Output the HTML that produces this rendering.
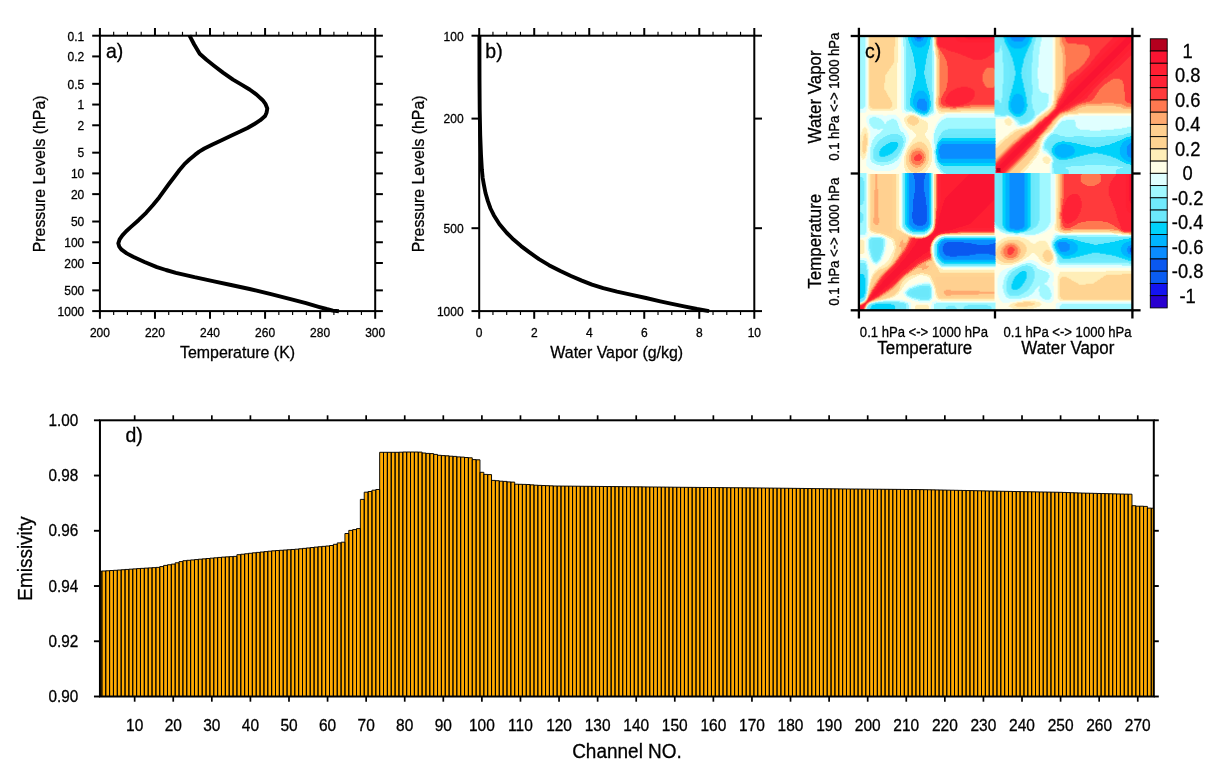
<!DOCTYPE html>
<html lang="en"><head><meta charset="utf-8"><title>Figure</title>
<style>html,body{margin:0;padding:0;background:#fff}svg{display:block}text{fill:#000;stroke:#000;stroke-width:0.28px}</style></head>
<body>
<svg width="1219" height="768" viewBox="0 0 1219 768" style="will-change:transform" font-family="'Liberation Sans', Arial, Helvetica, sans-serif">
<rect width="1219" height="768" fill="#fff"/>
<g id="pa">
<rect x="99.9" y="35.7" width="275.3" height="275.4" fill="none" stroke="#000" stroke-width="2"/>
<line x1="99.9" y1="35.7" x2="99.9" y2="28" stroke="#000" stroke-width="2"/>
<line x1="99.9" y1="311.1" x2="99.9" y2="318.8" stroke="#000" stroke-width="2"/>
<text transform="translate(99.9 337)" font-size="12" text-anchor="middle">200</text>
<line x1="113.67" y1="35.7" x2="113.67" y2="31.8" stroke="#000" stroke-width="1.15"/>
<line x1="113.67" y1="311.1" x2="113.67" y2="315" stroke="#000" stroke-width="1.15"/>
<line x1="127.43" y1="35.7" x2="127.43" y2="31.8" stroke="#000" stroke-width="1.15"/>
<line x1="127.43" y1="311.1" x2="127.43" y2="315" stroke="#000" stroke-width="1.15"/>
<line x1="141.19" y1="35.7" x2="141.19" y2="31.8" stroke="#000" stroke-width="1.15"/>
<line x1="141.19" y1="311.1" x2="141.19" y2="315" stroke="#000" stroke-width="1.15"/>
<line x1="154.96" y1="35.7" x2="154.96" y2="28" stroke="#000" stroke-width="2"/>
<line x1="154.96" y1="311.1" x2="154.96" y2="318.8" stroke="#000" stroke-width="2"/>
<text transform="translate(154.96 337)" font-size="12" text-anchor="middle">220</text>
<line x1="168.72" y1="35.7" x2="168.72" y2="31.8" stroke="#000" stroke-width="1.15"/>
<line x1="168.72" y1="311.1" x2="168.72" y2="315" stroke="#000" stroke-width="1.15"/>
<line x1="182.49" y1="35.7" x2="182.49" y2="31.8" stroke="#000" stroke-width="1.15"/>
<line x1="182.49" y1="311.1" x2="182.49" y2="315" stroke="#000" stroke-width="1.15"/>
<line x1="196.25" y1="35.7" x2="196.25" y2="31.8" stroke="#000" stroke-width="1.15"/>
<line x1="196.25" y1="311.1" x2="196.25" y2="315" stroke="#000" stroke-width="1.15"/>
<line x1="210.02" y1="35.7" x2="210.02" y2="28" stroke="#000" stroke-width="2"/>
<line x1="210.02" y1="311.1" x2="210.02" y2="318.8" stroke="#000" stroke-width="2"/>
<text transform="translate(210.02 337)" font-size="12" text-anchor="middle">240</text>
<line x1="223.78" y1="35.7" x2="223.78" y2="31.8" stroke="#000" stroke-width="1.15"/>
<line x1="223.78" y1="311.1" x2="223.78" y2="315" stroke="#000" stroke-width="1.15"/>
<line x1="237.55" y1="35.7" x2="237.55" y2="31.8" stroke="#000" stroke-width="1.15"/>
<line x1="237.55" y1="311.1" x2="237.55" y2="315" stroke="#000" stroke-width="1.15"/>
<line x1="251.31" y1="35.7" x2="251.31" y2="31.8" stroke="#000" stroke-width="1.15"/>
<line x1="251.31" y1="311.1" x2="251.31" y2="315" stroke="#000" stroke-width="1.15"/>
<line x1="265.08" y1="35.7" x2="265.08" y2="28" stroke="#000" stroke-width="2"/>
<line x1="265.08" y1="311.1" x2="265.08" y2="318.8" stroke="#000" stroke-width="2"/>
<text transform="translate(265.08 337)" font-size="12" text-anchor="middle">260</text>
<line x1="278.84" y1="35.7" x2="278.84" y2="31.8" stroke="#000" stroke-width="1.15"/>
<line x1="278.84" y1="311.1" x2="278.84" y2="315" stroke="#000" stroke-width="1.15"/>
<line x1="292.61" y1="35.7" x2="292.61" y2="31.8" stroke="#000" stroke-width="1.15"/>
<line x1="292.61" y1="311.1" x2="292.61" y2="315" stroke="#000" stroke-width="1.15"/>
<line x1="306.38" y1="35.7" x2="306.38" y2="31.8" stroke="#000" stroke-width="1.15"/>
<line x1="306.38" y1="311.1" x2="306.38" y2="315" stroke="#000" stroke-width="1.15"/>
<line x1="320.14" y1="35.7" x2="320.14" y2="28" stroke="#000" stroke-width="2"/>
<line x1="320.14" y1="311.1" x2="320.14" y2="318.8" stroke="#000" stroke-width="2"/>
<text transform="translate(320.14 337)" font-size="12" text-anchor="middle">280</text>
<line x1="333.9" y1="35.7" x2="333.9" y2="31.8" stroke="#000" stroke-width="1.15"/>
<line x1="333.9" y1="311.1" x2="333.9" y2="315" stroke="#000" stroke-width="1.15"/>
<line x1="347.67" y1="35.7" x2="347.67" y2="31.8" stroke="#000" stroke-width="1.15"/>
<line x1="347.67" y1="311.1" x2="347.67" y2="315" stroke="#000" stroke-width="1.15"/>
<line x1="361.43" y1="35.7" x2="361.43" y2="31.8" stroke="#000" stroke-width="1.15"/>
<line x1="361.43" y1="311.1" x2="361.43" y2="315" stroke="#000" stroke-width="1.15"/>
<line x1="375.2" y1="35.7" x2="375.2" y2="28" stroke="#000" stroke-width="2"/>
<line x1="375.2" y1="311.1" x2="375.2" y2="318.8" stroke="#000" stroke-width="2"/>
<text transform="translate(375.2 337)" font-size="12" text-anchor="middle">300</text>
<line x1="99.9" y1="35.7" x2="92.2" y2="35.7" stroke="#000" stroke-width="2"/>
<line x1="375.2" y1="35.7" x2="382.9" y2="35.7" stroke="#000" stroke-width="2"/>
<text transform="translate(84.3 40.5)" font-size="12" text-anchor="end">0.1</text>
<line x1="99.9" y1="56.43" x2="92.2" y2="56.43" stroke="#000" stroke-width="2"/>
<line x1="375.2" y1="56.43" x2="382.9" y2="56.43" stroke="#000" stroke-width="2"/>
<text transform="translate(84.3 61.23)" font-size="12" text-anchor="end">0.2</text>
<line x1="99.9" y1="83.82" x2="92.2" y2="83.82" stroke="#000" stroke-width="2"/>
<line x1="375.2" y1="83.82" x2="382.9" y2="83.82" stroke="#000" stroke-width="2"/>
<text transform="translate(84.3 88.62)" font-size="12" text-anchor="end">0.5</text>
<line x1="99.9" y1="104.55" x2="92.2" y2="104.55" stroke="#000" stroke-width="2"/>
<line x1="375.2" y1="104.55" x2="382.9" y2="104.55" stroke="#000" stroke-width="2"/>
<text transform="translate(84.3 109.35)" font-size="12" text-anchor="end">1</text>
<line x1="99.9" y1="125.28" x2="92.2" y2="125.28" stroke="#000" stroke-width="2"/>
<line x1="375.2" y1="125.28" x2="382.9" y2="125.28" stroke="#000" stroke-width="2"/>
<text transform="translate(84.3 130.08)" font-size="12" text-anchor="end">2</text>
<line x1="99.9" y1="152.67" x2="92.2" y2="152.67" stroke="#000" stroke-width="2"/>
<line x1="375.2" y1="152.67" x2="382.9" y2="152.67" stroke="#000" stroke-width="2"/>
<text transform="translate(84.3 157.47)" font-size="12" text-anchor="end">5</text>
<line x1="99.9" y1="173.4" x2="92.2" y2="173.4" stroke="#000" stroke-width="2"/>
<line x1="375.2" y1="173.4" x2="382.9" y2="173.4" stroke="#000" stroke-width="2"/>
<text transform="translate(84.3 178.2)" font-size="12" text-anchor="end">10</text>
<line x1="99.9" y1="194.13" x2="92.2" y2="194.13" stroke="#000" stroke-width="2"/>
<line x1="375.2" y1="194.13" x2="382.9" y2="194.13" stroke="#000" stroke-width="2"/>
<text transform="translate(84.3 198.93)" font-size="12" text-anchor="end">20</text>
<line x1="99.9" y1="221.52" x2="92.2" y2="221.52" stroke="#000" stroke-width="2"/>
<line x1="375.2" y1="221.52" x2="382.9" y2="221.52" stroke="#000" stroke-width="2"/>
<text transform="translate(84.3 226.32)" font-size="12" text-anchor="end">50</text>
<line x1="99.9" y1="242.25" x2="92.2" y2="242.25" stroke="#000" stroke-width="2"/>
<line x1="375.2" y1="242.25" x2="382.9" y2="242.25" stroke="#000" stroke-width="2"/>
<text transform="translate(84.3 247.05)" font-size="12" text-anchor="end">100</text>
<line x1="99.9" y1="262.98" x2="92.2" y2="262.98" stroke="#000" stroke-width="2"/>
<line x1="375.2" y1="262.98" x2="382.9" y2="262.98" stroke="#000" stroke-width="2"/>
<text transform="translate(84.3 267.78)" font-size="12" text-anchor="end">200</text>
<line x1="99.9" y1="290.37" x2="92.2" y2="290.37" stroke="#000" stroke-width="2"/>
<line x1="375.2" y1="290.37" x2="382.9" y2="290.37" stroke="#000" stroke-width="2"/>
<text transform="translate(84.3 295.17)" font-size="12" text-anchor="end">500</text>
<line x1="99.9" y1="311.1" x2="92.2" y2="311.1" stroke="#000" stroke-width="2"/>
<line x1="375.2" y1="311.1" x2="382.9" y2="311.1" stroke="#000" stroke-width="2"/>
<text transform="translate(84.3 315.9)" font-size="12" text-anchor="end">1000</text>
<text transform="translate(237.55 358)" font-size="15.95" text-anchor="middle">Temperature (K)</text>
<text transform="translate(44.6 173.9) rotate(-90)" font-size="15.85" text-anchor="middle">Pressure Levels (hPa)</text>
<text transform="translate(106 57.7) scale(1.06 1.14)" font-size="18.4">a)</text>
<polyline fill="none" stroke="#000" stroke-width="3.9" stroke-linejoin="round" points="189.4,35.4 194.2,44.5 199.7,53.8 206.5,59.8 214,65.7 223,72.6 233,79.6 241.5,84.6 249.6,89.5 256.6,94.6 262.7,100.2 265.6,104.2 267.3,108.5 266.6,112.4 265.1,116.1 260.3,120.2 254.4,124 247.5,128 240.1,131.6 230.5,136 221.1,140.4 212.5,144.4 204.4,148.5 199.2,151.6 194.9,154.9 189.4,159.5 184.2,164.4 179.5,170 175,176 168.7,184.3 159.2,197.4 153,205 146.1,212.8 138.5,220.2 130.7,227.1 126.2,231.2 122.4,235.4 119.6,239.4 118.3,243.3 119.2,246.6 121.6,249.7 126.7,253.4 133.1,256.8 144.5,262 156.9,267.1 166,270 175.9,272.8 194.5,277.2 214,281.3 231,285 249.6,289 271,294.2 292.5,299.7 306,303.2 318.6,306.8 326.5,309 332.9,310.6 338.9,311.2"/>
</g>
<g id="pb">
<rect x="479.2" y="35.7" width="275.1" height="275.4" fill="none" stroke="#000" stroke-width="2"/>
<line x1="479.2" y1="35.7" x2="479.2" y2="28" stroke="#000" stroke-width="2"/>
<line x1="479.2" y1="311.1" x2="479.2" y2="318.8" stroke="#000" stroke-width="2"/>
<text transform="translate(479.2 337)" font-size="12" text-anchor="middle">0</text>
<line x1="492.95" y1="35.7" x2="492.95" y2="31.8" stroke="#000" stroke-width="1.15"/>
<line x1="492.95" y1="311.1" x2="492.95" y2="315" stroke="#000" stroke-width="1.15"/>
<line x1="506.71" y1="35.7" x2="506.71" y2="31.8" stroke="#000" stroke-width="1.15"/>
<line x1="506.71" y1="311.1" x2="506.71" y2="315" stroke="#000" stroke-width="1.15"/>
<line x1="520.47" y1="35.7" x2="520.47" y2="31.8" stroke="#000" stroke-width="1.15"/>
<line x1="520.47" y1="311.1" x2="520.47" y2="315" stroke="#000" stroke-width="1.15"/>
<line x1="534.22" y1="35.7" x2="534.22" y2="28" stroke="#000" stroke-width="2"/>
<line x1="534.22" y1="311.1" x2="534.22" y2="318.8" stroke="#000" stroke-width="2"/>
<text transform="translate(534.22 337)" font-size="12" text-anchor="middle">2</text>
<line x1="547.98" y1="35.7" x2="547.98" y2="31.8" stroke="#000" stroke-width="1.15"/>
<line x1="547.98" y1="311.1" x2="547.98" y2="315" stroke="#000" stroke-width="1.15"/>
<line x1="561.73" y1="35.7" x2="561.73" y2="31.8" stroke="#000" stroke-width="1.15"/>
<line x1="561.73" y1="311.1" x2="561.73" y2="315" stroke="#000" stroke-width="1.15"/>
<line x1="575.49" y1="35.7" x2="575.49" y2="31.8" stroke="#000" stroke-width="1.15"/>
<line x1="575.49" y1="311.1" x2="575.49" y2="315" stroke="#000" stroke-width="1.15"/>
<line x1="589.24" y1="35.7" x2="589.24" y2="28" stroke="#000" stroke-width="2"/>
<line x1="589.24" y1="311.1" x2="589.24" y2="318.8" stroke="#000" stroke-width="2"/>
<text transform="translate(589.24 337)" font-size="12" text-anchor="middle">4</text>
<line x1="603" y1="35.7" x2="603" y2="31.8" stroke="#000" stroke-width="1.15"/>
<line x1="603" y1="311.1" x2="603" y2="315" stroke="#000" stroke-width="1.15"/>
<line x1="616.75" y1="35.7" x2="616.75" y2="31.8" stroke="#000" stroke-width="1.15"/>
<line x1="616.75" y1="311.1" x2="616.75" y2="315" stroke="#000" stroke-width="1.15"/>
<line x1="630.5" y1="35.7" x2="630.5" y2="31.8" stroke="#000" stroke-width="1.15"/>
<line x1="630.5" y1="311.1" x2="630.5" y2="315" stroke="#000" stroke-width="1.15"/>
<line x1="644.26" y1="35.7" x2="644.26" y2="28" stroke="#000" stroke-width="2"/>
<line x1="644.26" y1="311.1" x2="644.26" y2="318.8" stroke="#000" stroke-width="2"/>
<text transform="translate(644.26 337)" font-size="12" text-anchor="middle">6</text>
<line x1="658.01" y1="35.7" x2="658.01" y2="31.8" stroke="#000" stroke-width="1.15"/>
<line x1="658.01" y1="311.1" x2="658.01" y2="315" stroke="#000" stroke-width="1.15"/>
<line x1="671.77" y1="35.7" x2="671.77" y2="31.8" stroke="#000" stroke-width="1.15"/>
<line x1="671.77" y1="311.1" x2="671.77" y2="315" stroke="#000" stroke-width="1.15"/>
<line x1="685.52" y1="35.7" x2="685.52" y2="31.8" stroke="#000" stroke-width="1.15"/>
<line x1="685.52" y1="311.1" x2="685.52" y2="315" stroke="#000" stroke-width="1.15"/>
<line x1="699.28" y1="35.7" x2="699.28" y2="28" stroke="#000" stroke-width="2"/>
<line x1="699.28" y1="311.1" x2="699.28" y2="318.8" stroke="#000" stroke-width="2"/>
<text transform="translate(699.28 337)" font-size="12" text-anchor="middle">8</text>
<line x1="713.03" y1="35.7" x2="713.03" y2="31.8" stroke="#000" stroke-width="1.15"/>
<line x1="713.03" y1="311.1" x2="713.03" y2="315" stroke="#000" stroke-width="1.15"/>
<line x1="726.79" y1="35.7" x2="726.79" y2="31.8" stroke="#000" stroke-width="1.15"/>
<line x1="726.79" y1="311.1" x2="726.79" y2="315" stroke="#000" stroke-width="1.15"/>
<line x1="740.54" y1="35.7" x2="740.54" y2="31.8" stroke="#000" stroke-width="1.15"/>
<line x1="740.54" y1="311.1" x2="740.54" y2="315" stroke="#000" stroke-width="1.15"/>
<line x1="754.3" y1="35.7" x2="754.3" y2="28" stroke="#000" stroke-width="2"/>
<line x1="754.3" y1="311.1" x2="754.3" y2="318.8" stroke="#000" stroke-width="2"/>
<text transform="translate(754.3 337)" font-size="12" text-anchor="middle">10</text>
<line x1="479.2" y1="35.7" x2="471.5" y2="35.7" stroke="#000" stroke-width="2"/>
<line x1="754.3" y1="35.7" x2="762" y2="35.7" stroke="#000" stroke-width="2"/>
<text transform="translate(463.6 40.5)" font-size="12" text-anchor="end">100</text>
<line x1="479.2" y1="118.6" x2="471.5" y2="118.6" stroke="#000" stroke-width="2"/>
<line x1="754.3" y1="118.6" x2="762" y2="118.6" stroke="#000" stroke-width="2"/>
<text transform="translate(463.6 123.4)" font-size="12" text-anchor="end">200</text>
<line x1="479.2" y1="228.2" x2="471.5" y2="228.2" stroke="#000" stroke-width="2"/>
<line x1="754.3" y1="228.2" x2="762" y2="228.2" stroke="#000" stroke-width="2"/>
<text transform="translate(463.6 233)" font-size="12" text-anchor="end">500</text>
<line x1="479.2" y1="311.1" x2="471.5" y2="311.1" stroke="#000" stroke-width="2"/>
<line x1="754.3" y1="311.1" x2="762" y2="311.1" stroke="#000" stroke-width="2"/>
<text transform="translate(463.6 315.9)" font-size="12" text-anchor="end">1000</text>
<text transform="translate(616.75 358)" font-size="15.95" text-anchor="middle">Water Vapor (g/kg)</text>
<text transform="translate(424.1 173.9) rotate(-90)" font-size="15.85" text-anchor="middle">Pressure Levels (hPa)</text>
<text transform="translate(485.3 57.7) scale(1.06 1.14)" font-size="18.4">b)</text>
<polyline fill="none" stroke="#000" stroke-width="3.9" stroke-linejoin="round" points="479.4,35.4 479.5,80 479.7,110 480.2,135 481,155 481.9,170 482.7,178 483.8,184.3 485.5,193 487.8,200.9 490.5,208.5 493.8,215.2 499.5,224.2 506.9,233 513.5,239.6 521.1,246.1 529.5,252.4 539,259.2 549,265.2 560.4,271.1 571,276 581.8,280.6 592,284.6 603.2,288.2 617,291.7 631.8,294.9 646,298 660.3,301.3 672,303.8 684.1,306.3 697,309 709.1,311.2"/>
</g>
<g id="pc">
<g fill="none" stroke-width="1.90">
<path stroke="#b4001e" d="M995.5 172.0h6.0M995.5 171.0h6.0M995.5 170.0h6.0M995.5 169.0h6.0M995.5 168.0h6.0"/>
<path stroke="#fa1432" d="M858.4 309.8h4.0M858.4 308.8h5.0M858.4 307.8h5.0M859.4 306.8h5.0M861.4 305.8h4.0M862.4 304.8h3.0M864.4 303.8h2.0M867.3 300.8h2.0M868.3 299.8h3.0M868.3 298.8h4.0M869.3 297.8h5.0M870.3 296.8h5.0M870.3 295.8h7.0M871.3 294.8h7.0M872.3 293.8h7.0M872.3 292.8h8.0M873.3 291.8h8.9M874.3 290.8h8.9M875.3 289.8h8.9M876.3 288.8h8.9M876.3 287.8h9.9M877.3 286.8h10.9M878.3 285.8h10.9M879.3 284.8h10.9M880.3 283.8h10.9M881.2 282.8h10.9M881.2 281.8h11.9M882.2 280.8h11.9M883.2 279.8h11.9M884.2 278.8h11.9M885.2 277.8h11.9M886.2 276.8h11.9M887.2 275.9h11.9M888.2 274.9h11.9M889.2 273.9h11.9M890.2 272.9h11.9M891.2 271.9h11.9M892.2 270.9h11.9M893.2 269.9h11.9M894.2 268.9h12.9M895.2 267.9h12.9M896.2 266.9h12.9M897.1 265.9h12.9M898.1 264.9h12.9M899.1 263.9h12.9M899.1 262.9h14.9M900.1 261.9h14.9M901.1 260.9h14.9M902.1 259.9h14.9M903.1 258.9h15.9M904.1 257.9h15.9M905.1 256.9h16.9M905.1 255.9h17.9M906.1 254.9h17.9M907.1 253.9h18.9M908.1 252.9h19.9M909.1 251.9h19.9M909.1 250.9h21.9M910.1 249.9h20.9M911.1 248.9h19.9M911.1 247.9h19.9M912.0 246.9h18.9M913.0 245.9h17.9M914.0 244.9h17.9M914.0 243.9h17.9M915.0 242.9h16.9M915.0 241.9h17.9M916.0 240.9h16.9M917.0 239.9h16.9M917.0 238.9h16.9M923.0 237.9h11.9M926.0 236.9h8.9M927.9 235.9h8.0M929.9 234.9h7.0M931.9 233.9h7.0M932.9 232.9h8.0M933.9 231.9h10.9M933.9 230.9h15.9M934.9 229.9h18.9M934.9 228.9h21.9M935.9 227.9h23.8M935.9 226.9h27.8M935.9 225.9h30.8M935.9 224.9h33.8M936.9 223.9h34.8M936.9 222.9h35.8M936.9 221.9h36.8M936.9 220.9h37.8M936.9 219.9h38.8M937.9 218.9h38.8M937.9 217.9h39.7M937.9 216.9h40.7M937.9 215.9h41.7M938.9 214.9h41.7M938.9 213.9h42.7M938.9 212.9h43.7M939.9 211.9h43.7M939.9 210.9h44.7M939.9 209.9h45.7M940.9 208.9h45.7M940.9 207.9h46.7M940.9 207.0h47.7M940.9 206.0h48.7M941.8 205.0h48.7M941.8 204.0h49.7M1129.9 204.0h3.0M941.8 203.0h50.7M1128.9 203.0h4.0M942.8 202.0h50.7M1128.9 202.0h4.0M942.8 201.0h51.7M1127.9 201.0h5.0M942.8 200.0h52.7M1127.9 200.0h5.0M943.8 199.0h51.7M1127.9 199.0h5.0M943.8 198.0h51.7M1127.9 198.0h5.0M944.8 197.0h50.7M1127.9 197.0h5.0M945.8 196.0h49.7M1127.9 196.0h5.0M946.8 195.0h48.7M1127.9 195.0h5.0M947.8 194.0h47.7M1127.9 194.0h5.0M948.8 193.0h46.7M1127.9 193.0h5.0M949.8 192.0h45.7M1127.9 192.0h5.0M950.8 191.0h44.7M1127.9 191.0h5.0M951.8 190.0h43.7M1127.9 190.0h5.0M952.8 189.0h42.7M1127.9 189.0h5.0M953.8 188.0h41.7M1127.9 188.0h5.0M954.8 187.0h40.7M1127.9 187.0h5.0M955.8 186.0h39.7M1127.9 186.0h5.0M956.7 185.0h38.8M1127.9 185.0h5.0M957.7 184.0h37.8M1127.9 184.0h5.0M958.7 183.0h36.8M1127.9 183.0h5.0M959.7 182.0h35.8M1127.9 182.0h5.0M960.7 181.0h34.8M1127.9 181.0h5.0M961.7 180.0h33.8M1127.9 180.0h5.0M962.7 179.0h32.8M1127.9 179.0h5.0M963.7 178.0h31.8M1127.9 178.0h5.0M964.7 177.0h30.8M1127.9 177.0h5.0M965.7 176.0h29.8M1127.9 176.0h5.0M966.7 175.0h28.8M1127.9 175.0h5.0M967.7 174.0h27.8M1127.9 174.0h5.0M994.5 173.0h8.0M994.5 172.0h2.0M1000.5 172.0h2.0M994.5 171.0h2.0M1000.5 171.0h2.0M994.5 170.0h2.0M1000.5 170.0h3.0M994.5 169.0h2.0M1000.5 169.0h4.0M994.5 168.0h2.0M1000.5 168.0h5.0M995.5 167.0h11.0M997.5 166.0h10.0M998.5 165.0h10.0M999.5 164.0h10.0M1000.5 163.0h10.0M1001.5 162.0h10.0M1002.5 161.0h10.0M1003.5 160.0h10.0M1004.5 158.9h10.0M1005.5 157.9h10.0M1006.5 156.9h10.0M1007.5 155.9h10.0M1008.5 154.9h10.0M1009.5 153.9h10.0M1010.5 152.9h10.0M1011.5 151.9h10.0M1012.6 150.9h10.0M1013.6 149.9h10.0M1014.6 148.9h10.0M1015.6 147.9h10.0M1016.6 146.9h10.0M1017.6 145.9h10.0M1018.6 144.9h10.0M1019.6 143.9h10.0M1020.6 142.9h10.0M1021.6 141.9h10.0M1022.6 140.9h10.0M1023.6 139.9h9.0M1024.6 138.9h9.0M1025.6 137.9h9.0M1026.6 136.9h9.0M1028.6 135.9h8.0M1029.6 134.9h8.0M1030.6 133.9h8.0M1031.6 132.9h8.0M1032.6 131.8h8.0M1033.6 130.8h8.0M1034.6 129.8h8.0M1035.6 128.8h8.0M1036.6 127.8h8.0M1037.6 126.8h7.0M1038.6 125.8h7.0M1039.6 124.8h7.0M1041.6 123.8h6.0M1042.6 122.8h6.0M1043.6 121.8h6.0M1044.6 120.8h6.0M1045.6 119.8h6.0M1046.7 118.8h6.0M1047.7 117.8h6.0M1048.7 116.8h6.0M1049.7 115.8h5.0M1050.7 114.8h5.0M1052.7 113.8h5.0M1053.7 112.8h5.0M1053.7 111.8h6.0M1054.7 110.8h6.0M1055.7 109.8h6.0M1056.7 108.8h7.0M1057.7 107.8h7.0M1058.7 106.8h7.0M1058.7 105.8h8.0M1059.7 104.8h9.0M1060.7 103.7h9.0M1061.7 102.7h9.0M1062.7 101.7h10.0M1062.7 100.7h11.0M1063.7 99.7h11.0M1064.7 98.7h11.0M1065.7 97.7h11.0M1065.7 96.7h12.0M1066.7 95.7h12.0M1067.7 94.7h12.0M1068.7 93.7h12.0M1069.7 92.7h12.0M1070.7 91.7h12.0M1071.7 90.7h12.0M1072.7 89.7h12.0M1073.7 88.7h12.0M1074.7 87.7h12.0M1075.7 86.7h12.0M1076.7 85.7h12.0M1077.7 84.7h12.0M1078.7 83.7h12.0M1079.7 82.7h12.0M1080.8 81.7h12.0M1081.8 80.7h12.0M1082.8 79.7h12.0M1083.8 78.7h12.0M1084.8 77.7h12.0M1085.8 76.6h12.0M1086.8 75.6h12.0M1087.8 74.6h12.0M1088.8 73.6h12.0M1089.8 72.6h12.0M1090.8 71.6h12.0M1091.8 70.6h12.0M1092.8 69.6h12.0M1093.8 68.6h12.0M1094.8 67.6h12.0M1095.8 66.6h12.0M1096.8 65.6h12.0M1097.8 64.6h12.0M1098.8 63.6h12.0M1099.8 62.6h12.0M1100.8 61.6h12.0M1101.8 60.6h12.0M1102.8 59.6h12.0M1103.8 58.6h12.0M1104.8 57.6h12.0M1105.8 56.6h12.0M1106.8 55.6h12.0M1107.8 54.6h12.0M1108.8 53.6h12.0M1109.8 52.6h12.0M1110.8 51.6h12.0M1111.8 50.6h12.0M1112.8 49.5h12.0M1113.8 48.5h12.0M1114.9 47.5h12.0M1115.9 46.5h12.0M1116.9 45.5h12.0M1117.9 44.5h12.0M1118.9 43.5h12.0M1119.9 42.5h12.0M1120.9 41.5h12.0M1121.9 40.5h11.0M966.7 39.5h28.8M1122.9 39.5h10.0M964.7 38.5h30.8M1123.9 38.5h9.0M963.7 37.5h31.8M1124.9 37.5h8.0M963.7 36.5h31.8M1125.9 36.5h7.0"/>
<path stroke="#ff1e32" d="M861.4 309.8h2.0M862.4 308.8h2.0M862.4 307.8h2.0M858.4 306.8h2.0M863.4 306.8h2.0M859.4 305.8h3.0M864.4 305.8h2.0M861.4 304.8h2.0M864.4 304.8h2.0M862.4 303.8h3.0M865.4 303.8h2.0M864.4 302.8h4.0M865.4 301.8h4.0M866.3 300.8h2.0M868.3 300.8h3.0M867.3 299.8h2.0M870.3 299.8h2.0M867.3 298.8h2.0M871.3 298.8h3.0M868.3 297.8h2.0M873.3 297.8h3.0M869.3 296.8h2.0M874.3 296.8h3.0M869.3 295.8h2.0M876.3 295.8h3.0M870.3 294.8h2.0M877.3 294.8h3.0M870.3 293.8h3.0M878.3 293.8h3.0M871.3 292.8h2.0M879.3 292.8h4.0M872.3 291.8h2.0M881.2 291.8h3.0M872.3 290.8h3.0M882.2 290.8h3.0M873.3 289.8h3.0M883.2 289.8h3.0M874.3 288.8h3.0M884.2 288.8h4.0M875.3 287.8h2.0M885.2 287.8h4.0M875.3 286.8h3.0M887.2 286.8h3.0M876.3 285.8h3.0M888.2 285.8h3.0M877.3 284.8h3.0M889.2 284.8h3.0M878.3 283.8h3.0M890.2 283.8h4.0M879.3 282.8h3.0M891.2 282.8h4.0M879.3 281.8h3.0M892.2 281.8h4.0M880.3 280.8h3.0M893.2 280.8h4.0M881.2 279.8h3.0M894.2 279.8h4.0M882.2 278.8h3.0M895.2 278.8h4.0M883.2 277.8h3.0M896.2 277.8h4.0M884.2 276.8h3.0M897.1 276.8h4.0M884.2 275.9h4.0M898.1 275.9h4.0M885.2 274.9h4.0M899.1 274.9h4.0M886.2 273.9h4.0M900.1 273.9h4.0M887.2 272.9h4.0M901.1 272.9h4.0M888.2 271.9h4.0M902.1 271.9h4.0M889.2 270.9h4.0M903.1 270.9h4.0M890.2 269.9h4.0M904.1 269.9h4.0M891.2 268.9h4.0M906.1 268.9h4.0M892.2 267.9h4.0M907.1 267.9h4.0M893.2 266.9h4.0M908.1 266.9h4.0M894.2 265.9h4.0M909.1 265.9h4.0M895.2 264.9h4.0M910.1 264.9h5.0M896.2 263.9h4.0M911.1 263.9h5.0M897.1 262.9h3.0M913.0 262.9h4.0M898.1 261.9h3.0M914.0 261.9h4.0M899.1 260.9h3.0M915.0 260.9h5.0M899.1 259.9h4.0M916.0 259.9h5.0M900.1 258.9h4.0M918.0 258.9h5.0M901.1 257.9h4.0M919.0 257.9h6.0M902.1 256.9h4.0M921.0 256.9h5.0M903.1 255.9h3.0M922.0 255.9h6.0M903.1 254.9h4.0M923.0 254.9h7.0M904.1 253.9h4.0M925.0 253.9h6.0M905.1 252.9h4.0M926.9 252.9h4.0M906.1 251.9h4.0M927.9 251.9h3.0M907.1 250.9h3.0M907.1 249.9h4.0M908.1 248.9h4.0M909.1 247.9h3.0M909.1 246.9h4.0M910.1 245.9h4.0M929.9 245.9h2.0M910.1 244.9h5.0M911.1 243.9h4.0M912.0 242.9h4.0M912.0 241.9h4.0M913.0 240.9h4.0M913.0 239.9h5.0M914.0 238.9h4.0M932.9 238.9h2.0M922.0 237.9h2.0M933.9 236.9h2.0M934.9 235.9h2.0M928.9 234.9h2.0M935.9 234.9h3.0M930.9 233.9h2.0M937.9 233.9h3.0M931.9 232.9h2.0M939.9 232.9h5.0M932.9 231.9h2.0M943.8 231.9h8.0M932.9 230.9h2.0M948.8 230.9h8.0M933.9 229.9h2.0M952.8 229.9h10.9M933.9 228.9h2.0M955.8 228.9h11.9M934.9 227.9h2.0M958.7 227.9h36.8M934.9 226.9h2.0M962.7 226.9h32.8M934.9 225.9h2.0M965.7 225.9h29.8M934.9 224.9h2.0M968.7 224.9h26.8M935.9 223.9h2.0M970.7 223.9h24.8M935.9 222.9h2.0M971.7 222.9h23.8M935.9 221.9h2.0M972.6 221.9h22.9M935.9 220.9h2.0M973.6 220.9h21.9M935.9 219.9h2.0M974.6 219.9h20.9M935.9 218.9h3.0M975.6 218.9h19.9M935.9 217.9h3.0M976.6 217.9h18.9M936.9 216.9h2.0M977.6 216.9h17.9M936.9 215.9h2.0M978.6 215.9h16.9M936.9 214.9h3.0M979.6 214.9h15.9M936.9 213.9h3.0M980.6 213.9h14.9M1129.9 213.9h3.0M936.9 212.9h3.0M981.6 212.9h13.9M1127.9 212.9h5.0M937.9 211.9h3.0M982.6 211.9h12.9M1126.9 211.9h6.0M937.9 210.9h3.0M983.6 210.9h11.9M1125.9 210.9h7.0M937.9 209.9h3.0M984.6 209.9h10.9M1125.9 209.9h7.0M937.9 208.9h4.0M985.6 208.9h9.9M1125.9 208.9h7.0M937.9 207.9h4.0M986.6 207.9h8.9M1124.9 207.9h8.0M937.9 207.0h4.0M987.5 207.0h8.0M1124.9 207.0h8.0M937.9 206.0h4.0M988.5 206.0h7.0M1124.9 206.0h8.0M938.9 205.0h4.0M989.5 205.0h6.0M1124.9 205.0h8.0M938.9 204.0h4.0M990.5 204.0h5.0M1124.9 204.0h6.0M938.9 203.0h4.0M991.5 203.0h4.0M1124.9 203.0h5.0M938.9 202.0h5.0M992.5 202.0h3.0M1124.9 202.0h5.0M939.9 201.0h4.0M993.5 201.0h2.0M1124.9 201.0h4.0M939.9 200.0h4.0M1124.9 200.0h4.0M939.9 199.0h5.0M1124.9 199.0h4.0M939.9 198.0h5.0M1124.9 198.0h4.0M939.9 197.0h6.0M1124.9 197.0h4.0M939.9 196.0h7.0M1124.9 196.0h4.0M939.9 195.0h8.0M1124.9 195.0h4.0M939.9 194.0h8.9M1124.9 194.0h4.0M939.9 193.0h9.9M1124.9 193.0h4.0M939.9 192.0h10.9M1124.9 192.0h4.0M939.9 191.0h11.9M1124.9 191.0h4.0M939.9 190.0h12.9M1124.9 190.0h4.0M939.9 189.0h13.9M1124.9 189.0h4.0M939.9 188.0h14.9M1124.9 188.0h4.0M939.9 187.0h15.9M1124.9 187.0h4.0M939.9 186.0h16.9M1124.9 186.0h4.0M939.9 185.0h17.9M1124.9 185.0h4.0M939.9 184.0h18.9M1124.9 184.0h4.0M939.9 183.0h19.9M1124.9 183.0h4.0M939.9 182.0h20.9M1124.9 182.0h4.0M939.9 181.0h21.9M1124.9 181.0h4.0M939.9 180.0h22.9M1124.9 180.0h4.0M939.9 179.0h23.8M1124.9 179.0h4.0M939.9 178.0h24.8M1124.9 178.0h4.0M939.9 177.0h25.8M1124.9 177.0h4.0M939.9 176.0h26.8M1124.9 176.0h4.0M939.9 175.0h27.8M1124.9 175.0h4.0M939.9 174.0h28.8M1124.9 174.0h4.0M1001.5 173.0h2.0M1001.5 172.0h2.0M1001.5 171.0h3.0M1002.5 170.0h3.0M1003.5 169.0h3.0M1004.5 168.0h3.0M994.5 167.0h2.0M1005.5 167.0h3.0M994.5 166.0h4.0M1006.5 166.0h3.0M996.5 165.0h3.0M1007.5 165.0h3.0M997.5 164.0h3.0M1008.5 164.0h3.0M998.5 163.0h3.0M1009.5 163.0h3.0M999.5 162.0h3.0M1010.5 162.0h3.0M1000.5 161.0h3.0M1011.5 161.0h3.0M1001.5 160.0h3.0M1012.6 160.0h3.0M1002.5 158.9h3.0M1013.6 158.9h3.0M1003.5 157.9h3.0M1014.6 157.9h3.0M1004.5 156.9h3.0M1015.6 156.9h3.0M1005.5 155.9h3.0M1016.6 155.9h3.0M1006.5 154.9h3.0M1017.6 154.9h3.0M1007.5 153.9h3.0M1018.6 153.9h3.0M1008.5 152.9h3.0M1019.6 152.9h3.0M1009.5 151.9h3.0M1020.6 151.9h3.0M1010.5 150.9h3.0M1021.6 150.9h3.0M1011.5 149.9h3.0M1022.6 149.9h3.0M1012.6 148.9h3.0M1023.6 148.9h3.0M1013.6 147.9h3.0M1024.6 147.9h3.0M1014.6 146.9h3.0M1025.6 146.9h3.0M1015.6 145.9h3.0M1026.6 145.9h3.0M1016.6 144.9h3.0M1027.6 144.9h3.0M1017.6 143.9h3.0M1028.6 143.9h3.0M1018.6 142.9h3.0M1029.6 142.9h3.0M1019.6 141.9h3.0M1030.6 141.9h3.0M1020.6 140.9h3.0M1031.6 140.9h3.0M1021.6 139.9h3.0M1031.6 139.9h3.0M1022.6 138.9h3.0M1032.6 138.9h3.0M1023.6 137.9h3.0M1033.6 137.9h3.0M1024.6 136.9h3.0M1034.6 136.9h3.0M1025.6 135.9h4.0M1035.6 135.9h3.0M1026.6 134.9h4.0M1036.6 134.9h3.0M1028.6 133.9h3.0M1037.6 133.9h3.0M1029.6 132.9h3.0M1038.6 132.9h3.0M1030.6 131.8h3.0M1039.6 131.8h3.0M1031.6 130.8h3.0M1040.6 130.8h2.0M1032.6 129.8h3.0M1041.6 129.8h2.0M1033.6 128.8h3.0M1042.6 128.8h2.0M1034.6 127.8h3.0M1043.6 127.8h2.0M1035.6 126.8h3.0M1043.6 126.8h3.0M1037.6 125.8h2.0M1044.6 125.8h3.0M1038.6 124.8h2.0M1045.6 124.8h3.0M1039.6 123.8h3.0M1046.7 123.8h3.0M1040.6 122.8h3.0M1047.7 122.8h3.0M1041.6 121.8h3.0M1048.7 121.8h3.0M1042.6 120.8h3.0M1049.7 120.8h2.0M1043.6 119.8h3.0M1050.7 119.8h2.0M1044.6 118.8h3.0M1051.7 118.8h2.0M1045.6 117.8h3.0M1052.7 117.8h2.0M1047.7 116.8h2.0M1053.7 116.8h2.0M1048.7 115.8h2.0M1053.7 115.8h3.0M1049.7 114.8h2.0M1054.7 114.8h3.0M1050.7 113.8h3.0M1056.7 113.8h2.0M1051.7 112.8h3.0M1057.7 112.8h2.0M1052.7 111.8h2.0M1058.7 111.8h2.0M1053.7 110.8h2.0M1059.7 110.8h3.0M1054.7 109.8h2.0M1060.7 109.8h4.0M1055.7 108.8h2.0M1062.7 108.8h3.0M1056.7 107.8h2.0M1063.7 107.8h4.0M1056.7 106.8h3.0M1064.7 106.8h4.0M1057.7 105.8h2.0M1065.7 105.8h4.0M1057.7 104.8h3.0M1067.7 104.8h4.0M1058.7 103.7h3.0M1068.7 103.7h5.0M1059.7 102.7h3.0M1069.7 102.7h6.0M1059.7 101.7h4.0M1071.7 101.7h5.0M1060.7 100.7h3.0M1072.7 100.7h6.0M1061.7 99.7h3.0M1073.7 99.7h6.0M1062.7 98.7h3.0M1074.7 98.7h7.0M1062.7 97.7h4.0M1075.7 97.7h7.0M1063.7 96.7h3.0M1076.7 96.7h7.0M1063.7 95.7h4.0M1077.7 95.7h7.0M1064.7 94.7h4.0M1078.7 94.7h7.0M1064.7 93.7h5.0M1079.7 93.7h7.0M1065.7 92.7h5.0M1080.8 92.7h7.0M1066.7 91.7h5.0M1081.8 91.7h7.0M1066.7 90.7h6.0M1082.8 90.7h7.0M1067.7 89.7h6.0M1083.8 89.7h7.0M1068.7 88.7h6.0M1084.8 88.7h6.0M1068.7 87.7h7.0M1085.8 87.7h6.0M1069.7 86.7h7.0M1086.8 86.7h6.0M1070.7 85.7h7.0M1087.8 85.7h6.0M1071.7 84.7h7.0M1088.8 84.7h6.0M1072.7 83.7h7.0M1089.8 83.7h6.0M1073.7 82.7h7.0M1090.8 82.7h6.0M1074.7 81.7h7.0M1091.8 81.7h6.0M1075.7 80.7h7.0M1092.8 80.7h6.0M1076.7 79.7h7.0M1093.8 79.7h6.0M1077.7 78.7h7.0M1094.8 78.7h6.0M1079.7 77.7h6.0M1095.8 77.7h6.0M1080.8 76.6h6.0M1096.8 76.6h6.0M1081.8 75.6h6.0M1097.8 75.6h6.0M1082.8 74.6h6.0M1098.8 74.6h6.0M1083.8 73.6h6.0M1099.8 73.6h7.0M1084.8 72.6h6.0M1100.8 72.6h7.0M1085.8 71.6h6.0M1101.8 71.6h7.0M1086.8 70.6h6.0M1102.8 70.6h7.0M1087.8 69.6h6.0M1103.8 69.6h7.0M1088.8 68.6h6.0M1104.8 68.6h7.0M1089.8 67.6h6.0M1105.8 67.6h7.0M1090.8 66.6h6.0M1106.8 66.6h7.0M1091.8 65.6h6.0M1107.8 65.6h7.0M1092.8 64.6h6.0M1108.8 64.6h7.0M1093.8 63.6h6.0M1109.8 63.6h7.0M1093.8 62.6h7.0M1110.8 62.6h7.0M1094.8 61.6h7.0M1111.8 61.6h7.0M1095.8 60.6h7.0M1112.8 60.6h7.0M1096.8 59.6h7.0M1113.8 59.6h7.0M1097.8 58.6h7.0M1114.9 58.6h7.0M1098.8 57.6h7.0M1115.9 57.6h7.0M1099.8 56.6h7.0M1116.9 56.6h7.0M1100.8 55.6h7.0M1117.9 55.6h7.0M1101.8 54.6h7.0M1118.9 54.6h7.0M1102.8 53.6h7.0M1119.9 53.6h7.0M1103.8 52.6h7.0M1120.9 52.6h7.0M1104.8 51.6h7.0M1121.9 51.6h7.0M1105.8 50.6h7.0M1122.9 50.6h7.0M1106.8 49.5h7.0M1123.9 49.5h7.0M1107.8 48.5h7.0M1124.9 48.5h7.0M1108.8 47.5h7.0M1125.9 47.5h7.0M1109.8 46.5h7.0M1126.9 46.5h6.0M1110.8 45.5h7.0M1127.9 45.5h5.0M1111.8 44.5h7.0M1128.9 44.5h4.0M1112.8 43.5h7.0M1129.9 43.5h3.0M959.7 42.5h35.8M1113.8 42.5h7.0M1130.9 42.5h2.0M956.7 41.5h38.8M1114.9 41.5h7.0M955.8 40.5h39.7M1115.9 40.5h7.0M954.8 39.5h12.9M1116.9 39.5h7.0M954.8 38.5h10.9M1117.9 38.5h7.0M953.8 37.5h10.9M1118.9 37.5h7.0M953.8 36.5h10.9M1119.9 36.5h7.0"/>
<path stroke="#ff2236" d="M862.4 309.8h2.0M863.4 307.8h2.0M858.4 305.8h2.0M860.4 304.8h2.0M865.4 304.8h2.0M863.4 302.8h2.0M867.3 302.8h2.0M868.3 301.8h2.0M865.4 300.8h2.0M870.3 300.8h2.0M866.3 299.8h2.0M871.3 299.8h2.0M873.3 298.8h2.0M867.3 297.8h2.0M875.3 297.8h2.0M868.3 296.8h2.0M876.3 296.8h3.0M878.3 295.8h2.0M869.3 294.8h2.0M879.3 294.8h2.0M880.3 293.8h3.0M870.3 292.8h2.0M882.2 292.8h2.0M871.3 291.8h2.0M883.2 291.8h3.0M871.3 290.8h2.0M884.2 290.8h3.0M872.3 289.8h2.0M885.2 289.8h3.0M873.3 288.8h2.0M887.2 288.8h3.0M874.3 287.8h2.0M888.2 287.8h3.0M874.3 286.8h2.0M889.2 286.8h3.0M875.3 285.8h2.0M890.2 285.8h3.0M876.3 284.8h2.0M891.2 284.8h3.0M876.3 283.8h3.0M893.2 283.8h3.0M877.3 282.8h3.0M894.2 282.8h3.0M878.3 281.8h2.0M895.2 281.8h3.0M879.3 280.8h2.0M896.2 280.8h3.0M879.3 279.8h3.0M897.1 279.8h2.0M880.3 278.8h3.0M898.1 278.8h2.0M881.2 277.8h3.0M899.1 277.8h2.0M882.2 276.8h3.0M900.1 276.8h2.0M883.2 275.9h2.0M901.1 275.9h2.0M884.2 274.9h2.0M902.1 274.9h2.0M884.2 273.9h3.0M903.1 273.9h3.0M885.2 272.9h3.0M904.1 272.9h3.0M886.2 271.9h3.0M905.1 271.9h3.0M887.2 270.9h3.0M906.1 270.9h3.0M889.2 269.9h2.0M907.1 269.9h3.0M890.2 268.9h2.0M909.1 268.9h3.0M891.2 267.9h2.0M910.1 267.9h3.0M892.2 266.9h2.0M911.1 266.9h4.0M893.2 265.9h2.0M912.0 265.9h4.0M894.2 264.9h2.0M914.0 264.9h3.0M894.2 263.9h3.0M915.0 263.9h3.0M895.2 262.9h3.0M916.0 262.9h4.0M896.2 261.9h3.0M917.0 261.9h4.0M897.1 260.9h3.0M919.0 260.9h4.0M898.1 259.9h2.0M920.0 259.9h5.0M899.1 258.9h2.0M922.0 258.9h5.0M899.1 257.9h3.0M924.0 257.9h5.0M900.1 256.9h3.0M925.0 256.9h6.0M901.1 255.9h3.0M926.9 255.9h5.0M901.1 254.9h3.0M928.9 254.9h3.0M902.1 253.9h3.0M929.9 253.9h2.0M903.1 252.9h3.0M904.1 251.9h3.0M905.1 250.9h3.0M905.1 249.9h3.0M906.1 248.9h3.0M907.1 247.9h3.0M907.1 246.9h3.0M908.1 245.9h3.0M908.1 244.9h3.0M909.1 243.9h3.0M909.1 242.9h4.0M930.9 242.9h2.0M910.1 241.9h3.0M910.1 240.9h4.0M931.9 240.9h2.0M911.1 239.9h3.0M911.1 238.9h4.0M912.0 237.9h4.0M933.9 237.9h2.0M925.0 236.9h2.0M934.9 236.9h2.0M926.9 235.9h2.0M935.9 235.9h2.0M937.9 234.9h2.0M929.9 233.9h2.0M939.9 233.9h2.0M930.9 232.9h2.0M943.8 232.9h7.0M931.9 231.9h2.0M950.8 231.9h9.9M955.8 230.9h39.7M1122.9 230.9h10.0M932.9 229.9h2.0M962.7 229.9h32.8M1120.9 229.9h12.0M966.7 228.9h28.8M1119.9 228.9h13.0M933.9 227.9h2.0M1119.9 227.9h13.0M1119.9 226.9h13.0M1118.9 225.9h14.0M1118.9 224.9h14.0M934.9 223.9h2.0M1065.7 223.9h4.0M1118.9 223.9h14.0M934.9 222.9h2.0M1063.7 222.9h9.0M1117.9 222.9h15.0M934.9 221.9h2.0M1063.7 221.9h10.0M1117.9 221.9h15.0M934.9 220.9h2.0M1062.7 220.9h13.0M1116.9 220.9h16.0M934.9 219.9h2.0M1062.7 219.9h14.0M1116.9 219.9h16.0M934.9 218.9h2.0M1061.7 218.9h16.0M1116.9 218.9h16.0M1061.7 217.9h17.0M1115.9 217.9h17.0M935.9 216.9h2.0M1061.7 216.9h17.0M1115.9 216.9h17.0M935.9 215.9h2.0M1061.7 215.9h18.0M1115.9 215.9h17.0M935.9 214.9h2.0M1061.7 214.9h18.0M1115.9 214.9h17.0M935.9 213.9h2.0M1061.7 213.9h19.1M1114.9 213.9h16.0M935.9 212.9h2.0M1061.7 212.9h19.1M1114.9 212.9h14.0M935.9 211.9h3.0M1061.7 211.9h20.1M1114.9 211.9h13.0M935.9 210.9h3.0M1061.7 210.9h20.1M1113.8 210.9h13.0M935.9 209.9h3.0M1061.7 209.9h20.1M1113.8 209.9h13.0M935.9 208.9h3.0M1061.7 208.9h20.1M1113.8 208.9h13.0M936.9 207.9h2.0M1062.7 207.9h20.1M1112.8 207.9h13.0M936.9 207.0h2.0M1062.7 207.0h20.1M1112.8 207.0h13.0M936.9 206.0h2.0M1062.7 206.0h20.1M1111.8 206.0h14.0M936.9 205.0h3.0M1062.7 205.0h20.1M1111.8 205.0h14.0M936.9 204.0h3.0M1063.7 204.0h19.1M1111.8 204.0h14.0M936.9 203.0h3.0M1063.7 203.0h19.1M1110.8 203.0h15.0M936.9 202.0h3.0M1063.7 202.0h19.1M1110.8 202.0h15.0M936.9 201.0h4.0M1064.7 201.0h18.0M1109.8 201.0h16.0M936.9 200.0h4.0M1064.7 200.0h17.0M1109.8 200.0h16.0M936.9 199.0h4.0M1065.7 199.0h16.0M1109.8 199.0h16.0M936.9 198.0h4.0M1065.7 198.0h16.0M1108.8 198.0h17.0M936.9 197.0h4.0M1066.7 197.0h14.0M1108.8 197.0h17.0M936.9 196.0h4.0M1067.7 196.0h13.0M1107.8 196.0h18.0M936.9 195.0h4.0M1068.7 195.0h11.0M1107.8 195.0h18.0M936.9 194.0h4.0M1070.7 194.0h8.0M1107.8 194.0h18.0M936.9 193.0h4.0M1073.7 193.0h2.0M1107.8 193.0h18.0M936.9 192.0h4.0M1107.8 192.0h18.0M936.9 191.0h4.0M1107.8 191.0h18.0M936.9 190.0h4.0M1107.8 190.0h18.0M936.9 189.0h4.0M1107.8 189.0h18.0M936.9 188.0h4.0M1107.8 188.0h18.0M936.9 187.0h4.0M1107.8 187.0h18.0M936.9 186.0h4.0M1107.8 186.0h18.0M936.9 185.0h4.0M1108.8 185.0h17.0M936.9 184.0h4.0M1108.8 184.0h17.0M936.9 183.0h4.0M1108.8 183.0h17.0M936.9 182.0h4.0M1109.8 182.0h16.0M936.9 181.0h4.0M1109.8 181.0h16.0M936.9 180.0h4.0M1110.8 180.0h15.0M936.9 179.0h4.0M1111.8 179.0h14.0M936.9 178.0h4.0M1111.8 178.0h14.0M936.9 177.0h4.0M1112.8 177.0h13.0M936.9 176.0h4.0M1113.8 176.0h12.0M936.9 175.0h4.0M1114.9 175.0h11.0M936.9 174.0h4.0M1114.9 174.0h11.0M1002.5 173.0h2.0M1002.5 172.0h3.0M1003.5 171.0h3.0M1004.5 170.0h3.0M1005.5 169.0h3.0M1006.5 168.0h3.0M1007.5 167.0h3.0M1008.5 166.0h3.0M994.5 165.0h3.0M1009.5 165.0h3.0M995.5 164.0h3.0M1010.5 164.0h3.0M996.5 163.0h3.0M1011.5 163.0h3.0M997.5 162.0h3.0M1012.6 162.0h3.0M998.5 161.0h3.0M1013.6 161.0h3.0M999.5 160.0h3.0M1014.6 160.0h3.0M1000.5 158.9h3.0M1015.6 158.9h3.0M1001.5 157.9h3.0M1016.6 157.9h3.0M1002.5 156.9h3.0M1017.6 156.9h3.0M1003.5 155.9h3.0M1018.6 155.9h3.0M1004.5 154.9h3.0M1019.6 154.9h3.0M1005.5 153.9h3.0M1020.6 153.9h3.0M1006.5 152.9h3.0M1021.6 152.9h3.0M1007.5 151.9h3.0M1022.6 151.9h3.0M1008.5 150.9h3.0M1023.6 150.9h3.0M1009.5 149.9h3.0M1024.6 149.9h3.0M1010.5 148.9h3.0M1025.6 148.9h3.0M1011.5 147.9h3.0M1026.6 147.9h3.0M1012.6 146.9h3.0M1027.6 146.9h3.0M1013.6 145.9h3.0M1028.6 145.9h3.0M1014.6 144.9h3.0M1029.6 144.9h2.0M1015.6 143.9h3.0M1030.6 143.9h2.0M1016.6 142.9h3.0M1031.6 142.9h2.0M1017.6 141.9h3.0M1032.6 141.9h2.0M1018.6 140.9h3.0M1033.6 140.9h2.0M1019.6 139.9h3.0M1033.6 139.9h3.0M1020.6 138.9h3.0M1034.6 138.9h3.0M1021.6 137.9h3.0M1035.6 137.9h3.0M1023.6 136.9h2.0M1036.6 136.9h2.0M1024.6 135.9h2.0M1037.6 135.9h2.0M1025.6 134.9h2.0M1038.6 134.9h2.0M1026.6 133.9h3.0M1039.6 133.9h2.0M1027.6 132.9h3.0M1040.6 132.9h2.0M1028.6 131.8h3.0M1041.6 131.8h2.0M1029.6 130.8h3.0M1041.6 130.8h3.0M1031.6 129.8h2.0M1042.6 129.8h3.0M1032.6 128.8h2.0M1043.6 128.8h2.0M1033.6 127.8h2.0M1044.6 127.8h2.0M1034.6 126.8h2.0M1045.6 126.8h2.0M1035.6 125.8h3.0M1046.7 125.8h2.0M1036.6 124.8h3.0M1047.7 124.8h2.0M1037.6 123.8h3.0M1048.7 123.8h2.0M1039.6 122.8h2.0M1049.7 122.8h2.0M1040.6 121.8h2.0M1050.7 121.8h2.0M1041.6 120.8h2.0M1050.7 120.8h2.0M1042.6 119.8h2.0M1051.7 119.8h2.0M1043.6 118.8h2.0M1052.7 118.8h2.0M1044.6 117.8h2.0M1053.7 117.8h2.0M1045.6 116.8h3.0M1054.7 116.8h2.0M1047.7 115.8h2.0M1055.7 115.8h2.0M1048.7 114.8h2.0M1056.7 114.8h2.0M1049.7 113.8h2.0M1057.7 113.8h2.0M1050.7 112.8h2.0M1058.7 112.8h2.0M1051.7 111.8h2.0M1059.7 111.8h3.0M1052.7 110.8h2.0M1061.7 110.8h3.0M1053.7 109.8h2.0M1063.7 109.8h3.0M1054.7 108.8h2.0M1064.7 108.8h4.0M1055.7 107.8h2.0M1066.7 107.8h4.0M1055.7 106.8h2.0M1067.7 106.8h4.0M948.8 105.8h11.9M1056.7 105.8h2.0M1068.7 105.8h5.0M946.8 104.8h17.9M1056.7 104.8h2.0M1070.7 104.8h5.0M944.8 103.7h22.9M1057.7 103.7h2.0M1072.7 103.7h5.0M944.8 102.7h24.8M1057.7 102.7h3.0M1074.7 102.7h6.0M943.8 101.7h27.8M1058.7 101.7h2.0M1075.7 101.7h7.0M943.8 100.7h28.8M1058.7 100.7h3.0M1077.7 100.7h7.0M943.8 99.7h29.8M1059.7 99.7h3.0M1078.7 99.7h7.0M944.8 98.7h29.8M1059.7 98.7h4.0M1080.8 98.7h7.0M944.8 97.7h29.8M1060.7 97.7h3.0M1081.8 97.7h7.0M944.8 96.7h30.8M1061.7 96.7h3.0M1082.8 96.7h6.0M945.8 95.7h29.8M1061.7 95.7h3.0M1083.8 95.7h6.0M946.8 94.7h28.8M1062.7 94.7h3.0M1084.8 94.7h6.0M946.8 93.7h29.8M1062.7 93.7h3.0M1085.8 93.7h6.0M947.8 92.7h27.8M1063.7 92.7h3.0M1086.8 92.7h6.0M948.8 91.7h26.8M1063.7 91.7h4.0M1087.8 91.7h6.0M949.8 90.7h25.8M1064.7 90.7h3.0M1088.8 90.7h5.0M951.8 89.7h22.9M1064.7 89.7h4.0M1089.8 89.7h5.0M953.8 88.7h19.9M1064.7 88.7h5.0M1089.8 88.7h6.0M955.8 87.7h15.9M1065.7 87.7h4.0M1090.8 87.7h6.0M959.7 86.7h8.9M1065.7 86.7h5.0M1091.8 86.7h6.0M1066.7 85.7h5.0M1092.8 85.7h6.0M1066.7 84.7h6.0M1093.8 84.7h6.0M1067.7 83.7h6.0M1094.8 83.7h6.0M1068.7 82.7h6.0M1095.8 82.7h6.0M1068.7 81.7h7.0M1096.8 81.7h6.0M1069.7 80.7h7.0M1097.8 80.7h6.0M1071.7 79.7h6.0M1098.8 79.7h6.0M1072.7 78.7h6.0M1099.8 78.7h6.0M1073.7 77.7h7.0M1100.8 77.7h7.0M1074.7 76.6h7.0M1101.8 76.6h7.0M1075.7 75.6h7.0M1102.8 75.6h7.0M1077.7 74.6h6.0M1103.8 74.6h7.0M1078.7 73.6h6.0M1105.8 73.6h7.0M1079.7 72.6h6.0M1106.8 72.6h7.0M1080.8 71.6h6.0M1107.8 71.6h7.0M1081.8 70.6h6.0M1108.8 70.6h7.0M1082.8 69.6h6.0M1109.8 69.6h7.0M1083.8 68.6h6.0M1110.8 68.6h8.0M1084.8 67.6h6.0M1111.8 67.6h8.0M1085.8 66.6h6.0M1112.8 66.6h8.0M1086.8 65.6h6.0M1113.8 65.6h8.0M1087.8 64.6h6.0M1114.9 64.6h8.0M1088.8 63.6h6.0M1115.9 63.6h8.0M1089.8 62.6h5.0M1116.9 62.6h8.0M1089.8 61.6h6.0M1117.9 61.6h8.0M1090.8 60.6h6.0M1118.9 60.6h8.0M971.7 59.6h11.9M1091.8 59.6h6.0M1119.9 59.6h8.0M969.7 58.6h16.9M1092.8 58.6h6.0M1120.9 58.6h8.0M966.7 57.6h21.9M1093.8 57.6h6.0M1121.9 57.6h8.0M964.7 56.6h24.8M1093.8 56.6h7.0M1122.9 56.6h8.0M961.7 55.6h29.8M1094.8 55.6h7.0M1123.9 55.6h9.0M959.7 54.6h32.8M1095.8 54.6h7.0M1124.9 54.6h8.0M956.7 53.6h36.8M1096.8 53.6h7.0M1125.9 53.6h7.0M953.8 52.6h41.7M1097.8 52.6h7.0M1126.9 52.6h6.0M949.8 51.6h45.7M1098.8 51.6h7.0M1127.9 51.6h5.0M946.8 50.6h48.7M1098.8 50.6h8.0M1128.9 50.6h4.0M944.8 49.5h50.7M1099.8 49.5h8.0M1129.9 49.5h3.0M941.8 48.5h53.7M1100.8 48.5h8.0M1130.9 48.5h2.0M938.9 47.5h56.6M1101.8 47.5h8.0M937.9 46.5h57.6M1102.8 46.5h8.0M937.9 45.5h57.6M1103.8 45.5h8.0M936.9 44.5h58.6M1104.8 44.5h8.0M936.9 43.5h58.6M1105.8 43.5h8.0M936.9 42.5h23.8M1106.8 42.5h8.0M936.9 41.5h20.9M1107.8 41.5h8.0M936.9 40.5h19.9M1108.8 40.5h8.0M936.9 39.5h18.9M1109.8 39.5h8.0M936.9 38.5h18.9M1110.8 38.5h8.0M936.9 37.5h17.9M1111.8 37.5h8.0M936.9 36.5h17.9M1111.8 36.5h9.0"/>
<path stroke="#ff3a3c" d="M863.4 309.8h2.0M863.4 308.8h2.0M864.4 306.8h2.0M858.4 304.8h3.0M861.4 303.8h2.0M866.3 303.8h2.0M864.4 301.8h2.0M869.3 301.8h2.0M871.3 300.8h2.0M872.3 299.8h3.0M866.3 298.8h2.0M874.3 298.8h2.0M876.3 297.8h2.0M867.3 296.8h2.0M878.3 296.8h2.0M868.3 295.8h2.0M879.3 295.8h2.0M868.3 294.8h2.0M880.3 294.8h3.0M869.3 293.8h2.0M882.2 293.8h2.0M883.2 292.8h3.0M870.3 291.8h2.0M885.2 291.8h2.0M886.2 290.8h3.0M871.3 289.8h2.0M887.2 289.8h3.0M872.3 288.8h2.0M889.2 288.8h2.0M873.3 287.8h2.0M890.2 287.8h3.0M873.3 286.8h2.0M891.2 286.8h3.0M874.3 285.8h2.0M892.2 285.8h3.0M875.3 284.8h2.0M893.2 284.8h3.0M875.3 283.8h2.0M895.2 283.8h2.0M876.3 282.8h2.0M896.2 282.8h2.0M877.3 281.8h2.0M897.1 281.8h2.0M877.3 280.8h3.0M898.1 280.8h2.0M878.3 279.8h2.0M898.1 279.8h3.0M879.3 278.8h2.0M899.1 278.8h3.0M880.3 277.8h2.0M900.1 277.8h3.0M880.3 276.8h3.0M901.1 276.8h3.0M881.2 275.9h3.0M902.1 275.9h3.0M882.2 274.9h3.0M903.1 274.9h3.0M883.2 273.9h2.0M905.1 273.9h2.0M884.2 272.9h2.0M906.1 272.9h3.0M885.2 271.9h2.0M907.1 271.9h3.0M886.2 270.9h2.0M908.1 270.9h3.0M887.2 269.9h3.0M909.1 269.9h4.0M888.2 268.9h3.0M911.1 268.9h3.0M889.2 267.9h3.0M912.0 267.9h3.0M890.2 266.9h3.0M914.0 266.9h3.0M891.2 265.9h3.0M915.0 265.9h3.0M892.2 264.9h3.0M916.0 264.9h3.0M893.2 263.9h2.0M917.0 263.9h4.0M894.2 262.9h2.0M919.0 262.9h4.0M895.2 261.9h2.0M920.0 261.9h5.0M895.2 260.9h3.0M922.0 260.9h5.0M896.2 259.9h3.0M924.0 259.9h5.0M897.1 258.9h3.0M926.0 258.9h5.0M898.1 257.9h2.0M927.9 257.9h4.0M898.1 256.9h3.0M929.9 256.9h2.0M899.1 255.9h3.0M900.1 254.9h2.0M1007.5 254.9h5.0M901.1 253.9h2.0M1006.5 253.9h7.0M901.1 252.9h3.0M1006.5 252.9h8.0M902.1 251.9h3.0M1006.5 251.9h8.0M903.1 250.9h3.0M1006.5 250.9h9.0M904.1 249.9h2.0M1006.5 249.9h9.0M904.1 248.9h3.0M1006.5 248.9h9.0M905.1 247.9h3.0M1007.5 247.9h7.0M905.1 246.9h3.0M929.9 246.9h2.0M1008.5 246.9h5.0M906.1 245.9h3.0M906.1 244.9h3.0M907.1 243.9h3.0M907.1 242.9h3.0M908.1 241.9h3.0M908.1 240.9h3.0M909.1 239.9h3.0M932.9 239.9h2.0M909.1 238.9h3.0M910.1 237.9h3.0M921.0 237.9h2.0M936.9 235.9h2.0M927.9 234.9h2.0M938.9 234.9h2.0M940.9 233.9h5.0M949.8 232.9h8.9M1130.9 232.9h2.0M959.7 231.9h35.8M1121.9 231.9h11.0M931.9 230.9h2.0M1119.9 230.9h4.0M1118.9 229.9h3.0M932.9 228.9h2.0M1116.9 228.9h4.0M1063.7 227.9h8.0M1115.9 227.9h5.0M933.9 226.9h2.0M1062.7 226.9h11.0M1113.8 226.9h7.0M933.9 225.9h2.0M1061.7 225.9h14.0M1112.8 225.9h7.0M933.9 224.9h2.0M1061.7 224.9h16.0M1110.8 224.9h9.0M933.9 223.9h2.0M1061.7 223.9h5.0M1068.7 223.9h10.0M1108.8 223.9h11.0M1060.7 222.9h4.0M1071.7 222.9h10.0M1106.8 222.9h12.0M1060.7 221.9h4.0M1072.7 221.9h14.0M1101.8 221.9h17.0M1060.7 220.9h3.0M1074.7 220.9h43.1M1060.7 219.9h3.0M1075.7 219.9h42.1M1060.7 218.9h2.0M1076.7 218.9h41.1M934.9 217.9h2.0M1060.7 217.9h2.0M1077.7 217.9h39.1M934.9 216.9h2.0M1060.7 216.9h2.0M1077.7 216.9h39.1M934.9 215.9h2.0M1059.7 215.9h3.0M1078.7 215.9h38.1M934.9 214.9h2.0M1059.7 214.9h3.0M1078.7 214.9h38.1M934.9 213.9h2.0M1059.7 213.9h3.0M1079.7 213.9h36.1M934.9 212.9h2.0M1059.7 212.9h3.0M1079.7 212.9h36.1M934.9 211.9h2.0M1060.7 211.9h2.0M1080.8 211.9h35.1M934.9 210.9h2.0M1060.7 210.9h2.0M1080.8 210.9h34.1M1060.7 209.9h2.0M1080.8 209.9h34.1M1060.7 208.9h2.0M1080.8 208.9h34.1M935.9 207.9h2.0M1060.7 207.9h3.0M1081.8 207.9h32.1M935.9 207.0h2.0M1060.7 207.0h3.0M1081.8 207.0h32.1M935.9 206.0h2.0M1060.7 206.0h3.0M1081.8 206.0h31.1M935.9 205.0h2.0M1060.7 205.0h3.0M1081.8 205.0h31.1M935.9 204.0h2.0M1061.7 204.0h3.0M1081.8 204.0h31.1M935.9 203.0h2.0M1061.7 203.0h3.0M1081.8 203.0h30.1M935.9 202.0h2.0M1061.7 202.0h3.0M1081.8 202.0h30.1M935.9 201.0h2.0M1061.7 201.0h4.0M1081.8 201.0h29.1M935.9 200.0h2.0M1061.7 200.0h4.0M1080.8 200.0h30.1M935.9 199.0h2.0M1061.7 199.0h5.0M1080.8 199.0h30.1M935.9 198.0h2.0M1062.7 198.0h4.0M1080.8 198.0h29.1M935.9 197.0h2.0M1062.7 197.0h5.0M1079.7 197.0h30.1M935.9 196.0h2.0M1062.7 196.0h6.0M1079.7 196.0h29.1M935.9 195.0h2.0M1062.7 195.0h7.0M1078.7 195.0h30.1M935.9 194.0h2.0M1062.7 194.0h9.0M1077.7 194.0h31.1M935.9 193.0h2.0M1062.7 193.0h12.0M1074.7 193.0h34.1M935.9 192.0h2.0M1062.7 192.0h46.1M935.9 191.0h2.0M1062.7 191.0h46.1M935.9 190.0h2.0M1062.7 190.0h46.1M935.9 189.0h2.0M1062.7 189.0h46.1M935.9 188.0h2.0M1062.7 188.0h46.1M935.9 187.0h2.0M1062.7 187.0h46.1M935.9 186.0h2.0M1062.7 186.0h46.1M935.9 185.0h2.0M1062.7 185.0h25.1M1093.8 185.0h16.0M935.9 184.0h2.0M1062.7 184.0h23.1M1095.8 184.0h14.0M935.9 183.0h2.0M1062.7 183.0h21.1M1097.8 183.0h12.0M935.9 182.0h2.0M1062.7 182.0h20.1M1098.8 182.0h12.0M935.9 181.0h2.0M1062.7 181.0h19.1M1099.8 181.0h11.0M935.9 180.0h2.0M1062.7 180.0h19.1M1099.8 180.0h12.0M935.9 179.0h2.0M1062.7 179.0h19.1M1099.8 179.0h13.0M935.9 178.0h2.0M1062.7 178.0h19.1M1099.8 178.0h13.0M935.9 177.0h2.0M1062.7 177.0h19.1M1099.8 177.0h14.0M935.9 176.0h2.0M1062.7 176.0h19.1M1099.8 176.0h15.0M935.9 175.0h2.0M1062.7 175.0h20.1M1098.8 175.0h17.0M935.9 174.0h2.0M1062.7 174.0h21.1M1097.8 174.0h18.0M1003.5 173.0h3.0M1004.5 172.0h3.0M1005.5 171.0h3.0M1006.5 170.0h3.0M1007.5 169.0h3.0M1008.5 168.0h3.0M1009.5 167.0h3.0M1010.5 166.0h3.0M1011.5 165.0h3.0M994.5 164.0h2.0M1012.6 164.0h3.0M994.5 163.0h3.0M1013.6 163.0h3.0M995.5 162.0h3.0M1014.6 162.0h3.0M914.0 161.0h7.0M996.5 161.0h3.0M1015.6 161.0h3.0M913.0 160.0h8.9M997.5 160.0h3.0M1016.6 160.0h3.0M913.0 158.9h9.9M998.5 158.9h3.0M1017.6 158.9h3.0M913.0 157.9h9.9M999.5 157.9h3.0M1018.6 157.9h3.0M913.0 156.9h9.9M1000.5 156.9h3.0M1019.6 156.9h3.0M914.0 155.9h8.9M1001.5 155.9h3.0M1020.6 155.9h3.0M915.0 154.9h7.0M1002.5 154.9h3.0M1021.6 154.9h3.0M917.0 153.9h4.0M1003.5 153.9h3.0M1022.6 153.9h3.0M1004.5 152.9h3.0M1023.6 152.9h3.0M1005.5 151.9h3.0M1024.6 151.9h3.0M1006.5 150.9h3.0M1025.6 150.9h2.0M1007.5 149.9h3.0M1026.6 149.9h2.0M1008.5 148.9h3.0M1027.6 148.9h2.0M1009.5 147.9h3.0M1028.6 147.9h2.0M1010.5 146.9h3.0M1029.6 146.9h2.0M1011.5 145.9h3.0M1030.6 145.9h2.0M1012.6 144.9h3.0M1030.6 144.9h3.0M1013.6 143.9h3.0M1031.6 143.9h3.0M1014.6 142.9h3.0M1032.6 142.9h3.0M1015.6 141.9h3.0M1033.6 141.9h3.0M1017.6 140.9h2.0M1034.6 140.9h2.0M1018.6 139.9h2.0M1035.6 139.9h2.0M1019.6 138.9h2.0M1036.6 138.9h2.0M1020.6 137.9h2.0M1037.6 137.9h2.0M1021.6 136.9h3.0M1037.6 136.9h2.0M1022.6 135.9h3.0M1038.6 135.9h2.0M1023.6 134.9h3.0M1039.6 134.9h2.0M1024.6 133.9h3.0M1040.6 133.9h2.0M1025.6 132.9h3.0M1041.6 132.9h2.0M1027.6 131.8h2.0M1042.6 131.8h2.0M1028.6 130.8h2.0M1043.6 130.8h2.0M1029.6 129.8h3.0M1044.6 129.8h2.0M1031.6 128.8h2.0M1044.6 128.8h3.0M1032.6 127.8h2.0M1045.6 127.8h2.0M1033.6 126.8h2.0M1046.7 126.8h2.0M1034.6 125.8h2.0M1047.7 125.8h2.0M1035.6 124.8h2.0M1048.7 124.8h2.0M1036.6 123.8h2.0M1049.7 123.8h2.0M1037.6 122.8h3.0M1050.7 122.8h2.0M1038.6 121.8h3.0M1040.6 120.8h2.0M1051.7 120.8h2.0M1041.6 119.8h2.0M1052.7 119.8h2.0M1042.6 118.8h2.0M1053.7 118.8h2.0M1043.6 117.8h2.0M1054.7 117.8h2.0M1044.6 116.8h2.0M1055.7 116.8h2.0M1046.7 115.8h2.0M1056.7 115.8h2.0M1047.7 114.8h2.0M1057.7 114.8h2.0M1048.7 113.8h2.0M1058.7 113.8h2.0M1049.7 112.8h2.0M1059.7 112.8h3.0M1050.7 111.8h2.0M1061.7 111.8h4.0M1051.7 110.8h2.0M1063.7 110.8h5.0M1052.7 109.8h2.0M1065.7 109.8h5.0M1053.7 108.8h2.0M1067.7 108.8h4.0M951.8 107.8h5.0M1054.7 107.8h2.0M1069.7 107.8h4.0M944.8 106.8h19.9M1054.7 106.8h2.0M1070.7 106.8h5.0M941.8 105.8h8.0M959.7 105.8h10.9M1055.7 105.8h2.0M1072.7 105.8h5.0M940.9 104.8h7.0M963.7 104.8h31.8M1055.7 104.8h2.0M1074.7 104.8h5.0M939.9 103.7h6.0M966.7 103.7h28.8M1055.7 103.7h3.0M1076.7 103.7h6.0M1128.9 103.7h4.0M939.9 102.7h6.0M968.7 102.7h26.8M1056.7 102.7h2.0M1079.7 102.7h7.0M1125.9 102.7h7.0M939.9 101.7h5.0M970.7 101.7h24.8M1056.7 101.7h3.0M1081.8 101.7h9.0M1124.9 101.7h8.0M939.9 100.7h5.0M971.7 100.7h23.8M1056.7 100.7h3.0M1083.8 100.7h9.0M1123.9 100.7h9.0M939.9 99.7h5.0M972.6 99.7h22.9M1057.7 99.7h3.0M1084.8 99.7h9.0M1123.9 99.7h9.0M939.9 98.7h6.0M973.6 98.7h21.9M1057.7 98.7h3.0M1086.8 98.7h8.0M1123.9 98.7h9.0M939.9 97.7h6.0M973.6 97.7h21.9M1058.7 97.7h3.0M1087.8 97.7h8.0M1123.9 97.7h9.0M940.9 96.7h5.0M974.6 96.7h20.9M1059.7 96.7h3.0M1087.8 96.7h8.0M1123.9 96.7h9.0M940.9 95.7h6.0M974.6 95.7h20.9M1059.7 95.7h3.0M1088.8 95.7h8.0M1123.9 95.7h9.0M941.8 94.7h6.0M974.6 94.7h20.9M1060.7 94.7h3.0M1089.8 94.7h8.0M1123.9 94.7h9.0M941.8 93.7h6.0M975.6 93.7h19.9M1060.7 93.7h3.0M1090.8 93.7h7.0M1123.9 93.7h9.0M942.8 92.7h6.0M974.6 92.7h20.9M1061.7 92.7h3.0M1091.8 92.7h7.0M1123.9 92.7h9.0M942.8 91.7h7.0M974.6 91.7h20.9M1061.7 91.7h3.0M1092.8 91.7h7.0M1122.9 91.7h10.0M943.8 90.7h7.0M974.6 90.7h20.9M1062.7 90.7h3.0M1092.8 90.7h7.0M1122.9 90.7h10.0M944.8 89.7h8.0M973.6 89.7h21.9M1062.7 89.7h3.0M1093.8 89.7h7.0M1122.9 89.7h10.0M944.8 88.7h9.9M972.6 88.7h22.9M1063.7 88.7h2.0M1094.8 88.7h7.0M1122.9 88.7h10.0M944.8 87.7h11.9M970.7 87.7h24.8M1063.7 87.7h3.0M1095.8 87.7h7.0M1122.9 87.7h10.0M945.8 86.7h14.9M967.7 86.7h19.9M992.5 86.7h3.0M1063.7 86.7h3.0M1096.8 86.7h7.0M1122.9 86.7h10.0M945.8 85.7h40.7M993.5 85.7h2.0M1064.7 85.7h3.0M1097.8 85.7h7.0M1122.9 85.7h10.0M945.8 84.7h39.7M1064.7 84.7h3.0M1098.8 84.7h7.0M1122.9 84.7h10.0M945.8 83.7h39.7M1064.7 83.7h4.0M1099.8 83.7h8.0M1121.9 83.7h11.0M945.8 82.7h38.8M1064.7 82.7h5.0M1100.8 82.7h8.0M1121.9 82.7h11.0M946.8 81.7h37.8M1065.7 81.7h4.0M1101.8 81.7h9.0M1121.9 81.7h11.0M946.8 80.7h36.8M1065.7 80.7h5.0M1102.8 80.7h9.0M1120.9 80.7h12.0M946.8 79.7h36.8M1065.7 79.7h7.0M1103.8 79.7h10.0M1118.9 79.7h14.0M946.8 78.7h36.8M1065.7 78.7h8.0M1104.8 78.7h28.1M946.8 77.7h36.8M1066.7 77.7h8.0M1106.8 77.7h26.1M946.8 76.6h36.8M1066.7 76.6h9.0M1107.8 76.6h25.1M946.8 75.6h36.8M1067.7 75.6h9.0M1108.8 75.6h24.1M946.8 74.6h36.8M1068.7 74.6h10.0M1109.8 74.6h23.1M946.8 73.6h37.8M1069.7 73.6h10.0M1111.8 73.6h21.1M946.8 72.6h37.8M1071.7 72.6h9.0M1112.8 72.6h20.1M946.8 71.6h38.8M1072.7 71.6h9.0M1113.8 71.6h19.1M946.8 70.6h38.8M1074.7 70.6h8.0M1114.9 70.6h18.0M946.8 69.6h39.7M993.5 69.6h2.0M1075.7 69.6h8.0M1115.9 69.6h17.0M946.8 68.6h40.7M992.5 68.6h3.0M1077.7 68.6h7.0M1117.9 68.6h15.0M946.8 67.6h48.7M1078.7 67.6h7.0M1118.9 67.6h14.0M946.8 66.6h48.7M1079.7 66.6h7.0M1119.9 66.6h13.0M945.8 65.6h49.7M1080.8 65.6h7.0M1120.9 65.6h12.0M945.8 64.6h49.7M1081.8 64.6h7.0M1121.9 64.6h11.0M945.8 63.6h49.7M1082.8 63.6h7.0M1122.9 63.6h10.0M945.8 62.6h49.7M1083.8 62.6h7.0M1123.9 62.6h9.0M945.8 61.6h49.7M1083.8 61.6h7.0M1124.9 61.6h8.0M944.8 60.6h50.7M1084.8 60.6h7.0M1125.9 60.6h7.0M944.8 59.6h27.8M982.6 59.6h12.9M1085.8 59.6h7.0M1126.9 59.6h6.0M943.8 58.6h26.8M985.6 58.6h9.9M1085.8 58.6h8.0M1127.9 58.6h5.0M943.8 57.6h23.8M987.5 57.6h8.0M1086.8 57.6h8.0M1128.9 57.6h4.0M942.8 56.6h22.9M988.5 56.6h7.0M1087.8 56.6h7.0M1129.9 56.6h3.0M942.8 55.6h19.9M990.5 55.6h5.0M1087.8 55.6h8.0M941.8 54.6h18.9M991.5 54.6h4.0M1088.8 54.6h8.0M940.9 53.6h16.9M992.5 53.6h3.0M1088.8 53.6h9.0M940.9 52.6h13.9M1088.8 52.6h10.0M939.9 51.6h10.9M1088.8 51.6h11.0M938.9 50.6h8.9M1088.8 50.6h11.0M938.9 49.5h7.0M1088.8 49.5h12.0M937.9 48.5h5.0M1087.8 48.5h14.0M936.9 47.5h3.0M1087.8 47.5h15.0M936.9 46.5h2.0M1086.8 46.5h17.0M935.9 45.5h3.0M1083.8 45.5h21.1M935.9 44.5h2.0M1075.7 44.5h30.1M935.9 43.5h2.0M1066.7 43.5h40.1M935.9 42.5h2.0M1065.7 42.5h42.1M935.9 41.5h2.0M1064.7 41.5h44.1M935.9 40.5h2.0M1064.7 40.5h45.1M935.9 39.5h2.0M1064.7 39.5h46.1M935.9 38.5h2.0M1063.7 38.5h48.1M935.9 37.5h2.0M1063.7 37.5h49.1M934.9 36.5h3.0M1063.7 36.5h49.1"/>
<path stroke="#ff7850" d="M864.4 307.8h2.0M865.4 305.8h2.0M860.4 303.8h2.0M862.4 302.8h2.0M868.3 302.8h2.0M870.3 301.8h2.0M872.3 300.8h2.0M865.4 299.8h2.0M874.3 299.8h2.0M875.3 298.8h3.0M866.3 297.8h2.0M877.3 297.8h3.0M879.3 296.8h2.0M867.3 295.8h2.0M880.3 295.8h3.0M882.2 294.8h2.0M868.3 293.8h2.0M883.2 293.8h3.0M869.3 292.8h2.0M885.2 292.8h2.0M869.3 291.8h2.0M886.2 291.8h3.0M870.3 290.8h2.0M888.2 290.8h2.0M870.3 289.8h2.0M889.2 289.8h3.0M871.3 288.8h2.0M890.2 288.8h3.0M872.3 287.8h2.0M892.2 287.8h2.0M872.3 286.8h2.0M893.2 286.8h2.0M873.3 285.8h2.0M894.2 285.8h2.0M874.3 284.8h2.0M895.2 284.8h2.0M874.3 283.8h2.0M896.2 283.8h2.0M875.3 282.8h2.0M897.1 282.8h2.0M876.3 281.8h2.0M898.1 281.8h2.0M876.3 280.8h2.0M899.1 280.8h2.0M877.3 279.8h2.0M900.1 279.8h2.0M878.3 278.8h2.0M901.1 278.8h2.0M878.3 277.8h3.0M902.1 277.8h2.0M879.3 276.8h2.0M903.1 276.8h2.0M880.3 275.9h2.0M904.1 275.9h2.0M881.2 274.9h2.0M905.1 274.9h2.0M882.2 273.9h2.0M906.1 273.9h3.0M883.2 272.9h2.0M908.1 272.9h2.0M884.2 271.9h2.0M909.1 271.9h2.0M885.2 270.9h2.0M910.1 270.9h3.0M886.2 269.9h2.0M912.0 269.9h2.0M887.2 268.9h2.0M913.0 268.9h3.0M888.2 267.9h2.0M914.0 267.9h3.0M889.2 266.9h2.0M916.0 266.9h3.0M890.2 265.9h2.0M917.0 265.9h3.0M891.2 264.9h2.0M918.0 264.9h4.0M892.2 263.9h2.0M920.0 263.9h3.0M893.2 262.9h2.0M922.0 262.9h3.0M894.2 261.9h2.0M924.0 261.9h3.0M894.2 260.9h2.0M926.0 260.9h3.0M895.2 259.9h2.0M927.9 259.9h4.0M896.2 258.9h2.0M929.9 258.9h3.0M897.1 257.9h2.0M1006.5 257.9h8.0M897.1 256.9h2.0M1004.5 256.9h12.0M898.1 255.9h2.0M1003.5 255.9h14.0M899.1 254.9h2.0M1003.5 254.9h5.0M1011.5 254.9h6.0M899.1 253.9h3.0M1002.5 253.9h5.0M1012.6 253.9h6.0M900.1 252.9h2.0M929.9 252.9h2.0M1002.5 252.9h5.0M1013.6 252.9h5.0M901.1 251.9h2.0M929.9 251.9h2.0M1002.5 251.9h5.0M1013.6 251.9h5.0M901.1 250.9h3.0M929.9 250.9h2.0M1002.5 250.9h5.0M1014.6 250.9h4.0M902.1 249.9h3.0M929.9 249.9h2.0M1002.5 249.9h5.0M1014.6 249.9h4.0M903.1 248.9h2.0M929.9 248.9h2.0M1002.5 248.9h5.0M1014.6 248.9h4.0M903.1 247.9h3.0M929.9 247.9h2.0M1003.5 247.9h5.0M1013.6 247.9h5.0M904.1 246.9h2.0M1004.5 246.9h5.0M1012.6 246.9h5.0M905.1 245.9h2.0M1004.5 245.9h12.0M905.1 244.9h2.0M1006.5 244.9h9.0M906.1 243.9h2.0M930.9 243.9h2.0M1009.5 243.9h3.0M906.1 242.9h2.0M907.1 241.9h2.0M931.9 241.9h2.0M907.1 240.9h2.0M908.1 239.9h2.0M908.1 238.9h2.0M933.9 238.9h2.0M908.1 237.9h3.0M915.0 237.9h7.0M934.9 237.9h2.0M909.1 236.9h2.0M924.0 236.9h2.0M935.9 236.9h2.0M926.0 235.9h2.0M939.9 234.9h2.0M928.9 233.9h2.0M944.8 233.9h6.0M929.9 232.9h2.0M957.7 232.9h37.8M1122.9 232.9h9.0M930.9 231.9h2.0M1119.9 231.9h3.0M1117.9 230.9h3.0M1062.7 229.9h9.0M1112.8 229.9h7.0M1060.7 228.9h57.2M932.9 227.9h2.0M1060.7 227.9h4.0M1070.7 227.9h46.1M1059.7 226.9h4.0M1072.7 226.9h42.1M1059.7 225.9h3.0M1074.7 225.9h39.1M1059.7 224.9h3.0M1076.7 224.9h35.1M1059.7 223.9h3.0M1077.7 223.9h32.1M933.9 222.9h2.0M1059.7 222.9h2.0M1080.8 222.9h27.1M933.9 221.9h2.0M1059.7 221.9h2.0M1085.8 221.9h17.0M933.9 220.9h2.0M1059.7 220.9h2.0M933.9 219.9h2.0M1059.7 219.9h2.0M933.9 218.9h2.0M1058.7 218.9h3.0M1058.7 217.9h3.0M1058.7 216.9h3.0M1058.7 215.9h2.0M1058.7 214.9h2.0M1058.7 213.9h2.0M1058.7 212.9h2.0M1058.7 211.9h3.0M1059.7 210.9h2.0M934.9 209.9h2.0M1059.7 209.9h2.0M934.9 208.9h2.0M1059.7 208.9h2.0M934.9 207.9h2.0M1059.7 207.9h2.0M934.9 207.0h2.0M1059.7 207.0h2.0M934.9 206.0h2.0M1059.7 206.0h2.0M934.9 205.0h2.0M1059.7 205.0h2.0M934.9 204.0h2.0M1059.7 204.0h3.0M934.9 203.0h2.0M1059.7 203.0h3.0M934.9 202.0h2.0M1059.7 202.0h3.0M934.9 201.0h2.0M1059.7 201.0h3.0M934.9 200.0h2.0M1059.7 200.0h3.0M934.9 199.0h2.0M1059.7 199.0h3.0M934.9 198.0h2.0M1059.7 198.0h4.0M934.9 197.0h2.0M1060.7 197.0h3.0M934.9 196.0h2.0M1060.7 196.0h3.0M934.9 195.0h2.0M1060.7 195.0h3.0M934.9 194.0h2.0M1060.7 194.0h3.0M934.9 193.0h2.0M1060.7 193.0h3.0M934.9 192.0h2.0M1060.7 192.0h3.0M934.9 191.0h2.0M1060.7 191.0h3.0M934.9 190.0h2.0M1060.7 190.0h3.0M934.9 189.0h2.0M1060.7 189.0h3.0M934.9 188.0h2.0M1060.7 188.0h3.0M934.9 187.0h2.0M1060.7 187.0h3.0M934.9 186.0h2.0M1060.7 186.0h3.0M934.9 185.0h2.0M1060.7 185.0h3.0M1086.8 185.0h8.0M934.9 184.0h2.0M1060.7 184.0h3.0M1084.8 184.0h12.0M934.9 183.0h2.0M1060.7 183.0h3.0M1082.8 183.0h16.0M934.9 182.0h2.0M1060.7 182.0h3.0M1081.8 182.0h18.0M934.9 181.0h2.0M1060.7 181.0h3.0M1080.8 181.0h20.1M934.9 180.0h2.0M1060.7 180.0h3.0M1080.8 180.0h20.1M934.9 179.0h2.0M1060.7 179.0h3.0M1080.8 179.0h20.1M934.9 178.0h2.0M1060.7 178.0h3.0M1080.8 178.0h20.1M934.9 177.0h2.0M1060.7 177.0h3.0M1080.8 177.0h20.1M934.9 176.0h2.0M1060.7 176.0h3.0M1080.8 176.0h20.1M934.9 175.0h2.0M1060.7 175.0h3.0M1081.8 175.0h18.0M934.9 174.0h2.0M1060.7 174.0h3.0M1082.8 174.0h16.0M1005.5 173.0h3.0M1006.5 172.0h3.0M1007.5 171.0h3.0M1008.5 170.0h3.0M1009.5 169.0h3.0M1010.5 168.0h3.0M1011.5 167.0h3.0M1012.6 166.0h3.0M914.0 165.0h7.0M1013.6 165.0h3.0M912.0 164.0h9.9M1014.6 164.0h3.0M911.1 163.0h12.9M1015.6 163.0h3.0M911.1 162.0h12.9M994.5 162.0h2.0M1016.6 162.0h3.0M910.1 161.0h5.0M920.0 161.0h5.0M994.5 161.0h3.0M1017.6 161.0h3.0M910.1 160.0h4.0M921.0 160.0h4.0M995.5 160.0h3.0M1018.6 160.0h3.0M910.1 158.9h4.0M922.0 158.9h3.0M996.5 158.9h3.0M1019.6 158.9h3.0M910.1 157.9h4.0M922.0 157.9h4.0M997.5 157.9h3.0M1020.6 157.9h3.0M910.1 156.9h4.0M922.0 156.9h4.0M998.5 156.9h3.0M1021.6 156.9h3.0M910.1 155.9h5.0M922.0 155.9h3.0M999.5 155.9h3.0M1022.6 155.9h3.0M910.1 154.9h6.0M921.0 154.9h4.0M1000.5 154.9h3.0M1023.6 154.9h2.0M911.1 153.9h7.0M920.0 153.9h5.0M1001.5 153.9h3.0M1024.6 153.9h2.0M911.1 152.9h12.9M1002.5 152.9h3.0M1025.6 152.9h2.0M912.0 151.9h10.9M1003.5 151.9h3.0M1026.6 151.9h2.0M914.0 150.9h8.0M1004.5 150.9h3.0M1026.6 150.9h3.0M1005.5 149.9h3.0M1027.6 149.9h3.0M1006.5 148.9h3.0M1028.6 148.9h3.0M1007.5 147.9h3.0M1029.6 147.9h3.0M1008.5 146.9h3.0M1030.6 146.9h3.0M1009.5 145.9h3.0M1031.6 145.9h3.0M1010.5 144.9h3.0M1032.6 144.9h2.0M1011.5 143.9h3.0M1033.6 143.9h2.0M1013.6 142.9h2.0M1034.6 142.9h2.0M1014.6 141.9h2.0M1035.6 141.9h2.0M1015.6 140.9h3.0M1035.6 140.9h2.0M1016.6 139.9h3.0M1036.6 139.9h2.0M1017.6 138.9h3.0M1037.6 138.9h2.0M1018.6 137.9h3.0M1038.6 137.9h2.0M1019.6 136.9h3.0M1038.6 136.9h2.0M1020.6 135.9h3.0M1039.6 135.9h2.0M1021.6 134.9h3.0M1040.6 134.9h2.0M1023.6 133.9h2.0M1041.6 133.9h2.0M1024.6 132.9h2.0M1042.6 132.9h2.0M1025.6 131.8h3.0M1043.6 131.8h2.0M1027.6 130.8h2.0M1044.6 130.8h2.0M1028.6 129.8h2.0M1045.6 129.8h2.0M1029.6 128.8h3.0M1046.7 128.8h2.0M1031.6 127.8h2.0M1046.7 127.8h2.0M1032.6 126.8h2.0M1047.7 126.8h2.0M1033.6 125.8h2.0M1048.7 125.8h2.0M1034.6 124.8h2.0M1049.7 124.8h2.0M1035.6 123.8h2.0M1050.7 123.8h2.0M1036.6 122.8h2.0M1037.6 121.8h2.0M1051.7 121.8h2.0M1038.6 120.8h3.0M1052.7 120.8h2.0M1040.6 119.8h2.0M1053.7 119.8h2.0M1041.6 118.8h2.0M1054.7 118.8h2.0M1042.6 117.8h2.0M1055.7 117.8h2.0M1043.6 116.8h2.0M1056.7 116.8h2.0M1045.6 115.8h2.0M1057.7 115.8h2.0M1046.7 114.8h2.0M1058.7 114.8h2.0M1047.7 113.8h2.0M1059.7 113.8h3.0M1048.7 112.8h2.0M1061.7 112.8h4.0M1049.7 111.8h2.0M1064.7 111.8h5.0M1050.7 110.8h2.0M1067.7 110.8h4.0M1051.7 109.8h2.0M1069.7 109.8h4.0M948.8 108.8h8.9M1052.7 108.8h2.0M1070.7 108.8h5.0M940.9 107.8h11.9M955.8 107.8h15.9M1053.7 107.8h2.0M1072.7 107.8h4.0M938.9 106.8h7.0M963.7 106.8h31.8M1053.7 106.8h2.0M1074.7 106.8h4.0M1124.9 106.8h8.0M938.9 105.8h4.0M969.7 105.8h25.8M1054.7 105.8h2.0M1076.7 105.8h5.0M1122.9 105.8h10.0M937.9 104.8h4.0M1054.7 104.8h2.0M1078.7 104.8h8.0M1120.9 104.8h12.0M937.9 103.7h3.0M1054.7 103.7h2.0M1081.8 103.7h21.1M1112.8 103.7h17.0M937.9 102.7h3.0M1055.7 102.7h2.0M1085.8 102.7h41.1M937.9 101.7h3.0M1055.7 101.7h2.0M1089.8 101.7h36.1M937.9 100.7h3.0M1055.7 100.7h2.0M1091.8 100.7h33.1M937.9 99.7h3.0M1055.7 99.7h3.0M1092.8 99.7h32.1M937.9 98.7h3.0M1056.7 98.7h2.0M1093.8 98.7h31.1M937.9 97.7h3.0M1056.7 97.7h3.0M1094.8 97.7h30.1M938.9 96.7h3.0M1057.7 96.7h3.0M1094.8 96.7h30.1M938.9 95.7h3.0M1057.7 95.7h3.0M1095.8 95.7h29.1M938.9 94.7h4.0M1058.7 94.7h3.0M1096.8 94.7h28.1M938.9 93.7h4.0M1058.7 93.7h3.0M1096.8 93.7h28.1M938.9 92.7h5.0M1059.7 92.7h3.0M1097.8 92.7h27.1M938.9 91.7h5.0M1060.7 91.7h2.0M1098.8 91.7h25.1M938.9 90.7h6.0M1060.7 90.7h3.0M1098.8 90.7h25.1M938.9 89.7h7.0M1061.7 89.7h2.0M1099.8 89.7h24.1M938.9 88.7h7.0M1061.7 88.7h3.0M1100.8 88.7h23.1M938.9 87.7h7.0M1061.7 87.7h3.0M1101.8 87.7h22.1M938.9 86.7h8.0M986.6 86.7h7.0M1062.7 86.7h2.0M1102.8 86.7h21.1M938.9 85.7h8.0M985.6 85.7h8.9M1062.7 85.7h3.0M1103.8 85.7h20.1M938.9 84.7h8.0M984.6 84.7h10.9M1062.7 84.7h3.0M1104.8 84.7h19.1M938.9 83.7h8.0M984.6 83.7h10.9M1062.7 83.7h3.0M1106.8 83.7h16.0M938.9 82.7h8.0M983.6 82.7h11.9M1062.7 82.7h3.0M1107.8 82.7h15.0M938.9 81.7h8.9M983.6 81.7h11.9M1063.7 81.7h3.0M1109.8 81.7h13.0M938.9 80.7h8.9M982.6 80.7h12.9M1063.7 80.7h3.0M1110.8 80.7h11.0M938.9 79.7h8.9M982.6 79.7h12.9M1063.7 79.7h3.0M1112.8 79.7h7.0M938.9 78.7h8.9M982.6 78.7h12.9M1063.7 78.7h3.0M938.9 77.7h8.9M982.6 77.7h12.9M1063.7 77.7h4.0M938.9 76.6h8.9M982.6 76.6h12.9M1063.7 76.6h4.0M938.9 75.6h8.9M982.6 75.6h12.9M1063.7 75.6h5.0M938.9 74.6h8.9M982.6 74.6h12.9M1063.7 74.6h6.0M938.9 73.6h8.9M983.6 73.6h11.9M1063.7 73.6h7.0M938.9 72.6h8.9M983.6 72.6h11.9M1063.7 72.6h9.0M938.9 71.6h8.9M984.6 71.6h10.9M1063.7 71.6h10.0M938.9 70.6h8.9M984.6 70.6h10.9M1063.7 70.6h12.0M938.9 69.6h8.9M985.6 69.6h8.9M1063.7 69.6h13.0M938.9 68.6h8.9M986.6 68.6h7.0M1063.7 68.6h15.0M938.9 67.6h8.9M1063.7 67.6h16.0M938.9 66.6h8.9M1063.7 66.6h17.0M938.9 65.6h8.0M1064.7 65.6h17.0M938.9 64.6h8.0M1064.7 64.6h18.0M938.9 63.6h8.0M1064.7 63.6h19.1M938.9 62.6h8.0M1064.7 62.6h20.1M938.9 61.6h8.0M1064.7 61.6h20.1M938.9 60.6h7.0M1064.7 60.6h21.1M938.9 59.6h7.0M1064.7 59.6h22.1M938.9 58.6h6.0M1064.7 58.6h22.1M938.9 57.6h6.0M1064.7 57.6h23.1M938.9 56.6h5.0M1064.7 56.6h24.1M938.9 55.6h5.0M1064.7 55.6h24.1M937.9 54.6h5.0M1063.7 54.6h26.1M937.9 53.6h4.0M1063.7 53.6h26.1M937.9 52.6h4.0M1063.7 52.6h26.1M937.9 51.6h3.0M1063.7 51.6h26.1M937.9 50.6h2.0M1063.7 50.6h26.1M936.9 49.5h3.0M1063.7 49.5h26.1M936.9 48.5h2.0M1063.7 48.5h25.1M935.9 47.5h2.0M1063.7 47.5h25.1M935.9 46.5h2.0M1062.7 46.5h25.1M1062.7 45.5h22.1M934.9 44.5h2.0M1061.7 44.5h15.0M934.9 43.5h2.0M1061.7 43.5h6.0M934.9 42.5h2.0M1060.7 42.5h6.0M934.9 41.5h2.0M1060.7 41.5h5.0M934.9 40.5h2.0M1060.7 40.5h5.0M934.9 39.5h2.0M1060.7 39.5h5.0M934.9 38.5h2.0M1060.7 38.5h4.0M934.9 37.5h2.0M1060.7 37.5h4.0M1060.7 36.5h4.0"/>
<path stroke="#ffaa70" d="M864.4 308.8h2.0M865.4 306.8h2.0M866.3 304.8h2.0M859.4 303.8h2.0M867.3 303.8h2.0M861.4 302.8h2.0M863.4 301.8h2.0M864.4 300.8h2.0M873.3 300.8h2.0M875.3 299.8h2.0M877.3 298.8h3.0M879.3 297.8h3.0M880.3 296.8h3.0M882.2 295.8h3.0M944.8 295.8h7.0M867.3 294.8h2.0M883.2 294.8h4.0M943.8 294.8h35.8M885.2 293.8h3.0M942.8 293.8h52.7M868.3 292.8h2.0M886.2 292.8h4.0M942.8 292.8h52.7M888.2 291.8h3.0M942.8 291.8h52.7M869.3 290.8h2.0M889.2 290.8h3.0M942.8 290.8h37.8M869.3 289.8h2.0M891.2 289.8h3.0M944.8 289.8h7.0M870.3 288.8h2.0M892.2 288.8h3.0M870.3 287.8h3.0M893.2 287.8h3.0M871.3 286.8h2.0M894.2 286.8h3.0M872.3 285.8h2.0M895.2 285.8h3.0M872.3 284.8h3.0M896.2 284.8h3.0M873.3 283.8h2.0M897.1 283.8h3.0M873.3 282.8h3.0M898.1 282.8h2.0M874.3 281.8h3.0M899.1 281.8h2.0M875.3 280.8h2.0M900.1 280.8h2.0M875.3 279.8h3.0M901.1 279.8h2.0M876.3 278.8h3.0M902.1 278.8h2.0M877.3 277.8h2.0M903.1 277.8h2.0M878.3 276.8h2.0M904.1 276.8h2.0M878.3 275.9h3.0M905.1 275.9h3.0M879.3 274.9h3.0M906.1 274.9h3.0M880.3 273.9h3.0M908.1 273.9h2.0M881.2 272.9h3.0M909.1 272.9h3.0M882.2 271.9h3.0M910.1 271.9h3.0M883.2 270.9h3.0M912.0 270.9h3.0M884.2 269.9h3.0M913.0 269.9h3.0M921.0 269.9h4.0M886.2 268.9h2.0M915.0 268.9h3.0M921.0 268.9h7.0M887.2 267.9h2.0M916.0 267.9h12.9M888.2 266.9h2.0M918.0 266.9h11.9M889.2 265.9h2.0M919.0 265.9h10.9M890.2 264.9h2.0M921.0 264.9h6.0M891.2 263.9h2.0M922.0 263.9h5.0M892.2 262.9h2.0M924.0 262.9h4.0M892.2 261.9h3.0M926.0 261.9h4.0M893.2 260.9h2.0M927.9 260.9h5.0M894.2 259.9h2.0M930.9 259.9h2.0M1005.5 259.9h9.0M895.2 258.9h2.0M1003.5 258.9h13.0M895.2 257.9h3.0M930.9 257.9h2.0M1002.5 257.9h5.0M1013.6 257.9h5.0M896.2 256.9h2.0M930.9 256.9h2.0M1001.5 256.9h4.0M1015.6 256.9h4.0M897.1 255.9h2.0M930.9 255.9h2.0M1000.5 255.9h4.0M1016.6 255.9h3.0M897.1 254.9h3.0M930.9 254.9h2.0M1000.5 254.9h4.0M1016.6 254.9h4.0M898.1 253.9h2.0M930.9 253.9h2.0M999.5 253.9h4.0M1017.6 253.9h3.0M899.1 252.9h2.0M999.5 252.9h4.0M1017.6 252.9h4.0M899.1 251.9h3.0M999.5 251.9h4.0M1017.6 251.9h4.0M900.1 250.9h2.0M999.5 250.9h4.0M1017.6 250.9h4.0M900.1 249.9h3.0M1000.5 249.9h3.0M1017.6 249.9h4.0M900.1 248.9h4.0M1000.5 248.9h3.0M1017.6 248.9h4.0M900.1 247.9h4.0M1000.5 247.9h4.0M1017.6 247.9h3.0M898.1 246.9h7.0M1001.5 246.9h4.0M1016.6 246.9h4.0M898.1 245.9h8.0M930.9 245.9h2.0M1002.5 245.9h3.0M1015.6 245.9h4.0M898.1 244.9h8.0M930.9 244.9h2.0M1003.5 244.9h4.0M1014.6 244.9h4.0M899.1 243.9h8.0M1004.5 243.9h6.0M1011.5 243.9h6.0M899.1 242.9h8.0M1006.5 242.9h9.0M899.1 241.9h5.0M905.1 241.9h3.0M900.1 240.9h4.0M906.1 240.9h2.0M901.1 239.9h3.0M906.1 239.9h3.0M907.1 238.9h2.0M907.1 237.9h2.0M907.1 236.9h3.0M910.1 236.9h6.0M922.0 236.9h3.0M937.9 235.9h2.0M940.9 234.9h3.0M949.8 233.9h11.9M1127.9 233.9h5.0M1120.9 232.9h3.0M1117.9 231.9h3.0M1061.7 230.9h12.0M1108.8 230.9h10.0M931.9 229.9h2.0M1059.7 229.9h4.0M1070.7 229.9h43.1M1059.7 228.9h2.0M1058.7 227.9h3.0M932.9 226.9h2.0M1058.7 226.9h2.0M932.9 225.9h2.0M1058.7 225.9h2.0M874.3 224.9h5.0M1058.7 224.9h2.0M873.3 223.9h6.0M1058.7 223.9h2.0M872.3 222.9h8.0M1058.7 222.9h2.0M872.3 221.9h8.0M1058.7 221.9h2.0M872.3 220.9h8.0M1058.7 220.9h2.0M872.3 219.9h8.0M1058.7 219.9h2.0M872.3 218.9h8.0M1057.7 218.9h2.0M872.3 217.9h8.0M933.9 217.9h2.0M1057.7 217.9h2.0M873.3 216.9h6.0M933.9 216.9h2.0M1057.7 216.9h2.0M873.3 215.9h6.0M933.9 215.9h2.0M1057.7 215.9h2.0M873.3 214.9h6.0M933.9 214.9h2.0M1057.7 214.9h2.0M873.3 213.9h6.0M933.9 213.9h2.0M1057.7 213.9h2.0M873.3 212.9h6.0M933.9 212.9h2.0M1057.7 212.9h2.0M873.3 211.9h6.0M933.9 211.9h2.0M1057.7 211.9h2.0M873.3 210.9h6.0M933.9 210.9h2.0M1058.7 210.9h2.0M873.3 209.9h6.0M933.9 209.9h2.0M1058.7 209.9h2.0M873.3 208.9h6.0M933.9 208.9h2.0M1058.7 208.9h2.0M873.3 207.9h6.0M933.9 207.9h2.0M1058.7 207.9h2.0M873.3 207.0h6.0M1058.7 207.0h2.0M873.3 206.0h6.0M1058.7 206.0h2.0M873.3 205.0h6.0M1058.7 205.0h2.0M873.3 204.0h6.0M1058.7 204.0h2.0M873.3 203.0h6.0M1058.7 203.0h2.0M873.3 202.0h6.0M1058.7 202.0h2.0M873.3 201.0h6.0M1058.7 201.0h2.0M873.3 200.0h6.0M1058.7 200.0h2.0M873.3 199.0h6.0M1058.7 199.0h2.0M873.3 198.0h6.0M1058.7 198.0h2.0M873.3 197.0h6.0M1058.7 197.0h3.0M873.3 196.0h6.0M1058.7 196.0h3.0M873.3 195.0h6.0M1058.7 195.0h3.0M873.3 194.0h6.0M1058.7 194.0h3.0M873.3 193.0h6.0M1058.7 193.0h3.0M873.3 192.0h6.0M1058.7 192.0h3.0M873.3 191.0h6.0M1058.7 191.0h3.0M873.3 190.0h6.0M1058.7 190.0h3.0M874.3 189.0h5.0M1058.7 189.0h3.0M874.3 188.0h4.0M1058.7 188.0h3.0M874.3 187.0h4.0M1058.7 187.0h3.0M874.3 186.0h4.0M1058.7 186.0h3.0M874.3 185.0h4.0M1058.7 185.0h3.0M874.3 184.0h4.0M1058.7 184.0h3.0M874.3 183.0h4.0M1058.7 183.0h3.0M874.3 182.0h4.0M1058.7 182.0h3.0M874.3 181.0h4.0M1058.7 181.0h3.0M874.3 180.0h4.0M1058.7 180.0h3.0M874.3 179.0h4.0M1058.7 179.0h3.0M874.3 178.0h4.0M1058.7 178.0h3.0M874.3 177.0h4.0M1058.7 177.0h3.0M874.3 176.0h4.0M1058.7 176.0h3.0M874.3 175.0h4.0M1058.7 175.0h3.0M874.3 174.0h4.0M1058.7 174.0h3.0M1007.5 173.0h3.0M1008.5 172.0h3.0M1009.5 171.0h3.0M1010.5 170.0h3.0M1011.5 169.0h3.0M914.0 168.0h5.0M1012.6 168.0h3.0M912.0 167.0h9.9M1013.6 167.0h3.0M911.1 166.0h11.9M1014.6 166.0h3.0M910.1 165.0h5.0M920.0 165.0h4.0M1015.6 165.0h3.0M909.1 164.0h4.0M921.0 164.0h4.0M1016.6 164.0h3.0M909.1 163.0h3.0M923.0 163.0h3.0M1017.6 163.0h3.0M908.1 162.0h4.0M923.0 162.0h3.0M1018.6 162.0h3.0M908.1 161.0h3.0M924.0 161.0h3.0M1019.6 161.0h3.0M908.1 160.0h3.0M924.0 160.0h3.0M994.5 160.0h2.0M1020.6 160.0h3.0M908.1 158.9h3.0M924.0 158.9h3.0M994.5 158.9h3.0M1021.6 158.9h3.0M908.1 157.9h3.0M925.0 157.9h2.0M995.5 157.9h3.0M1022.6 157.9h3.0M908.1 156.9h3.0M925.0 156.9h2.0M996.5 156.9h3.0M1023.6 156.9h3.0M908.1 155.9h3.0M924.0 155.9h3.0M997.5 155.9h3.0M1024.6 155.9h3.0M908.1 154.9h3.0M924.0 154.9h3.0M998.5 154.9h3.0M1024.6 154.9h4.0M909.1 153.9h3.0M924.0 153.9h3.0M999.5 153.9h3.0M1025.6 153.9h4.0M909.1 152.9h3.0M923.0 152.9h3.0M1000.5 152.9h3.0M1026.6 152.9h3.0M910.1 151.9h3.0M922.0 151.9h4.0M1001.5 151.9h3.0M1027.6 151.9h3.0M910.1 150.9h5.0M921.0 150.9h4.0M1002.5 150.9h3.0M1028.6 150.9h3.0M911.1 149.9h12.9M1003.5 149.9h3.0M1029.6 149.9h3.0M913.0 148.9h9.9M1004.5 148.9h3.0M1030.6 148.9h3.0M915.0 147.9h6.0M1005.5 147.9h3.0M1031.6 147.9h3.0M1006.5 146.9h3.0M1032.6 146.9h3.0M1007.5 145.9h3.0M1033.6 145.9h2.0M1008.5 144.9h3.0M1033.6 144.9h3.0M1009.5 143.9h3.0M1034.6 143.9h3.0M1010.5 142.9h4.0M1035.6 142.9h2.0M1011.5 141.9h4.0M1036.6 141.9h2.0M1012.6 140.9h4.0M1036.6 140.9h2.0M1013.6 139.9h4.0M1037.6 139.9h2.0M1015.6 138.9h3.0M1038.6 138.9h2.0M1016.6 137.9h3.0M1039.6 137.9h2.0M1017.6 136.9h3.0M1039.6 136.9h2.0M1018.6 135.9h3.0M1040.6 135.9h2.0M1019.6 134.9h3.0M1041.6 134.9h2.0M1020.6 133.9h4.0M1042.6 133.9h2.0M1022.6 132.9h3.0M1043.6 132.9h2.0M1023.6 131.8h3.0M1044.6 131.8h2.0M1025.6 130.8h3.0M1045.6 130.8h2.0M1027.6 129.8h2.0M1046.7 129.8h2.0M1028.6 128.8h2.0M1047.7 128.8h2.0M1029.6 127.8h3.0M1047.7 127.8h3.0M1031.6 126.8h2.0M1048.7 126.8h2.0M1032.6 125.8h2.0M1049.7 125.8h2.0M1033.6 124.8h2.0M1050.7 124.8h2.0M1034.6 123.8h2.0M1051.7 123.8h2.0M1035.6 122.8h2.0M1051.7 122.8h2.0M1036.6 121.8h2.0M1052.7 121.8h2.0M1037.6 120.8h2.0M1053.7 120.8h2.0M1038.6 119.8h3.0M1054.7 119.8h2.0M1039.6 118.8h3.0M1055.7 118.8h2.0M1041.6 117.8h2.0M1056.7 117.8h2.0M1042.6 116.8h2.0M1057.7 116.8h2.0M1043.6 115.8h3.0M1058.7 115.8h2.0M1045.6 114.8h2.0M1059.7 114.8h3.0M1046.7 113.8h2.0M1061.7 113.8h4.0M1047.7 112.8h2.0M1064.7 112.8h5.0M1048.7 111.8h2.0M1068.7 111.8h5.0M1049.7 110.8h2.0M1070.7 110.8h6.0M948.8 109.8h8.9M1050.7 109.8h2.0M1072.7 109.8h6.0M939.9 108.8h9.9M956.7 108.8h38.8M1051.7 108.8h2.0M1074.7 108.8h5.0M1121.9 108.8h11.0M937.9 107.8h4.0M970.7 107.8h24.8M1052.7 107.8h2.0M1075.7 107.8h7.0M1119.9 107.8h13.0M937.9 106.8h2.0M1052.7 106.8h2.0M1077.7 106.8h9.0M1114.9 106.8h11.0M936.9 105.8h3.0M1053.7 105.8h2.0M1080.8 105.8h43.1M936.9 104.8h2.0M1053.7 104.8h2.0M1085.8 104.8h36.1M936.9 103.7h2.0M1053.7 103.7h2.0M1101.8 103.7h12.0M936.9 102.7h2.0M1054.7 102.7h2.0M936.9 101.7h2.0M1054.7 101.7h2.0M936.9 100.7h2.0M1054.7 100.7h2.0M936.9 99.7h2.0M1054.7 99.7h2.0M936.9 98.7h2.0M1055.7 98.7h2.0M936.9 97.7h2.0M1055.7 97.7h2.0M936.9 96.7h3.0M1055.7 96.7h3.0M936.9 95.7h3.0M1055.7 95.7h3.0M937.9 94.7h2.0M1056.7 94.7h3.0M937.9 93.7h2.0M1056.7 93.7h3.0M937.9 92.7h2.0M1056.7 92.7h4.0M937.9 91.7h2.0M1057.7 91.7h4.0M937.9 90.7h2.0M1057.7 90.7h4.0M937.9 89.7h2.0M1058.7 89.7h4.0M937.9 88.7h2.0M1059.7 88.7h3.0M937.9 87.7h2.0M1059.7 87.7h3.0M937.9 86.7h2.0M1059.7 86.7h4.0M937.9 85.7h2.0M1060.7 85.7h3.0M937.9 84.7h2.0M1060.7 84.7h3.0M937.9 83.7h2.0M1060.7 83.7h3.0M937.9 82.7h2.0M1060.7 82.7h3.0M937.9 81.7h2.0M1061.7 81.7h3.0M937.9 80.7h2.0M1061.7 80.7h3.0M937.9 79.7h2.0M1061.7 79.7h3.0M937.9 78.7h2.0M1061.7 78.7h3.0M937.9 77.7h2.0M1061.7 77.7h3.0M937.9 76.6h2.0M1061.7 76.6h3.0M937.9 75.6h2.0M1061.7 75.6h3.0M937.9 74.6h2.0M1061.7 74.6h3.0M937.9 73.6h2.0M1061.7 73.6h3.0M937.9 72.6h2.0M1061.7 72.6h3.0M937.9 71.6h2.0M1061.7 71.6h3.0M937.9 70.6h2.0M1061.7 70.6h3.0M937.9 69.6h2.0M1061.7 69.6h3.0M937.9 68.6h2.0M1061.7 68.6h3.0M937.9 67.6h2.0M1061.7 67.6h3.0M937.9 66.6h2.0M1061.7 66.6h3.0M937.9 65.6h2.0M1061.7 65.6h4.0M937.9 64.6h2.0M1061.7 64.6h4.0M937.9 63.6h2.0M1061.7 63.6h4.0M937.9 62.6h2.0M1061.7 62.6h4.0M937.9 61.6h2.0M1061.7 61.6h4.0M937.9 60.6h2.0M1061.7 60.6h4.0M937.9 59.6h2.0M1061.7 59.6h4.0M936.9 58.6h3.0M1061.7 58.6h4.0M936.9 57.6h3.0M1061.7 57.6h4.0M936.9 56.6h3.0M1061.7 56.6h4.0M936.9 55.6h3.0M1061.7 55.6h4.0M936.9 54.6h2.0M1061.7 54.6h3.0M936.9 53.6h2.0M1061.7 53.6h3.0M936.9 52.6h2.0M1060.7 52.6h4.0M936.9 51.6h2.0M1060.7 51.6h4.0M936.9 50.6h2.0M1060.7 50.6h4.0M935.9 49.5h2.0M1060.7 49.5h4.0M935.9 48.5h2.0M1060.7 48.5h4.0M1059.7 47.5h5.0M934.9 46.5h2.0M1059.7 46.5h4.0M934.9 45.5h2.0M1058.7 45.5h5.0M1058.7 44.5h4.0M1058.7 43.5h4.0M1058.7 42.5h3.0M1058.7 41.5h3.0M1058.7 40.5h3.0M933.9 39.5h2.0M1058.7 39.5h3.0M933.9 38.5h2.0M1058.7 38.5h3.0M933.9 37.5h2.0M1058.7 37.5h3.0M933.9 36.5h2.0M1058.7 36.5h3.0"/>
<path stroke="#ffd090" d="M864.4 309.8h2.0M858.4 303.8h2.0M869.3 302.8h2.0M871.3 301.8h2.0M874.3 300.8h2.0M876.3 299.8h4.0M865.4 298.8h2.0M879.3 298.8h4.0M881.2 297.8h5.0M942.8 297.8h11.9M866.3 296.8h2.0M882.2 296.8h7.0M939.9 296.8h55.6M884.2 295.8h8.0M938.9 295.8h7.0M950.8 295.8h44.7M886.2 294.8h7.0M937.9 294.8h7.0M978.6 294.8h16.9M867.3 293.8h2.0M887.2 293.8h8.0M937.9 293.8h6.0M889.2 292.8h7.0M937.9 292.8h6.0M868.3 291.8h2.0M890.2 291.8h7.0M937.9 291.8h6.0M868.3 290.8h2.0M891.2 290.8h6.0M936.9 290.8h7.0M979.6 290.8h15.9M868.3 289.8h2.0M893.2 289.8h5.0M936.9 289.8h8.9M950.8 289.8h44.7M869.3 288.8h2.0M894.2 288.8h4.0M936.9 288.8h58.6M869.3 287.8h2.0M895.2 287.8h4.0M936.9 287.8h58.6M869.3 286.8h3.0M896.2 286.8h3.0M936.9 286.8h58.6M870.3 285.8h3.0M897.1 285.8h3.0M935.9 285.8h59.6M870.3 284.8h3.0M898.1 284.8h2.0M935.9 284.8h59.6M870.3 283.8h4.0M899.1 283.8h2.0M935.9 283.8h59.6M871.3 282.8h3.0M899.1 282.8h3.0M934.9 282.8h60.6M871.3 281.8h4.0M900.1 281.8h2.0M934.9 281.8h60.6M871.3 280.8h5.0M901.1 280.8h2.0M934.9 280.8h60.6M872.3 279.8h4.0M902.1 279.8h2.0M934.9 279.8h60.6M872.3 278.8h5.0M903.1 278.8h2.0M933.9 278.8h61.6M872.3 277.8h6.0M904.1 277.8h3.0M933.9 277.8h61.6M873.3 276.8h6.0M905.1 276.8h3.0M934.9 276.8h60.6M874.3 275.9h5.0M907.1 275.9h2.0M874.3 274.9h6.0M908.1 274.9h3.0M875.3 273.9h6.0M909.1 273.9h4.0M876.3 272.9h6.0M911.1 272.9h4.0M878.3 271.9h5.0M912.0 271.9h13.9M880.3 270.9h4.0M914.0 270.9h16.9M882.2 269.9h3.0M915.0 269.9h7.0M924.0 269.9h8.9M884.2 268.9h3.0M917.0 268.9h5.0M926.9 268.9h6.0M885.2 267.9h3.0M927.9 267.9h5.0M887.2 266.9h2.0M928.9 266.9h5.0M888.2 265.9h2.0M928.9 265.9h5.0M889.2 264.9h2.0M926.0 264.9h8.9M890.2 263.9h2.0M926.0 263.9h8.9M890.2 262.9h3.0M926.9 262.9h8.0M891.2 261.9h2.0M928.9 261.9h5.0M1005.5 261.9h7.0M892.2 260.9h2.0M931.9 260.9h2.0M1002.5 260.9h14.0M893.2 259.9h2.0M931.9 259.9h2.0M1001.5 259.9h5.0M1013.6 259.9h4.0M893.2 258.9h3.0M931.9 258.9h2.0M1000.5 258.9h4.0M1015.6 258.9h4.0M894.2 257.9h2.0M999.5 257.9h4.0M1017.6 257.9h3.0M894.2 256.9h3.0M998.5 256.9h4.0M1018.6 256.9h3.0M895.2 255.9h3.0M998.5 255.9h3.0M1018.6 255.9h4.0M895.2 254.9h3.0M997.5 254.9h4.0M1019.6 254.9h3.0M896.2 253.9h3.0M997.5 253.9h3.0M1019.6 253.9h4.0M896.2 252.9h4.0M997.5 252.9h3.0M1020.6 252.9h3.0M896.2 251.9h4.0M997.5 251.9h3.0M1020.6 251.9h3.0M896.2 250.9h5.0M997.5 250.9h3.0M1020.6 250.9h4.0M896.2 249.9h5.0M997.5 249.9h4.0M1020.6 249.9h4.0M896.2 248.9h5.0M998.5 248.9h3.0M1020.6 248.9h3.0M896.2 247.9h5.0M998.5 247.9h3.0M1019.6 247.9h4.0M896.2 246.9h3.0M999.5 246.9h3.0M1019.6 246.9h4.0M896.2 245.9h3.0M1000.5 245.9h3.0M1018.6 245.9h4.0M896.2 244.9h3.0M1001.5 244.9h3.0M1017.6 244.9h5.0M896.2 243.9h4.0M1002.5 243.9h3.0M1016.6 243.9h5.0M897.1 242.9h3.0M931.9 242.9h2.0M1003.5 242.9h4.0M1014.6 242.9h5.0M897.1 241.9h3.0M903.1 241.9h3.0M1005.5 241.9h12.0M897.1 240.9h4.0M903.1 240.9h4.0M932.9 240.9h2.0M1009.5 240.9h5.0M897.1 239.9h5.0M903.1 239.9h4.0M933.9 239.9h2.0M897.1 238.9h10.9M934.9 238.9h2.0M898.1 237.9h9.9M935.9 237.9h2.0M898.1 236.9h9.9M936.9 236.9h2.0M901.1 235.9h9.9M925.0 235.9h2.0M938.9 235.9h2.0M903.1 234.9h4.0M926.9 234.9h2.0M942.8 234.9h7.0M889.2 233.9h3.0M927.9 233.9h2.0M960.7 233.9h34.8M1121.9 233.9h7.0M885.2 232.9h8.0M928.9 232.9h2.0M1117.9 232.9h4.0M882.2 231.9h10.9M929.9 231.9h2.0M1060.7 231.9h13.0M1108.8 231.9h10.0M877.3 230.9h15.9M930.9 230.9h2.0M1059.7 230.9h3.0M1072.7 230.9h37.1M873.3 229.9h19.9M1058.7 229.9h2.0M872.3 228.9h20.9M931.9 228.9h2.0M1057.7 228.9h3.0M871.3 227.9h21.9M1057.7 227.9h2.0M871.3 226.9h21.9M1057.7 226.9h2.0M871.3 225.9h21.9M1057.7 225.9h2.0M870.3 224.9h5.0M878.3 224.9h14.9M932.9 224.9h2.0M1057.7 224.9h2.0M870.3 223.9h4.0M878.3 223.9h14.9M932.9 223.9h2.0M1057.7 223.9h2.0M870.3 222.9h3.0M879.3 222.9h13.9M932.9 222.9h2.0M1056.7 222.9h3.0M870.3 221.9h3.0M879.3 221.9h13.9M932.9 221.9h2.0M1056.7 221.9h3.0M870.3 220.9h3.0M879.3 220.9h13.9M932.9 220.9h2.0M1056.7 220.9h3.0M870.3 219.9h3.0M879.3 219.9h13.9M932.9 219.9h2.0M1056.7 219.9h3.0M870.3 218.9h3.0M879.3 218.9h13.9M1056.7 218.9h2.0M870.3 217.9h3.0M879.3 217.9h13.9M1056.7 217.9h2.0M870.3 216.9h4.0M878.3 216.9h14.9M1056.7 216.9h2.0M870.3 215.9h4.0M878.3 215.9h14.9M1056.7 215.9h2.0M870.3 214.9h4.0M878.3 214.9h14.9M1056.7 214.9h2.0M871.3 213.9h3.0M878.3 213.9h14.9M1056.7 213.9h2.0M871.3 212.9h3.0M878.3 212.9h14.9M1056.7 212.9h2.0M871.3 211.9h3.0M878.3 211.9h14.9M1056.7 211.9h2.0M871.3 210.9h3.0M878.3 210.9h14.9M1057.7 210.9h2.0M871.3 209.9h3.0M878.3 209.9h14.9M1057.7 209.9h2.0M871.3 208.9h3.0M878.3 208.9h14.9M1057.7 208.9h2.0M871.3 207.9h3.0M878.3 207.9h14.9M1057.7 207.9h2.0M871.3 207.0h3.0M878.3 207.0h14.9M933.9 207.0h2.0M1057.7 207.0h2.0M871.3 206.0h3.0M878.3 206.0h14.9M933.9 206.0h2.0M1057.7 206.0h2.0M871.3 205.0h3.0M878.3 205.0h14.9M933.9 205.0h2.0M1057.7 205.0h2.0M871.3 204.0h3.0M878.3 204.0h14.9M933.9 204.0h2.0M1057.7 204.0h2.0M871.3 203.0h3.0M878.3 203.0h14.9M933.9 203.0h2.0M1057.7 203.0h2.0M871.3 202.0h3.0M878.3 202.0h14.9M933.9 202.0h2.0M1057.7 202.0h2.0M871.3 201.0h3.0M878.3 201.0h14.9M933.9 201.0h2.0M1057.7 201.0h2.0M871.3 200.0h3.0M878.3 200.0h14.9M933.9 200.0h2.0M1057.7 200.0h2.0M871.3 199.0h3.0M878.3 199.0h14.9M933.9 199.0h2.0M1057.7 199.0h2.0M871.3 198.0h3.0M878.3 198.0h14.9M933.9 198.0h2.0M1057.7 198.0h2.0M871.3 197.0h3.0M878.3 197.0h14.9M933.9 197.0h2.0M1057.7 197.0h2.0M871.3 196.0h3.0M878.3 196.0h14.9M933.9 196.0h2.0M1057.7 196.0h2.0M871.3 195.0h3.0M878.3 195.0h14.9M933.9 195.0h2.0M1057.7 195.0h2.0M871.3 194.0h3.0M878.3 194.0h14.9M933.9 194.0h2.0M1057.7 194.0h2.0M871.3 193.0h3.0M878.3 193.0h14.9M933.9 193.0h2.0M1057.7 193.0h2.0M871.3 192.0h3.0M878.3 192.0h14.9M933.9 192.0h2.0M1057.7 192.0h2.0M871.3 191.0h3.0M878.3 191.0h14.9M933.9 191.0h2.0M1057.7 191.0h2.0M871.3 190.0h3.0M878.3 190.0h14.9M933.9 190.0h2.0M1057.7 190.0h2.0M871.3 189.0h4.0M878.3 189.0h14.9M933.9 189.0h2.0M1057.7 189.0h2.0M871.3 188.0h4.0M877.3 188.0h15.9M933.9 188.0h2.0M1057.7 188.0h2.0M871.3 187.0h4.0M877.3 187.0h15.9M933.9 187.0h2.0M1057.7 187.0h2.0M871.3 186.0h4.0M877.3 186.0h15.9M933.9 186.0h2.0M1057.7 186.0h2.0M871.3 185.0h4.0M877.3 185.0h15.9M933.9 185.0h2.0M1057.7 185.0h2.0M871.3 184.0h4.0M877.3 184.0h15.9M933.9 184.0h2.0M1057.7 184.0h2.0M871.3 183.0h4.0M877.3 183.0h15.9M933.9 183.0h2.0M1057.7 183.0h2.0M871.3 182.0h4.0M877.3 182.0h15.9M933.9 182.0h2.0M1057.7 182.0h2.0M871.3 181.0h4.0M877.3 181.0h15.9M933.9 181.0h2.0M1057.7 181.0h2.0M871.3 180.0h4.0M877.3 180.0h15.9M933.9 180.0h2.0M1057.7 180.0h2.0M871.3 179.0h4.0M877.3 179.0h15.9M933.9 179.0h2.0M1057.7 179.0h2.0M871.3 178.0h4.0M877.3 178.0h15.9M933.9 178.0h2.0M1057.7 178.0h2.0M871.3 177.0h4.0M877.3 177.0h15.9M933.9 177.0h2.0M1057.7 177.0h2.0M871.3 176.0h4.0M877.3 176.0h15.9M933.9 176.0h2.0M1057.7 176.0h2.0M871.3 175.0h4.0M877.3 175.0h15.9M933.9 175.0h2.0M1057.7 175.0h2.0M871.3 174.0h4.0M877.3 174.0h15.9M933.9 174.0h2.0M1057.7 174.0h2.0M1009.5 173.0h7.0M1010.5 172.0h7.0M1011.5 171.0h7.0M913.0 170.0h7.0M1012.6 170.0h7.0M911.1 169.0h10.9M1013.6 169.0h7.0M910.1 168.0h5.0M918.0 168.0h5.0M1014.6 168.0h7.0M909.1 167.0h4.0M921.0 167.0h3.0M1015.6 167.0h7.0M908.1 166.0h4.0M922.0 166.0h3.0M1016.6 166.0h7.0M907.1 165.0h4.0M923.0 165.0h3.0M1017.6 165.0h6.0M907.1 164.0h3.0M924.0 164.0h3.0M1018.6 164.0h6.0M907.1 163.0h3.0M925.0 163.0h2.0M1019.6 163.0h6.0M906.1 162.0h3.0M925.0 162.0h3.0M1020.6 162.0h6.0M906.1 161.0h3.0M926.0 161.0h2.0M1021.6 161.0h6.0M906.1 160.0h3.0M926.0 160.0h2.0M1022.6 160.0h6.0M906.1 158.9h3.0M926.0 158.9h2.0M1023.6 158.9h6.0M906.1 157.9h3.0M926.0 157.9h3.0M994.5 157.9h2.0M1024.6 157.9h6.0M906.1 156.9h3.0M926.0 156.9h3.0M994.5 156.9h3.0M1025.6 156.9h5.0M907.1 155.9h2.0M926.0 155.9h3.0M994.5 155.9h4.0M1026.6 155.9h5.0M907.1 154.9h2.0M926.0 154.9h3.0M994.5 154.9h5.0M1027.6 154.9h5.0M907.1 153.9h3.0M926.0 153.9h2.0M994.5 153.9h6.0M1028.6 153.9h5.0M907.1 152.9h3.0M925.0 152.9h3.0M994.5 152.9h7.0M1028.6 152.9h6.0M908.1 151.9h3.0M925.0 151.9h3.0M995.5 151.9h7.0M1029.6 151.9h6.0M909.1 150.9h2.0M924.0 150.9h3.0M996.5 150.9h7.0M1030.6 150.9h5.0M909.1 149.9h3.0M923.0 149.9h4.0M997.5 149.9h7.0M1031.6 149.9h5.0M910.1 148.9h4.0M922.0 148.9h4.0M998.5 148.9h7.0M1032.6 148.9h4.0M911.1 147.9h5.0M920.0 147.9h6.0M999.5 147.9h7.0M1033.6 147.9h4.0M912.0 146.9h12.9M1000.5 146.9h7.0M1034.6 146.9h3.0M914.0 145.9h8.9M1001.5 145.9h7.0M1034.6 145.9h4.0M917.0 144.9h3.0M1003.5 144.9h6.0M1035.6 144.9h3.0M1004.5 143.9h6.0M1036.6 143.9h2.0M1005.5 142.9h6.0M1036.6 142.9h3.0M1006.5 141.9h6.0M1037.6 141.9h2.0M1007.5 140.9h6.0M1037.6 140.9h3.0M1008.5 139.9h6.0M1038.6 139.9h2.0M1009.5 138.9h7.0M1039.6 138.9h2.0M1011.5 137.9h6.0M1040.6 137.9h2.0M1012.6 136.9h6.0M1040.6 136.9h2.0M1013.6 135.9h6.0M1041.6 135.9h2.0M1014.6 134.9h6.0M1042.6 134.9h2.0M1015.6 133.9h6.0M1043.6 133.9h2.0M1017.6 132.9h6.0M1044.6 132.9h2.0M1019.6 131.8h5.0M1045.6 131.8h2.0M1021.6 130.8h5.0M1046.7 130.8h2.0M1024.6 129.8h4.0M1047.7 129.8h2.0M1026.6 128.8h3.0M1048.7 128.8h2.0M1028.6 127.8h2.0M1049.7 127.8h2.0M1029.6 126.8h3.0M1049.7 126.8h3.0M1031.6 125.8h2.0M1050.7 125.8h3.0M1032.6 124.8h2.0M1051.7 124.8h2.0M1033.6 123.8h2.0M1052.7 123.8h2.0M1034.6 122.8h2.0M1052.7 122.8h3.0M1035.6 121.8h2.0M1053.7 121.8h2.0M1036.6 120.8h2.0M1054.7 120.8h2.0M1037.6 119.8h2.0M1055.7 119.8h2.0M1038.6 118.8h2.0M1056.7 118.8h2.0M1039.6 117.8h3.0M1057.7 117.8h2.0M1040.6 116.8h3.0M1058.7 116.8h3.0M1041.6 115.8h3.0M1059.7 115.8h3.0M1043.6 114.8h3.0M1061.7 114.8h4.0M1044.6 113.8h3.0M1064.7 113.8h4.0M1046.7 112.8h2.0M1068.7 112.8h8.0M1047.7 111.8h2.0M1072.7 111.8h10.0M944.8 110.8h12.9M1048.7 110.8h2.0M1075.7 110.8h57.2M938.9 109.8h10.9M956.7 109.8h38.8M1049.7 109.8h2.0M1077.7 109.8h55.2M937.9 108.8h3.0M1050.7 108.8h2.0M1078.7 108.8h44.1M936.9 107.8h2.0M1050.7 107.8h3.0M1081.8 107.8h39.1M935.9 106.8h3.0M1051.7 106.8h2.0M1085.8 106.8h30.1M935.9 105.8h2.0M1052.7 105.8h2.0M935.9 104.8h2.0M1052.7 104.8h2.0M935.9 103.7h2.0M1052.7 103.7h2.0M935.9 102.7h2.0M1053.7 102.7h2.0M935.9 101.7h2.0M1053.7 101.7h2.0M935.9 100.7h2.0M1053.7 100.7h2.0M935.9 99.7h2.0M935.9 98.7h2.0M1054.7 98.7h2.0M935.9 97.7h2.0M1054.7 97.7h2.0M935.9 96.7h2.0M1054.7 96.7h2.0M935.9 95.7h2.0M1054.7 95.7h2.0M936.9 94.7h2.0M1054.7 94.7h3.0M936.9 93.7h2.0M1054.7 93.7h3.0M936.9 92.7h2.0M1054.7 92.7h3.0M936.9 91.7h2.0M1055.7 91.7h3.0M936.9 90.7h2.0M1055.7 90.7h3.0M936.9 89.7h2.0M1055.7 89.7h4.0M936.9 88.7h2.0M1055.7 88.7h5.0M936.9 87.7h2.0M1055.7 87.7h5.0M936.9 86.7h2.0M1055.7 86.7h5.0M936.9 85.7h2.0M1056.7 85.7h5.0M936.9 84.7h2.0M1056.7 84.7h5.0M936.9 83.7h2.0M1056.7 83.7h5.0M936.9 82.7h2.0M1056.7 82.7h5.0M936.9 81.7h2.0M1056.7 81.7h6.0M936.9 80.7h2.0M1056.7 80.7h6.0M936.9 79.7h2.0M1056.7 79.7h6.0M936.9 78.7h2.0M1056.7 78.7h6.0M936.9 77.7h2.0M1056.7 77.7h6.0M936.9 76.6h2.0M1056.7 76.6h6.0M936.9 75.6h2.0M1056.7 75.6h6.0M936.9 74.6h2.0M1056.7 74.6h6.0M936.9 73.6h2.0M1056.7 73.6h6.0M936.9 72.6h2.0M1056.7 72.6h6.0M936.9 71.6h2.0M1056.7 71.6h6.0M936.9 70.6h2.0M1056.7 70.6h6.0M936.9 69.6h2.0M1056.7 69.6h6.0M936.9 68.6h2.0M1056.7 68.6h6.0M936.9 67.6h2.0M1056.7 67.6h6.0M936.9 66.6h2.0M1056.7 66.6h6.0M936.9 65.6h2.0M1056.7 65.6h6.0M936.9 64.6h2.0M1056.7 64.6h6.0M936.9 63.6h2.0M1056.7 63.6h6.0M936.9 62.6h2.0M1056.7 62.6h6.0M936.9 61.6h2.0M1056.7 61.6h6.0M936.9 60.6h2.0M1056.7 60.6h6.0M936.9 59.6h2.0M1056.7 59.6h6.0M935.9 58.6h2.0M1056.7 58.6h6.0M935.9 57.6h2.0M1056.7 57.6h6.0M935.9 56.6h2.0M1056.7 56.6h6.0M935.9 55.6h2.0M1056.7 55.6h6.0M935.9 54.6h2.0M1056.7 54.6h6.0M935.9 53.6h2.0M1056.7 53.6h6.0M935.9 52.6h2.0M1056.7 52.6h5.0M935.9 51.6h2.0M1056.7 51.6h5.0M935.9 50.6h2.0M1056.7 50.6h5.0M934.9 49.5h2.0M1056.7 49.5h5.0M934.9 48.5h2.0M1056.7 48.5h5.0M934.9 47.5h2.0M1056.7 47.5h4.0M1056.7 46.5h4.0M933.9 45.5h2.0M1056.7 45.5h3.0M933.9 44.5h2.0M1056.7 44.5h3.0M933.9 43.5h2.0M1056.7 43.5h3.0M933.9 42.5h2.0M1056.7 42.5h3.0M933.9 41.5h2.0M1056.7 41.5h3.0M933.9 40.5h2.0M1056.7 40.5h3.0M1056.7 39.5h3.0M1056.7 38.5h3.0M1056.7 37.5h3.0M1056.7 36.5h3.0"/>
<path stroke="#ffd492" d="M865.4 307.8h2.0M1015.6 306.8h13.0M866.3 305.8h2.0M1013.6 305.8h20.1M867.3 304.8h2.0M1012.6 304.8h23.1M868.3 303.8h2.0M1014.6 303.8h21.1M860.4 302.8h2.0M870.3 302.8h2.0M1016.6 302.8h19.1M862.4 301.8h2.0M872.3 301.8h3.0M1022.6 301.8h9.0M863.4 300.8h2.0M875.3 300.8h4.0M864.4 299.8h2.0M879.3 299.8h5.0M1061.7 299.8h71.2M882.2 298.8h6.0M937.9 298.8h57.6M1059.7 298.8h73.2M865.4 297.8h2.0M885.2 297.8h6.0M936.9 297.8h7.0M953.8 297.8h41.7M1059.7 297.8h73.2M888.2 296.8h5.0M936.9 296.8h4.0M1058.7 296.8h74.2M866.3 295.8h2.0M891.2 295.8h4.0M935.9 295.8h4.0M1058.7 295.8h74.2M866.3 294.8h2.0M892.2 294.8h4.0M935.9 294.8h3.0M1058.7 294.8h74.2M894.2 293.8h3.0M935.9 293.8h3.0M1058.7 293.8h74.2M867.3 292.8h2.0M895.2 292.8h3.0M934.9 292.8h4.0M1058.7 292.8h74.2M867.3 291.8h2.0M896.2 291.8h3.0M934.9 291.8h4.0M1058.7 291.8h74.2M867.3 290.8h2.0M896.2 290.8h4.0M934.9 290.8h3.0M1058.7 290.8h74.2M897.1 289.8h3.0M934.9 289.8h3.0M1058.7 289.8h74.2M868.3 288.8h2.0M897.1 288.8h4.0M934.9 288.8h3.0M1058.7 288.8h74.2M868.3 287.8h2.0M898.1 287.8h3.0M933.9 287.8h4.0M1058.7 287.8h74.2M868.3 286.8h2.0M898.1 286.8h3.0M933.9 286.8h4.0M1058.7 286.8h74.2M868.3 285.8h3.0M899.1 285.8h3.0M933.9 285.8h3.0M1058.7 285.8h74.2M869.3 284.8h2.0M899.1 284.8h3.0M932.9 284.8h4.0M1058.7 284.8h74.2M869.3 283.8h2.0M900.1 283.8h3.0M932.9 283.8h4.0M1058.7 283.8h21.1M1084.8 283.8h48.1M869.3 282.8h3.0M901.1 282.8h2.0M932.9 282.8h3.0M1058.7 282.8h20.1M1092.8 282.8h40.1M869.3 281.8h3.0M901.1 281.8h3.0M931.9 281.8h4.0M1058.7 281.8h18.0M1093.8 281.8h39.1M870.3 280.8h2.0M902.1 280.8h3.0M931.9 280.8h4.0M1058.7 280.8h16.0M1095.8 280.8h37.1M870.3 279.8h3.0M903.1 279.8h3.0M930.9 279.8h5.0M1058.7 279.8h14.0M1096.8 279.8h36.1M870.3 278.8h3.0M904.1 278.8h3.0M930.9 278.8h4.0M1058.7 278.8h13.0M1098.8 278.8h34.1M871.3 277.8h2.0M906.1 277.8h3.0M929.9 277.8h5.0M1059.7 277.8h10.0M1099.8 277.8h33.1M871.3 276.8h3.0M907.1 276.8h4.0M929.9 276.8h6.0M1060.7 276.8h7.0M1101.8 276.8h31.1M872.3 275.9h3.0M908.1 275.9h5.0M928.9 275.9h66.6M1102.8 275.9h30.1M872.3 274.9h3.0M910.1 274.9h7.0M926.9 274.9h68.6M1104.8 274.9h28.1M873.3 273.9h3.0M912.0 273.9h8.9M923.0 273.9h72.5M1120.9 273.9h12.0M874.3 272.9h3.0M914.0 272.9h81.5M875.3 271.9h4.0M925.0 271.9h15.9M876.3 270.9h5.0M929.9 270.9h9.9M877.3 269.9h6.0M931.9 269.9h8.0M879.3 268.9h6.0M931.9 268.9h7.0M882.2 267.9h4.0M931.9 267.9h7.0M884.2 266.9h4.0M932.9 266.9h5.0M886.2 265.9h3.0M932.9 265.9h4.0M887.2 264.9h3.0M933.9 264.9h3.0M888.2 263.9h3.0M933.9 263.9h2.0M889.2 262.9h2.0M933.9 262.9h2.0M1002.5 262.9h12.0M890.2 261.9h2.0M932.9 261.9h2.0M1000.5 261.9h6.0M1011.5 261.9h6.0M1045.6 261.9h5.0M890.2 260.9h3.0M932.9 260.9h2.0M998.5 260.9h5.0M1015.6 260.9h4.0M1043.6 260.9h8.0M891.2 259.9h3.0M997.5 259.9h5.0M1016.6 259.9h4.0M1043.6 259.9h9.0M891.2 258.9h3.0M996.5 258.9h5.0M1018.6 258.9h4.0M1042.6 258.9h11.0M892.2 257.9h3.0M931.9 257.9h2.0M995.5 257.9h5.0M1019.6 257.9h4.0M1042.6 257.9h11.0M892.2 256.9h3.0M931.9 256.9h2.0M995.5 256.9h4.0M1020.6 256.9h4.0M1041.6 256.9h12.0M893.2 255.9h3.0M995.5 255.9h4.0M1021.6 255.9h4.0M1041.6 255.9h12.0M893.2 254.9h3.0M994.5 254.9h4.0M1021.6 254.9h4.0M1041.6 254.9h12.0M893.2 253.9h4.0M994.5 253.9h4.0M1022.6 253.9h4.0M1041.6 253.9h11.0M893.2 252.9h4.0M930.9 252.9h2.0M994.5 252.9h4.0M1022.6 252.9h4.0M1042.6 252.9h10.0M894.2 251.9h3.0M930.9 251.9h2.0M994.5 251.9h4.0M1022.6 251.9h5.0M1042.6 251.9h9.0M894.2 250.9h3.0M930.9 250.9h2.0M995.5 250.9h3.0M1023.6 250.9h4.0M1043.6 250.9h8.0M894.2 249.9h3.0M930.9 249.9h2.0M995.5 249.9h3.0M1023.6 249.9h4.0M1044.6 249.9h5.0M894.2 248.9h3.0M930.9 248.9h2.0M995.5 248.9h4.0M1022.6 248.9h5.0M895.2 247.9h2.0M930.9 247.9h2.0M996.5 247.9h3.0M1022.6 247.9h5.0M895.2 246.9h2.0M930.9 246.9h2.0M996.5 246.9h4.0M1022.6 246.9h5.0M895.2 245.9h2.0M997.5 245.9h4.0M1021.6 245.9h5.0M894.2 244.9h3.0M998.5 244.9h4.0M1021.6 244.9h5.0M894.2 243.9h3.0M931.9 243.9h2.0M999.5 243.9h4.0M1020.6 243.9h5.0M894.2 242.9h4.0M1000.5 242.9h4.0M1018.6 242.9h6.0M894.2 241.9h4.0M932.9 241.9h2.0M1002.5 241.9h4.0M1016.6 241.9h7.0M893.2 240.9h5.0M1003.5 240.9h7.0M1013.6 240.9h8.0M893.2 239.9h5.0M1006.5 239.9h13.0M892.2 238.9h6.0M890.2 237.9h8.9M888.2 236.9h10.9M915.0 236.9h8.0M937.9 236.9h2.0M886.2 235.9h15.9M910.1 235.9h3.0M924.0 235.9h2.0M939.9 235.9h3.0M883.2 234.9h20.9M906.1 234.9h3.0M926.0 234.9h2.0M948.8 234.9h46.7M1127.9 234.9h5.0M880.3 233.9h9.9M891.2 233.9h15.9M1119.9 233.9h3.0M875.3 232.9h10.9M892.2 232.9h12.9M1061.7 232.9h10.0M1110.8 232.9h8.0M872.3 231.9h10.9M892.2 231.9h10.9M1058.7 231.9h3.0M1072.7 231.9h37.1M870.3 230.9h8.0M892.2 230.9h9.9M1057.7 230.9h3.0M869.3 229.9h5.0M892.2 229.9h8.0M930.9 229.9h2.0M1056.7 229.9h3.0M869.3 228.9h4.0M892.2 228.9h6.0M1056.7 228.9h2.0M869.3 227.9h3.0M892.2 227.9h5.0M931.9 227.9h2.0M1055.7 227.9h3.0M869.3 226.9h3.0M892.2 226.9h5.0M931.9 226.9h2.0M1055.7 226.9h3.0M869.3 225.9h3.0M892.2 225.9h5.0M1055.7 225.9h3.0M869.3 224.9h2.0M892.2 224.9h5.0M1055.7 224.9h3.0M869.3 223.9h2.0M892.2 223.9h5.0M1055.7 223.9h3.0M869.3 222.9h2.0M892.2 222.9h5.0M1055.7 222.9h2.0M869.3 221.9h2.0M892.2 221.9h5.0M1055.7 221.9h2.0M869.3 220.9h2.0M892.2 220.9h5.0M1055.7 220.9h2.0M869.3 219.9h2.0M892.2 219.9h5.0M1055.7 219.9h2.0M869.3 218.9h2.0M892.2 218.9h5.0M932.9 218.9h2.0M1055.7 218.9h2.0M869.3 217.9h2.0M892.2 217.9h5.0M932.9 217.9h2.0M1055.7 217.9h2.0M869.3 216.9h2.0M892.2 216.9h5.0M932.9 216.9h2.0M1055.7 216.9h2.0M869.3 215.9h2.0M892.2 215.9h5.0M932.9 215.9h2.0M1055.7 215.9h2.0M869.3 214.9h2.0M892.2 214.9h5.0M932.9 214.9h2.0M1055.7 214.9h2.0M869.3 213.9h3.0M892.2 213.9h5.0M932.9 213.9h2.0M1055.7 213.9h2.0M869.3 212.9h3.0M892.2 212.9h5.0M932.9 212.9h2.0M1055.7 212.9h2.0M869.3 211.9h3.0M892.2 211.9h5.0M932.9 211.9h2.0M1055.7 211.9h2.0M869.3 210.9h3.0M892.2 210.9h5.0M932.9 210.9h2.0M1055.7 210.9h3.0M869.3 209.9h3.0M892.2 209.9h5.0M932.9 209.9h2.0M1055.7 209.9h3.0M869.3 208.9h3.0M892.2 208.9h5.0M932.9 208.9h2.0M1055.7 208.9h3.0M869.3 207.9h3.0M892.2 207.9h5.0M932.9 207.9h2.0M1055.7 207.9h3.0M869.3 207.0h3.0M892.2 207.0h5.0M932.9 207.0h2.0M1056.7 207.0h2.0M869.3 206.0h3.0M892.2 206.0h5.0M932.9 206.0h2.0M1056.7 206.0h2.0M869.3 205.0h3.0M892.2 205.0h5.0M932.9 205.0h2.0M1056.7 205.0h2.0M869.3 204.0h3.0M892.2 204.0h5.0M932.9 204.0h2.0M1056.7 204.0h2.0M869.3 203.0h3.0M892.2 203.0h5.0M932.9 203.0h2.0M1056.7 203.0h2.0M869.3 202.0h3.0M892.2 202.0h5.0M932.9 202.0h2.0M1056.7 202.0h2.0M869.3 201.0h3.0M892.2 201.0h5.0M932.9 201.0h2.0M1056.7 201.0h2.0M869.3 200.0h3.0M892.2 200.0h5.0M932.9 200.0h2.0M1056.7 200.0h2.0M869.3 199.0h3.0M892.2 199.0h5.0M932.9 199.0h2.0M1056.7 199.0h2.0M869.3 198.0h3.0M892.2 198.0h5.0M932.9 198.0h2.0M1056.7 198.0h2.0M869.3 197.0h3.0M892.2 197.0h5.0M932.9 197.0h2.0M1056.7 197.0h2.0M869.3 196.0h3.0M892.2 196.0h5.0M932.9 196.0h2.0M1056.7 196.0h2.0M869.3 195.0h3.0M892.2 195.0h5.0M932.9 195.0h2.0M1056.7 195.0h2.0M869.3 194.0h3.0M892.2 194.0h5.0M932.9 194.0h2.0M1056.7 194.0h2.0M869.3 193.0h3.0M892.2 193.0h5.0M932.9 193.0h2.0M1056.7 193.0h2.0M869.3 192.0h3.0M892.2 192.0h5.0M932.9 192.0h2.0M1056.7 192.0h2.0M869.3 191.0h3.0M892.2 191.0h5.0M932.9 191.0h2.0M1056.7 191.0h2.0M869.3 190.0h3.0M892.2 190.0h5.0M932.9 190.0h2.0M1056.7 190.0h2.0M869.3 189.0h3.0M892.2 189.0h5.0M932.9 189.0h2.0M1056.7 189.0h2.0M869.3 188.0h3.0M892.2 188.0h5.0M932.9 188.0h2.0M1056.7 188.0h2.0M869.3 187.0h3.0M892.2 187.0h5.0M932.9 187.0h2.0M1056.7 187.0h2.0M869.3 186.0h3.0M892.2 186.0h5.0M932.9 186.0h2.0M1056.7 186.0h2.0M869.3 185.0h3.0M892.2 185.0h5.0M932.9 185.0h2.0M1056.7 185.0h2.0M869.3 184.0h3.0M892.2 184.0h5.0M932.9 184.0h2.0M1056.7 184.0h2.0M869.3 183.0h3.0M892.2 183.0h5.0M932.9 183.0h2.0M1056.7 183.0h2.0M869.3 182.0h3.0M892.2 182.0h5.0M932.9 182.0h2.0M1056.7 182.0h2.0M869.3 181.0h3.0M892.2 181.0h5.0M932.9 181.0h2.0M1056.7 181.0h2.0M869.3 180.0h3.0M892.2 180.0h5.0M932.9 180.0h2.0M1056.7 180.0h2.0M869.3 179.0h3.0M892.2 179.0h5.0M932.9 179.0h2.0M1056.7 179.0h2.0M869.3 178.0h3.0M892.2 178.0h5.0M932.9 178.0h2.0M1056.7 178.0h2.0M869.3 177.0h3.0M892.2 177.0h5.0M932.9 177.0h2.0M1056.7 177.0h2.0M869.3 176.0h3.0M892.2 176.0h5.0M932.9 176.0h2.0M1056.7 176.0h2.0M869.3 175.0h3.0M892.2 175.0h5.0M932.9 175.0h2.0M1056.7 175.0h2.0M869.3 174.0h3.0M892.2 174.0h5.0M932.9 174.0h2.0M1056.7 174.0h2.0M913.0 173.0h5.0M1015.6 173.0h6.0M910.1 172.0h10.9M1016.6 172.0h5.0M909.1 171.0h13.9M1017.6 171.0h5.0M908.1 170.0h6.0M919.0 170.0h5.0M1018.6 170.0h5.0M907.1 169.0h5.0M921.0 169.0h4.0M1019.6 169.0h5.0M907.1 168.0h4.0M922.0 168.0h4.0M1020.6 168.0h5.0M906.1 167.0h4.0M923.0 167.0h4.0M1021.6 167.0h5.0M906.1 166.0h3.0M924.0 166.0h3.0M1022.6 166.0h5.0M905.1 165.0h3.0M925.0 165.0h3.0M1022.6 165.0h6.0M905.1 164.0h3.0M926.0 164.0h3.0M1023.6 164.0h6.0M905.1 163.0h3.0M926.0 163.0h3.0M1024.6 163.0h6.0M905.1 162.0h2.0M926.9 162.0h2.0M1025.6 162.0h5.0M905.1 161.0h2.0M926.9 161.0h3.0M1026.6 161.0h5.0M905.1 160.0h2.0M926.9 160.0h3.0M1027.6 160.0h5.0M905.1 158.9h2.0M926.9 158.9h3.0M1028.6 158.9h5.0M905.1 157.9h2.0M927.9 157.9h2.0M1029.6 157.9h5.0M905.1 156.9h2.0M927.9 156.9h2.0M1029.6 156.9h5.0M905.1 155.9h3.0M927.9 155.9h2.0M1030.6 155.9h5.0M863.4 154.9h2.0M905.1 154.9h3.0M927.9 154.9h2.0M1031.6 154.9h5.0M862.4 153.9h3.0M906.1 153.9h2.0M926.9 153.9h3.0M1032.6 153.9h5.0M862.4 152.9h4.0M906.1 152.9h2.0M926.9 152.9h3.0M1033.6 152.9h4.0M861.4 151.9h5.0M906.1 151.9h3.0M926.9 151.9h3.0M994.5 151.9h2.0M1034.6 151.9h4.0M861.4 150.9h6.0M907.1 150.9h3.0M926.0 150.9h4.0M994.5 150.9h3.0M1034.6 150.9h4.0M861.4 149.9h6.0M907.1 149.9h3.0M926.0 149.9h4.0M994.5 149.9h4.0M1035.6 149.9h4.0M861.4 148.9h6.0M908.1 148.9h3.0M925.0 148.9h4.0M994.5 148.9h5.0M1035.6 148.9h4.0M861.4 147.9h6.0M909.1 147.9h3.0M925.0 147.9h4.0M994.5 147.9h6.0M1036.6 147.9h3.0M861.4 146.9h6.0M909.1 146.9h4.0M924.0 146.9h4.0M996.5 146.9h5.0M1036.6 146.9h4.0M861.4 145.9h6.0M910.1 145.9h5.0M922.0 145.9h6.0M997.5 145.9h5.0M1037.6 145.9h3.0M861.4 144.9h7.0M911.1 144.9h7.0M919.0 144.9h8.0M998.5 144.9h6.0M1037.6 144.9h3.0M861.4 143.9h7.0M912.0 143.9h13.9M999.5 143.9h6.0M1037.6 143.9h3.0M861.4 142.9h7.0M914.0 142.9h10.9M1000.5 142.9h6.0M1038.6 142.9h2.0M861.4 141.9h7.0M916.0 141.9h7.0M1001.5 141.9h6.0M1038.6 141.9h3.0M861.4 140.9h7.0M1002.5 140.9h6.0M1039.6 140.9h2.0M862.4 139.9h6.0M1003.5 139.9h6.0M1039.6 139.9h3.0M862.4 138.9h6.0M1004.5 138.9h6.0M1040.6 138.9h2.0M862.4 137.9h6.0M1006.5 137.9h6.0M1041.6 137.9h2.0M862.4 136.9h5.0M1007.5 136.9h6.0M1041.6 136.9h3.0M862.4 135.9h5.0M1008.5 135.9h6.0M1042.6 135.9h2.0M863.4 134.9h4.0M1009.5 134.9h6.0M1043.6 134.9h2.0M863.4 133.9h4.0M1011.5 133.9h5.0M1044.6 133.9h2.0M1012.6 132.9h6.0M1045.6 132.9h3.0M1013.6 131.8h7.0M1046.7 131.8h3.0M1015.6 130.8h7.0M1047.7 130.8h3.0M1017.6 129.8h8.0M1048.7 129.8h3.0M1020.6 128.8h7.0M1049.7 128.8h3.0M1025.6 127.8h4.0M1050.7 127.8h3.0M1027.6 126.8h3.0M1051.7 126.8h2.0M911.1 125.8h5.0M1029.6 125.8h3.0M1052.7 125.8h2.0M909.1 124.8h8.9M1030.6 124.8h3.0M1052.7 124.8h3.0M907.1 123.8h11.9M1032.6 123.8h2.0M1053.7 123.8h3.0M907.1 122.8h12.9M1033.6 122.8h2.0M1054.7 122.8h2.0M906.1 121.8h13.9M1034.6 121.8h2.0M1054.7 121.8h3.0M906.1 120.8h13.9M1034.6 120.8h3.0M1055.7 120.8h3.0M906.1 119.8h13.9M1035.6 119.8h3.0M1056.7 119.8h3.0M906.1 118.8h12.9M1036.6 118.8h3.0M1057.7 118.8h3.0M907.1 117.8h11.9M1037.6 117.8h3.0M1058.7 117.8h3.0M908.1 116.8h8.9M1038.6 116.8h3.0M1060.7 116.8h3.0M909.1 115.8h6.0M1039.6 115.8h3.0M1061.7 115.8h3.0M1041.6 114.8h3.0M1064.7 114.8h4.0M1042.6 113.8h3.0M1067.7 113.8h11.0M1043.6 112.8h4.0M1075.7 112.8h57.2M939.9 111.8h21.9M1045.6 111.8h3.0M1081.8 111.8h51.1M937.9 110.8h8.0M956.7 110.8h38.8M1046.7 110.8h3.0M936.9 109.8h3.0M1047.7 109.8h3.0M871.3 108.8h19.9M935.9 108.8h3.0M1048.7 108.8h3.0M869.3 107.8h22.9M935.9 107.8h2.0M1049.7 107.8h2.0M869.3 106.8h23.8M1050.7 106.8h2.0M868.3 105.8h24.8M934.9 105.8h2.0M1050.7 105.8h3.0M868.3 104.8h24.8M934.9 104.8h2.0M1051.7 104.8h2.0M868.3 103.7h24.8M934.9 103.7h2.0M868.3 102.7h24.8M934.9 102.7h2.0M1052.7 102.7h2.0M868.3 101.7h24.8M934.9 101.7h2.0M1052.7 101.7h2.0M868.3 100.7h23.8M934.9 100.7h2.0M1052.7 100.7h2.0M868.3 99.7h23.8M934.9 99.7h2.0M1053.7 99.7h2.0M868.3 98.7h22.9M934.9 98.7h2.0M1053.7 98.7h2.0M868.3 97.7h22.9M934.9 97.7h2.0M1053.7 97.7h2.0M868.3 96.7h21.9M1053.7 96.7h2.0M868.3 95.7h20.9M1053.7 95.7h2.0M868.3 94.7h20.9M935.9 94.7h2.0M1053.7 94.7h2.0M868.3 93.7h19.9M935.9 93.7h2.0M1053.7 93.7h2.0M868.3 92.7h19.9M935.9 92.7h2.0M1053.7 92.7h2.0M868.3 91.7h18.9M935.9 91.7h2.0M1053.7 91.7h3.0M868.3 90.7h18.9M935.9 90.7h2.0M1053.7 90.7h3.0M868.3 89.7h17.9M935.9 89.7h2.0M1054.7 89.7h2.0M868.3 88.7h16.9M935.9 88.7h2.0M1054.7 88.7h2.0M868.3 87.7h16.9M935.9 87.7h2.0M1054.7 87.7h2.0M868.3 86.7h16.9M935.9 86.7h2.0M1054.7 86.7h2.0M868.3 85.7h16.9M935.9 85.7h2.0M1054.7 85.7h3.0M868.3 84.7h16.9M935.9 84.7h2.0M1054.7 84.7h3.0M868.3 83.7h16.9M935.9 83.7h2.0M1054.7 83.7h3.0M868.3 82.7h17.9M935.9 82.7h2.0M1054.7 82.7h3.0M868.3 81.7h17.9M935.9 81.7h2.0M1054.7 81.7h3.0M868.3 80.7h17.9M935.9 80.7h2.0M1054.7 80.7h3.0M868.3 79.7h17.9M935.9 79.7h2.0M1054.7 79.7h3.0M868.3 78.7h17.9M935.9 78.7h2.0M1054.7 78.7h3.0M868.3 77.7h17.9M935.9 77.7h2.0M1054.7 77.7h3.0M868.3 76.6h17.9M935.9 76.6h2.0M1054.7 76.6h3.0M868.3 75.6h17.9M935.9 75.6h2.0M1054.7 75.6h3.0M868.3 74.6h18.9M935.9 74.6h2.0M1054.7 74.6h3.0M868.3 73.6h19.9M935.9 73.6h2.0M1054.7 73.6h3.0M868.3 72.6h19.9M935.9 72.6h2.0M1054.7 72.6h3.0M868.3 71.6h20.9M935.9 71.6h2.0M1054.7 71.6h3.0M868.3 70.6h21.9M935.9 70.6h2.0M1054.7 70.6h3.0M868.3 69.6h21.9M935.9 69.6h2.0M1054.7 69.6h3.0M868.3 68.6h22.9M935.9 68.6h2.0M1054.7 68.6h3.0M868.3 67.6h23.8M935.9 67.6h2.0M1054.7 67.6h3.0M868.3 66.6h23.8M935.9 66.6h2.0M1054.7 66.6h3.0M868.3 65.6h24.8M935.9 65.6h2.0M1054.7 65.6h3.0M868.3 64.6h25.8M935.9 64.6h2.0M1054.7 64.6h3.0M868.3 63.6h25.8M935.9 63.6h2.0M1054.7 63.6h3.0M868.3 62.6h26.8M935.9 62.6h2.0M1054.7 62.6h3.0M868.3 61.6h26.8M935.9 61.6h2.0M1054.7 61.6h3.0M868.3 60.6h26.8M935.9 60.6h2.0M1054.7 60.6h3.0M868.3 59.6h26.8M935.9 59.6h2.0M1054.7 59.6h3.0M868.3 58.6h26.8M1054.7 58.6h3.0M868.3 57.6h26.8M1054.7 57.6h3.0M868.3 56.6h26.8M934.9 56.6h2.0M1054.7 56.6h3.0M868.3 55.6h26.8M934.9 55.6h2.0M1054.7 55.6h3.0M868.3 54.6h26.8M934.9 54.6h2.0M1054.7 54.6h3.0M868.3 53.6h26.8M934.9 53.6h2.0M1054.7 53.6h3.0M868.3 52.6h26.8M934.9 52.6h2.0M1054.7 52.6h3.0M868.3 51.6h26.8M934.9 51.6h2.0M1054.7 51.6h3.0M868.3 50.6h26.8M934.9 50.6h2.0M1054.7 50.6h3.0M868.3 49.5h26.8M1054.7 49.5h3.0M868.3 48.5h26.8M1054.7 48.5h3.0M868.3 47.5h26.8M933.9 47.5h2.0M1054.7 47.5h3.0M868.3 46.5h27.8M933.9 46.5h2.0M1054.7 46.5h3.0M868.3 45.5h27.8M1054.7 45.5h3.0M868.3 44.5h27.8M1054.7 44.5h3.0M868.3 43.5h27.8M1054.7 43.5h3.0M868.3 42.5h27.8M1054.7 42.5h3.0M868.3 41.5h27.8M1054.7 41.5h3.0M868.3 40.5h27.8M1054.7 40.5h3.0M868.3 39.5h27.8M932.9 39.5h2.0M1054.7 39.5h3.0M868.3 38.5h27.8M932.9 38.5h2.0M1054.7 38.5h3.0M868.3 37.5h27.8M932.9 37.5h2.0M1054.7 37.5h3.0M868.3 36.5h27.8M932.9 36.5h2.0M1054.7 36.5h3.0"/>
<path stroke="#ffeeb8" d="M914.0 309.8h15.9M1017.6 309.8h10.0M865.4 308.8h2.0M914.0 308.8h15.9M1011.5 308.8h23.1M914.0 307.8h15.9M1009.5 307.8h28.1M866.3 306.8h2.0M914.0 306.8h15.9M1007.5 306.8h9.0M1027.6 306.8h13.0M914.0 305.8h15.9M1007.5 305.8h7.0M1032.6 305.8h9.0M915.0 304.8h13.9M1008.5 304.8h5.0M1034.6 304.8h8.0M1009.5 303.8h6.0M1034.6 303.8h8.0M859.4 302.8h2.0M871.3 302.8h2.0M1011.5 302.8h6.0M1034.6 302.8h7.0M861.4 301.8h2.0M874.3 301.8h3.0M1015.6 301.8h8.0M1030.6 301.8h10.0M878.3 300.8h4.0M939.9 300.8h55.6M1021.6 300.8h15.0M1058.7 300.8h74.2M883.2 299.8h4.0M936.9 299.8h58.6M1057.7 299.8h5.0M887.2 298.8h4.0M935.9 298.8h3.0M1056.7 298.8h4.0M890.2 297.8h4.0M934.9 297.8h3.0M1056.7 297.8h4.0M865.4 296.8h2.0M892.2 296.8h4.0M934.9 296.8h3.0M1056.7 296.8h3.0M894.2 295.8h3.0M934.9 295.8h2.0M1056.7 295.8h3.0M895.2 294.8h4.0M933.9 294.8h3.0M1056.7 294.8h3.0M866.3 293.8h2.0M896.2 293.8h4.0M933.9 293.8h3.0M1056.7 293.8h3.0M866.3 292.8h2.0M897.1 292.8h3.0M933.9 292.8h2.0M1056.7 292.8h3.0M898.1 291.8h3.0M933.9 291.8h2.0M1056.7 291.8h3.0M899.1 290.8h3.0M933.9 290.8h2.0M1056.7 290.8h3.0M867.3 289.8h2.0M899.1 289.8h4.0M933.9 289.8h2.0M1056.7 289.8h3.0M867.3 288.8h2.0M900.1 288.8h3.0M932.9 288.8h3.0M1056.7 288.8h3.0M867.3 287.8h2.0M900.1 287.8h4.0M932.9 287.8h2.0M1056.7 287.8h3.0M900.1 286.8h5.0M932.9 286.8h2.0M1056.7 286.8h3.0M901.1 285.8h4.0M931.9 285.8h3.0M1056.7 285.8h3.0M868.3 284.8h2.0M901.1 284.8h5.0M931.9 284.8h2.0M1056.7 284.8h3.0M868.3 283.8h2.0M902.1 283.8h5.0M930.9 283.8h3.0M1056.7 283.8h3.0M1078.7 283.8h7.0M868.3 282.8h2.0M902.1 282.8h6.0M930.9 282.8h3.0M1056.7 282.8h3.0M1077.7 282.8h16.0M903.1 281.8h6.0M929.9 281.8h3.0M1056.7 281.8h3.0M1075.7 281.8h19.1M869.3 280.8h2.0M904.1 280.8h6.0M929.9 280.8h3.0M1056.7 280.8h3.0M1073.7 280.8h23.1M869.3 279.8h2.0M905.1 279.8h7.0M928.9 279.8h3.0M1056.7 279.8h3.0M1071.7 279.8h26.1M869.3 278.8h2.0M906.1 278.8h8.0M928.9 278.8h3.0M1056.7 278.8h3.0M1070.7 278.8h29.1M870.3 277.8h2.0M908.1 277.8h8.0M927.9 277.8h3.0M1056.7 277.8h4.0M1068.7 277.8h32.1M870.3 276.8h2.0M910.1 276.8h8.0M926.0 276.8h5.0M1056.7 276.8h5.0M1066.7 276.8h36.1M870.3 275.9h3.0M912.0 275.9h8.0M922.0 275.9h8.0M1056.7 275.9h47.1M871.3 274.9h2.0M916.0 274.9h11.9M1057.7 274.9h48.1M871.3 273.9h3.0M920.0 273.9h4.0M1057.7 273.9h64.2M872.3 272.9h3.0M1058.7 272.9h74.2M873.3 271.9h3.0M939.9 271.9h55.6M1058.7 271.9h74.2M873.3 270.9h4.0M938.9 270.9h56.6M1104.8 270.9h28.1M874.3 269.9h4.0M938.9 269.9h56.6M876.3 268.9h4.0M937.9 268.9h6.0M877.3 267.9h6.0M937.9 267.9h4.0M878.3 266.9h7.0M936.9 266.9h3.0M880.3 265.9h7.0M935.9 265.9h3.0M881.2 264.9h7.0M935.9 264.9h2.0M999.5 264.9h14.0M1045.6 264.9h6.0M883.2 263.9h6.0M934.9 263.9h2.0M996.5 263.9h20.1M1043.6 263.9h9.0M884.2 262.9h6.0M934.9 262.9h2.0M995.5 262.9h8.0M1013.6 262.9h6.0M1041.6 262.9h12.0M885.2 261.9h6.0M933.9 261.9h2.0M994.5 261.9h7.0M1016.6 261.9h5.0M1040.6 261.9h6.0M1049.7 261.9h4.0M886.2 260.9h5.0M933.9 260.9h2.0M994.5 260.9h5.0M1018.6 260.9h5.0M1039.6 260.9h5.0M1050.7 260.9h4.0M887.2 259.9h5.0M932.9 259.9h2.0M994.5 259.9h4.0M1019.6 259.9h5.0M1038.6 259.9h6.0M1051.7 259.9h3.0M888.2 258.9h4.0M932.9 258.9h2.0M994.5 258.9h3.0M1021.6 258.9h5.0M1037.6 258.9h6.0M1052.7 258.9h2.0M888.2 257.9h5.0M932.9 257.9h2.0M994.5 257.9h2.0M1022.6 257.9h5.0M1037.6 257.9h6.0M1052.7 257.9h2.0M889.2 256.9h4.0M994.5 256.9h2.0M1023.6 256.9h6.0M1036.6 256.9h6.0M1052.7 256.9h2.0M889.2 255.9h5.0M931.9 255.9h2.0M994.5 255.9h2.0M1024.6 255.9h6.0M1035.6 255.9h7.0M1052.7 255.9h2.0M890.2 254.9h4.0M931.9 254.9h2.0M1024.6 254.9h7.0M1034.6 254.9h8.0M1052.7 254.9h2.0M858.4 253.9h6.0M890.2 253.9h4.0M931.9 253.9h2.0M1025.6 253.9h7.0M1033.6 253.9h9.0M1051.7 253.9h3.0M858.4 252.9h7.0M891.2 252.9h3.0M931.9 252.9h2.0M1025.6 252.9h18.0M1051.7 252.9h2.0M858.4 251.9h7.0M891.2 251.9h4.0M1026.6 251.9h17.0M1050.7 251.9h3.0M858.4 250.9h7.0M892.2 250.9h3.0M994.5 250.9h2.0M1026.6 250.9h18.0M1050.7 250.9h2.0M858.4 249.9h7.0M892.2 249.9h3.0M994.5 249.9h2.0M1026.6 249.9h19.1M1048.7 249.9h4.0M858.4 248.9h7.0M893.2 248.9h2.0M994.5 248.9h2.0M1026.6 248.9h25.1M858.4 247.9h7.0M893.2 247.9h3.0M994.5 247.9h3.0M1026.6 247.9h24.1M858.4 246.9h7.0M893.2 246.9h3.0M994.5 246.9h3.0M1026.6 246.9h24.1M858.4 245.9h7.0M892.2 245.9h4.0M931.9 245.9h2.0M994.5 245.9h4.0M1025.6 245.9h24.1M858.4 244.9h7.0M892.2 244.9h3.0M931.9 244.9h2.0M994.5 244.9h5.0M1025.6 244.9h24.1M858.4 243.9h7.0M892.2 243.9h3.0M994.5 243.9h6.0M1024.6 243.9h24.1M858.4 242.9h7.0M892.2 242.9h3.0M932.9 242.9h2.0M995.5 242.9h6.0M1023.6 242.9h10.0M1034.6 242.9h14.0M858.4 241.9h7.0M891.2 241.9h4.0M996.5 241.9h7.0M1022.6 241.9h9.0M1035.6 241.9h12.0M858.4 240.9h7.0M891.2 240.9h3.0M933.9 240.9h2.0M997.5 240.9h7.0M1020.6 240.9h10.0M1037.6 240.9h9.0M858.4 239.9h6.0M890.2 239.9h4.0M934.9 239.9h2.0M999.5 239.9h8.0M1018.6 239.9h11.0M888.2 238.9h5.0M935.9 238.9h2.0M1000.5 238.9h27.1M886.2 237.9h5.0M936.9 237.9h2.0M1002.5 237.9h23.1M884.2 236.9h5.0M938.9 236.9h2.0M1005.5 236.9h16.0M882.2 235.9h5.0M912.0 235.9h5.0M922.0 235.9h3.0M941.8 235.9h4.0M879.3 234.9h5.0M908.1 234.9h4.0M925.0 234.9h2.0M1120.9 234.9h8.0M873.3 233.9h8.0M906.1 233.9h3.0M926.9 233.9h2.0M1063.7 233.9h4.0M1112.8 233.9h8.0M870.3 232.9h6.0M904.1 232.9h3.0M927.9 232.9h2.0M1058.7 232.9h4.0M1070.7 232.9h41.1M869.3 231.9h4.0M902.1 231.9h3.0M928.9 231.9h2.0M1056.7 231.9h3.0M868.3 230.9h3.0M901.1 230.9h3.0M929.9 230.9h2.0M1054.7 230.9h4.0M868.3 229.9h2.0M899.1 229.9h4.0M1053.7 229.9h4.0M868.3 228.9h2.0M897.1 228.9h5.0M930.9 228.9h2.0M1053.7 228.9h4.0M867.3 227.9h3.0M896.2 227.9h6.0M1053.7 227.9h3.0M867.3 226.9h3.0M896.2 226.9h5.0M1053.7 226.9h3.0M867.3 225.9h3.0M896.2 225.9h5.0M931.9 225.9h2.0M1053.7 225.9h3.0M867.3 224.9h3.0M896.2 224.9h4.0M931.9 224.9h2.0M1053.7 224.9h3.0M867.3 223.9h3.0M896.2 223.9h4.0M931.9 223.9h2.0M1053.7 223.9h3.0M867.3 222.9h3.0M896.2 222.9h4.0M1054.7 222.9h2.0M867.3 221.9h3.0M896.2 221.9h4.0M1054.7 221.9h2.0M867.3 220.9h3.0M896.2 220.9h4.0M1054.7 220.9h2.0M867.3 219.9h3.0M896.2 219.9h4.0M1054.7 219.9h2.0M867.3 218.9h3.0M896.2 218.9h4.0M1054.7 218.9h2.0M867.3 217.9h3.0M896.2 217.9h4.0M1054.7 217.9h2.0M867.3 216.9h3.0M896.2 216.9h4.0M1054.7 216.9h2.0M867.3 215.9h3.0M896.2 215.9h4.0M1054.7 215.9h2.0M867.3 214.9h3.0M896.2 214.9h4.0M1054.7 214.9h2.0M867.3 213.9h3.0M896.2 213.9h4.0M1054.7 213.9h2.0M867.3 212.9h3.0M896.2 212.9h4.0M1054.7 212.9h2.0M867.3 211.9h3.0M896.2 211.9h4.0M1054.7 211.9h2.0M867.3 210.9h3.0M896.2 210.9h4.0M1054.7 210.9h2.0M867.3 209.9h3.0M896.2 209.9h4.0M1054.7 209.9h2.0M867.3 208.9h3.0M896.2 208.9h4.0M1054.7 208.9h2.0M867.3 207.9h3.0M896.2 207.9h4.0M1054.7 207.9h2.0M867.3 207.0h3.0M896.2 207.0h4.0M1054.7 207.0h3.0M867.3 206.0h3.0M896.2 206.0h4.0M1054.7 206.0h3.0M867.3 205.0h3.0M896.2 205.0h4.0M1054.7 205.0h3.0M867.3 204.0h3.0M896.2 204.0h4.0M1054.7 204.0h3.0M867.3 203.0h3.0M896.2 203.0h4.0M1054.7 203.0h3.0M867.3 202.0h3.0M896.2 202.0h4.0M1054.7 202.0h3.0M867.3 201.0h3.0M896.2 201.0h4.0M1054.7 201.0h3.0M867.3 200.0h3.0M896.2 200.0h4.0M1054.7 200.0h3.0M867.3 199.0h3.0M896.2 199.0h4.0M1054.7 199.0h3.0M867.3 198.0h3.0M896.2 198.0h4.0M1054.7 198.0h3.0M867.3 197.0h3.0M896.2 197.0h4.0M1054.7 197.0h3.0M867.3 196.0h3.0M896.2 196.0h4.0M1054.7 196.0h3.0M867.3 195.0h3.0M896.2 195.0h4.0M1054.7 195.0h3.0M867.3 194.0h3.0M896.2 194.0h4.0M1054.7 194.0h3.0M867.3 193.0h3.0M896.2 193.0h4.0M1054.7 193.0h3.0M867.3 192.0h3.0M896.2 192.0h4.0M1054.7 192.0h3.0M867.3 191.0h3.0M896.2 191.0h4.0M1054.7 191.0h3.0M867.3 190.0h3.0M896.2 190.0h4.0M1054.7 190.0h3.0M867.3 189.0h3.0M896.2 189.0h4.0M1054.7 189.0h3.0M867.3 188.0h3.0M896.2 188.0h4.0M1054.7 188.0h3.0M867.3 187.0h3.0M896.2 187.0h4.0M1054.7 187.0h3.0M867.3 186.0h3.0M896.2 186.0h4.0M1054.7 186.0h3.0M867.3 185.0h3.0M896.2 185.0h4.0M1054.7 185.0h3.0M867.3 184.0h3.0M896.2 184.0h4.0M1054.7 184.0h3.0M867.3 183.0h3.0M896.2 183.0h4.0M1054.7 183.0h3.0M867.3 182.0h3.0M896.2 182.0h4.0M1054.7 182.0h3.0M867.3 181.0h3.0M896.2 181.0h4.0M1054.7 181.0h3.0M867.3 180.0h3.0M896.2 180.0h4.0M1054.7 180.0h3.0M867.3 179.0h3.0M896.2 179.0h4.0M1054.7 179.0h3.0M867.3 178.0h3.0M896.2 178.0h4.0M1054.7 178.0h3.0M867.3 177.0h3.0M896.2 177.0h4.0M1054.7 177.0h3.0M867.3 176.0h3.0M896.2 176.0h4.0M1054.7 176.0h3.0M867.3 175.0h3.0M896.2 175.0h4.0M1054.7 175.0h3.0M867.3 174.0h3.0M896.2 174.0h4.0M1054.7 174.0h3.0M906.1 173.0h8.0M917.0 173.0h8.9M1020.6 173.0h4.0M905.1 172.0h6.0M920.0 172.0h7.0M1020.6 172.0h5.0M904.1 171.0h6.0M922.0 171.0h6.0M1021.6 171.0h5.0M904.1 170.0h5.0M923.0 170.0h6.0M1022.6 170.0h5.0M904.1 169.0h4.0M924.0 169.0h5.0M1023.6 169.0h5.0M903.1 168.0h5.0M925.0 168.0h5.0M1024.6 168.0h5.0M903.1 167.0h4.0M926.0 167.0h5.0M1025.6 167.0h4.0M903.1 166.0h4.0M926.0 166.0h5.0M1026.6 166.0h4.0M903.1 165.0h3.0M926.9 165.0h5.0M1027.6 165.0h4.0M903.1 164.0h3.0M927.9 164.0h4.0M1028.6 164.0h4.0M1044.6 164.0h5.0M903.1 163.0h3.0M927.9 163.0h4.0M1029.6 163.0h4.0M1042.6 163.0h8.0M903.1 162.0h3.0M927.9 162.0h5.0M1029.6 162.0h4.0M1042.6 162.0h8.0M903.1 161.0h3.0M928.9 161.0h4.0M1030.6 161.0h4.0M1041.6 161.0h10.0M861.4 160.0h3.0M903.1 160.0h3.0M928.9 160.0h4.0M1031.6 160.0h4.0M1041.6 160.0h10.0M861.4 158.9h4.0M903.1 158.9h3.0M928.9 158.9h4.0M1032.6 158.9h4.0M1041.6 158.9h10.0M860.4 157.9h6.0M903.1 157.9h3.0M928.9 157.9h4.0M1033.6 157.9h4.0M1041.6 157.9h9.0M860.4 156.9h6.0M903.1 156.9h3.0M928.9 156.9h4.0M1033.6 156.9h4.0M1042.6 156.9h7.0M859.4 155.9h8.0M903.1 155.9h3.0M928.9 155.9h4.0M1034.6 155.9h4.0M1044.6 155.9h3.0M859.4 154.9h5.0M864.4 154.9h3.0M904.1 154.9h2.0M928.9 154.9h4.0M1035.6 154.9h4.0M859.4 153.9h4.0M864.4 153.9h3.0M904.1 153.9h3.0M928.9 153.9h4.0M1036.6 153.9h3.0M859.4 152.9h4.0M865.4 152.9h2.0M904.1 152.9h3.0M928.9 152.9h4.0M1036.6 152.9h4.0M859.4 151.9h3.0M865.4 151.9h3.0M905.1 151.9h2.0M928.9 151.9h4.0M1037.6 151.9h3.0M859.4 150.9h3.0M866.3 150.9h2.0M905.1 150.9h3.0M928.9 150.9h4.0M1037.6 150.9h3.0M858.4 149.9h4.0M866.3 149.9h2.0M905.1 149.9h3.0M928.9 149.9h4.0M1038.6 149.9h2.0M858.4 148.9h4.0M866.3 148.9h2.0M906.1 148.9h3.0M927.9 148.9h5.0M1038.6 148.9h3.0M858.4 147.9h4.0M866.3 147.9h2.0M906.1 147.9h4.0M927.9 147.9h5.0M1038.6 147.9h3.0M858.4 146.9h4.0M866.3 146.9h2.0M907.1 146.9h3.0M926.9 146.9h5.0M994.5 146.9h3.0M1039.6 146.9h2.0M858.4 145.9h4.0M866.3 145.9h3.0M907.1 145.9h4.0M926.9 145.9h5.0M994.5 145.9h4.0M1039.6 145.9h2.0M858.4 144.9h4.0M867.3 144.9h2.0M908.1 144.9h4.0M926.0 144.9h6.0M994.5 144.9h5.0M1039.6 144.9h2.0M858.4 143.9h4.0M867.3 143.9h2.0M909.1 143.9h4.0M925.0 143.9h7.0M995.5 143.9h5.0M1039.6 143.9h3.0M858.4 142.9h4.0M867.3 142.9h2.0M909.1 142.9h6.0M924.0 142.9h7.0M996.5 142.9h5.0M1039.6 142.9h3.0M858.4 141.9h4.0M867.3 141.9h2.0M910.1 141.9h7.0M922.0 141.9h8.9M997.5 141.9h5.0M1040.6 141.9h2.0M859.4 140.9h3.0M867.3 140.9h2.0M911.1 140.9h18.9M998.5 140.9h5.0M1040.6 140.9h3.0M859.4 139.9h4.0M867.3 139.9h2.0M911.1 139.9h18.9M999.5 139.9h5.0M1041.6 139.9h2.0M859.4 138.9h4.0M867.3 138.9h2.0M912.0 138.9h16.9M1001.5 138.9h4.0M1041.6 138.9h3.0M859.4 137.9h4.0M867.3 137.9h2.0M913.0 137.9h14.9M1002.5 137.9h5.0M1042.6 137.9h2.0M859.4 136.9h4.0M866.3 136.9h3.0M914.0 136.9h12.9M1003.5 136.9h5.0M1043.6 136.9h2.0M859.4 135.9h4.0M866.3 135.9h3.0M915.0 135.9h11.9M1004.5 135.9h5.0M1043.6 135.9h3.0M859.4 134.9h5.0M866.3 134.9h3.0M915.0 134.9h10.9M1006.5 134.9h4.0M1044.6 134.9h3.0M860.4 133.9h4.0M866.3 133.9h3.0M914.0 133.9h11.9M1007.5 133.9h5.0M1045.6 133.9h3.0M860.4 132.9h8.9M913.0 132.9h13.9M1008.5 132.9h5.0M1047.7 132.9h3.0M860.4 131.8h8.0M912.0 131.8h15.9M1009.5 131.8h5.0M1048.7 131.8h3.0M861.4 130.8h7.0M911.1 130.8h16.9M1011.5 130.8h5.0M1049.7 130.8h3.0M861.4 129.8h7.0M909.1 129.8h19.9M1012.6 129.8h6.0M1050.7 129.8h3.0M861.4 128.8h7.0M908.1 128.8h20.9M1014.6 128.8h7.0M1051.7 128.8h2.0M862.4 127.8h5.0M907.1 127.8h21.9M1018.6 127.8h8.0M1052.7 127.8h2.0M863.4 126.8h3.0M906.1 126.8h22.9M1023.6 126.8h5.0M1052.7 126.8h3.0M905.1 125.8h7.0M915.0 125.8h13.9M1006.5 125.8h5.0M1026.6 125.8h4.0M1053.7 125.8h2.0M905.1 124.8h5.0M917.0 124.8h11.9M1004.5 124.8h8.0M1028.6 124.8h3.0M1054.7 124.8h2.0M904.1 123.8h4.0M918.0 123.8h10.9M1004.5 123.8h8.0M1030.6 123.8h3.0M1055.7 123.8h2.0M904.1 122.8h4.0M919.0 122.8h9.9M1003.5 122.8h10.0M1031.6 122.8h3.0M1055.7 122.8h3.0M903.1 121.8h4.0M919.0 121.8h8.9M1003.5 121.8h10.0M1032.6 121.8h3.0M1056.7 121.8h2.0M903.1 120.8h4.0M919.0 120.8h8.0M1003.5 120.8h9.0M1033.6 120.8h2.0M1057.7 120.8h2.0M903.1 119.8h4.0M919.0 119.8h6.0M1003.5 119.8h9.0M1034.6 119.8h2.0M1058.7 119.8h2.0M903.1 118.8h4.0M918.0 118.8h5.0M1004.5 118.8h7.0M1034.6 118.8h3.0M1059.7 118.8h2.0M903.1 117.8h5.0M918.0 117.8h3.0M1006.5 117.8h4.0M1035.6 117.8h3.0M1060.7 117.8h3.0M904.1 116.8h5.0M916.0 116.8h4.0M1036.6 116.8h3.0M1062.7 116.8h2.0M905.1 115.8h5.0M914.0 115.8h4.0M1037.6 115.8h3.0M1063.7 115.8h5.0M907.1 114.8h8.9M1039.6 114.8h3.0M1067.7 114.8h12.0M937.9 113.8h8.0M1040.6 113.8h3.0M1077.7 113.8h55.2M936.9 112.8h58.6M1042.6 112.8h2.0M936.9 111.8h4.0M960.7 111.8h34.8M1043.6 111.8h3.0M869.3 110.8h24.8M935.9 110.8h3.0M1044.6 110.8h3.0M868.3 109.8h27.8M935.9 109.8h2.0M1046.7 109.8h2.0M867.3 108.8h5.0M890.2 108.8h8.0M934.9 108.8h2.0M1047.7 108.8h2.0M867.3 107.8h3.0M891.2 107.8h7.0M934.9 107.8h2.0M1048.7 107.8h2.0M867.3 106.8h3.0M892.2 106.8h6.0M934.9 106.8h2.0M1049.7 106.8h2.0M867.3 105.8h2.0M892.2 105.8h6.0M1049.7 105.8h2.0M867.3 104.8h2.0M892.2 104.8h6.0M1050.7 104.8h2.0M867.3 103.7h2.0M892.2 103.7h6.0M933.9 103.7h2.0M1051.7 103.7h2.0M867.3 102.7h2.0M892.2 102.7h6.0M933.9 102.7h2.0M1051.7 102.7h2.0M867.3 101.7h2.0M892.2 101.7h6.0M933.9 101.7h2.0M1051.7 101.7h2.0M867.3 100.7h2.0M891.2 100.7h7.0M1051.7 100.7h2.0M867.3 99.7h2.0M891.2 99.7h7.0M1052.7 99.7h2.0M867.3 98.7h2.0M890.2 98.7h8.0M1052.7 98.7h2.0M867.3 97.7h2.0M890.2 97.7h8.0M1052.7 97.7h2.0M867.3 96.7h2.0M889.2 96.7h8.9M934.9 96.7h2.0M1052.7 96.7h2.0M867.3 95.7h2.0M888.2 95.7h9.9M934.9 95.7h2.0M1052.7 95.7h2.0M867.3 94.7h2.0M888.2 94.7h9.9M934.9 94.7h2.0M1052.7 94.7h2.0M867.3 93.7h2.0M887.2 93.7h10.9M934.9 93.7h2.0M1052.7 93.7h2.0M867.3 92.7h2.0M887.2 92.7h10.9M934.9 92.7h2.0M1052.7 92.7h2.0M867.3 91.7h2.0M886.2 91.7h11.9M934.9 91.7h2.0M1052.7 91.7h2.0M867.3 90.7h2.0M886.2 90.7h11.9M934.9 90.7h2.0M1052.7 90.7h2.0M867.3 89.7h2.0M885.2 89.7h12.9M934.9 89.7h2.0M1052.7 89.7h3.0M867.3 88.7h2.0M884.2 88.7h13.9M934.9 88.7h2.0M1053.7 88.7h2.0M867.3 87.7h2.0M884.2 87.7h13.9M934.9 87.7h2.0M1053.7 87.7h2.0M867.3 86.7h2.0M884.2 86.7h13.9M934.9 86.7h2.0M1053.7 86.7h2.0M867.3 85.7h2.0M884.2 85.7h13.9M934.9 85.7h2.0M1053.7 85.7h2.0M867.3 84.7h2.0M884.2 84.7h13.9M934.9 84.7h2.0M1053.7 84.7h2.0M867.3 83.7h2.0M884.2 83.7h13.9M934.9 83.7h2.0M1053.7 83.7h2.0M867.3 82.7h2.0M885.2 82.7h12.9M934.9 82.7h2.0M1053.7 82.7h2.0M867.3 81.7h2.0M885.2 81.7h12.9M934.9 81.7h2.0M1053.7 81.7h2.0M867.3 80.7h2.0M885.2 80.7h12.9M934.9 80.7h2.0M1053.7 80.7h2.0M867.3 79.7h2.0M885.2 79.7h12.9M934.9 79.7h2.0M1053.7 79.7h2.0M867.3 78.7h2.0M885.2 78.7h12.9M934.9 78.7h2.0M1053.7 78.7h2.0M867.3 77.7h2.0M885.2 77.7h12.9M934.9 77.7h2.0M1053.7 77.7h2.0M867.3 76.6h2.0M885.2 76.6h12.9M934.9 76.6h2.0M1053.7 76.6h2.0M867.3 75.6h2.0M885.2 75.6h12.9M934.9 75.6h2.0M1053.7 75.6h2.0M867.3 74.6h2.0M886.2 74.6h11.9M934.9 74.6h2.0M1053.7 74.6h2.0M867.3 73.6h2.0M887.2 73.6h10.9M934.9 73.6h2.0M1053.7 73.6h2.0M867.3 72.6h2.0M887.2 72.6h10.9M934.9 72.6h2.0M1053.7 72.6h2.0M867.3 71.6h2.0M888.2 71.6h9.9M934.9 71.6h2.0M1053.7 71.6h2.0M867.3 70.6h2.0M889.2 70.6h8.9M934.9 70.6h2.0M1053.7 70.6h2.0M867.3 69.6h2.0M889.2 69.6h8.9M934.9 69.6h2.0M1053.7 69.6h2.0M867.3 68.6h2.0M890.2 68.6h8.0M934.9 68.6h2.0M1053.7 68.6h2.0M867.3 67.6h2.0M891.2 67.6h7.0M934.9 67.6h2.0M1053.7 67.6h2.0M867.3 66.6h2.0M891.2 66.6h7.0M934.9 66.6h2.0M1053.7 66.6h2.0M867.3 65.6h2.0M892.2 65.6h6.0M934.9 65.6h2.0M1053.7 65.6h2.0M867.3 64.6h2.0M893.2 64.6h5.0M934.9 64.6h2.0M1053.7 64.6h2.0M867.3 63.6h2.0M893.2 63.6h5.0M934.9 63.6h2.0M1053.7 63.6h2.0M867.3 62.6h2.0M894.2 62.6h5.0M934.9 62.6h2.0M1053.7 62.6h2.0M867.3 61.6h2.0M894.2 61.6h5.0M934.9 61.6h2.0M1053.7 61.6h2.0M867.3 60.6h2.0M894.2 60.6h5.0M934.9 60.6h2.0M1053.7 60.6h2.0M867.3 59.6h2.0M894.2 59.6h5.0M934.9 59.6h2.0M1053.7 59.6h2.0M867.3 58.6h2.0M894.2 58.6h5.0M934.9 58.6h2.0M1053.7 58.6h2.0M867.3 57.6h2.0M894.2 57.6h5.0M934.9 57.6h2.0M1053.7 57.6h2.0M867.3 56.6h2.0M894.2 56.6h5.0M1053.7 56.6h2.0M867.3 55.6h2.0M894.2 55.6h5.0M1053.7 55.6h2.0M867.3 54.6h2.0M894.2 54.6h5.0M933.9 54.6h2.0M1053.7 54.6h2.0M867.3 53.6h2.0M894.2 53.6h5.0M933.9 53.6h2.0M1053.7 53.6h2.0M867.3 52.6h2.0M894.2 52.6h5.0M933.9 52.6h2.0M1053.7 52.6h2.0M867.3 51.6h2.0M894.2 51.6h5.0M933.9 51.6h2.0M1053.7 51.6h2.0M867.3 50.6h2.0M894.2 50.6h5.0M933.9 50.6h2.0M1053.7 50.6h2.0M867.3 49.5h2.0M894.2 49.5h5.0M933.9 49.5h2.0M1053.7 49.5h2.0M867.3 48.5h2.0M894.2 48.5h5.0M933.9 48.5h2.0M1053.7 48.5h2.0M867.3 47.5h2.0M894.2 47.5h5.0M1053.7 47.5h2.0M867.3 46.5h2.0M895.2 46.5h4.0M932.9 46.5h2.0M1053.7 46.5h2.0M867.3 45.5h2.0M895.2 45.5h4.0M932.9 45.5h2.0M1053.7 45.5h2.0M867.3 44.5h2.0M895.2 44.5h4.0M932.9 44.5h2.0M1053.7 44.5h2.0M867.3 43.5h2.0M895.2 43.5h4.0M932.9 43.5h2.0M1053.7 43.5h2.0M867.3 42.5h2.0M895.2 42.5h4.0M932.9 42.5h2.0M1053.7 42.5h2.0M867.3 41.5h2.0M895.2 41.5h4.0M932.9 41.5h2.0M1053.7 41.5h2.0M867.3 40.5h2.0M895.2 40.5h4.0M932.9 40.5h2.0M1053.7 40.5h2.0M867.3 39.5h2.0M895.2 39.5h4.0M1053.7 39.5h2.0M867.3 38.5h2.0M895.2 38.5h4.0M1053.7 38.5h2.0M867.3 37.5h2.0M895.2 37.5h4.0M1053.7 37.5h2.0M867.3 36.5h2.0M895.2 36.5h4.0M1053.7 36.5h2.0"/>
<path stroke="#fffee6" d="M865.4 309.8h2.0M910.1 309.8h5.0M928.9 309.8h3.0M994.5 309.8h24.1M1026.6 309.8h30.1M910.1 308.8h5.0M928.9 308.8h3.0M994.5 308.8h18.0M1033.6 308.8h23.1M910.1 307.8h5.0M928.9 307.8h3.0M994.5 307.8h16.0M1036.6 307.8h20.1M910.1 306.8h5.0M928.9 306.8h3.0M994.5 306.8h14.0M1039.6 306.8h17.0M910.1 305.8h5.0M928.9 305.8h3.0M994.5 305.8h14.0M1040.6 305.8h16.0M910.1 304.8h6.0M927.9 304.8h5.0M994.5 304.8h15.0M1041.6 304.8h15.0M869.3 303.8h2.0M910.1 303.8h22.9M994.5 303.8h16.0M1041.6 303.8h16.0M858.4 302.8h2.0M872.3 302.8h2.0M909.1 302.8h23.8M994.5 302.8h18.0M1040.6 302.8h20.1M876.3 301.8h3.0M906.1 301.8h13.9M928.9 301.8h7.0M935.9 301.8h67.6M1008.5 301.8h8.0M1039.6 301.8h7.0M1050.7 301.8h82.2M881.2 300.8h5.0M902.1 300.8h13.9M929.9 300.8h10.9M994.5 300.8h8.0M1014.6 300.8h8.0M1035.6 300.8h8.0M1051.7 300.8h8.0M886.2 299.8h26.8M930.9 299.8h7.0M994.5 299.8h7.0M1020.6 299.8h21.1M1052.7 299.8h6.0M864.4 298.8h2.0M890.2 298.8h19.9M931.9 298.8h5.0M994.5 298.8h6.0M1029.6 298.8h9.0M1052.7 298.8h5.0M893.2 297.8h14.9M931.9 297.8h4.0M994.5 297.8h6.0M1052.7 297.8h5.0M895.2 296.8h11.9M931.9 296.8h4.0M994.5 296.8h5.0M1052.7 296.8h5.0M865.4 295.8h2.0M896.2 295.8h9.9M932.9 295.8h3.0M994.5 295.8h5.0M1052.7 295.8h5.0M898.1 294.8h7.0M932.9 294.8h2.0M994.5 294.8h5.0M1052.7 294.8h5.0M899.1 293.8h6.0M932.9 293.8h2.0M994.5 293.8h4.0M1052.7 293.8h5.0M899.1 292.8h5.0M932.9 292.8h2.0M994.5 292.8h4.0M1052.7 292.8h5.0M866.3 291.8h2.0M900.1 291.8h5.0M932.9 291.8h2.0M994.5 291.8h4.0M1052.7 291.8h5.0M866.3 290.8h2.0M901.1 290.8h5.0M931.9 290.8h3.0M994.5 290.8h4.0M1052.7 290.8h5.0M902.1 289.8h5.0M931.9 289.8h3.0M994.5 289.8h4.0M1052.7 289.8h5.0M902.1 288.8h6.0M931.9 288.8h2.0M994.5 288.8h4.0M1052.7 288.8h5.0M903.1 287.8h6.0M931.9 287.8h2.0M994.5 287.8h4.0M1052.7 287.8h5.0M867.3 286.8h2.0M904.1 286.8h7.0M931.9 286.8h2.0M994.5 286.8h4.0M1052.7 286.8h5.0M867.3 285.8h2.0M904.1 285.8h8.9M930.9 285.8h2.0M994.5 285.8h4.0M1051.7 285.8h6.0M867.3 284.8h2.0M905.1 284.8h10.9M930.9 284.8h2.0M994.5 284.8h4.0M1051.7 284.8h6.0M867.3 283.8h2.0M906.1 283.8h12.9M929.9 283.8h2.0M994.5 283.8h4.0M1051.7 283.8h6.0M907.1 282.8h17.9M927.9 282.8h4.0M994.5 282.8h4.0M1051.7 282.8h6.0M868.3 281.8h2.0M908.1 281.8h22.9M994.5 281.8h4.0M1051.7 281.8h6.0M868.3 280.8h2.0M909.1 280.8h21.9M994.5 280.8h4.0M1052.7 280.8h5.0M868.3 279.8h2.0M911.1 279.8h18.9M994.5 279.8h4.0M1052.7 279.8h5.0M868.3 278.8h2.0M913.0 278.8h16.9M994.5 278.8h4.0M1052.7 278.8h5.0M868.3 277.8h3.0M915.0 277.8h13.9M994.5 277.8h5.0M1052.7 277.8h5.0M868.3 276.8h3.0M917.0 276.8h9.9M994.5 276.8h5.0M1052.7 276.8h5.0M868.3 275.9h3.0M919.0 275.9h4.0M994.5 275.9h5.0M1052.7 275.9h5.0M868.3 274.9h4.0M994.5 274.9h6.0M1052.7 274.9h6.0M868.3 273.9h4.0M994.5 273.9h6.0M1052.7 273.9h6.0M868.3 272.9h5.0M994.5 272.9h7.0M1051.7 272.9h8.0M868.3 271.9h6.0M994.5 271.9h8.0M1050.7 271.9h9.0M868.3 270.9h6.0M994.5 270.9h9.0M1049.7 270.9h56.2M868.3 269.9h7.0M994.5 269.9h11.0M1048.7 269.9h84.2M868.3 268.9h8.9M942.8 268.9h64.7M1045.6 268.9h87.3M868.3 267.9h9.9M940.9 267.9h69.7M1043.6 267.9h89.3M868.3 266.9h10.9M938.9 266.9h3.0M994.5 266.9h19.1M1040.6 266.9h19.1M867.3 265.9h13.9M937.9 265.9h3.0M994.5 265.9h21.1M1039.6 265.9h17.0M867.3 264.9h8.9M876.3 264.9h6.0M936.9 264.9h3.0M994.5 264.9h6.0M1012.6 264.9h6.0M1038.6 264.9h8.0M1050.7 264.9h6.0M867.3 263.9h7.0M877.3 263.9h7.0M935.9 263.9h3.0M994.5 263.9h3.0M1015.6 263.9h5.0M1037.6 263.9h7.0M1051.7 263.9h5.0M867.3 262.9h6.0M878.3 262.9h7.0M935.9 262.9h2.0M994.5 262.9h2.0M1018.6 262.9h5.0M1036.6 262.9h6.0M1052.7 262.9h3.0M866.3 261.9h6.0M879.3 261.9h7.0M934.9 261.9h2.0M1020.6 261.9h5.0M1034.6 261.9h7.0M1052.7 261.9h3.0M866.3 260.9h5.0M880.3 260.9h7.0M934.9 260.9h2.0M1022.6 260.9h6.0M1032.6 260.9h8.0M1053.7 260.9h2.0M866.3 259.9h5.0M881.2 259.9h7.0M933.9 259.9h2.0M1023.6 259.9h16.0M1053.7 259.9h3.0M865.4 258.9h5.0M881.2 258.9h8.0M933.9 258.9h2.0M1025.6 258.9h13.0M1053.7 258.9h3.0M858.4 257.9h11.9M882.2 257.9h7.0M933.9 257.9h2.0M1026.6 257.9h12.0M1053.7 257.9h3.0M858.4 256.9h11.9M882.2 256.9h8.0M932.9 256.9h2.0M1028.6 256.9h9.0M1053.7 256.9h3.0M858.4 255.9h10.9M883.2 255.9h7.0M932.9 255.9h2.0M1029.6 255.9h7.0M1053.7 255.9h2.0M858.4 254.9h10.9M883.2 254.9h8.0M932.9 254.9h2.0M1030.6 254.9h5.0M1053.7 254.9h2.0M863.4 253.9h6.0M883.2 253.9h8.0M932.9 253.9h2.0M1031.6 253.9h3.0M1053.7 253.9h2.0M864.4 252.9h4.0M884.2 252.9h8.0M932.9 252.9h2.0M1052.7 252.9h2.0M864.4 251.9h4.0M884.2 251.9h8.0M931.9 251.9h2.0M1052.7 251.9h2.0M864.4 250.9h4.0M884.2 250.9h8.9M931.9 250.9h2.0M1051.7 250.9h2.0M864.4 249.9h4.0M885.2 249.9h8.0M931.9 249.9h2.0M1051.7 249.9h2.0M864.4 248.9h3.0M885.2 248.9h8.9M931.9 248.9h2.0M1050.7 248.9h2.0M864.4 247.9h3.0M885.2 247.9h8.9M931.9 247.9h2.0M1049.7 247.9h3.0M864.4 246.9h3.0M885.2 246.9h8.9M931.9 246.9h2.0M1049.7 246.9h2.0M864.4 245.9h3.0M885.2 245.9h8.0M932.9 245.9h2.0M1048.7 245.9h3.0M864.4 244.9h3.0M885.2 244.9h8.0M932.9 244.9h2.0M1048.7 244.9h3.0M864.4 243.9h3.0M886.2 243.9h7.0M932.9 243.9h2.0M1047.7 243.9h4.0M864.4 242.9h3.0M886.2 242.9h7.0M933.9 242.9h2.0M994.5 242.9h2.0M1032.6 242.9h3.0M1047.7 242.9h4.0M864.4 241.9h3.0M886.2 241.9h6.0M933.9 241.9h2.0M994.5 241.9h3.0M1030.6 241.9h6.0M1046.7 241.9h5.0M864.4 240.9h3.0M886.2 240.9h6.0M934.9 240.9h2.0M994.5 240.9h4.0M1029.6 240.9h9.0M1045.6 240.9h6.0M863.4 239.9h4.0M885.2 239.9h6.0M935.9 239.9h2.0M994.5 239.9h6.0M1028.6 239.9h24.1M858.4 238.9h9.9M885.2 238.9h4.0M936.9 238.9h2.0M994.5 238.9h7.0M1026.6 238.9h26.1M858.4 237.9h10.9M884.2 237.9h3.0M937.9 237.9h2.0M994.5 237.9h9.0M1024.6 237.9h29.1M863.4 236.9h7.0M882.2 236.9h3.0M939.9 236.9h2.0M994.5 236.9h12.0M1020.6 236.9h33.1M866.3 235.9h7.0M877.3 235.9h6.0M916.0 235.9h7.0M944.8 235.9h76.7M1028.6 235.9h25.1M866.3 234.9h13.9M911.1 234.9h6.0M922.0 234.9h4.0M994.5 234.9h16.0M1034.6 234.9h20.1M1114.9 234.9h7.0M866.3 233.9h8.0M908.1 233.9h4.0M925.0 233.9h3.0M994.5 233.9h12.0M1038.6 233.9h17.0M1057.7 233.9h7.0M1066.7 233.9h47.1M867.3 232.9h4.0M906.1 232.9h3.0M926.9 232.9h2.0M994.5 232.9h10.0M1041.6 232.9h18.0M866.3 231.9h4.0M904.1 231.9h3.0M927.9 231.9h2.0M994.5 231.9h7.0M1043.6 231.9h14.0M866.3 230.9h3.0M903.1 230.9h3.0M928.9 230.9h2.0M994.5 230.9h6.0M1045.6 230.9h10.0M866.3 229.9h3.0M902.1 229.9h3.0M929.9 229.9h2.0M994.5 229.9h4.0M1046.7 229.9h8.0M866.3 228.9h3.0M901.1 228.9h3.0M994.5 228.9h3.0M1048.7 228.9h6.0M866.3 227.9h2.0M901.1 227.9h2.0M930.9 227.9h2.0M994.5 227.9h2.0M1049.7 227.9h5.0M866.3 226.9h2.0M900.1 226.9h2.0M1050.7 226.9h4.0M866.3 225.9h2.0M900.1 225.9h2.0M1050.7 225.9h4.0M866.3 224.9h2.0M899.1 224.9h3.0M1051.7 224.9h3.0M866.3 223.9h2.0M899.1 223.9h3.0M1052.7 223.9h2.0M866.3 222.9h2.0M899.1 222.9h3.0M931.9 222.9h2.0M1052.7 222.9h3.0M866.3 221.9h2.0M899.1 221.9h3.0M931.9 221.9h2.0M1052.7 221.9h3.0M866.3 220.9h2.0M899.1 220.9h3.0M931.9 220.9h2.0M1053.7 220.9h2.0M866.3 219.9h2.0M899.1 219.9h3.0M931.9 219.9h2.0M1053.7 219.9h2.0M866.3 218.9h2.0M899.1 218.9h3.0M931.9 218.9h2.0M1053.7 218.9h2.0M866.3 217.9h2.0M899.1 217.9h3.0M931.9 217.9h2.0M1053.7 217.9h2.0M866.3 216.9h2.0M899.1 216.9h3.0M931.9 216.9h2.0M1053.7 216.9h2.0M866.3 215.9h2.0M899.1 215.9h3.0M931.9 215.9h2.0M1053.7 215.9h2.0M866.3 214.9h2.0M899.1 214.9h3.0M931.9 214.9h2.0M1053.7 214.9h2.0M866.3 213.9h2.0M899.1 213.9h3.0M931.9 213.9h2.0M1053.7 213.9h2.0M866.3 212.9h2.0M899.1 212.9h3.0M931.9 212.9h2.0M1053.7 212.9h2.0M866.3 211.9h2.0M899.1 211.9h3.0M931.9 211.9h2.0M1053.7 211.9h2.0M866.3 210.9h2.0M899.1 210.9h3.0M931.9 210.9h2.0M1053.7 210.9h2.0M866.3 209.9h2.0M899.1 209.9h3.0M931.9 209.9h2.0M1053.7 209.9h2.0M866.3 208.9h2.0M899.1 208.9h3.0M931.9 208.9h2.0M1053.7 208.9h2.0M866.3 207.9h2.0M899.1 207.9h3.0M931.9 207.9h2.0M1053.7 207.9h2.0M866.3 207.0h2.0M899.1 207.0h3.0M931.9 207.0h2.0M1053.7 207.0h2.0M866.3 206.0h2.0M899.1 206.0h3.0M931.9 206.0h2.0M1053.7 206.0h2.0M866.3 205.0h2.0M899.1 205.0h3.0M931.9 205.0h2.0M1053.7 205.0h2.0M866.3 204.0h2.0M899.1 204.0h3.0M931.9 204.0h2.0M1053.7 204.0h2.0M866.3 203.0h2.0M899.1 203.0h3.0M931.9 203.0h2.0M1053.7 203.0h2.0M866.3 202.0h2.0M899.1 202.0h3.0M931.9 202.0h2.0M1053.7 202.0h2.0M866.3 201.0h2.0M899.1 201.0h3.0M931.9 201.0h2.0M1053.7 201.0h2.0M866.3 200.0h2.0M899.1 200.0h3.0M931.9 200.0h2.0M1053.7 200.0h2.0M866.3 199.0h2.0M899.1 199.0h3.0M931.9 199.0h2.0M1053.7 199.0h2.0M866.3 198.0h2.0M899.1 198.0h3.0M931.9 198.0h2.0M1053.7 198.0h2.0M866.3 197.0h2.0M899.1 197.0h3.0M931.9 197.0h2.0M1053.7 197.0h2.0M866.3 196.0h2.0M899.1 196.0h3.0M931.9 196.0h2.0M1053.7 196.0h2.0M866.3 195.0h2.0M899.1 195.0h3.0M931.9 195.0h2.0M1053.7 195.0h2.0M866.3 194.0h2.0M899.1 194.0h3.0M931.9 194.0h2.0M1053.7 194.0h2.0M866.3 193.0h2.0M899.1 193.0h3.0M931.9 193.0h2.0M1053.7 193.0h2.0M866.3 192.0h2.0M899.1 192.0h3.0M931.9 192.0h2.0M1053.7 192.0h2.0M866.3 191.0h2.0M899.1 191.0h3.0M931.9 191.0h2.0M1053.7 191.0h2.0M866.3 190.0h2.0M899.1 190.0h3.0M931.9 190.0h2.0M1053.7 190.0h2.0M866.3 189.0h2.0M899.1 189.0h3.0M931.9 189.0h2.0M1053.7 189.0h2.0M866.3 188.0h2.0M899.1 188.0h3.0M931.9 188.0h2.0M1053.7 188.0h2.0M866.3 187.0h2.0M899.1 187.0h3.0M931.9 187.0h2.0M1053.7 187.0h2.0M866.3 186.0h2.0M899.1 186.0h3.0M931.9 186.0h2.0M1053.7 186.0h2.0M866.3 185.0h2.0M899.1 185.0h3.0M931.9 185.0h2.0M1053.7 185.0h2.0M866.3 184.0h2.0M899.1 184.0h3.0M931.9 184.0h2.0M1053.7 184.0h2.0M866.3 183.0h2.0M899.1 183.0h3.0M931.9 183.0h2.0M1053.7 183.0h2.0M866.3 182.0h2.0M899.1 182.0h3.0M931.9 182.0h2.0M1053.7 182.0h2.0M866.3 181.0h2.0M899.1 181.0h3.0M931.9 181.0h2.0M1053.7 181.0h2.0M866.3 180.0h2.0M899.1 180.0h3.0M931.9 180.0h2.0M1053.7 180.0h2.0M866.3 179.0h2.0M899.1 179.0h3.0M931.9 179.0h2.0M1053.7 179.0h2.0M866.3 178.0h2.0M899.1 178.0h3.0M931.9 178.0h2.0M1053.7 178.0h2.0M866.3 177.0h2.0M899.1 177.0h3.0M931.9 177.0h2.0M1053.7 177.0h2.0M866.3 176.0h2.0M899.1 176.0h3.0M931.9 176.0h2.0M1053.7 176.0h2.0M866.3 175.0h2.0M899.1 175.0h3.0M931.9 175.0h2.0M1053.7 175.0h2.0M866.3 174.0h2.0M899.1 174.0h3.0M931.9 174.0h2.0M1053.7 174.0h2.0M858.4 173.0h48.7M925.0 173.0h16.9M1023.6 173.0h27.1M858.4 172.0h47.7M926.0 172.0h14.9M1024.6 172.0h26.1M858.4 171.0h46.7M926.9 171.0h12.9M1025.6 171.0h25.1M858.4 170.0h16.9M890.2 170.0h14.9M927.9 170.0h10.9M1026.6 170.0h24.1M858.4 169.0h13.9M893.2 169.0h11.9M927.9 169.0h10.9M1027.6 169.0h23.1M858.4 168.0h11.9M895.2 168.0h8.9M928.9 168.0h8.9M1028.6 168.0h22.1M858.4 167.0h10.9M896.2 167.0h8.0M929.9 167.0h7.0M1028.6 167.0h22.1M858.4 166.0h9.9M897.1 166.0h7.0M929.9 166.0h7.0M1029.6 166.0h21.1M858.4 165.0h8.9M898.1 165.0h6.0M930.9 165.0h6.0M1030.6 165.0h20.1M858.4 164.0h8.9M898.1 164.0h6.0M930.9 164.0h5.0M1031.6 164.0h14.0M1048.7 164.0h3.0M858.4 163.0h8.9M899.1 163.0h5.0M930.9 163.0h5.0M1032.6 163.0h11.0M1049.7 163.0h2.0M858.4 162.0h8.9M899.1 162.0h5.0M931.9 162.0h3.0M1032.6 162.0h11.0M1049.7 162.0h3.0M858.4 161.0h8.9M900.1 161.0h4.0M931.9 161.0h3.0M1033.6 161.0h9.0M1050.7 161.0h2.0M858.4 160.0h4.0M863.4 160.0h4.0M900.1 160.0h4.0M931.9 160.0h3.0M1034.6 160.0h8.0M1050.7 160.0h2.0M858.4 158.9h4.0M864.4 158.9h4.0M900.1 158.9h4.0M931.9 158.9h3.0M1035.6 158.9h7.0M1050.7 158.9h2.0M858.4 157.9h3.0M865.4 157.9h3.0M901.1 157.9h3.0M931.9 157.9h2.0M1036.6 157.9h6.0M1049.7 157.9h2.0M858.4 156.9h3.0M865.4 156.9h3.0M901.1 156.9h3.0M931.9 156.9h2.0M1036.6 156.9h7.0M1048.7 156.9h3.0M858.4 155.9h2.0M866.3 155.9h2.0M901.1 155.9h3.0M931.9 155.9h2.0M1037.6 155.9h8.0M1046.7 155.9h4.0M858.4 154.9h2.0M866.3 154.9h2.0M902.1 154.9h3.0M931.9 154.9h2.0M1038.6 154.9h11.0M858.4 153.9h2.0M866.3 153.9h2.0M902.1 153.9h3.0M931.9 153.9h2.0M1038.6 153.9h9.0M858.4 152.9h2.0M866.3 152.9h3.0M903.1 152.9h2.0M931.9 152.9h2.0M1039.6 152.9h5.0M858.4 151.9h2.0M867.3 151.9h2.0M903.1 151.9h3.0M931.9 151.9h2.0M1039.6 151.9h4.0M858.4 150.9h2.0M867.3 150.9h2.0M903.1 150.9h3.0M931.9 150.9h2.0M1039.6 150.9h3.0M867.3 149.9h2.0M904.1 149.9h2.0M931.9 149.9h2.0M1039.6 149.9h3.0M867.3 148.9h2.0M904.1 148.9h3.0M931.9 148.9h2.0M1040.6 148.9h2.0M867.3 147.9h2.0M905.1 147.9h2.0M931.9 147.9h2.0M1040.6 147.9h2.0M867.3 146.9h3.0M905.1 146.9h3.0M930.9 146.9h2.0M1040.6 146.9h2.0M868.3 145.9h2.0M905.1 145.9h3.0M930.9 145.9h2.0M1040.6 145.9h2.0M868.3 144.9h2.0M906.1 144.9h3.0M930.9 144.9h2.0M1040.6 144.9h3.0M868.3 143.9h2.0M906.1 143.9h4.0M930.9 143.9h2.0M994.5 143.9h2.0M1041.6 143.9h2.0M868.3 142.9h2.0M907.1 142.9h3.0M929.9 142.9h3.0M994.5 142.9h3.0M1041.6 142.9h2.0M868.3 141.9h2.0M907.1 141.9h4.0M929.9 141.9h3.0M994.5 141.9h4.0M1041.6 141.9h3.0M858.4 140.9h2.0M868.3 140.9h2.0M907.1 140.9h5.0M928.9 140.9h4.0M994.5 140.9h5.0M1042.6 140.9h2.0M858.4 139.9h2.0M868.3 139.9h2.0M908.1 139.9h4.0M928.9 139.9h4.0M994.5 139.9h6.0M1042.6 139.9h3.0M858.4 138.9h2.0M868.3 138.9h2.0M908.1 138.9h5.0M927.9 138.9h6.0M994.5 138.9h8.0M1043.6 138.9h2.0M858.4 137.9h2.0M868.3 137.9h3.0M908.1 137.9h6.0M926.9 137.9h7.0M994.5 137.9h9.0M1043.6 137.9h3.0M858.4 136.9h2.0M868.3 136.9h3.0M908.1 136.9h7.0M926.0 136.9h8.0M994.5 136.9h10.0M1044.6 136.9h3.0M858.4 135.9h2.0M868.3 135.9h3.0M908.1 135.9h8.0M926.0 135.9h8.0M994.5 135.9h11.0M1045.6 135.9h3.0M858.4 134.9h2.0M868.3 134.9h3.0M907.1 134.9h8.9M925.0 134.9h8.9M994.5 134.9h13.0M1046.7 134.9h3.0M858.4 133.9h3.0M868.3 133.9h3.0M907.1 133.9h8.0M925.0 133.9h8.9M994.5 133.9h14.0M1047.7 133.9h3.0M858.4 132.9h3.0M868.3 132.9h3.0M906.1 132.9h8.0M926.0 132.9h8.9M994.5 132.9h15.0M1049.7 132.9h2.0M858.4 131.8h3.0M867.3 131.8h4.0M906.1 131.8h7.0M926.9 131.8h8.0M994.5 131.8h16.0M1050.7 131.8h2.0M858.4 130.8h4.0M867.3 130.8h4.0M905.1 130.8h7.0M926.9 130.8h8.0M994.5 130.8h18.0M1051.7 130.8h2.0M858.4 129.8h4.0M867.3 129.8h3.0M904.1 129.8h6.0M927.9 129.8h7.0M994.5 129.8h19.1M1052.7 129.8h2.0M858.4 128.8h4.0M867.3 128.8h3.0M903.1 128.8h6.0M927.9 128.8h8.0M994.5 128.8h21.1M1052.7 128.8h2.0M858.4 127.8h5.0M866.3 127.8h4.0M902.1 127.8h6.0M927.9 127.8h8.0M994.5 127.8h25.1M1053.7 127.8h2.0M858.4 126.8h6.0M865.4 126.8h4.0M901.1 126.8h6.0M927.9 126.8h8.0M994.5 126.8h30.1M1054.7 126.8h2.0M858.4 125.8h10.9M901.1 125.8h5.0M927.9 125.8h8.9M994.5 125.8h13.0M1010.5 125.8h7.0M1022.6 125.8h5.0M1054.7 125.8h3.0M858.4 124.8h9.9M901.1 124.8h5.0M927.9 124.8h8.9M994.5 124.8h11.0M1011.5 124.8h5.0M1025.6 124.8h4.0M1055.7 124.8h2.0M858.4 123.8h9.9M900.1 123.8h5.0M927.9 123.8h9.9M994.5 123.8h11.0M1011.5 123.8h4.0M1027.6 123.8h4.0M1056.7 123.8h2.0M858.4 122.8h9.9M900.1 122.8h5.0M927.9 122.8h9.9M994.5 122.8h10.0M1012.6 122.8h3.0M1029.6 122.8h3.0M1057.7 122.8h2.0M858.4 121.8h8.9M899.1 121.8h5.0M926.9 121.8h11.9M994.5 121.8h10.0M1012.6 121.8h3.0M1030.6 121.8h3.0M1057.7 121.8h3.0M858.4 120.8h8.9M899.1 120.8h5.0M926.0 120.8h13.9M994.5 120.8h10.0M1011.5 120.8h3.0M1031.6 120.8h3.0M1058.7 120.8h3.0M858.4 119.8h8.9M899.1 119.8h5.0M924.0 119.8h15.9M994.5 119.8h10.0M1011.5 119.8h3.0M1032.6 119.8h3.0M1059.7 119.8h3.0M858.4 118.8h8.9M898.1 118.8h6.0M922.0 118.8h18.9M994.5 118.8h11.0M1010.5 118.8h3.0M1033.6 118.8h2.0M1060.7 118.8h3.0M858.4 117.8h8.9M897.1 117.8h7.0M920.0 117.8h21.9M1003.5 117.8h4.0M1009.5 117.8h3.0M1034.6 117.8h2.0M1062.7 117.8h3.0M858.4 116.8h9.9M896.2 116.8h8.9M919.0 116.8h3.0M927.9 116.8h15.9M1005.5 116.8h5.0M1035.6 116.8h2.0M1063.7 116.8h11.0M858.4 115.8h10.9M882.2 115.8h6.0M895.2 115.8h10.9M917.0 115.8h3.0M929.9 115.8h14.9M1036.6 115.8h2.0M1067.7 115.8h65.2M858.4 114.8h49.7M915.0 114.8h3.0M932.9 114.8h14.9M1037.6 114.8h3.0M1078.7 114.8h54.2M858.4 113.8h57.6M933.9 113.8h5.0M944.8 113.8h50.7M1039.6 113.8h2.0M858.4 112.8h47.7M908.1 112.8h5.0M934.9 112.8h3.0M1040.6 112.8h3.0M864.4 111.8h38.8M934.9 111.8h3.0M1041.6 111.8h3.0M865.4 110.8h5.0M893.2 110.8h9.9M934.9 110.8h2.0M1043.6 110.8h2.0M865.4 109.8h4.0M895.2 109.8h8.0M933.9 109.8h3.0M1044.6 109.8h3.0M865.4 108.8h3.0M897.1 108.8h5.0M933.9 108.8h2.0M1045.6 108.8h3.0M866.3 107.8h2.0M897.1 107.8h5.0M933.9 107.8h2.0M1046.7 107.8h3.0M866.3 106.8h2.0M897.1 106.8h5.0M933.9 106.8h2.0M1047.7 106.8h3.0M866.3 105.8h2.0M897.1 105.8h5.0M933.9 105.8h2.0M1048.7 105.8h2.0M866.3 104.8h2.0M897.1 104.8h5.0M933.9 104.8h2.0M1049.7 104.8h2.0M866.3 103.7h2.0M897.1 103.7h5.0M1049.7 103.7h3.0M866.3 102.7h2.0M897.1 102.7h5.0M1050.7 102.7h2.0M866.3 101.7h2.0M897.1 101.7h5.0M1050.7 101.7h2.0M866.3 100.7h2.0M897.1 100.7h5.0M933.9 100.7h2.0M1050.7 100.7h2.0M866.3 99.7h2.0M897.1 99.7h5.0M933.9 99.7h2.0M1050.7 99.7h3.0M866.3 98.7h2.0M897.1 98.7h5.0M933.9 98.7h2.0M1050.7 98.7h3.0M866.3 97.7h2.0M897.1 97.7h5.0M933.9 97.7h2.0M1050.7 97.7h3.0M866.3 96.7h2.0M897.1 96.7h5.0M933.9 96.7h2.0M1050.7 96.7h3.0M866.3 95.7h2.0M897.1 95.7h5.0M933.9 95.7h2.0M1050.7 95.7h3.0M866.3 94.7h2.0M897.1 94.7h5.0M933.9 94.7h2.0M1050.7 94.7h3.0M866.3 93.7h2.0M897.1 93.7h5.0M933.9 93.7h2.0M1051.7 93.7h2.0M866.3 92.7h2.0M897.1 92.7h5.0M933.9 92.7h2.0M1051.7 92.7h2.0M866.3 91.7h2.0M897.1 91.7h5.0M933.9 91.7h2.0M1051.7 91.7h2.0M866.3 90.7h2.0M897.1 90.7h5.0M933.9 90.7h2.0M1051.7 90.7h2.0M866.3 89.7h2.0M897.1 89.7h5.0M933.9 89.7h2.0M1051.7 89.7h2.0M866.3 88.7h2.0M897.1 88.7h5.0M933.9 88.7h2.0M1051.7 88.7h3.0M866.3 87.7h2.0M897.1 87.7h5.0M933.9 87.7h2.0M1051.7 87.7h3.0M866.3 86.7h2.0M897.1 86.7h5.0M933.9 86.7h2.0M1051.7 86.7h3.0M866.3 85.7h2.0M897.1 85.7h5.0M933.9 85.7h2.0M1051.7 85.7h3.0M866.3 84.7h2.0M897.1 84.7h5.0M933.9 84.7h2.0M1051.7 84.7h3.0M866.3 83.7h2.0M897.1 83.7h5.0M933.9 83.7h2.0M1051.7 83.7h3.0M866.3 82.7h2.0M897.1 82.7h5.0M933.9 82.7h2.0M1051.7 82.7h3.0M866.3 81.7h2.0M897.1 81.7h5.0M933.9 81.7h2.0M1051.7 81.7h3.0M866.3 80.7h2.0M897.1 80.7h5.0M933.9 80.7h2.0M1051.7 80.7h3.0M866.3 79.7h2.0M897.1 79.7h5.0M933.9 79.7h2.0M1051.7 79.7h3.0M866.3 78.7h2.0M897.1 78.7h5.0M933.9 78.7h2.0M1051.7 78.7h3.0M866.3 77.7h2.0M897.1 77.7h5.0M933.9 77.7h2.0M1051.7 77.7h3.0M866.3 76.6h2.0M897.1 76.6h5.0M933.9 76.6h2.0M1051.7 76.6h3.0M866.3 75.6h2.0M897.1 75.6h5.0M933.9 75.6h2.0M1051.7 75.6h3.0M866.3 74.6h2.0M897.1 74.6h5.0M933.9 74.6h2.0M1051.7 74.6h3.0M866.3 73.6h2.0M897.1 73.6h5.0M933.9 73.6h2.0M1051.7 73.6h3.0M866.3 72.6h2.0M897.1 72.6h5.0M933.9 72.6h2.0M1051.7 72.6h3.0M866.3 71.6h2.0M897.1 71.6h5.0M933.9 71.6h2.0M1051.7 71.6h3.0M866.3 70.6h2.0M897.1 70.6h5.0M933.9 70.6h2.0M1051.7 70.6h3.0M866.3 69.6h2.0M897.1 69.6h5.0M933.9 69.6h2.0M1051.7 69.6h3.0M866.3 68.6h2.0M897.1 68.6h5.0M933.9 68.6h2.0M1051.7 68.6h3.0M866.3 67.6h2.0M897.1 67.6h5.0M933.9 67.6h2.0M1051.7 67.6h3.0M866.3 66.6h2.0M897.1 66.6h5.0M933.9 66.6h2.0M1051.7 66.6h3.0M866.3 65.6h2.0M897.1 65.6h5.0M933.9 65.6h2.0M1051.7 65.6h3.0M866.3 64.6h2.0M897.1 64.6h5.0M933.9 64.6h2.0M1051.7 64.6h3.0M866.3 63.6h2.0M897.1 63.6h5.0M933.9 63.6h2.0M1051.7 63.6h3.0M866.3 62.6h2.0M898.1 62.6h4.0M933.9 62.6h2.0M1051.7 62.6h3.0M866.3 61.6h2.0M898.1 61.6h4.0M933.9 61.6h2.0M1051.7 61.6h3.0M866.3 60.6h2.0M898.1 60.6h4.0M933.9 60.6h2.0M1051.7 60.6h3.0M866.3 59.6h2.0M898.1 59.6h4.0M933.9 59.6h2.0M1051.7 59.6h3.0M866.3 58.6h2.0M898.1 58.6h4.0M933.9 58.6h2.0M1051.7 58.6h3.0M866.3 57.6h2.0M898.1 57.6h4.0M933.9 57.6h2.0M1051.7 57.6h3.0M866.3 56.6h2.0M898.1 56.6h4.0M933.9 56.6h2.0M1051.7 56.6h3.0M866.3 55.6h2.0M898.1 55.6h4.0M933.9 55.6h2.0M1051.7 55.6h3.0M866.3 54.6h2.0M898.1 54.6h4.0M1051.7 54.6h3.0M866.3 53.6h2.0M898.1 53.6h4.0M1051.7 53.6h3.0M866.3 52.6h2.0M898.1 52.6h4.0M932.9 52.6h2.0M1051.7 52.6h3.0M866.3 51.6h2.0M898.1 51.6h4.0M932.9 51.6h2.0M1051.7 51.6h3.0M866.3 50.6h2.0M898.1 50.6h4.0M932.9 50.6h2.0M1051.7 50.6h3.0M866.3 49.5h2.0M898.1 49.5h4.0M932.9 49.5h2.0M1051.7 49.5h3.0M866.3 48.5h2.0M898.1 48.5h4.0M932.9 48.5h2.0M1051.7 48.5h3.0M866.3 47.5h2.0M898.1 47.5h4.0M932.9 47.5h2.0M1051.7 47.5h3.0M866.3 46.5h2.0M898.1 46.5h4.0M1051.7 46.5h3.0M866.3 45.5h2.0M898.1 45.5h4.0M1051.7 45.5h3.0M866.3 44.5h2.0M898.1 44.5h4.0M1051.7 44.5h3.0M866.3 43.5h2.0M898.1 43.5h4.0M1051.7 43.5h3.0M866.3 42.5h2.0M898.1 42.5h4.0M1051.7 42.5h3.0M866.3 41.5h2.0M898.1 41.5h4.0M1051.7 41.5h3.0M866.3 40.5h2.0M898.1 40.5h4.0M1051.7 40.5h3.0M866.3 39.5h2.0M898.1 39.5h4.0M1051.7 39.5h3.0M866.3 38.5h2.0M898.1 38.5h4.0M1051.7 38.5h3.0M866.3 37.5h2.0M898.1 37.5h4.0M1051.7 37.5h3.0M866.3 36.5h2.0M898.1 36.5h4.0M1051.7 36.5h3.0"/>
<path stroke="#e0ffff" d="M908.1 309.8h3.0M930.9 309.8h4.0M1055.7 309.8h5.0M908.1 308.8h3.0M930.9 308.8h4.0M1055.7 308.8h5.0M866.3 307.8h2.0M908.1 307.8h3.0M930.9 307.8h4.0M1055.7 307.8h5.0M908.1 306.8h3.0M930.9 306.8h4.0M1055.7 306.8h5.0M867.3 305.8h2.0M908.1 305.8h3.0M930.9 305.8h4.0M1055.7 305.8h6.0M868.3 304.8h2.0M907.1 304.8h4.0M931.9 304.8h3.0M1055.7 304.8h7.0M870.3 303.8h2.0M907.1 303.8h4.0M931.9 303.8h5.0M1056.7 303.8h76.2M873.3 302.8h3.0M904.1 302.8h6.0M931.9 302.8h63.6M1059.7 302.8h73.2M860.4 301.8h2.0M878.3 301.8h6.0M899.1 301.8h8.0M919.0 301.8h10.9M934.9 301.8h2.0M1002.5 301.8h7.0M1045.6 301.8h6.0M862.4 300.8h2.0M885.2 300.8h17.9M915.0 300.8h15.9M1001.5 300.8h14.0M1042.6 300.8h10.0M863.4 299.8h2.0M912.0 299.8h7.0M928.9 299.8h3.0M1000.5 299.8h21.1M1040.6 299.8h13.0M909.1 298.8h6.0M929.9 298.8h3.0M999.5 298.8h31.1M1037.6 298.8h8.0M1048.7 298.8h5.0M864.4 297.8h2.0M907.1 297.8h5.0M930.9 297.8h2.0M999.5 297.8h10.0M1020.6 297.8h23.1M1049.7 297.8h4.0M906.1 296.8h4.0M930.9 296.8h2.0M998.5 296.8h9.0M1024.6 296.8h18.0M1049.7 296.8h4.0M905.1 295.8h3.0M930.9 295.8h3.0M998.5 295.8h8.0M1027.6 295.8h14.0M1050.7 295.8h3.0M865.4 294.8h2.0M904.1 294.8h3.0M930.9 294.8h3.0M998.5 294.8h8.0M1028.6 294.8h12.0M1050.7 294.8h3.0M865.4 293.8h2.0M904.1 293.8h3.0M930.9 293.8h3.0M997.5 293.8h8.0M1030.6 293.8h10.0M1050.7 293.8h3.0M903.1 292.8h3.0M930.9 292.8h3.0M997.5 292.8h8.0M1031.6 292.8h9.0M1049.7 292.8h4.0M904.1 291.8h3.0M930.9 291.8h3.0M997.5 291.8h7.0M1032.6 291.8h8.0M1049.7 291.8h4.0M905.1 290.8h3.0M930.9 290.8h2.0M997.5 290.8h7.0M1033.6 290.8h6.0M1049.7 290.8h4.0M866.3 289.8h2.0M906.1 289.8h3.0M930.9 289.8h2.0M997.5 289.8h7.0M1033.6 289.8h6.0M1048.7 289.8h5.0M866.3 288.8h2.0M907.1 288.8h3.0M930.9 288.8h2.0M997.5 288.8h7.0M1034.6 288.8h6.0M1048.7 288.8h5.0M866.3 287.8h2.0M908.1 287.8h5.0M930.9 287.8h2.0M997.5 287.8h6.0M1035.6 287.8h5.0M1047.7 287.8h6.0M866.3 286.8h2.0M910.1 286.8h5.0M929.9 286.8h3.0M997.5 286.8h6.0M1036.6 286.8h4.0M1046.7 286.8h7.0M866.3 285.8h2.0M912.0 285.8h6.0M929.9 285.8h2.0M997.5 285.8h6.0M1037.6 285.8h3.0M1045.6 285.8h7.0M915.0 284.8h8.0M928.9 284.8h3.0M997.5 284.8h7.0M1043.6 284.8h9.0M918.0 283.8h12.9M997.5 283.8h7.0M1043.6 283.8h9.0M867.3 282.8h2.0M924.0 282.8h5.0M997.5 282.8h7.0M1043.6 282.8h9.0M867.3 281.8h2.0M997.5 281.8h7.0M1045.6 281.8h7.0M867.3 280.8h2.0M997.5 280.8h7.0M1046.7 280.8h7.0M867.3 279.8h2.0M997.5 279.8h8.0M1046.7 279.8h7.0M867.3 278.8h2.0M997.5 278.8h8.0M1047.7 278.8h6.0M867.3 277.8h2.0M998.5 277.8h7.0M1047.7 277.8h6.0M867.3 276.8h2.0M998.5 276.8h8.0M1048.7 276.8h5.0M867.3 275.9h2.0M998.5 275.9h8.0M1048.7 275.9h5.0M867.3 274.9h2.0M999.5 274.9h8.0M1047.7 274.9h6.0M867.3 273.9h2.0M999.5 273.9h9.0M1047.7 273.9h6.0M867.3 272.9h2.0M1000.5 272.9h8.0M1046.7 272.9h6.0M867.3 271.9h2.0M1001.5 271.9h8.0M1044.6 271.9h7.0M867.3 270.9h2.0M1002.5 270.9h8.0M1041.6 270.9h9.0M867.3 269.9h2.0M1004.5 269.9h8.0M1038.6 269.9h11.0M866.3 268.9h3.0M1006.5 268.9h7.0M1036.6 268.9h10.0M866.3 267.9h3.0M1009.5 267.9h6.0M1035.6 267.9h9.0M866.3 266.9h3.0M940.9 266.9h54.6M1012.6 266.9h6.0M1035.6 266.9h6.0M1058.7 266.9h74.2M866.3 265.9h2.0M939.9 265.9h2.0M1014.6 265.9h6.0M1034.6 265.9h6.0M1055.7 265.9h77.2M866.3 264.9h2.0M875.3 264.9h2.0M938.9 264.9h2.0M1017.6 264.9h5.0M1032.6 264.9h7.0M1055.7 264.9h67.2M865.4 263.9h3.0M873.3 263.9h5.0M937.9 263.9h2.0M1019.6 263.9h7.0M1030.6 263.9h8.0M1055.7 263.9h4.0M865.4 262.9h3.0M872.3 262.9h4.0M876.3 262.9h3.0M936.9 262.9h2.0M1022.6 262.9h15.0M1054.7 262.9h4.0M865.4 261.9h2.0M871.3 261.9h3.0M877.3 261.9h3.0M935.9 261.9h2.0M1024.6 261.9h11.0M1054.7 261.9h3.0M863.4 260.9h4.0M870.3 260.9h3.0M878.3 260.9h3.0M1027.6 260.9h6.0M1054.7 260.9h3.0M858.4 259.9h8.9M870.3 259.9h3.0M879.3 259.9h3.0M934.9 259.9h2.0M1055.7 259.9h2.0M858.4 258.9h8.0M869.3 258.9h3.0M880.3 258.9h2.0M1055.7 258.9h2.0M869.3 257.9h3.0M880.3 257.9h3.0M1055.7 257.9h2.0M869.3 256.9h2.0M880.3 256.9h3.0M933.9 256.9h2.0M1055.7 256.9h2.0M868.3 255.9h3.0M881.2 255.9h3.0M1054.7 255.9h2.0M868.3 254.9h3.0M881.2 254.9h3.0M1054.7 254.9h2.0M868.3 253.9h2.0M882.2 253.9h2.0M1054.7 253.9h2.0M867.3 252.9h3.0M882.2 252.9h3.0M1053.7 252.9h2.0M867.3 251.9h3.0M882.2 251.9h3.0M932.9 251.9h2.0M1053.7 251.9h2.0M867.3 250.9h3.0M883.2 250.9h2.0M932.9 250.9h2.0M1052.7 250.9h2.0M867.3 249.9h2.0M883.2 249.9h3.0M932.9 249.9h2.0M1052.7 249.9h2.0M866.3 248.9h3.0M883.2 248.9h3.0M932.9 248.9h2.0M1051.7 248.9h2.0M866.3 247.9h3.0M883.2 247.9h3.0M932.9 247.9h2.0M1051.7 247.9h2.0M866.3 246.9h3.0M883.2 246.9h3.0M932.9 246.9h2.0M1050.7 246.9h2.0M866.3 245.9h3.0M884.2 245.9h2.0M1050.7 245.9h2.0M866.3 244.9h3.0M884.2 244.9h2.0M1050.7 244.9h2.0M866.3 243.9h3.0M884.2 243.9h3.0M933.9 243.9h2.0M1050.7 243.9h2.0M866.3 242.9h3.0M884.2 242.9h3.0M1050.7 242.9h2.0M866.3 241.9h3.0M884.2 241.9h3.0M934.9 241.9h2.0M1050.7 241.9h2.0M866.3 240.9h3.0M884.2 240.9h3.0M935.9 240.9h2.0M1050.7 240.9h3.0M866.3 239.9h3.0M884.2 239.9h2.0M936.9 239.9h2.0M1051.7 239.9h3.0M867.3 238.9h3.0M883.2 238.9h3.0M937.9 238.9h2.0M1051.7 238.9h3.0M868.3 237.9h3.0M881.2 237.9h4.0M938.9 237.9h3.0M1052.7 237.9h3.0M858.4 236.9h6.0M869.3 236.9h13.9M940.9 236.9h4.0M1052.7 236.9h3.0M858.4 235.9h8.9M872.3 235.9h6.0M1020.6 235.9h9.0M1052.7 235.9h4.0M1116.9 235.9h16.0M858.4 234.9h8.9M916.0 234.9h7.0M1009.5 234.9h26.1M1053.7 234.9h62.2M864.4 233.9h3.0M911.1 233.9h2.0M924.0 233.9h2.0M1005.5 233.9h10.0M1017.6 233.9h8.0M1034.6 233.9h5.0M1054.7 233.9h4.0M864.4 232.9h4.0M908.1 232.9h2.0M926.0 232.9h2.0M1003.5 232.9h3.0M1037.6 232.9h5.0M865.4 231.9h2.0M906.1 231.9h2.0M926.9 231.9h2.0M1000.5 231.9h3.0M1039.6 231.9h5.0M865.4 230.9h2.0M905.1 230.9h2.0M927.9 230.9h2.0M999.5 230.9h2.0M1041.6 230.9h5.0M865.4 229.9h2.0M904.1 229.9h2.0M928.9 229.9h2.0M997.5 229.9h3.0M1043.6 229.9h4.0M865.4 228.9h2.0M903.1 228.9h2.0M929.9 228.9h2.0M996.5 228.9h3.0M1044.6 228.9h5.0M865.4 227.9h2.0M902.1 227.9h2.0M929.9 227.9h2.0M995.5 227.9h2.0M1045.6 227.9h5.0M865.4 226.9h2.0M901.1 226.9h2.0M930.9 226.9h2.0M994.5 226.9h2.0M1046.7 226.9h5.0M865.4 225.9h2.0M901.1 225.9h2.0M930.9 225.9h2.0M994.5 225.9h2.0M1047.7 225.9h4.0M865.4 224.9h2.0M901.1 224.9h2.0M930.9 224.9h2.0M1047.7 224.9h5.0M865.4 223.9h2.0M901.1 223.9h2.0M1048.7 223.9h5.0M865.4 222.9h2.0M901.1 222.9h2.0M1048.7 222.9h5.0M865.4 221.9h2.0M901.1 221.9h2.0M1049.7 221.9h4.0M865.4 220.9h2.0M901.1 220.9h2.0M1049.7 220.9h5.0M865.4 219.9h2.0M901.1 219.9h2.0M1049.7 219.9h5.0M865.4 218.9h2.0M901.1 218.9h2.0M1049.7 218.9h5.0M865.4 217.9h2.0M901.1 217.9h2.0M1049.7 217.9h5.0M865.4 216.9h2.0M901.1 216.9h2.0M1049.7 216.9h5.0M865.4 215.9h2.0M901.1 215.9h2.0M1049.7 215.9h5.0M865.4 214.9h2.0M901.1 214.9h2.0M1049.7 214.9h5.0M865.4 213.9h2.0M901.1 213.9h2.0M1049.7 213.9h5.0M865.4 212.9h2.0M901.1 212.9h2.0M1049.7 212.9h5.0M865.4 211.9h2.0M901.1 211.9h2.0M1049.7 211.9h5.0M865.4 210.9h2.0M901.1 210.9h2.0M1049.7 210.9h5.0M865.4 209.9h2.0M901.1 209.9h2.0M1049.7 209.9h5.0M865.4 208.9h2.0M901.1 208.9h2.0M1049.7 208.9h5.0M865.4 207.9h2.0M901.1 207.9h2.0M1049.7 207.9h5.0M865.4 207.0h2.0M901.1 207.0h2.0M1049.7 207.0h5.0M865.4 206.0h2.0M901.1 206.0h2.0M1049.7 206.0h5.0M865.4 205.0h2.0M901.1 205.0h2.0M1049.7 205.0h5.0M865.4 204.0h2.0M901.1 204.0h2.0M1049.7 204.0h5.0M865.4 203.0h2.0M901.1 203.0h2.0M1049.7 203.0h5.0M865.4 202.0h2.0M901.1 202.0h2.0M1049.7 202.0h5.0M865.4 201.0h2.0M901.1 201.0h2.0M1049.7 201.0h5.0M865.4 200.0h2.0M901.1 200.0h2.0M1049.7 200.0h5.0M865.4 199.0h2.0M901.1 199.0h2.0M1049.7 199.0h5.0M865.4 198.0h2.0M901.1 198.0h2.0M1049.7 198.0h5.0M865.4 197.0h2.0M901.1 197.0h2.0M1049.7 197.0h5.0M865.4 196.0h2.0M901.1 196.0h2.0M1049.7 196.0h5.0M865.4 195.0h2.0M901.1 195.0h2.0M1049.7 195.0h5.0M865.4 194.0h2.0M901.1 194.0h2.0M1049.7 194.0h5.0M865.4 193.0h2.0M901.1 193.0h2.0M1049.7 193.0h5.0M865.4 192.0h2.0M901.1 192.0h2.0M1049.7 192.0h5.0M865.4 191.0h2.0M901.1 191.0h2.0M1049.7 191.0h5.0M865.4 190.0h2.0M901.1 190.0h2.0M1049.7 190.0h5.0M865.4 189.0h2.0M901.1 189.0h2.0M1049.7 189.0h5.0M865.4 188.0h2.0M901.1 188.0h2.0M1049.7 188.0h5.0M865.4 187.0h2.0M901.1 187.0h2.0M1049.7 187.0h5.0M865.4 186.0h2.0M901.1 186.0h2.0M1049.7 186.0h5.0M865.4 185.0h2.0M901.1 185.0h2.0M1049.7 185.0h5.0M865.4 184.0h2.0M901.1 184.0h2.0M1049.7 184.0h5.0M865.4 183.0h2.0M901.1 183.0h2.0M1049.7 183.0h5.0M865.4 182.0h2.0M901.1 182.0h2.0M1049.7 182.0h5.0M865.4 181.0h2.0M901.1 181.0h2.0M1049.7 181.0h5.0M865.4 180.0h2.0M901.1 180.0h2.0M1049.7 180.0h5.0M865.4 179.0h2.0M901.1 179.0h2.0M1049.7 179.0h5.0M865.4 178.0h2.0M901.1 178.0h2.0M1049.7 178.0h5.0M865.4 177.0h2.0M901.1 177.0h2.0M1049.7 177.0h5.0M865.4 176.0h2.0M901.1 176.0h2.0M1049.7 176.0h5.0M865.4 175.0h2.0M901.1 175.0h2.0M1049.7 175.0h5.0M865.4 174.0h2.0M901.1 174.0h2.0M1049.7 174.0h5.0M940.9 173.0h3.0M1049.7 173.0h3.0M939.9 172.0h2.0M1049.7 172.0h3.0M938.9 171.0h2.0M1049.7 171.0h3.0M874.3 170.0h16.9M937.9 170.0h3.0M1049.7 170.0h3.0M871.3 169.0h22.9M937.9 169.0h2.0M1049.7 169.0h3.0M869.3 168.0h26.8M936.9 168.0h2.0M1049.7 168.0h3.0M868.3 167.0h28.8M935.9 167.0h2.0M1049.7 167.0h3.0M867.3 166.0h30.8M935.9 166.0h2.0M1049.7 166.0h3.0M866.3 165.0h14.9M883.2 165.0h15.9M1049.7 165.0h3.0M866.3 164.0h10.9M888.2 164.0h10.9M934.9 164.0h2.0M1050.7 164.0h2.0M866.3 163.0h8.9M891.2 163.0h8.9M934.9 163.0h2.0M1050.7 163.0h2.0M866.3 162.0h7.0M893.2 162.0h7.0M933.9 162.0h2.0M1051.7 162.0h2.0M866.3 161.0h6.0M894.2 161.0h7.0M933.9 161.0h2.0M1051.7 161.0h2.0M866.3 160.0h6.0M896.2 160.0h5.0M933.9 160.0h2.0M1051.7 160.0h2.0M867.3 158.9h4.0M897.1 158.9h4.0M933.9 158.9h2.0M1051.7 158.9h2.0M867.3 157.9h4.0M898.1 157.9h4.0M932.9 157.9h3.0M1050.7 157.9h2.0M867.3 156.9h4.0M898.1 156.9h4.0M932.9 156.9h3.0M1050.7 156.9h2.0M867.3 155.9h4.0M899.1 155.9h3.0M932.9 155.9h3.0M1049.7 155.9h2.0M867.3 154.9h4.0M900.1 154.9h3.0M932.9 154.9h3.0M1048.7 154.9h2.0M867.3 153.9h4.0M900.1 153.9h3.0M932.9 153.9h3.0M1046.7 153.9h3.0M868.3 152.9h3.0M901.1 152.9h3.0M932.9 152.9h2.0M1043.6 152.9h5.0M868.3 151.9h3.0M901.1 151.9h3.0M932.9 151.9h2.0M1042.6 151.9h5.0M868.3 150.9h3.0M901.1 150.9h3.0M932.9 150.9h2.0M1041.6 150.9h5.0M868.3 149.9h3.0M902.1 149.9h3.0M932.9 149.9h3.0M1041.6 149.9h3.0M868.3 148.9h3.0M902.1 148.9h3.0M932.9 148.9h3.0M1041.6 148.9h3.0M868.3 147.9h3.0M903.1 147.9h3.0M932.9 147.9h3.0M1041.6 147.9h2.0M869.3 146.9h3.0M903.1 146.9h3.0M931.9 146.9h4.0M1041.6 146.9h2.0M869.3 145.9h3.0M904.1 145.9h2.0M931.9 145.9h4.0M1041.6 145.9h3.0M869.3 144.9h3.0M904.1 144.9h3.0M931.9 144.9h4.0M1042.6 144.9h2.0M869.3 143.9h3.0M904.1 143.9h3.0M931.9 143.9h4.0M1042.6 143.9h2.0M869.3 142.9h4.0M904.1 142.9h4.0M931.9 142.9h3.0M1042.6 142.9h2.0M869.3 141.9h4.0M905.1 141.9h3.0M931.9 141.9h3.0M1043.6 141.9h2.0M869.3 140.9h4.0M905.1 140.9h3.0M931.9 140.9h3.0M1043.6 140.9h2.0M869.3 139.9h5.0M905.1 139.9h4.0M931.9 139.9h3.0M1044.6 139.9h2.0M869.3 138.9h6.0M905.1 138.9h4.0M932.9 138.9h2.0M1044.6 138.9h3.0M870.3 137.9h5.0M905.1 137.9h4.0M932.9 137.9h2.0M1045.6 137.9h2.0M870.3 136.9h6.0M904.1 136.9h5.0M932.9 136.9h2.0M1046.7 136.9h2.0M870.3 135.9h7.0M904.1 135.9h5.0M932.9 135.9h2.0M1047.7 135.9h2.0M870.3 134.9h8.0M903.1 134.9h5.0M932.9 134.9h2.0M1048.7 134.9h2.0M870.3 133.9h9.9M903.1 133.9h5.0M932.9 133.9h2.0M1049.7 133.9h2.0M870.3 132.9h10.9M902.1 132.9h5.0M933.9 132.9h2.0M1050.7 132.9h3.0M870.3 131.8h11.9M900.1 131.8h7.0M933.9 131.8h2.0M1051.7 131.8h3.0M870.3 130.8h12.9M899.1 130.8h7.0M933.9 130.8h2.0M1052.7 130.8h2.0M1088.8 130.8h13.0M869.3 129.8h14.9M899.1 129.8h6.0M933.9 129.8h3.0M1053.7 129.8h2.0M1078.7 129.8h36.1M869.3 128.8h8.9M879.3 128.8h5.0M898.1 128.8h6.0M934.9 128.8h2.0M1053.7 128.8h3.0M1076.7 128.8h46.1M869.3 127.8h5.0M898.1 127.8h5.0M934.9 127.8h3.0M1054.7 127.8h3.0M1075.7 127.8h52.1M868.3 126.8h5.0M898.1 126.8h4.0M934.9 126.8h3.0M1055.7 126.8h3.0M1074.7 126.8h58.2M868.3 125.8h4.0M897.1 125.8h5.0M935.9 125.8h3.0M1016.6 125.8h7.0M1056.7 125.8h2.0M1074.7 125.8h58.2M867.3 124.8h4.0M897.1 124.8h5.0M935.9 124.8h3.0M1015.6 124.8h5.0M1021.6 124.8h5.0M1056.7 124.8h3.0M1074.7 124.8h58.2M867.3 123.8h4.0M883.2 123.8h4.0M897.1 123.8h4.0M936.9 123.8h3.0M1014.6 123.8h4.0M1025.6 123.8h3.0M1057.7 123.8h3.0M1074.7 123.8h58.2M867.3 122.8h3.0M883.2 122.8h4.0M896.2 122.8h5.0M936.9 122.8h4.0M1014.6 122.8h4.0M1027.6 122.8h3.0M1058.7 122.8h3.0M1074.7 122.8h58.2M866.3 121.8h4.0M882.2 121.8h6.0M896.2 121.8h4.0M937.9 121.8h4.0M1014.6 121.8h3.0M1028.6 121.8h3.0M1059.7 121.8h3.0M1073.7 121.8h59.2M866.3 120.8h4.0M881.2 120.8h8.9M895.2 120.8h5.0M938.9 120.8h4.0M1013.6 120.8h3.0M1030.6 120.8h2.0M1060.7 120.8h6.0M1073.7 120.8h59.2M866.3 119.8h4.0M880.3 119.8h11.9M893.2 119.8h7.0M938.9 119.8h6.0M1013.6 119.8h2.0M1031.6 119.8h2.0M1061.7 119.8h71.2M866.3 118.8h5.0M878.3 118.8h20.9M939.9 118.8h7.0M1012.6 118.8h2.0M1032.6 118.8h2.0M1062.7 118.8h70.2M866.3 117.8h7.0M875.3 117.8h22.9M940.9 117.8h63.7M1011.5 117.8h2.0M1033.6 117.8h2.0M1064.7 117.8h68.2M867.3 116.8h29.8M921.0 116.8h8.0M942.8 116.8h63.7M1009.5 116.8h3.0M1034.6 116.8h2.0M1073.7 116.8h59.2M868.3 115.8h14.9M887.2 115.8h8.9M919.0 115.8h3.0M926.9 115.8h4.0M943.8 115.8h51.7M1005.5 115.8h5.0M1034.6 115.8h3.0M917.0 114.8h3.0M927.9 114.8h6.0M946.8 114.8h48.7M1035.6 114.8h3.0M915.0 113.8h3.0M929.9 113.8h5.0M1037.6 113.8h3.0M905.1 112.8h4.0M912.0 112.8h4.0M931.9 112.8h4.0M1038.6 112.8h3.0M858.4 111.8h7.0M902.1 111.8h10.9M932.9 111.8h3.0M1039.6 111.8h3.0M858.4 110.8h8.0M902.1 110.8h5.0M932.9 110.8h3.0M1040.6 110.8h4.0M858.4 109.8h8.0M902.1 109.8h4.0M932.9 109.8h2.0M1042.6 109.8h3.0M858.4 108.8h8.0M901.1 108.8h4.0M932.9 108.8h2.0M1043.6 108.8h3.0M862.4 107.8h5.0M901.1 107.8h4.0M932.9 107.8h2.0M1044.6 107.8h3.0M863.4 106.8h4.0M901.1 106.8h4.0M932.9 106.8h2.0M1045.6 106.8h3.0M864.4 105.8h3.0M901.1 105.8h4.0M932.9 105.8h2.0M1046.7 105.8h3.0M864.4 104.8h3.0M901.1 104.8h4.0M932.9 104.8h2.0M1046.7 104.8h4.0M864.4 103.7h3.0M901.1 103.7h4.0M932.9 103.7h2.0M1046.7 103.7h4.0M864.4 102.7h3.0M901.1 102.7h4.0M932.9 102.7h2.0M1046.7 102.7h5.0M864.4 101.7h3.0M901.1 101.7h4.0M932.9 101.7h2.0M1047.7 101.7h4.0M864.4 100.7h3.0M901.1 100.7h4.0M932.9 100.7h2.0M1047.7 100.7h4.0M864.4 99.7h3.0M901.1 99.7h4.0M932.9 99.7h2.0M1047.7 99.7h4.0M864.4 98.7h3.0M901.1 98.7h4.0M932.9 98.7h2.0M1047.7 98.7h4.0M864.4 97.7h3.0M901.1 97.7h4.0M932.9 97.7h2.0M1047.7 97.7h4.0M864.4 96.7h3.0M901.1 96.7h4.0M932.9 96.7h2.0M1047.7 96.7h4.0M864.4 95.7h3.0M901.1 95.7h4.0M932.9 95.7h2.0M1047.7 95.7h4.0M864.4 94.7h3.0M901.1 94.7h4.0M932.9 94.7h2.0M1047.7 94.7h4.0M864.4 93.7h3.0M901.1 93.7h4.0M932.9 93.7h2.0M1045.6 93.7h7.0M864.4 92.7h3.0M901.1 92.7h4.0M932.9 92.7h2.0M1040.6 92.7h12.0M864.4 91.7h3.0M901.1 91.7h4.0M932.9 91.7h2.0M1039.6 91.7h13.0M864.4 90.7h3.0M901.1 90.7h4.0M932.9 90.7h2.0M1038.6 90.7h14.0M864.4 89.7h3.0M901.1 89.7h4.0M932.9 89.7h2.0M1038.6 89.7h14.0M864.4 88.7h3.0M901.1 88.7h4.0M932.9 88.7h2.0M1037.6 88.7h15.0M864.4 87.7h3.0M901.1 87.7h4.0M932.9 87.7h2.0M1037.6 87.7h15.0M864.4 86.7h3.0M901.1 86.7h4.0M932.9 86.7h2.0M1037.6 86.7h15.0M864.4 85.7h3.0M901.1 85.7h4.0M932.9 85.7h2.0M1037.6 85.7h15.0M864.4 84.7h3.0M901.1 84.7h4.0M932.9 84.7h2.0M1037.6 84.7h15.0M864.4 83.7h3.0M901.1 83.7h4.0M932.9 83.7h2.0M1037.6 83.7h15.0M864.4 82.7h3.0M901.1 82.7h4.0M932.9 82.7h2.0M1037.6 82.7h15.0M864.4 81.7h3.0M901.1 81.7h4.0M932.9 81.7h2.0M1037.6 81.7h15.0M864.4 80.7h3.0M901.1 80.7h4.0M932.9 80.7h2.0M1037.6 80.7h15.0M864.4 79.7h3.0M901.1 79.7h4.0M932.9 79.7h2.0M1037.6 79.7h15.0M864.4 78.7h3.0M901.1 78.7h4.0M932.9 78.7h2.0M1036.6 78.7h16.0M864.4 77.7h3.0M901.1 77.7h4.0M932.9 77.7h2.0M1036.6 77.7h16.0M864.4 76.6h3.0M901.1 76.6h4.0M932.9 76.6h2.0M1036.6 76.6h16.0M864.4 75.6h3.0M901.1 75.6h4.0M932.9 75.6h2.0M1036.6 75.6h16.0M864.4 74.6h3.0M901.1 74.6h4.0M932.9 74.6h2.0M1036.6 74.6h16.0M864.4 73.6h3.0M901.1 73.6h4.0M932.9 73.6h2.0M1036.6 73.6h16.0M864.4 72.6h3.0M901.1 72.6h4.0M932.9 72.6h2.0M1036.6 72.6h16.0M864.4 71.6h3.0M901.1 71.6h4.0M932.9 71.6h2.0M1036.6 71.6h16.0M864.4 70.6h3.0M901.1 70.6h4.0M932.9 70.6h2.0M1036.6 70.6h16.0M864.4 69.6h3.0M901.1 69.6h4.0M932.9 69.6h2.0M1036.6 69.6h16.0M864.4 68.6h3.0M901.1 68.6h4.0M932.9 68.6h2.0M1036.6 68.6h16.0M864.4 67.6h3.0M901.1 67.6h4.0M932.9 67.6h2.0M1036.6 67.6h16.0M864.4 66.6h3.0M901.1 66.6h4.0M932.9 66.6h2.0M1037.6 66.6h15.0M864.4 65.6h3.0M901.1 65.6h4.0M932.9 65.6h2.0M1037.6 65.6h15.0M864.4 64.6h3.0M901.1 64.6h4.0M932.9 64.6h2.0M1037.6 64.6h15.0M864.4 63.6h3.0M901.1 63.6h4.0M932.9 63.6h2.0M1037.6 63.6h15.0M864.4 62.6h3.0M901.1 62.6h4.0M932.9 62.6h2.0M1037.6 62.6h15.0M864.4 61.6h3.0M901.1 61.6h4.0M932.9 61.6h2.0M1037.6 61.6h15.0M864.4 60.6h3.0M901.1 60.6h4.0M932.9 60.6h2.0M1037.6 60.6h15.0M864.4 59.6h3.0M901.1 59.6h4.0M932.9 59.6h2.0M1037.6 59.6h15.0M864.4 58.6h3.0M901.1 58.6h4.0M932.9 58.6h2.0M1037.6 58.6h15.0M864.4 57.6h3.0M901.1 57.6h4.0M932.9 57.6h2.0M1037.6 57.6h15.0M864.4 56.6h3.0M901.1 56.6h4.0M932.9 56.6h2.0M1037.6 56.6h15.0M864.4 55.6h3.0M901.1 55.6h4.0M932.9 55.6h2.0M1037.6 55.6h15.0M864.4 54.6h3.0M901.1 54.6h4.0M932.9 54.6h2.0M1037.6 54.6h15.0M864.4 53.6h3.0M901.1 53.6h4.0M932.9 53.6h2.0M1038.6 53.6h14.0M864.4 52.6h3.0M901.1 52.6h4.0M1038.6 52.6h14.0M864.4 51.6h3.0M901.1 51.6h4.0M1038.6 51.6h14.0M864.4 50.6h3.0M901.1 50.6h4.0M931.9 50.6h2.0M1038.6 50.6h14.0M864.4 49.5h3.0M901.1 49.5h4.0M931.9 49.5h2.0M1038.6 49.5h14.0M864.4 48.5h3.0M901.1 48.5h4.0M931.9 48.5h2.0M1038.6 48.5h14.0M864.4 47.5h3.0M901.1 47.5h4.0M931.9 47.5h2.0M1038.6 47.5h14.0M864.4 46.5h3.0M901.1 46.5h4.0M931.9 46.5h2.0M1038.6 46.5h14.0M864.4 45.5h3.0M901.1 45.5h3.0M931.9 45.5h2.0M1039.6 45.5h13.0M864.4 44.5h3.0M901.1 44.5h3.0M931.9 44.5h2.0M1039.6 44.5h13.0M864.4 43.5h3.0M901.1 43.5h3.0M931.9 43.5h2.0M1039.6 43.5h13.0M864.4 42.5h3.0M901.1 42.5h3.0M931.9 42.5h2.0M1039.6 42.5h13.0M864.4 41.5h3.0M901.1 41.5h3.0M931.9 41.5h2.0M1039.6 41.5h13.0M864.4 40.5h3.0M901.1 40.5h3.0M931.9 40.5h2.0M1040.6 40.5h12.0M864.4 39.5h3.0M901.1 39.5h3.0M931.9 39.5h2.0M1040.6 39.5h12.0M864.4 38.5h3.0M901.1 38.5h3.0M931.9 38.5h2.0M1040.6 38.5h12.0M864.4 37.5h3.0M901.1 37.5h3.0M931.9 37.5h2.0M1040.6 37.5h12.0M864.4 36.5h3.0M901.1 36.5h3.0M931.9 36.5h2.0M1040.6 36.5h12.0"/>
<path stroke="#a0f8ff" d="M866.3 309.8h2.0M905.1 309.8h4.0M933.9 309.8h12.9M955.8 309.8h8.9M990.5 309.8h5.0M1059.7 309.8h73.2M866.3 308.8h2.0M905.1 308.8h4.0M933.9 308.8h12.9M955.8 308.8h8.9M990.5 308.8h5.0M1059.7 308.8h73.2M905.1 307.8h4.0M933.9 307.8h12.9M954.8 307.8h9.9M990.5 307.8h5.0M1059.7 307.8h73.2M867.3 306.8h2.0M905.1 306.8h4.0M933.9 306.8h14.9M953.8 306.8h11.9M989.5 306.8h6.0M1059.7 306.8h73.2M905.1 305.8h4.0M933.9 305.8h34.8M986.6 305.8h8.9M1060.7 305.8h72.2M869.3 304.8h2.0M905.1 304.8h3.0M933.9 304.8h61.6M1061.7 304.8h71.2M871.3 303.8h3.0M903.1 303.8h5.0M935.9 303.8h59.6M875.3 302.8h4.0M898.1 302.8h7.0M858.4 301.8h3.0M883.2 301.8h16.9M861.4 300.8h2.0M918.0 299.8h11.9M863.4 298.8h2.0M914.0 298.8h7.0M927.9 298.8h3.0M1044.6 298.8h5.0M911.1 297.8h6.0M928.9 297.8h3.0M1008.5 297.8h13.0M1042.6 297.8h8.0M864.4 296.8h2.0M909.1 296.8h4.0M929.9 296.8h2.0M1006.5 296.8h19.1M1041.6 296.8h9.0M864.4 295.8h2.0M907.1 295.8h4.0M929.9 295.8h2.0M1005.5 295.8h23.1M1040.6 295.8h11.0M906.1 294.8h3.0M929.9 294.8h2.0M1005.5 294.8h5.0M1018.6 294.8h11.0M1039.6 294.8h12.0M906.1 293.8h2.0M929.9 293.8h2.0M1004.5 293.8h5.0M1020.6 293.8h11.0M1039.6 293.8h12.0M865.4 292.8h2.0M905.1 292.8h3.0M929.9 292.8h2.0M1004.5 292.8h4.0M1022.6 292.8h10.0M1039.6 292.8h11.0M865.4 291.8h2.0M906.1 291.8h3.0M929.9 291.8h2.0M1003.5 291.8h5.0M1023.6 291.8h10.0M1039.6 291.8h11.0M865.4 290.8h2.0M907.1 290.8h3.0M929.9 290.8h2.0M1003.5 290.8h4.0M1025.6 290.8h9.0M1038.6 290.8h12.0M908.1 289.8h3.0M929.9 289.8h2.0M1003.5 289.8h4.0M1026.6 289.8h8.0M1038.6 289.8h11.0M909.1 288.8h5.0M929.9 288.8h2.0M1003.5 288.8h4.0M1027.6 288.8h8.0M1039.6 288.8h10.0M912.0 287.8h5.0M928.9 287.8h3.0M1002.5 287.8h5.0M1028.6 287.8h8.0M1039.6 287.8h9.0M914.0 286.8h6.0M928.9 286.8h2.0M1002.5 286.8h5.0M1028.6 286.8h9.0M1039.6 286.8h8.0M917.0 285.8h13.9M1002.5 285.8h5.0M1029.6 285.8h9.0M1039.6 285.8h7.0M866.3 284.8h2.0M922.0 284.8h8.0M1003.5 284.8h4.0M1030.6 284.8h14.0M866.3 283.8h2.0M1003.5 283.8h4.0M1030.6 283.8h14.0M866.3 282.8h2.0M1003.5 282.8h4.0M1031.6 282.8h13.0M866.3 281.8h2.0M1003.5 281.8h4.0M1031.6 281.8h15.0M866.3 280.8h2.0M1003.5 280.8h5.0M1032.6 280.8h15.0M866.3 279.8h2.0M1004.5 279.8h4.0M1032.6 279.8h15.0M866.3 278.8h2.0M1004.5 278.8h4.0M1032.6 278.8h16.0M866.3 277.8h2.0M1004.5 277.8h5.0M1033.6 277.8h15.0M866.3 276.8h2.0M1005.5 276.8h4.0M1033.6 276.8h16.0M866.3 275.9h2.0M1005.5 275.9h5.0M1033.6 275.9h16.0M866.3 274.9h2.0M1006.5 274.9h5.0M1033.6 274.9h15.0M866.3 273.9h2.0M1007.5 273.9h4.0M1033.6 273.9h15.0M866.3 272.9h2.0M1007.5 272.9h5.0M1033.6 272.9h14.0M866.3 271.9h2.0M1008.5 271.9h5.0M1033.6 271.9h12.0M866.3 270.9h2.0M1009.5 270.9h6.0M1032.6 270.9h10.0M865.4 269.9h3.0M1011.5 269.9h5.0M1032.6 269.9h7.0M865.4 268.9h2.0M1012.6 268.9h6.0M1031.6 268.9h6.0M865.4 267.9h2.0M1014.6 267.9h6.0M1031.6 267.9h5.0M865.4 266.9h2.0M1017.6 266.9h5.0M1029.6 266.9h7.0M865.4 265.9h2.0M940.9 265.9h54.6M1019.6 265.9h7.0M1026.6 265.9h9.0M864.4 264.9h3.0M939.9 264.9h3.0M1021.6 264.9h12.0M1121.9 264.9h11.0M864.4 263.9h2.0M938.9 263.9h2.0M1025.6 263.9h6.0M1058.7 263.9h74.2M858.4 262.9h8.0M875.3 262.9h2.0M937.9 262.9h2.0M1057.7 262.9h72.2M858.4 261.9h8.0M873.3 261.9h5.0M936.9 261.9h2.0M1056.7 261.9h4.0M858.4 260.9h6.0M872.3 260.9h3.0M876.3 260.9h3.0M935.9 260.9h3.0M1056.7 260.9h3.0M872.3 259.9h2.0M877.3 259.9h3.0M935.9 259.9h2.0M1056.7 259.9h3.0M871.3 258.9h3.0M878.3 258.9h3.0M934.9 258.9h3.0M1056.7 258.9h2.0M871.3 257.9h2.0M879.3 257.9h2.0M934.9 257.9h2.0M1056.7 257.9h2.0M870.3 256.9h3.0M879.3 256.9h2.0M934.9 256.9h2.0M1056.7 256.9h2.0M870.3 255.9h2.0M879.3 255.9h3.0M933.9 255.9h3.0M1055.7 255.9h3.0M870.3 254.9h2.0M880.3 254.9h2.0M933.9 254.9h2.0M1055.7 254.9h2.0M869.3 253.9h3.0M880.3 253.9h3.0M933.9 253.9h2.0M1055.7 253.9h2.0M869.3 252.9h3.0M880.3 252.9h3.0M933.9 252.9h2.0M1054.7 252.9h2.0M869.3 251.9h2.0M881.2 251.9h2.0M933.9 251.9h2.0M1054.7 251.9h2.0M869.3 250.9h2.0M881.2 250.9h3.0M933.9 250.9h2.0M1053.7 250.9h2.0M868.3 249.9h3.0M881.2 249.9h3.0M933.9 249.9h2.0M868.3 248.9h3.0M882.2 248.9h2.0M933.9 248.9h2.0M1052.7 248.9h2.0M868.3 247.9h2.0M882.2 247.9h2.0M933.9 247.9h2.0M1052.7 247.9h2.0M868.3 246.9h2.0M882.2 246.9h2.0M933.9 246.9h2.0M1051.7 246.9h2.0M868.3 245.9h2.0M882.2 245.9h3.0M933.9 245.9h2.0M1051.7 245.9h2.0M868.3 244.9h2.0M882.2 244.9h3.0M933.9 244.9h2.0M1051.7 244.9h2.0M868.3 243.9h2.0M882.2 243.9h3.0M934.9 243.9h2.0M1051.7 243.9h2.0M868.3 242.9h2.0M882.2 242.9h3.0M934.9 242.9h2.0M1051.7 242.9h2.0M868.3 241.9h2.0M882.2 241.9h3.0M935.9 241.9h2.0M1051.7 241.9h3.0M868.3 240.9h2.0M882.2 240.9h3.0M936.9 240.9h2.0M1052.7 240.9h2.0M868.3 239.9h3.0M882.2 239.9h3.0M937.9 239.9h2.0M1053.7 239.9h2.0M869.3 238.9h3.0M880.3 238.9h4.0M938.9 238.9h2.0M1053.7 238.9h3.0M870.3 237.9h11.9M940.9 237.9h2.0M1054.7 237.9h3.0M943.8 236.9h51.7M1054.7 236.9h4.0M1075.7 236.9h56.2M1055.7 235.9h62.2M858.4 233.9h7.0M912.0 233.9h12.9M1014.6 233.9h4.0M1024.6 233.9h11.0M858.4 232.9h7.0M909.1 232.9h5.0M924.0 232.9h3.0M1005.5 232.9h11.0M1016.6 232.9h22.1M858.4 231.9h8.0M907.1 231.9h4.0M926.0 231.9h2.0M1002.5 231.9h8.0M1022.6 231.9h18.0M858.4 230.9h8.0M906.1 230.9h3.0M926.9 230.9h2.0M1000.5 230.9h6.0M1026.6 230.9h16.0M858.4 229.9h8.0M905.1 229.9h2.0M927.9 229.9h2.0M999.5 229.9h5.0M1029.6 229.9h15.0M858.4 228.9h8.0M904.1 228.9h2.0M928.9 228.9h2.0M998.5 228.9h4.0M1031.6 228.9h14.0M858.4 227.9h8.0M903.1 227.9h2.0M996.5 227.9h4.0M1032.6 227.9h14.0M858.4 226.9h8.0M902.1 226.9h3.0M929.9 226.9h2.0M995.5 226.9h4.0M1034.6 226.9h13.0M858.4 225.9h8.0M902.1 225.9h2.0M995.5 225.9h3.0M1035.6 225.9h13.0M858.4 224.9h8.0M902.1 224.9h2.0M994.5 224.9h3.0M1036.6 224.9h12.0M858.4 223.9h8.0M902.1 223.9h2.0M930.9 223.9h2.0M994.5 223.9h2.0M1036.6 223.9h13.0M858.4 222.9h8.0M902.1 222.9h2.0M930.9 222.9h2.0M994.5 222.9h2.0M1037.6 222.9h12.0M861.4 221.9h5.0M902.1 221.9h2.0M930.9 221.9h2.0M1037.6 221.9h13.0M861.4 220.9h5.0M902.1 220.9h2.0M930.9 220.9h2.0M1037.6 220.9h13.0M862.4 219.9h4.0M902.1 219.9h2.0M930.9 219.9h2.0M1038.6 219.9h12.0M862.4 218.9h4.0M902.1 218.9h2.0M930.9 218.9h2.0M1038.6 218.9h12.0M862.4 217.9h4.0M902.1 217.9h2.0M930.9 217.9h2.0M1038.6 217.9h12.0M862.4 216.9h4.0M902.1 216.9h2.0M930.9 216.9h2.0M1038.6 216.9h12.0M862.4 215.9h4.0M902.1 215.9h2.0M930.9 215.9h2.0M1038.6 215.9h12.0M862.4 214.9h4.0M902.1 214.9h2.0M930.9 214.9h2.0M1038.6 214.9h12.0M861.4 213.9h5.0M902.1 213.9h2.0M930.9 213.9h2.0M1038.6 213.9h12.0M860.4 212.9h6.0M902.1 212.9h2.0M930.9 212.9h2.0M1038.6 212.9h12.0M858.4 211.9h8.0M902.1 211.9h2.0M930.9 211.9h2.0M1038.6 211.9h12.0M858.4 210.9h8.0M902.1 210.9h2.0M930.9 210.9h2.0M1038.6 210.9h12.0M858.4 209.9h8.0M902.1 209.9h2.0M930.9 209.9h2.0M1038.6 209.9h12.0M858.4 208.9h8.0M902.1 208.9h2.0M930.9 208.9h2.0M1038.6 208.9h12.0M858.4 207.9h8.0M902.1 207.9h2.0M930.9 207.9h2.0M1038.6 207.9h12.0M858.4 207.0h8.0M902.1 207.0h2.0M930.9 207.0h2.0M1038.6 207.0h12.0M858.4 206.0h8.0M902.1 206.0h2.0M930.9 206.0h2.0M1038.6 206.0h12.0M858.4 205.0h8.0M902.1 205.0h2.0M930.9 205.0h2.0M1038.6 205.0h12.0M861.4 204.0h5.0M902.1 204.0h2.0M930.9 204.0h2.0M1038.6 204.0h12.0M862.4 203.0h4.0M902.1 203.0h2.0M930.9 203.0h2.0M1038.6 203.0h12.0M862.4 202.0h4.0M902.1 202.0h2.0M930.9 202.0h2.0M1038.6 202.0h12.0M862.4 201.0h4.0M902.1 201.0h2.0M930.9 201.0h2.0M1038.6 201.0h12.0M863.4 200.0h3.0M902.1 200.0h2.0M930.9 200.0h2.0M1038.6 200.0h12.0M863.4 199.0h3.0M902.1 199.0h2.0M930.9 199.0h2.0M1038.6 199.0h12.0M863.4 198.0h3.0M902.1 198.0h2.0M930.9 198.0h2.0M1038.6 198.0h12.0M863.4 197.0h3.0M902.1 197.0h2.0M930.9 197.0h2.0M1038.6 197.0h12.0M863.4 196.0h3.0M902.1 196.0h2.0M930.9 196.0h2.0M1038.6 196.0h12.0M863.4 195.0h3.0M902.1 195.0h2.0M930.9 195.0h2.0M1038.6 195.0h12.0M863.4 194.0h3.0M902.1 194.0h2.0M930.9 194.0h2.0M1038.6 194.0h12.0M863.4 193.0h3.0M902.1 193.0h2.0M930.9 193.0h2.0M1038.6 193.0h12.0M863.4 192.0h3.0M902.1 192.0h2.0M930.9 192.0h2.0M1038.6 192.0h12.0M863.4 191.0h3.0M902.1 191.0h2.0M930.9 191.0h2.0M1038.6 191.0h12.0M863.4 190.0h3.0M902.1 190.0h2.0M930.9 190.0h2.0M1038.6 190.0h12.0M863.4 189.0h3.0M902.1 189.0h2.0M930.9 189.0h2.0M1038.6 189.0h12.0M863.4 188.0h3.0M902.1 188.0h2.0M930.9 188.0h2.0M1038.6 188.0h12.0M863.4 187.0h3.0M902.1 187.0h2.0M930.9 187.0h2.0M1038.6 187.0h12.0M863.4 186.0h3.0M902.1 186.0h2.0M930.9 186.0h2.0M1038.6 186.0h12.0M863.4 185.0h3.0M902.1 185.0h2.0M930.9 185.0h2.0M1038.6 185.0h12.0M863.4 184.0h3.0M902.1 184.0h2.0M930.9 184.0h2.0M1038.6 184.0h12.0M863.4 183.0h3.0M902.1 183.0h2.0M930.9 183.0h2.0M1038.6 183.0h12.0M863.4 182.0h3.0M902.1 182.0h2.0M930.9 182.0h2.0M1038.6 182.0h12.0M862.4 181.0h4.0M902.1 181.0h2.0M930.9 181.0h2.0M1038.6 181.0h12.0M862.4 180.0h4.0M902.1 180.0h2.0M930.9 180.0h2.0M1038.6 180.0h12.0M862.4 179.0h4.0M902.1 179.0h2.0M930.9 179.0h2.0M1038.6 179.0h12.0M861.4 178.0h5.0M902.1 178.0h2.0M930.9 178.0h2.0M1038.6 178.0h12.0M858.4 177.0h8.0M902.1 177.0h2.0M930.9 177.0h2.0M1038.6 177.0h12.0M858.4 176.0h8.0M902.1 176.0h2.0M930.9 176.0h2.0M1038.6 176.0h12.0M858.4 175.0h8.0M902.1 175.0h2.0M930.9 175.0h2.0M1038.6 175.0h12.0M858.4 174.0h8.0M902.1 174.0h2.0M930.9 174.0h2.0M1038.6 174.0h12.0M942.8 173.0h4.0M1051.7 173.0h4.0M1067.7 173.0h49.1M940.9 172.0h4.0M1051.7 172.0h3.0M1067.7 172.0h49.1M939.9 171.0h4.0M1051.7 171.0h3.0M1067.7 171.0h49.1M939.9 170.0h3.0M1051.7 170.0h3.0M1066.7 170.0h51.1M938.9 169.0h3.0M1051.7 169.0h3.0M1064.7 169.0h56.2M937.9 168.0h3.0M1051.7 168.0h3.0M1063.7 168.0h61.2M936.9 167.0h4.0M1051.7 167.0h2.0M1064.7 167.0h59.2M936.9 166.0h3.0M1051.7 166.0h2.0M1069.7 166.0h49.1M880.3 165.0h4.0M935.9 165.0h4.0M1051.7 165.0h2.0M1083.8 165.0h23.1M876.3 164.0h12.9M935.9 164.0h3.0M1051.7 164.0h2.0M874.3 163.0h17.9M935.9 163.0h3.0M1051.7 163.0h3.0M872.3 162.0h21.9M934.9 162.0h3.0M1052.7 162.0h2.0M871.3 161.0h7.0M887.2 161.0h8.0M934.9 161.0h3.0M1052.7 161.0h2.0M871.3 160.0h5.0M890.2 160.0h7.0M934.9 160.0h3.0M1052.7 160.0h2.0M870.3 158.9h5.0M892.2 158.9h6.0M934.9 158.9h3.0M870.3 157.9h4.0M893.2 157.9h6.0M934.9 157.9h2.0M1051.7 157.9h2.0M870.3 156.9h4.0M895.2 156.9h4.0M934.9 156.9h2.0M1051.7 156.9h2.0M870.3 155.9h4.0M896.2 155.9h4.0M934.9 155.9h2.0M1050.7 155.9h2.0M870.3 154.9h4.0M897.1 154.9h4.0M934.9 154.9h2.0M1049.7 154.9h2.0M870.3 153.9h4.0M897.1 153.9h4.0M934.9 153.9h2.0M1048.7 153.9h3.0M870.3 152.9h4.0M898.1 152.9h4.0M933.9 152.9h3.0M1047.7 152.9h3.0M870.3 151.9h4.0M899.1 151.9h3.0M933.9 151.9h2.0M1046.7 151.9h3.0M870.3 150.9h4.0M899.1 150.9h3.0M933.9 150.9h3.0M1045.6 150.9h4.0M870.3 149.9h4.0M900.1 149.9h3.0M934.9 149.9h2.0M1043.6 149.9h5.0M870.3 148.9h5.0M900.1 148.9h3.0M934.9 148.9h2.0M1043.6 148.9h4.0M870.3 147.9h5.0M901.1 147.9h3.0M934.9 147.9h2.0M1042.6 147.9h3.0M871.3 146.9h5.0M901.1 146.9h3.0M934.9 146.9h2.0M1042.6 146.9h3.0M871.3 145.9h5.0M902.1 145.9h3.0M934.9 145.9h2.0M1043.6 145.9h2.0M871.3 144.9h6.0M902.1 144.9h3.0M934.9 144.9h3.0M1043.6 144.9h2.0M871.3 143.9h7.0M902.1 143.9h3.0M934.9 143.9h3.0M1043.6 143.9h2.0M872.3 142.9h6.0M902.1 142.9h3.0M933.9 142.9h4.0M1043.6 142.9h3.0M872.3 141.9h7.0M903.1 141.9h3.0M933.9 141.9h4.0M1044.6 141.9h2.0M872.3 140.9h8.0M902.1 140.9h4.0M933.9 140.9h5.0M1044.6 140.9h3.0M873.3 139.9h8.0M902.1 139.9h4.0M933.9 139.9h5.0M1045.6 139.9h2.0M874.3 138.9h8.9M902.1 138.9h4.0M933.9 138.9h5.0M1046.7 138.9h2.0M874.3 137.9h9.9M901.1 137.9h5.0M933.9 137.9h6.0M1046.7 137.9h3.0M875.3 136.9h10.9M901.1 136.9h4.0M933.9 136.9h6.0M1047.7 136.9h3.0M1063.7 136.9h11.0M1082.8 136.9h24.1M876.3 135.9h11.9M899.1 135.9h6.0M933.9 135.9h7.0M1048.7 135.9h3.0M1058.7 135.9h60.2M877.3 134.9h13.9M897.1 134.9h7.0M933.9 134.9h8.0M1049.7 134.9h4.0M1056.7 134.9h68.2M879.3 133.9h24.8M933.9 133.9h8.0M1050.7 133.9h77.2M880.3 132.9h22.9M934.9 132.9h8.0M1052.7 132.9h79.2M881.2 131.8h19.9M934.9 131.8h8.9M1053.7 131.8h79.2M882.2 130.8h17.9M934.9 130.8h10.9M1053.7 130.8h36.1M1100.8 130.8h32.1M883.2 129.8h16.9M935.9 129.8h12.9M1054.7 129.8h25.1M1113.8 129.8h19.1M877.3 128.8h3.0M883.2 128.8h15.9M935.9 128.8h59.6M1055.7 128.8h22.1M1121.9 128.8h11.0M873.3 127.8h25.8M936.9 127.8h58.6M1056.7 127.8h20.1M1126.9 127.8h6.0M872.3 126.8h26.8M936.9 126.8h58.6M1057.7 126.8h18.0M871.3 125.8h26.8M937.9 125.8h57.6M1057.7 125.8h18.0M870.3 124.8h27.8M937.9 124.8h57.6M1019.6 124.8h3.0M1058.7 124.8h17.0M870.3 123.8h13.9M886.2 123.8h11.9M938.9 123.8h56.6M1017.6 123.8h9.0M1059.7 123.8h16.0M869.3 122.8h14.9M886.2 122.8h10.9M939.9 122.8h55.6M1017.6 122.8h3.0M1024.6 122.8h4.0M1060.7 122.8h15.0M869.3 121.8h13.9M887.2 121.8h9.9M940.9 121.8h54.6M1016.6 121.8h4.0M1026.6 121.8h3.0M1061.7 121.8h13.0M869.3 120.8h12.9M889.2 120.8h7.0M941.8 120.8h53.7M1015.6 120.8h4.0M1028.6 120.8h3.0M1065.7 120.8h9.0M869.3 119.8h11.9M891.2 119.8h3.0M943.8 119.8h51.7M1014.6 119.8h4.0M1029.6 119.8h3.0M870.3 118.8h8.9M945.8 118.8h49.7M1013.6 118.8h3.0M1030.6 118.8h3.0M872.3 117.8h4.0M1012.6 117.8h3.0M1031.6 117.8h3.0M1011.5 116.8h2.0M1032.6 116.8h3.0M921.0 115.8h7.0M994.5 115.8h12.0M1009.5 115.8h3.0M1032.6 115.8h3.0M919.0 114.8h3.0M926.0 114.8h3.0M994.5 114.8h7.0M1004.5 114.8h5.0M1033.6 114.8h3.0M917.0 113.8h2.0M927.9 113.8h3.0M994.5 113.8h2.0M1033.6 113.8h5.0M915.0 112.8h3.0M928.9 112.8h4.0M1033.6 112.8h6.0M912.0 111.8h4.0M929.9 111.8h4.0M1033.6 111.8h7.0M906.1 110.8h8.0M930.9 110.8h3.0M1032.6 110.8h9.0M905.1 109.8h5.0M931.9 109.8h2.0M1032.6 109.8h11.0M904.1 108.8h4.0M931.9 108.8h2.0M1031.6 108.8h13.0M858.4 107.8h5.0M904.1 107.8h3.0M931.9 107.8h2.0M1031.6 107.8h14.0M858.4 106.8h6.0M904.1 106.8h3.0M931.9 106.8h2.0M1031.6 106.8h15.0M858.4 105.8h7.0M904.1 105.8h3.0M931.9 105.8h2.0M1031.6 105.8h16.0M858.4 104.8h7.0M904.1 104.8h3.0M931.9 104.8h2.0M1031.6 104.8h16.0M858.4 103.7h7.0M904.1 103.7h3.0M931.9 103.7h2.0M999.5 103.7h2.0M1030.6 103.7h17.0M858.4 102.7h7.0M904.1 102.7h3.0M931.9 102.7h2.0M998.5 102.7h4.0M1030.6 102.7h17.0M858.4 101.7h7.0M904.1 101.7h3.0M931.9 101.7h2.0M998.5 101.7h4.0M1030.6 101.7h18.0M858.4 100.7h7.0M904.1 100.7h3.0M931.9 100.7h2.0M997.5 100.7h5.0M1030.6 100.7h18.0M858.4 99.7h7.0M904.1 99.7h3.0M931.9 99.7h2.0M994.5 99.7h8.0M1030.6 99.7h18.0M858.4 98.7h7.0M904.1 98.7h3.0M931.9 98.7h2.0M994.5 98.7h8.0M1030.6 98.7h18.0M858.4 97.7h7.0M904.1 97.7h3.0M931.9 97.7h2.0M994.5 97.7h9.0M1030.6 97.7h18.0M858.4 96.7h7.0M904.1 96.7h3.0M931.9 96.7h2.0M994.5 96.7h9.0M1030.6 96.7h18.0M858.4 95.7h7.0M904.1 95.7h3.0M931.9 95.7h2.0M994.5 95.7h9.0M1030.6 95.7h18.0M858.4 94.7h7.0M904.1 94.7h3.0M931.9 94.7h2.0M994.5 94.7h9.0M1030.6 94.7h18.0M858.4 93.7h7.0M904.1 93.7h3.0M931.9 93.7h2.0M994.5 93.7h9.0M1031.6 93.7h15.0M858.4 92.7h7.0M904.1 92.7h3.0M931.9 92.7h2.0M994.5 92.7h9.0M1031.6 92.7h10.0M858.4 91.7h7.0M904.1 91.7h3.0M930.9 91.7h3.0M994.5 91.7h9.0M1031.6 91.7h9.0M858.4 90.7h7.0M904.1 90.7h3.0M930.9 90.7h3.0M994.5 90.7h9.0M1031.6 90.7h8.0M858.4 89.7h7.0M904.1 89.7h3.0M930.9 89.7h3.0M994.5 89.7h9.0M1031.6 89.7h8.0M858.4 88.7h7.0M904.1 88.7h3.0M930.9 88.7h3.0M994.5 88.7h9.0M1031.6 88.7h7.0M858.4 87.7h7.0M904.1 87.7h3.0M930.9 87.7h3.0M994.5 87.7h9.0M1031.6 87.7h7.0M858.4 86.7h7.0M904.1 86.7h3.0M930.9 86.7h3.0M994.5 86.7h9.0M1031.6 86.7h7.0M858.4 85.7h7.0M904.1 85.7h3.0M930.9 85.7h3.0M994.5 85.7h9.0M1031.6 85.7h7.0M858.4 84.7h7.0M904.1 84.7h3.0M930.9 84.7h3.0M994.5 84.7h9.0M1030.6 84.7h8.0M858.4 83.7h7.0M904.1 83.7h3.0M930.9 83.7h3.0M994.5 83.7h10.0M1030.6 83.7h8.0M858.4 82.7h7.0M904.1 82.7h3.0M930.9 82.7h3.0M994.5 82.7h10.0M1030.6 82.7h8.0M858.4 81.7h7.0M904.1 81.7h3.0M930.9 81.7h3.0M994.5 81.7h10.0M1030.6 81.7h8.0M858.4 80.7h7.0M904.1 80.7h3.0M930.9 80.7h3.0M994.5 80.7h10.0M1030.6 80.7h8.0M858.4 79.7h7.0M904.1 79.7h3.0M930.9 79.7h3.0M994.5 79.7h10.0M1030.6 79.7h8.0M858.4 78.7h7.0M904.1 78.7h3.0M930.9 78.7h3.0M994.5 78.7h10.0M1030.6 78.7h7.0M858.4 77.7h7.0M904.1 77.7h3.0M930.9 77.7h3.0M994.5 77.7h10.0M1030.6 77.7h7.0M858.4 76.6h7.0M904.1 76.6h3.0M930.9 76.6h3.0M994.5 76.6h10.0M1030.6 76.6h7.0M858.4 75.6h7.0M904.1 75.6h3.0M930.9 75.6h3.0M994.5 75.6h10.0M1030.6 75.6h7.0M858.4 74.6h7.0M904.1 74.6h3.0M930.9 74.6h3.0M994.5 74.6h10.0M1030.6 74.6h7.0M858.4 73.6h7.0M904.1 73.6h3.0M930.9 73.6h3.0M994.5 73.6h10.0M1030.6 73.6h7.0M858.4 72.6h7.0M904.1 72.6h3.0M930.9 72.6h3.0M994.5 72.6h10.0M1030.6 72.6h7.0M858.4 71.6h7.0M904.1 71.6h3.0M930.9 71.6h3.0M994.5 71.6h10.0M1030.6 71.6h7.0M858.4 70.6h7.0M904.1 70.6h3.0M930.9 70.6h3.0M994.5 70.6h10.0M1030.6 70.6h7.0M858.4 69.6h7.0M904.1 69.6h3.0M930.9 69.6h3.0M994.5 69.6h10.0M1030.6 69.6h7.0M858.4 68.6h7.0M904.1 68.6h3.0M930.9 68.6h3.0M994.5 68.6h10.0M1030.6 68.6h7.0M858.4 67.6h7.0M904.1 67.6h3.0M930.9 67.6h3.0M994.5 67.6h10.0M1030.6 67.6h7.0M858.4 66.6h7.0M904.1 66.6h3.0M930.9 66.6h3.0M994.5 66.6h10.0M1030.6 66.6h8.0M858.4 65.6h7.0M904.1 65.6h3.0M930.9 65.6h3.0M994.5 65.6h10.0M1030.6 65.6h8.0M858.4 64.6h7.0M904.1 64.6h3.0M930.9 64.6h3.0M994.5 64.6h10.0M1030.6 64.6h8.0M858.4 63.6h7.0M904.1 63.6h3.0M930.9 63.6h3.0M994.5 63.6h10.0M1030.6 63.6h8.0M858.4 62.6h7.0M904.1 62.6h3.0M930.9 62.6h3.0M994.5 62.6h10.0M1030.6 62.6h8.0M858.4 61.6h7.0M904.1 61.6h3.0M930.9 61.6h3.0M994.5 61.6h9.0M1031.6 61.6h7.0M858.4 60.6h7.0M904.1 60.6h3.0M930.9 60.6h3.0M994.5 60.6h9.0M1031.6 60.6h7.0M858.4 59.6h7.0M904.1 59.6h3.0M930.9 59.6h3.0M994.5 59.6h9.0M1031.6 59.6h7.0M858.4 58.6h7.0M904.1 58.6h3.0M930.9 58.6h3.0M994.5 58.6h9.0M1031.6 58.6h7.0M858.4 57.6h7.0M904.1 57.6h3.0M930.9 57.6h3.0M994.5 57.6h9.0M1031.6 57.6h7.0M858.4 56.6h7.0M904.1 56.6h3.0M930.9 56.6h3.0M994.5 56.6h9.0M1031.6 56.6h7.0M858.4 55.6h7.0M904.1 55.6h3.0M930.9 55.6h3.0M994.5 55.6h9.0M1031.6 55.6h7.0M858.4 54.6h7.0M904.1 54.6h3.0M930.9 54.6h3.0M994.5 54.6h9.0M1031.6 54.6h7.0M858.4 53.6h7.0M904.1 53.6h3.0M930.9 53.6h3.0M994.5 53.6h9.0M1031.6 53.6h8.0M858.4 52.6h7.0M904.1 52.6h3.0M930.9 52.6h3.0M994.5 52.6h9.0M1031.6 52.6h8.0M858.4 51.6h7.0M904.1 51.6h3.0M930.9 51.6h3.0M997.5 51.6h6.0M1031.6 51.6h8.0M858.4 50.6h7.0M904.1 50.6h3.0M930.9 50.6h2.0M998.5 50.6h5.0M1031.6 50.6h8.0M858.4 49.5h7.0M904.1 49.5h3.0M930.9 49.5h2.0M998.5 49.5h4.0M1032.6 49.5h7.0M858.4 48.5h7.0M904.1 48.5h3.0M930.9 48.5h2.0M998.5 48.5h4.0M1032.6 48.5h7.0M858.4 47.5h7.0M904.1 47.5h3.0M930.9 47.5h2.0M999.5 47.5h3.0M1032.6 47.5h7.0M858.4 46.5h7.0M904.1 46.5h3.0M930.9 46.5h2.0M999.5 46.5h3.0M1032.6 46.5h7.0M858.4 45.5h7.0M903.1 45.5h4.0M930.9 45.5h2.0M999.5 45.5h3.0M1032.6 45.5h8.0M858.4 44.5h7.0M903.1 44.5h4.0M930.9 44.5h2.0M999.5 44.5h2.0M1032.6 44.5h8.0M858.4 43.5h7.0M903.1 43.5h4.0M930.9 43.5h2.0M1033.6 43.5h7.0M858.4 42.5h7.0M903.1 42.5h4.0M930.9 42.5h2.0M1033.6 42.5h7.0M858.4 41.5h7.0M903.1 41.5h4.0M930.9 41.5h2.0M1033.6 41.5h7.0M858.4 40.5h7.0M903.1 40.5h4.0M930.9 40.5h2.0M1034.6 40.5h7.0M858.4 39.5h7.0M903.1 39.5h4.0M930.9 39.5h2.0M1034.6 39.5h7.0M858.4 38.5h7.0M903.1 38.5h3.0M930.9 38.5h2.0M1034.6 38.5h7.0M858.4 37.5h7.0M903.1 37.5h3.0M930.9 37.5h2.0M1034.6 37.5h7.0M858.4 36.5h7.0M903.1 36.5h3.0M1035.6 36.5h6.0"/>
<path stroke="#70eafc" d="M867.3 309.8h2.0M900.1 309.8h6.0M945.8 309.8h10.9M963.7 309.8h27.8M867.3 308.8h2.0M900.1 308.8h6.0M945.8 308.8h10.9M963.7 308.8h27.8M867.3 307.8h2.0M900.1 307.8h6.0M945.8 307.8h9.9M963.7 307.8h27.8M868.3 306.8h2.0M900.1 306.8h6.0M947.8 306.8h7.0M964.7 306.8h25.8M868.3 305.8h2.0M900.1 305.8h6.0M967.7 305.8h19.9M870.3 304.8h2.0M899.1 304.8h7.0M873.3 303.8h3.0M895.2 303.8h8.9M878.3 302.8h20.9M858.4 300.8h4.0M861.4 299.8h3.0M920.0 298.8h8.9M863.4 297.8h2.0M916.0 297.8h13.9M912.0 296.8h18.9M910.1 295.8h8.9M926.9 295.8h4.0M864.4 294.8h2.0M908.1 294.8h7.0M927.9 294.8h3.0M1009.5 294.8h10.0M864.4 293.8h2.0M907.1 293.8h6.0M927.9 293.8h3.0M1008.5 293.8h13.0M907.1 292.8h5.0M927.9 292.8h3.0M1007.5 292.8h16.0M908.1 291.8h5.0M927.9 291.8h3.0M1007.5 291.8h4.0M1016.6 291.8h8.0M909.1 290.8h6.0M927.9 290.8h3.0M1006.5 290.8h4.0M1018.6 290.8h8.0M865.4 289.8h2.0M910.1 289.8h8.0M927.9 289.8h3.0M1006.5 289.8h4.0M1019.6 289.8h8.0M865.4 288.8h2.0M913.0 288.8h9.9M926.9 288.8h4.0M1006.5 288.8h4.0M1020.6 288.8h8.0M865.4 287.8h2.0M916.0 287.8h13.9M1006.5 287.8h4.0M1021.6 287.8h8.0M865.4 286.8h2.0M919.0 286.8h10.9M1006.5 286.8h4.0M1022.6 286.8h7.0M865.4 285.8h2.0M1006.5 285.8h4.0M1023.6 285.8h7.0M865.4 284.8h2.0M1006.5 284.8h4.0M1024.6 284.8h7.0M865.4 283.8h2.0M1006.5 283.8h4.0M1025.6 283.8h6.0M865.4 282.8h2.0M1006.5 282.8h4.0M1025.6 282.8h7.0M865.4 281.8h2.0M1006.5 281.8h5.0M1026.6 281.8h6.0M865.4 280.8h2.0M1007.5 280.8h4.0M1026.6 280.8h7.0M865.4 279.8h2.0M1007.5 279.8h5.0M1027.6 279.8h6.0M865.4 278.8h2.0M1007.5 278.8h5.0M1027.6 278.8h6.0M865.4 277.8h2.0M1008.5 277.8h5.0M1028.6 277.8h6.0M865.4 276.8h2.0M1008.5 276.8h5.0M1028.6 276.8h6.0M865.4 275.9h2.0M1009.5 275.9h5.0M1028.6 275.9h6.0M865.4 274.9h2.0M1010.5 274.9h5.0M1028.6 274.9h6.0M865.4 273.9h2.0M1010.5 273.9h6.0M1028.6 273.9h6.0M864.4 272.9h3.0M1011.5 272.9h6.0M1028.6 272.9h6.0M864.4 271.9h3.0M1012.6 271.9h6.0M1028.6 271.9h6.0M864.4 270.9h3.0M1014.6 270.9h5.0M1028.6 270.9h5.0M864.4 269.9h2.0M1015.6 269.9h6.0M1027.6 269.9h6.0M863.4 268.9h3.0M1017.6 268.9h6.0M1026.6 268.9h6.0M858.4 267.9h8.0M1019.6 267.9h13.0M858.4 266.9h8.0M1021.6 266.9h9.0M858.4 265.9h8.0M1025.6 265.9h2.0M858.4 264.9h7.0M941.8 264.9h53.7M858.4 263.9h7.0M939.9 263.9h4.0M938.9 262.9h3.0M1128.9 262.9h4.0M937.9 261.9h3.0M1059.7 261.9h73.2M874.3 260.9h3.0M937.9 260.9h2.0M1058.7 260.9h67.2M873.3 259.9h5.0M936.9 259.9h2.0M1058.7 259.9h4.0M1073.7 259.9h46.1M873.3 258.9h6.0M936.9 258.9h2.0M1057.7 258.9h4.0M1082.8 258.9h30.1M872.3 257.9h8.0M935.9 257.9h2.0M1057.7 257.9h3.0M1089.8 257.9h13.0M872.3 256.9h4.0M876.3 256.9h4.0M935.9 256.9h2.0M1057.7 256.9h2.0M871.3 255.9h4.0M877.3 255.9h3.0M935.9 255.9h2.0M1057.7 255.9h2.0M871.3 254.9h4.0M877.3 254.9h4.0M934.9 254.9h3.0M1056.7 254.9h2.0M871.3 253.9h3.0M878.3 253.9h3.0M934.9 253.9h2.0M1056.7 253.9h2.0M871.3 252.9h3.0M878.3 252.9h3.0M934.9 252.9h2.0M1055.7 252.9h2.0M870.3 251.9h4.0M878.3 251.9h4.0M934.9 251.9h2.0M870.3 250.9h4.0M879.3 250.9h3.0M934.9 250.9h2.0M1054.7 250.9h2.0M870.3 249.9h3.0M879.3 249.9h3.0M934.9 249.9h2.0M1053.7 249.9h2.0M870.3 248.9h3.0M879.3 248.9h4.0M934.9 248.9h2.0M1053.7 248.9h2.0M869.3 247.9h4.0M879.3 247.9h4.0M934.9 247.9h2.0M869.3 246.9h4.0M879.3 246.9h4.0M934.9 246.9h2.0M1052.7 246.9h2.0M869.3 245.9h4.0M880.3 245.9h3.0M934.9 245.9h2.0M1052.7 245.9h2.0M869.3 244.9h4.0M880.3 244.9h3.0M934.9 244.9h3.0M1052.7 244.9h2.0M869.3 243.9h4.0M880.3 243.9h3.0M935.9 243.9h2.0M1052.7 243.9h2.0M869.3 242.9h4.0M880.3 242.9h3.0M935.9 242.9h2.0M1052.7 242.9h2.0M869.3 241.9h4.0M880.3 241.9h3.0M936.9 241.9h2.0M1053.7 241.9h2.0M1089.8 241.9h13.0M869.3 240.9h5.0M879.3 240.9h4.0M937.9 240.9h2.0M1053.7 240.9h3.0M1084.8 240.9h25.1M870.3 239.9h12.9M938.9 239.9h2.0M1054.7 239.9h3.0M1079.7 239.9h36.1M871.3 238.9h9.9M939.9 238.9h3.0M1055.7 238.9h3.0M1074.7 238.9h46.1M941.8 237.9h53.7M1056.7 237.9h4.0M1068.7 237.9h59.2M1057.7 236.9h19.1M1130.9 236.9h2.0M913.0 232.9h11.9M1015.6 232.9h2.0M910.1 231.9h5.0M923.0 231.9h4.0M1009.5 231.9h3.0M1020.6 231.9h3.0M908.1 230.9h3.0M926.0 230.9h2.0M1005.5 230.9h3.0M1024.6 230.9h3.0M906.1 229.9h3.0M926.9 229.9h2.0M1003.5 229.9h3.0M1027.6 229.9h3.0M905.1 228.9h3.0M927.9 228.9h2.0M1001.5 228.9h3.0M1028.6 228.9h4.0M904.1 227.9h3.0M928.9 227.9h2.0M999.5 227.9h3.0M1030.6 227.9h3.0M904.1 226.9h2.0M928.9 226.9h2.0M998.5 226.9h3.0M1031.6 226.9h4.0M903.1 225.9h3.0M929.9 225.9h2.0M997.5 225.9h4.0M1032.6 225.9h4.0M903.1 224.9h2.0M929.9 224.9h2.0M996.5 224.9h4.0M1032.6 224.9h5.0M903.1 223.9h2.0M929.9 223.9h2.0M995.5 223.9h5.0M1032.6 223.9h5.0M903.1 222.9h2.0M929.9 222.9h2.0M995.5 222.9h5.0M1033.6 222.9h5.0M858.4 221.9h4.0M903.1 221.9h2.0M929.9 221.9h2.0M994.5 221.9h5.0M1033.6 221.9h5.0M858.4 220.9h4.0M903.1 220.9h2.0M929.9 220.9h2.0M994.5 220.9h5.0M1033.6 220.9h5.0M858.4 219.9h5.0M903.1 219.9h2.0M929.9 219.9h2.0M994.5 219.9h5.0M1033.6 219.9h6.0M858.4 218.9h5.0M903.1 218.9h2.0M929.9 218.9h2.0M994.5 218.9h5.0M1033.6 218.9h6.0M858.4 217.9h5.0M903.1 217.9h2.0M929.9 217.9h2.0M994.5 217.9h5.0M1033.6 217.9h6.0M858.4 216.9h5.0M903.1 216.9h2.0M929.9 216.9h2.0M994.5 216.9h5.0M1033.6 216.9h6.0M858.4 215.9h5.0M903.1 215.9h2.0M929.9 215.9h2.0M994.5 215.9h5.0M1033.6 215.9h6.0M858.4 214.9h5.0M903.1 214.9h2.0M929.9 214.9h2.0M994.5 214.9h5.0M1033.6 214.9h6.0M858.4 213.9h4.0M903.1 213.9h2.0M929.9 213.9h2.0M994.5 213.9h5.0M1033.6 213.9h6.0M858.4 212.9h3.0M903.1 212.9h2.0M929.9 212.9h2.0M994.5 212.9h5.0M1033.6 212.9h6.0M903.1 211.9h2.0M929.9 211.9h2.0M994.5 211.9h5.0M1033.6 211.9h6.0M903.1 210.9h2.0M929.9 210.9h2.0M994.5 210.9h5.0M1033.6 210.9h6.0M903.1 209.9h2.0M929.9 209.9h2.0M994.5 209.9h5.0M1033.6 209.9h6.0M903.1 208.9h2.0M929.9 208.9h2.0M994.5 208.9h5.0M1033.6 208.9h6.0M903.1 207.9h2.0M929.9 207.9h2.0M994.5 207.9h5.0M1033.6 207.9h6.0M903.1 207.0h2.0M929.9 207.0h2.0M994.5 207.0h5.0M1033.6 207.0h6.0M903.1 206.0h2.0M929.9 206.0h2.0M994.5 206.0h5.0M1033.6 206.0h6.0M903.1 205.0h2.0M929.9 205.0h2.0M994.5 205.0h5.0M1033.6 205.0h6.0M858.4 204.0h4.0M903.1 204.0h2.0M929.9 204.0h2.0M994.5 204.0h5.0M1033.6 204.0h6.0M858.4 203.0h5.0M903.1 203.0h2.0M929.9 203.0h2.0M994.5 203.0h5.0M1033.6 203.0h6.0M858.4 202.0h5.0M903.1 202.0h2.0M929.9 202.0h2.0M994.5 202.0h5.0M1033.6 202.0h6.0M858.4 201.0h5.0M903.1 201.0h2.0M929.9 201.0h2.0M994.5 201.0h5.0M1033.6 201.0h6.0M858.4 200.0h6.0M903.1 200.0h2.0M929.9 200.0h2.0M994.5 200.0h5.0M1033.6 200.0h6.0M858.4 199.0h6.0M903.1 199.0h2.0M929.9 199.0h2.0M994.5 199.0h5.0M1033.6 199.0h6.0M858.4 198.0h6.0M903.1 198.0h2.0M929.9 198.0h2.0M994.5 198.0h5.0M1033.6 198.0h6.0M858.4 197.0h6.0M903.1 197.0h2.0M929.9 197.0h2.0M994.5 197.0h5.0M1033.6 197.0h6.0M858.4 196.0h6.0M903.1 196.0h2.0M929.9 196.0h2.0M994.5 196.0h5.0M1033.6 196.0h6.0M858.4 195.0h6.0M903.1 195.0h2.0M929.9 195.0h2.0M994.5 195.0h5.0M1033.6 195.0h6.0M858.4 194.0h6.0M903.1 194.0h2.0M929.9 194.0h2.0M994.5 194.0h5.0M1033.6 194.0h6.0M858.4 193.0h6.0M903.1 193.0h2.0M929.9 193.0h2.0M994.5 193.0h5.0M1033.6 193.0h6.0M858.4 192.0h6.0M903.1 192.0h2.0M929.9 192.0h2.0M994.5 192.0h5.0M1033.6 192.0h6.0M858.4 191.0h6.0M903.1 191.0h2.0M929.9 191.0h2.0M994.5 191.0h5.0M1033.6 191.0h6.0M858.4 190.0h6.0M903.1 190.0h2.0M929.9 190.0h2.0M994.5 190.0h5.0M1033.6 190.0h6.0M858.4 189.0h6.0M903.1 189.0h2.0M929.9 189.0h2.0M994.5 189.0h5.0M1033.6 189.0h6.0M858.4 188.0h6.0M903.1 188.0h2.0M929.9 188.0h2.0M994.5 188.0h5.0M1033.6 188.0h6.0M858.4 187.0h6.0M903.1 187.0h2.0M929.9 187.0h2.0M994.5 187.0h5.0M1033.6 187.0h6.0M858.4 186.0h6.0M903.1 186.0h2.0M929.9 186.0h2.0M994.5 186.0h5.0M1033.6 186.0h6.0M858.4 185.0h6.0M903.1 185.0h2.0M929.9 185.0h2.0M994.5 185.0h5.0M1033.6 185.0h6.0M858.4 184.0h6.0M903.1 184.0h2.0M929.9 184.0h2.0M994.5 184.0h5.0M1033.6 184.0h6.0M858.4 183.0h6.0M903.1 183.0h2.0M929.9 183.0h2.0M994.5 183.0h5.0M1033.6 183.0h6.0M858.4 182.0h6.0M903.1 182.0h2.0M929.9 182.0h2.0M994.5 182.0h5.0M1033.6 182.0h6.0M858.4 181.0h5.0M903.1 181.0h2.0M929.9 181.0h2.0M994.5 181.0h5.0M1033.6 181.0h6.0M858.4 180.0h5.0M903.1 180.0h2.0M929.9 180.0h2.0M994.5 180.0h5.0M1033.6 180.0h6.0M858.4 179.0h5.0M903.1 179.0h2.0M929.9 179.0h2.0M994.5 179.0h5.0M1033.6 179.0h6.0M858.4 178.0h4.0M903.1 178.0h2.0M929.9 178.0h2.0M994.5 178.0h5.0M1033.6 178.0h6.0M903.1 177.0h2.0M929.9 177.0h2.0M994.5 177.0h5.0M1033.6 177.0h6.0M903.1 176.0h2.0M929.9 176.0h2.0M994.5 176.0h5.0M1033.6 176.0h6.0M903.1 175.0h2.0M929.9 175.0h2.0M994.5 175.0h5.0M1033.6 175.0h6.0M903.1 174.0h2.0M929.9 174.0h2.0M994.5 174.0h5.0M1033.6 174.0h6.0M945.8 173.0h49.7M1054.7 173.0h14.0M1115.9 173.0h17.0M943.8 172.0h51.7M1053.7 172.0h15.0M1115.9 172.0h17.0M942.8 171.0h52.7M1053.7 171.0h15.0M1115.9 171.0h17.0M941.8 170.0h53.7M1053.7 170.0h14.0M1116.9 170.0h16.0M940.9 169.0h6.0M1053.7 169.0h12.0M1119.9 169.0h13.0M939.9 168.0h4.0M1053.7 168.0h11.0M1123.9 168.0h9.0M939.9 167.0h2.0M1052.7 167.0h13.0M1122.9 167.0h10.0M938.9 166.0h2.0M1052.7 166.0h18.0M1117.9 166.0h11.0M938.9 165.0h2.0M1052.7 165.0h32.1M1105.8 165.0h20.1M937.9 164.0h2.0M1052.7 164.0h70.2M937.9 163.0h2.0M1053.7 163.0h6.0M1063.7 163.0h56.2M936.9 162.0h2.0M1053.7 162.0h4.0M1069.7 162.0h46.1M877.3 161.0h10.9M936.9 161.0h2.0M1053.7 161.0h3.0M1075.7 161.0h37.1M875.3 160.0h15.9M1053.7 160.0h3.0M1081.8 160.0h27.1M874.3 158.9h18.9M1052.7 158.9h3.0M1087.8 158.9h15.0M873.3 157.9h5.0M886.2 157.9h8.0M935.9 157.9h2.0M1052.7 157.9h2.0M873.3 156.9h4.0M888.2 156.9h8.0M935.9 156.9h2.0M1052.7 156.9h2.0M873.3 155.9h4.0M890.2 155.9h7.0M1051.7 155.9h2.0M873.3 154.9h4.0M892.2 154.9h6.0M1050.7 154.9h2.0M873.3 153.9h4.0M893.2 153.9h5.0M1050.7 153.9h2.0M873.3 152.9h4.0M894.2 152.9h5.0M1049.7 152.9h2.0M873.3 151.9h4.0M895.2 151.9h5.0M934.9 151.9h2.0M1048.7 151.9h3.0M873.3 150.9h5.0M896.2 150.9h4.0M1048.7 150.9h3.0M873.3 149.9h5.0M897.1 149.9h4.0M1047.7 149.9h3.0M874.3 148.9h5.0M898.1 148.9h3.0M1046.7 148.9h4.0M874.3 147.9h6.0M898.1 147.9h4.0M1044.6 147.9h6.0M875.3 146.9h6.0M899.1 146.9h3.0M935.9 146.9h2.0M1044.6 146.9h5.0M875.3 145.9h7.0M899.1 145.9h4.0M935.9 145.9h2.0M1044.6 145.9h5.0M876.3 144.9h7.0M900.1 144.9h3.0M1044.6 144.9h4.0M877.3 143.9h7.0M900.1 143.9h3.0M1044.6 143.9h4.0M877.3 142.9h8.0M900.1 142.9h3.0M936.9 142.9h2.0M1045.6 142.9h4.0M1092.8 142.9h5.0M878.3 141.9h8.9M900.1 141.9h4.0M936.9 141.9h2.0M1045.6 141.9h4.0M1085.8 141.9h19.1M879.3 140.9h9.9M899.1 140.9h4.0M1046.7 140.9h10.0M1072.7 140.9h38.1M880.3 139.9h10.9M898.1 139.9h5.0M937.9 139.9h2.0M1046.7 139.9h68.2M882.2 138.9h20.9M937.9 138.9h3.0M1047.7 138.9h70.2M883.2 137.9h18.9M938.9 137.9h2.0M1048.7 137.9h73.2M885.2 136.9h16.9M938.9 136.9h3.0M1049.7 136.9h15.0M1073.7 136.9h10.0M1105.8 136.9h19.1M887.2 135.9h12.9M939.9 135.9h3.0M1050.7 135.9h9.0M1117.9 135.9h10.0M890.2 134.9h8.0M940.9 134.9h5.0M1052.7 134.9h5.0M1123.9 134.9h8.0M940.9 133.9h54.6M1126.9 133.9h6.0M941.8 132.9h53.7M1130.9 132.9h2.0M942.8 131.8h52.7M944.8 130.8h50.7M947.8 129.8h47.7M1019.6 122.8h6.0M1019.6 121.8h8.0M1018.6 120.8h11.0M1017.6 119.8h6.0M1024.6 119.8h6.0M1015.6 118.8h6.0M1026.6 118.8h5.0M1014.6 117.8h4.0M1026.6 117.8h6.0M1012.6 116.8h3.0M1026.6 116.8h7.0M1011.5 115.8h2.0M1026.6 115.8h7.0M921.0 114.8h6.0M1000.5 114.8h5.0M1008.5 114.8h4.0M1026.6 114.8h8.0M918.0 113.8h3.0M926.0 113.8h3.0M995.5 113.8h15.0M1026.6 113.8h8.0M917.0 112.8h2.0M926.9 112.8h3.0M994.5 112.8h15.0M1026.6 112.8h8.0M915.0 111.8h2.0M927.9 111.8h3.0M994.5 111.8h13.0M1027.6 111.8h7.0M913.0 110.8h3.0M928.9 110.8h3.0M994.5 110.8h12.0M1027.6 110.8h6.0M909.1 109.8h5.0M929.9 109.8h3.0M994.5 109.8h12.0M1027.6 109.8h6.0M907.1 108.8h5.0M929.9 108.8h3.0M994.5 108.8h11.0M1027.6 108.8h5.0M906.1 107.8h5.0M930.9 107.8h2.0M994.5 107.8h11.0M1027.6 107.8h5.0M906.1 106.8h4.0M930.9 106.8h2.0M994.5 106.8h11.0M1027.6 106.8h5.0M906.1 105.8h3.0M930.9 105.8h2.0M994.5 105.8h11.0M1027.6 105.8h5.0M906.1 104.8h3.0M930.9 104.8h2.0M994.5 104.8h11.0M1027.6 104.8h5.0M906.1 103.7h3.0M930.9 103.7h2.0M994.5 103.7h6.0M1000.5 103.7h6.0M1027.6 103.7h4.0M906.1 102.7h3.0M930.9 102.7h2.0M994.5 102.7h5.0M1001.5 102.7h5.0M1027.6 102.7h4.0M906.1 101.7h3.0M930.9 101.7h2.0M994.5 101.7h5.0M1001.5 101.7h5.0M1027.6 101.7h4.0M906.1 100.7h3.0M930.9 100.7h2.0M994.5 100.7h4.0M1001.5 100.7h5.0M1027.6 100.7h4.0M906.1 99.7h3.0M930.9 99.7h2.0M1001.5 99.7h5.0M1027.6 99.7h4.0M906.1 98.7h3.0M929.9 98.7h3.0M1001.5 98.7h5.0M1027.6 98.7h4.0M906.1 97.7h3.0M929.9 97.7h3.0M1002.5 97.7h5.0M1027.6 97.7h4.0M906.1 96.7h3.0M929.9 96.7h3.0M1002.5 96.7h5.0M1027.6 96.7h4.0M906.1 95.7h3.0M929.9 95.7h3.0M1002.5 95.7h5.0M1027.6 95.7h4.0M906.1 94.7h3.0M929.9 94.7h3.0M1002.5 94.7h5.0M1026.6 94.7h5.0M906.1 93.7h4.0M929.9 93.7h3.0M1002.5 93.7h5.0M1026.6 93.7h6.0M906.1 92.7h4.0M928.9 92.7h4.0M1002.5 92.7h5.0M1026.6 92.7h6.0M906.1 91.7h4.0M928.9 91.7h3.0M1002.5 91.7h6.0M1026.6 91.7h6.0M906.1 90.7h4.0M928.9 90.7h3.0M1002.5 90.7h6.0M1026.6 90.7h6.0M906.1 89.7h4.0M928.9 89.7h3.0M1002.5 89.7h6.0M1026.6 89.7h6.0M906.1 88.7h4.0M928.9 88.7h3.0M1002.5 88.7h6.0M1026.6 88.7h6.0M906.1 87.7h4.0M927.9 87.7h4.0M1002.5 87.7h6.0M1026.6 87.7h6.0M906.1 86.7h4.0M927.9 86.7h4.0M1002.5 86.7h6.0M1026.6 86.7h6.0M906.1 85.7h4.0M927.9 85.7h4.0M1002.5 85.7h7.0M1026.6 85.7h6.0M906.1 84.7h5.0M927.9 84.7h4.0M1002.5 84.7h7.0M1026.6 84.7h5.0M906.1 83.7h5.0M927.9 83.7h4.0M1003.5 83.7h6.0M1026.6 83.7h5.0M906.1 82.7h5.0M926.9 82.7h5.0M1003.5 82.7h6.0M1026.6 82.7h5.0M906.1 81.7h5.0M926.9 81.7h5.0M1003.5 81.7h6.0M1025.6 81.7h6.0M906.1 80.7h5.0M926.9 80.7h5.0M1003.5 80.7h6.0M1025.6 80.7h6.0M906.1 79.7h5.0M926.9 79.7h5.0M1003.5 79.7h7.0M1025.6 79.7h6.0M906.1 78.7h5.0M926.9 78.7h5.0M1003.5 78.7h7.0M1025.6 78.7h6.0M906.1 77.7h6.0M926.0 77.7h6.0M1003.5 77.7h7.0M1025.6 77.7h6.0M906.1 76.6h6.0M926.0 76.6h6.0M1003.5 76.6h7.0M1025.6 76.6h6.0M906.1 75.6h6.0M926.0 75.6h6.0M1003.5 75.6h7.0M1025.6 75.6h6.0M906.1 74.6h6.0M926.0 74.6h6.0M1003.5 74.6h7.0M1024.6 74.6h7.0M906.1 73.6h6.0M926.0 73.6h6.0M1003.5 73.6h7.0M1024.6 73.6h7.0M906.1 72.6h6.0M926.0 72.6h6.0M1003.5 72.6h7.0M1024.6 72.6h7.0M906.1 71.6h6.0M926.0 71.6h6.0M1003.5 71.6h7.0M1024.6 71.6h7.0M906.1 70.6h6.0M926.0 70.6h6.0M1003.5 70.6h7.0M1025.6 70.6h6.0M906.1 69.6h6.0M926.0 69.6h6.0M1003.5 69.6h7.0M1025.6 69.6h6.0M906.1 68.6h6.0M926.0 68.6h6.0M1003.5 68.6h7.0M1025.6 68.6h6.0M906.1 67.6h6.0M926.0 67.6h6.0M1003.5 67.6h7.0M1025.6 67.6h6.0M906.1 66.6h6.0M926.0 66.6h6.0M1003.5 66.6h7.0M1025.6 66.6h6.0M906.1 65.6h5.0M926.9 65.6h5.0M1003.5 65.6h6.0M1025.6 65.6h6.0M906.1 64.6h5.0M926.9 64.6h5.0M1003.5 64.6h6.0M1025.6 64.6h6.0M906.1 63.6h5.0M926.9 63.6h5.0M1003.5 63.6h6.0M1026.6 63.6h5.0M906.1 62.6h5.0M926.9 62.6h5.0M1003.5 62.6h6.0M1026.6 62.6h5.0M906.1 61.6h5.0M926.9 61.6h5.0M1002.5 61.6h7.0M1026.6 61.6h6.0M906.1 60.6h5.0M926.9 60.6h5.0M1002.5 60.6h7.0M1026.6 60.6h6.0M906.1 59.6h5.0M926.9 59.6h5.0M1002.5 59.6h6.0M1026.6 59.6h6.0M906.1 58.6h5.0M927.9 58.6h4.0M1002.5 58.6h6.0M1026.6 58.6h6.0M906.1 57.6h5.0M927.9 57.6h4.0M1002.5 57.6h6.0M1027.6 57.6h5.0M906.1 56.6h5.0M927.9 56.6h4.0M1002.5 56.6h6.0M1027.6 56.6h5.0M906.1 55.6h4.0M927.9 55.6h4.0M1002.5 55.6h5.0M1027.6 55.6h5.0M906.1 54.6h4.0M927.9 54.6h4.0M1002.5 54.6h5.0M1027.6 54.6h5.0M906.1 53.6h4.0M927.9 53.6h4.0M1002.5 53.6h5.0M1028.6 53.6h4.0M906.1 52.6h4.0M928.9 52.6h3.0M1002.5 52.6h4.0M1028.6 52.6h4.0M906.1 51.6h4.0M928.9 51.6h3.0M994.5 51.6h4.0M1002.5 51.6h4.0M1028.6 51.6h4.0M906.1 50.6h4.0M928.9 50.6h3.0M994.5 50.6h5.0M1002.5 50.6h4.0M1029.6 50.6h3.0M906.1 49.5h4.0M928.9 49.5h3.0M994.5 49.5h5.0M1001.5 49.5h5.0M1029.6 49.5h4.0M906.1 48.5h3.0M928.9 48.5h3.0M994.5 48.5h5.0M1001.5 48.5h4.0M1029.6 48.5h4.0M906.1 47.5h3.0M929.9 47.5h2.0M994.5 47.5h6.0M1001.5 47.5h4.0M1029.6 47.5h4.0M906.1 46.5h3.0M929.9 46.5h2.0M994.5 46.5h6.0M1001.5 46.5h4.0M1030.6 46.5h3.0M906.1 45.5h3.0M929.9 45.5h2.0M994.5 45.5h6.0M1001.5 45.5h3.0M1030.6 45.5h3.0M906.1 44.5h3.0M929.9 44.5h2.0M994.5 44.5h6.0M1000.5 44.5h4.0M1030.6 44.5h3.0M906.1 43.5h3.0M929.9 43.5h2.0M994.5 43.5h10.0M1031.6 43.5h3.0M906.1 42.5h2.0M929.9 42.5h2.0M994.5 42.5h9.0M1031.6 42.5h3.0M906.1 41.5h2.0M929.9 41.5h2.0M994.5 41.5h9.0M1031.6 41.5h3.0M906.1 40.5h2.0M994.5 40.5h9.0M1032.6 40.5h3.0M906.1 39.5h2.0M994.5 39.5h8.0M1032.6 39.5h3.0M905.1 38.5h3.0M994.5 38.5h8.0M1032.6 38.5h3.0M905.1 37.5h3.0M994.5 37.5h8.0M1032.6 37.5h3.0M905.1 36.5h3.0M930.9 36.5h2.0M994.5 36.5h8.0M1033.6 36.5h3.0"/>
<path stroke="#6ce8fa" d="M868.3 309.8h3.0M894.2 309.8h7.0M868.3 308.8h3.0M894.2 308.8h7.0M868.3 307.8h4.0M894.2 307.8h7.0M869.3 306.8h3.0M894.2 306.8h7.0M869.3 305.8h4.0M893.2 305.8h8.0M871.3 304.8h5.0M890.2 304.8h9.9M875.3 303.8h20.9M858.4 299.8h4.0M858.4 298.8h6.0M860.4 297.8h4.0M862.4 296.8h3.0M863.4 295.8h2.0M918.0 295.8h9.9M863.4 294.8h2.0M914.0 294.8h14.9M863.4 293.8h2.0M912.0 293.8h16.9M864.4 292.8h2.0M911.1 292.8h17.9M864.4 291.8h2.0M912.0 291.8h16.9M1010.5 291.8h7.0M864.4 290.8h2.0M914.0 290.8h14.9M1009.5 290.8h10.0M864.4 289.8h2.0M917.0 289.8h11.9M1009.5 289.8h11.0M864.4 288.8h2.0M922.0 288.8h6.0M1009.5 288.8h4.0M1016.6 288.8h5.0M864.4 287.8h2.0M1009.5 287.8h3.0M1018.6 287.8h4.0M864.4 286.8h2.0M1009.5 286.8h3.0M1019.6 286.8h4.0M864.4 285.8h2.0M1009.5 285.8h3.0M1020.6 285.8h4.0M864.4 284.8h2.0M1009.5 284.8h3.0M1021.6 284.8h4.0M864.4 283.8h2.0M1009.5 283.8h4.0M1021.6 283.8h5.0M864.4 282.8h2.0M1009.5 282.8h4.0M1022.6 282.8h4.0M864.4 281.8h2.0M1010.5 281.8h3.0M1023.6 281.8h4.0M864.4 280.8h2.0M1010.5 280.8h4.0M1023.6 280.8h4.0M864.4 279.8h2.0M1011.5 279.8h3.0M1024.6 279.8h4.0M864.4 278.8h2.0M1011.5 278.8h4.0M1024.6 278.8h4.0M863.4 277.8h3.0M1012.6 277.8h3.0M1025.6 277.8h4.0M863.4 276.8h3.0M1012.6 276.8h4.0M1025.6 276.8h4.0M863.4 275.9h3.0M1013.6 275.9h4.0M1025.6 275.9h4.0M862.4 274.9h4.0M1014.6 274.9h4.0M1025.6 274.9h4.0M858.4 273.9h8.0M1015.6 273.9h4.0M1025.6 273.9h4.0M858.4 272.9h7.0M1016.6 272.9h4.0M1025.6 272.9h4.0M858.4 271.9h7.0M1017.6 271.9h5.0M1024.6 271.9h5.0M858.4 270.9h7.0M1018.6 270.9h11.0M858.4 269.9h7.0M1020.6 269.9h8.0M858.4 268.9h6.0M1022.6 268.9h5.0M942.8 263.9h52.7M940.9 262.9h4.0M939.9 261.9h3.0M938.9 260.9h3.0M1124.9 260.9h8.0M937.9 259.9h3.0M1061.7 259.9h13.0M1118.9 259.9h10.0M937.9 258.9h2.0M1060.7 258.9h23.1M1111.8 258.9h14.0M936.9 257.9h2.0M1059.7 257.9h4.0M1069.7 257.9h21.1M1101.8 257.9h21.1M875.3 256.9h2.0M936.9 256.9h2.0M1058.7 256.9h4.0M1074.7 256.9h45.1M874.3 255.9h4.0M1058.7 255.9h3.0M1078.7 255.9h38.1M874.3 254.9h4.0M1057.7 254.9h3.0M1082.8 254.9h30.1M873.3 253.9h6.0M935.9 253.9h2.0M1057.7 253.9h2.0M1086.8 253.9h20.1M873.3 252.9h6.0M935.9 252.9h2.0M1056.7 252.9h2.0M1090.8 252.9h10.0M873.3 251.9h6.0M935.9 251.9h2.0M1055.7 251.9h2.0M873.3 250.9h7.0M935.9 250.9h2.0M1055.7 250.9h2.0M872.3 249.9h8.0M935.9 249.9h2.0M1054.7 249.9h2.0M872.3 248.9h8.0M935.9 248.9h2.0M1054.7 248.9h2.0M872.3 247.9h8.0M935.9 247.9h2.0M1053.7 247.9h2.0M872.3 246.9h8.0M935.9 246.9h2.0M1053.7 246.9h2.0M872.3 245.9h8.9M935.9 245.9h2.0M1053.7 245.9h2.0M872.3 244.9h8.9M1092.8 244.9h6.0M872.3 243.9h8.9M936.9 243.9h2.0M1053.7 243.9h2.0M1088.8 243.9h16.0M872.3 242.9h8.9M936.9 242.9h2.0M1053.7 242.9h2.0M1083.8 242.9h27.1M872.3 241.9h8.9M937.9 241.9h2.0M1054.7 241.9h2.0M1079.7 241.9h11.0M1101.8 241.9h14.0M873.3 240.9h7.0M938.9 240.9h2.0M1055.7 240.9h2.0M1076.7 240.9h9.0M1108.8 240.9h11.0M939.9 239.9h2.0M1056.7 239.9h3.0M1072.7 239.9h8.0M1114.9 239.9h9.0M941.8 238.9h3.0M1057.7 238.9h5.0M1066.7 238.9h9.0M1119.9 238.9h10.0M1059.7 237.9h10.0M1126.9 237.9h6.0M914.0 231.9h9.9M1011.5 231.9h3.0M1018.6 231.9h3.0M910.1 230.9h3.0M924.0 230.9h3.0M1007.5 230.9h2.0M1023.6 230.9h2.0M908.1 229.9h3.0M926.0 229.9h2.0M1005.5 229.9h2.0M1025.6 229.9h3.0M907.1 228.9h3.0M926.9 228.9h2.0M1003.5 228.9h3.0M1026.6 228.9h3.0M906.1 227.9h3.0M927.9 227.9h2.0M1001.5 227.9h4.0M1027.6 227.9h4.0M905.1 226.9h3.0M1000.5 226.9h4.0M1028.6 226.9h4.0M905.1 225.9h2.0M928.9 225.9h2.0M1000.5 225.9h4.0M1029.6 225.9h4.0M904.1 224.9h3.0M928.9 224.9h2.0M999.5 224.9h4.0M1029.6 224.9h4.0M904.1 223.9h2.0M999.5 223.9h4.0M1029.6 223.9h4.0M904.1 222.9h2.0M999.5 222.9h4.0M1029.6 222.9h5.0M904.1 221.9h2.0M998.5 221.9h5.0M1029.6 221.9h5.0M904.1 220.9h2.0M998.5 220.9h5.0M1029.6 220.9h5.0M904.1 219.9h2.0M998.5 219.9h5.0M1029.6 219.9h5.0M904.1 218.9h2.0M998.5 218.9h5.0M1029.6 218.9h5.0M904.1 217.9h2.0M998.5 217.9h5.0M1029.6 217.9h5.0M904.1 216.9h2.0M998.5 216.9h5.0M1029.6 216.9h5.0M904.1 215.9h2.0M998.5 215.9h5.0M1029.6 215.9h5.0M904.1 214.9h2.0M998.5 214.9h5.0M1029.6 214.9h5.0M904.1 213.9h2.0M998.5 213.9h5.0M1029.6 213.9h5.0M904.1 212.9h2.0M998.5 212.9h5.0M1029.6 212.9h5.0M904.1 211.9h2.0M998.5 211.9h5.0M1029.6 211.9h5.0M904.1 210.9h2.0M998.5 210.9h5.0M1029.6 210.9h5.0M904.1 209.9h2.0M998.5 209.9h5.0M1029.6 209.9h5.0M904.1 208.9h2.0M998.5 208.9h5.0M1029.6 208.9h5.0M904.1 207.9h2.0M998.5 207.9h5.0M1029.6 207.9h5.0M904.1 207.0h2.0M998.5 207.0h5.0M1029.6 207.0h5.0M904.1 206.0h2.0M998.5 206.0h5.0M1029.6 206.0h5.0M904.1 205.0h2.0M998.5 205.0h5.0M1029.6 205.0h5.0M904.1 204.0h2.0M998.5 204.0h5.0M1029.6 204.0h5.0M904.1 203.0h2.0M998.5 203.0h5.0M1029.6 203.0h5.0M904.1 202.0h2.0M998.5 202.0h5.0M1029.6 202.0h5.0M904.1 201.0h2.0M998.5 201.0h5.0M1029.6 201.0h5.0M904.1 200.0h2.0M998.5 200.0h5.0M1029.6 200.0h5.0M904.1 199.0h2.0M998.5 199.0h5.0M1029.6 199.0h5.0M904.1 198.0h2.0M998.5 198.0h5.0M1029.6 198.0h5.0M904.1 197.0h2.0M998.5 197.0h5.0M1029.6 197.0h5.0M904.1 196.0h2.0M998.5 196.0h5.0M1029.6 196.0h5.0M904.1 195.0h2.0M998.5 195.0h5.0M1029.6 195.0h5.0M904.1 194.0h2.0M998.5 194.0h5.0M1029.6 194.0h5.0M904.1 193.0h2.0M998.5 193.0h5.0M1029.6 193.0h5.0M904.1 192.0h2.0M998.5 192.0h5.0M1029.6 192.0h5.0M904.1 191.0h2.0M998.5 191.0h5.0M1029.6 191.0h5.0M904.1 190.0h2.0M998.5 190.0h5.0M1029.6 190.0h5.0M904.1 189.0h2.0M998.5 189.0h5.0M1029.6 189.0h5.0M904.1 188.0h2.0M998.5 188.0h5.0M1029.6 188.0h5.0M904.1 187.0h2.0M998.5 187.0h5.0M1029.6 187.0h5.0M904.1 186.0h2.0M998.5 186.0h5.0M1029.6 186.0h5.0M904.1 185.0h2.0M998.5 185.0h5.0M1029.6 185.0h5.0M904.1 184.0h2.0M998.5 184.0h5.0M1029.6 184.0h5.0M904.1 183.0h2.0M998.5 183.0h5.0M1029.6 183.0h5.0M904.1 182.0h2.0M998.5 182.0h5.0M1029.6 182.0h5.0M904.1 181.0h2.0M998.5 181.0h5.0M1029.6 181.0h5.0M904.1 180.0h2.0M998.5 180.0h5.0M1029.6 180.0h5.0M904.1 179.0h2.0M998.5 179.0h5.0M1029.6 179.0h5.0M904.1 178.0h2.0M998.5 178.0h5.0M1029.6 178.0h5.0M904.1 177.0h2.0M998.5 177.0h5.0M1029.6 177.0h5.0M904.1 176.0h2.0M998.5 176.0h5.0M1029.6 176.0h5.0M904.1 175.0h2.0M998.5 175.0h5.0M1029.6 175.0h5.0M904.1 174.0h2.0M998.5 174.0h5.0M1029.6 174.0h5.0M945.8 169.0h49.7M942.8 168.0h52.7M940.9 167.0h54.6M939.9 166.0h55.6M1127.9 166.0h5.0M939.9 165.0h4.0M1124.9 165.0h8.0M938.9 164.0h3.0M1121.9 164.0h9.0M938.9 163.0h2.0M1058.7 163.0h6.0M1118.9 163.0h8.0M937.9 162.0h2.0M1056.7 162.0h14.0M1114.9 162.0h10.0M1055.7 161.0h21.1M1111.8 161.0h11.0M936.9 160.0h2.0M1055.7 160.0h27.1M1107.8 160.0h13.0M1054.7 158.9h5.0M1066.7 158.9h22.1M1101.8 158.9h17.0M877.3 157.9h9.9M1053.7 157.9h4.0M1071.7 157.9h45.1M876.3 156.9h12.9M1053.7 156.9h3.0M1074.7 156.9h39.1M876.3 155.9h5.0M884.2 155.9h7.0M935.9 155.9h2.0M1052.7 155.9h3.0M1078.7 155.9h33.1M876.3 154.9h4.0M887.2 154.9h6.0M935.9 154.9h2.0M1051.7 154.9h3.0M1082.8 154.9h25.1M876.3 153.9h4.0M889.2 153.9h5.0M1051.7 153.9h2.0M1086.8 153.9h17.0M876.3 152.9h4.0M891.2 152.9h4.0M1050.7 152.9h3.0M1091.8 152.9h7.0M876.3 151.9h4.0M892.2 151.9h4.0M1050.7 151.9h2.0M877.3 150.9h4.0M893.2 150.9h4.0M1050.7 150.9h2.0M877.3 149.9h4.0M894.2 149.9h4.0M1049.7 149.9h3.0M878.3 148.9h4.0M895.2 148.9h4.0M935.9 148.9h2.0M1049.7 148.9h3.0M879.3 147.9h4.0M896.2 147.9h3.0M935.9 147.9h2.0M1049.7 147.9h4.0M1093.8 147.9h3.0M880.3 146.9h4.0M896.2 146.9h4.0M1048.7 146.9h5.0M1088.8 146.9h13.0M881.2 145.9h5.0M897.1 145.9h3.0M1048.7 145.9h6.0M1084.8 145.9h21.1M882.2 144.9h5.0M897.1 144.9h4.0M1047.7 144.9h8.0M1079.7 144.9h31.1M883.2 143.9h6.0M897.1 143.9h4.0M936.9 143.9h2.0M1047.7 143.9h9.0M1075.7 143.9h37.1M884.2 142.9h7.0M896.2 142.9h5.0M1048.7 142.9h10.0M1070.7 142.9h23.1M1096.8 142.9h19.1M886.2 141.9h14.9M937.9 141.9h2.0M1048.7 141.9h14.0M1063.7 141.9h23.1M1103.8 141.9h14.0M888.2 140.9h11.9M937.9 140.9h3.0M1055.7 140.9h18.0M1109.8 140.9h11.0M890.2 139.9h8.9M938.9 139.9h3.0M1113.8 139.9h9.0M939.9 138.9h3.0M1116.9 138.9h8.0M939.9 137.9h55.6M1120.9 137.9h6.0M940.9 136.9h54.6M1123.9 136.9h7.0M941.8 135.9h53.7M1126.9 135.9h6.0M944.8 134.9h50.7M1130.9 134.9h2.0M1022.6 119.8h3.0M1020.6 118.8h7.0M1017.6 117.8h10.0M1014.6 116.8h13.0M1012.6 115.8h4.0M1019.6 115.8h8.0M1011.5 114.8h3.0M1021.6 114.8h6.0M920.0 113.8h4.0M924.0 113.8h3.0M1009.5 113.8h4.0M1022.6 113.8h5.0M918.0 112.8h3.0M926.0 112.8h2.0M1008.5 112.8h4.0M1023.6 112.8h4.0M916.0 111.8h3.0M926.9 111.8h2.0M1006.5 111.8h5.0M1024.6 111.8h4.0M915.0 110.8h2.0M927.9 110.8h2.0M1005.5 110.8h5.0M1024.6 110.8h4.0M913.0 109.8h3.0M927.9 109.8h3.0M1005.5 109.8h5.0M1025.6 109.8h3.0M911.1 108.8h4.0M928.9 108.8h2.0M1004.5 108.8h5.0M1025.6 108.8h3.0M910.1 107.8h4.0M928.9 107.8h3.0M1004.5 107.8h5.0M1025.6 107.8h3.0M909.1 106.8h4.0M928.9 106.8h3.0M1004.5 106.8h5.0M1025.6 106.8h3.0M908.1 105.8h4.0M929.9 105.8h2.0M1004.5 105.8h5.0M1026.6 105.8h2.0M908.1 104.8h3.0M929.9 104.8h2.0M1004.5 104.8h5.0M1026.6 104.8h2.0M908.1 103.7h3.0M929.9 103.7h2.0M1005.5 103.7h4.0M1025.6 103.7h3.0M908.1 102.7h3.0M929.9 102.7h2.0M1005.5 102.7h4.0M1025.6 102.7h3.0M908.1 101.7h3.0M929.9 101.7h2.0M1005.5 101.7h4.0M1025.6 101.7h3.0M908.1 100.7h3.0M928.9 100.7h3.0M1005.5 100.7h5.0M1025.6 100.7h3.0M908.1 99.7h3.0M928.9 99.7h3.0M1005.5 99.7h5.0M1025.6 99.7h3.0M908.1 98.7h3.0M928.9 98.7h2.0M1005.5 98.7h5.0M1025.6 98.7h3.0M908.1 97.7h4.0M928.9 97.7h2.0M1006.5 97.7h4.0M1025.6 97.7h3.0M908.1 96.7h4.0M928.9 96.7h2.0M1006.5 96.7h4.0M1024.6 96.7h4.0M908.1 95.7h4.0M928.9 95.7h2.0M1006.5 95.7h5.0M1024.6 95.7h4.0M908.1 94.7h4.0M927.9 94.7h3.0M1006.5 94.7h5.0M1024.6 94.7h3.0M909.1 93.7h3.0M927.9 93.7h3.0M1006.5 93.7h5.0M1024.6 93.7h3.0M909.1 92.7h4.0M927.9 92.7h2.0M1006.5 92.7h6.0M1024.6 92.7h3.0M909.1 91.7h4.0M927.9 91.7h2.0M1007.5 91.7h5.0M1023.6 91.7h4.0M909.1 90.7h4.0M926.9 90.7h3.0M1007.5 90.7h5.0M1023.6 90.7h4.0M909.1 89.7h4.0M926.9 89.7h3.0M1007.5 89.7h5.0M1023.6 89.7h4.0M909.1 88.7h5.0M926.9 88.7h3.0M1007.5 88.7h6.0M1023.6 88.7h4.0M909.1 87.7h5.0M926.0 87.7h3.0M1007.5 87.7h6.0M1022.6 87.7h5.0M909.1 86.7h5.0M926.0 86.7h3.0M1007.5 86.7h6.0M1022.6 86.7h5.0M909.1 85.7h5.0M926.0 85.7h3.0M1008.5 85.7h5.0M1022.6 85.7h5.0M910.1 84.7h5.0M926.0 84.7h3.0M1008.5 84.7h6.0M1022.6 84.7h5.0M910.1 83.7h5.0M925.0 83.7h4.0M1008.5 83.7h6.0M1022.6 83.7h5.0M910.1 82.7h5.0M925.0 82.7h3.0M1008.5 82.7h6.0M1021.6 82.7h6.0M910.1 81.7h5.0M925.0 81.7h3.0M1008.5 81.7h6.0M1021.6 81.7h5.0M910.1 80.7h6.0M925.0 80.7h3.0M1008.5 80.7h7.0M1021.6 80.7h5.0M910.1 79.7h6.0M925.0 79.7h3.0M1009.5 79.7h6.0M1021.6 79.7h5.0M910.1 78.7h6.0M924.0 78.7h4.0M1009.5 78.7h6.0M1020.6 78.7h6.0M911.1 77.7h5.0M924.0 77.7h3.0M1009.5 77.7h6.0M1020.6 77.7h6.0M911.1 76.6h6.0M924.0 76.6h3.0M1009.5 76.6h6.0M1020.6 76.6h6.0M911.1 75.6h6.0M924.0 75.6h3.0M1009.5 75.6h7.0M1020.6 75.6h6.0M911.1 74.6h6.0M923.0 74.6h4.0M1009.5 74.6h7.0M1020.6 74.6h5.0M911.1 73.6h6.0M923.0 73.6h4.0M1009.5 73.6h7.0M1019.6 73.6h6.0M911.1 72.6h6.0M923.0 72.6h4.0M1009.5 72.6h7.0M1019.6 72.6h6.0M911.1 71.6h6.0M923.0 71.6h4.0M1009.5 71.6h7.0M1020.6 71.6h5.0M911.1 70.6h6.0M923.0 70.6h4.0M1009.5 70.6h7.0M1020.6 70.6h6.0M911.1 69.6h6.0M924.0 69.6h3.0M1009.5 69.6h6.0M1020.6 69.6h6.0M911.1 68.6h6.0M924.0 68.6h3.0M1009.5 68.6h6.0M1020.6 68.6h6.0M911.1 67.6h5.0M924.0 67.6h3.0M1009.5 67.6h6.0M1020.6 67.6h6.0M911.1 66.6h5.0M924.0 66.6h3.0M1009.5 66.6h6.0M1021.6 66.6h5.0M910.1 65.6h6.0M924.0 65.6h4.0M1008.5 65.6h7.0M1021.6 65.6h5.0M910.1 64.6h6.0M924.0 64.6h4.0M1008.5 64.6h6.0M1021.6 64.6h5.0M910.1 63.6h6.0M925.0 63.6h3.0M1008.5 63.6h6.0M1021.6 63.6h6.0M910.1 62.6h6.0M925.0 62.6h3.0M1008.5 62.6h6.0M1022.6 62.6h5.0M910.1 61.6h5.0M925.0 61.6h3.0M1008.5 61.6h6.0M1022.6 61.6h5.0M910.1 60.6h5.0M925.0 60.6h3.0M1008.5 60.6h5.0M1022.6 60.6h5.0M910.1 59.6h5.0M925.0 59.6h3.0M1007.5 59.6h6.0M1022.6 59.6h5.0M910.1 58.6h5.0M925.0 58.6h4.0M1007.5 58.6h6.0M1022.6 58.6h5.0M910.1 57.6h5.0M926.0 57.6h3.0M1007.5 57.6h6.0M1023.6 57.6h5.0M910.1 56.6h5.0M926.0 56.6h3.0M1007.5 56.6h5.0M1023.6 56.6h5.0M909.1 55.6h5.0M926.0 55.6h3.0M1006.5 55.6h6.0M1024.6 55.6h4.0M909.1 54.6h5.0M926.0 54.6h3.0M1006.5 54.6h5.0M1024.6 54.6h4.0M909.1 53.6h5.0M926.0 53.6h3.0M1006.5 53.6h5.0M1024.6 53.6h5.0M909.1 52.6h5.0M926.9 52.6h3.0M1005.5 52.6h6.0M1025.6 52.6h4.0M909.1 51.6h4.0M926.9 51.6h3.0M1005.5 51.6h5.0M1025.6 51.6h4.0M909.1 50.6h4.0M926.9 50.6h3.0M1005.5 50.6h5.0M1026.6 50.6h4.0M909.1 49.5h4.0M926.9 49.5h3.0M1005.5 49.5h4.0M1026.6 49.5h4.0M908.1 48.5h4.0M927.9 48.5h2.0M1004.5 48.5h5.0M1026.6 48.5h4.0M908.1 47.5h4.0M927.9 47.5h3.0M1004.5 47.5h4.0M1027.6 47.5h3.0M908.1 46.5h4.0M927.9 46.5h3.0M1004.5 46.5h4.0M1027.6 46.5h4.0M908.1 45.5h3.0M927.9 45.5h3.0M1003.5 45.5h4.0M1028.6 45.5h3.0M908.1 44.5h3.0M928.9 44.5h2.0M1003.5 44.5h4.0M1028.6 44.5h3.0M908.1 43.5h3.0M928.9 43.5h2.0M1003.5 43.5h3.0M1029.6 43.5h3.0M907.1 42.5h3.0M928.9 42.5h2.0M1002.5 42.5h4.0M1029.6 42.5h3.0M907.1 41.5h3.0M928.9 41.5h2.0M1002.5 41.5h3.0M1030.6 41.5h2.0M907.1 40.5h3.0M928.9 40.5h3.0M1002.5 40.5h3.0M1030.6 40.5h3.0M907.1 39.5h2.0M928.9 39.5h3.0M1001.5 39.5h4.0M1030.6 39.5h3.0M907.1 38.5h2.0M929.9 38.5h2.0M1001.5 38.5h4.0M1030.6 38.5h3.0M907.1 37.5h2.0M929.9 37.5h2.0M1001.5 37.5h3.0M1031.6 37.5h2.0M907.1 36.5h2.0M929.9 36.5h2.0M1001.5 36.5h3.0M1031.6 36.5h3.0"/>
<path stroke="#00d2fa" d="M870.3 309.8h24.8M870.3 308.8h24.8M871.3 307.8h23.8M871.3 306.8h23.8M872.3 305.8h21.9M875.3 304.8h15.9M858.4 297.8h3.0M858.4 296.8h5.0M858.4 295.8h6.0M858.4 294.8h6.0M858.4 293.8h6.0M858.4 292.8h7.0M858.4 291.8h7.0M858.4 290.8h7.0M858.4 289.8h7.0M858.4 288.8h7.0M1012.6 288.8h5.0M858.4 287.8h7.0M1011.5 287.8h8.0M858.4 286.8h7.0M1011.5 286.8h9.0M858.4 285.8h7.0M1011.5 285.8h10.0M858.4 284.8h7.0M1011.5 284.8h11.0M858.4 283.8h7.0M1012.6 283.8h10.0M858.4 282.8h7.0M1012.6 282.8h11.0M858.4 281.8h7.0M1012.6 281.8h12.0M858.4 280.8h7.0M1013.6 280.8h11.0M858.4 279.8h7.0M1013.6 279.8h12.0M858.4 278.8h7.0M1014.6 278.8h11.0M858.4 277.8h6.0M1014.6 277.8h12.0M858.4 276.8h6.0M1015.6 276.8h11.0M858.4 275.9h6.0M1016.6 275.9h10.0M858.4 274.9h5.0M1017.6 274.9h9.0M1018.6 273.9h8.0M1019.6 272.9h7.0M1021.6 271.9h4.0M943.8 262.9h51.7M941.8 261.9h53.7M940.9 260.9h4.0M939.9 259.9h3.0M1127.9 259.9h5.0M938.9 258.9h3.0M1124.9 258.9h8.0M937.9 257.9h3.0M1062.7 257.9h8.0M1121.9 257.9h11.0M937.9 256.9h2.0M1061.7 256.9h14.0M1118.9 256.9h10.0M936.9 255.9h3.0M1060.7 255.9h19.1M1115.9 255.9h11.0M936.9 254.9h3.0M1059.7 254.9h5.0M1068.7 254.9h15.0M1111.8 254.9h13.0M936.9 253.9h2.0M1058.7 253.9h4.0M1071.7 253.9h16.0M1105.8 253.9h18.0M936.9 252.9h2.0M1057.7 252.9h3.0M1073.7 252.9h18.0M1099.8 252.9h23.1M936.9 251.9h2.0M1056.7 251.9h3.0M1074.7 251.9h48.1M936.9 250.9h2.0M1056.7 250.9h2.0M1075.7 250.9h46.1M936.9 249.9h2.0M1055.7 249.9h3.0M1076.7 249.9h45.1M936.9 248.9h2.0M1055.7 248.9h2.0M1076.7 248.9h45.1M936.9 247.9h2.0M1054.7 247.9h3.0M1076.7 247.9h45.1M936.9 246.9h2.0M1054.7 246.9h2.0M1076.7 246.9h46.1M936.9 245.9h2.0M1054.7 245.9h2.0M1076.7 245.9h46.1M936.9 244.9h2.0M1053.7 244.9h3.0M1075.7 244.9h18.0M1097.8 244.9h26.1M937.9 243.9h2.0M1054.7 243.9h2.0M1074.7 243.9h15.0M1103.8 243.9h21.1M937.9 242.9h3.0M1054.7 242.9h2.0M1073.7 242.9h11.0M1109.8 242.9h17.0M938.9 241.9h2.0M1055.7 241.9h2.0M1071.7 241.9h9.0M1114.9 241.9h15.0M939.9 240.9h3.0M1056.7 240.9h4.0M1068.7 240.9h9.0M1118.9 240.9h14.0M940.9 239.9h3.0M1058.7 239.9h15.0M1122.9 239.9h10.0M943.8 238.9h51.7M1061.7 238.9h6.0M1128.9 238.9h4.0M1013.6 231.9h6.0M912.0 230.9h12.9M1008.5 230.9h16.0M910.1 229.9h5.0M924.0 229.9h3.0M1006.5 229.9h3.0M1022.6 229.9h4.0M909.1 228.9h3.0M925.0 228.9h3.0M1005.5 228.9h2.0M1024.6 228.9h3.0M908.1 227.9h3.0M926.9 227.9h2.0M1004.5 227.9h3.0M1025.6 227.9h3.0M907.1 226.9h3.0M926.9 226.9h3.0M1003.5 226.9h3.0M1026.6 226.9h3.0M906.1 225.9h3.0M927.9 225.9h2.0M1003.5 225.9h3.0M1026.6 225.9h4.0M906.1 224.9h3.0M1002.5 224.9h4.0M1026.6 224.9h4.0M905.1 223.9h3.0M928.9 223.9h2.0M1002.5 223.9h4.0M1026.6 223.9h4.0M905.1 222.9h3.0M928.9 222.9h2.0M1002.5 222.9h4.0M1026.6 222.9h4.0M905.1 221.9h3.0M928.9 221.9h2.0M1002.5 221.9h4.0M1026.6 221.9h4.0M905.1 220.9h3.0M928.9 220.9h2.0M1002.5 220.9h4.0M1026.6 220.9h4.0M905.1 219.9h3.0M928.9 219.9h2.0M1002.5 219.9h4.0M1026.6 219.9h4.0M905.1 218.9h3.0M928.9 218.9h2.0M1002.5 218.9h4.0M1026.6 218.9h4.0M905.1 217.9h3.0M928.9 217.9h2.0M1002.5 217.9h4.0M1026.6 217.9h4.0M905.1 216.9h3.0M928.9 216.9h2.0M1002.5 216.9h4.0M1026.6 216.9h4.0M905.1 215.9h3.0M928.9 215.9h2.0M1002.5 215.9h4.0M1026.6 215.9h4.0M905.1 214.9h3.0M928.9 214.9h2.0M1002.5 214.9h4.0M1026.6 214.9h4.0M905.1 213.9h3.0M928.9 213.9h2.0M1002.5 213.9h4.0M1026.6 213.9h4.0M905.1 212.9h3.0M928.9 212.9h2.0M1002.5 212.9h4.0M1026.6 212.9h4.0M905.1 211.9h3.0M928.9 211.9h2.0M1002.5 211.9h4.0M1026.6 211.9h4.0M905.1 210.9h3.0M928.9 210.9h2.0M1002.5 210.9h4.0M1026.6 210.9h4.0M905.1 209.9h3.0M928.9 209.9h2.0M1002.5 209.9h4.0M1026.6 209.9h4.0M905.1 208.9h3.0M928.9 208.9h2.0M1002.5 208.9h4.0M1026.6 208.9h4.0M905.1 207.9h3.0M928.9 207.9h2.0M1002.5 207.9h4.0M1026.6 207.9h4.0M905.1 207.0h3.0M928.9 207.0h2.0M1002.5 207.0h4.0M1026.6 207.0h4.0M905.1 206.0h3.0M928.9 206.0h2.0M1002.5 206.0h4.0M1026.6 206.0h4.0M905.1 205.0h3.0M928.9 205.0h2.0M1002.5 205.0h4.0M1026.6 205.0h4.0M905.1 204.0h3.0M928.9 204.0h2.0M1002.5 204.0h4.0M1026.6 204.0h4.0M905.1 203.0h3.0M928.9 203.0h2.0M1002.5 203.0h4.0M1026.6 203.0h4.0M905.1 202.0h3.0M928.9 202.0h2.0M1002.5 202.0h4.0M1026.6 202.0h4.0M905.1 201.0h3.0M928.9 201.0h2.0M1002.5 201.0h4.0M1026.6 201.0h4.0M905.1 200.0h3.0M928.9 200.0h2.0M1002.5 200.0h4.0M1026.6 200.0h4.0M905.1 199.0h3.0M928.9 199.0h2.0M1002.5 199.0h4.0M1026.6 199.0h4.0M905.1 198.0h3.0M928.9 198.0h2.0M1002.5 198.0h4.0M1026.6 198.0h4.0M905.1 197.0h3.0M928.9 197.0h2.0M1002.5 197.0h4.0M1026.6 197.0h4.0M905.1 196.0h3.0M928.9 196.0h2.0M1002.5 196.0h4.0M1026.6 196.0h4.0M905.1 195.0h3.0M928.9 195.0h2.0M1002.5 195.0h4.0M1026.6 195.0h4.0M905.1 194.0h3.0M928.9 194.0h2.0M1002.5 194.0h4.0M1026.6 194.0h4.0M905.1 193.0h3.0M928.9 193.0h2.0M1002.5 193.0h4.0M1026.6 193.0h4.0M905.1 192.0h3.0M928.9 192.0h2.0M1002.5 192.0h4.0M1026.6 192.0h4.0M905.1 191.0h3.0M928.9 191.0h2.0M1002.5 191.0h4.0M1026.6 191.0h4.0M905.1 190.0h3.0M928.9 190.0h2.0M1002.5 190.0h4.0M1026.6 190.0h4.0M905.1 189.0h3.0M928.9 189.0h2.0M1002.5 189.0h4.0M1026.6 189.0h4.0M905.1 188.0h3.0M928.9 188.0h2.0M1002.5 188.0h4.0M1026.6 188.0h4.0M905.1 187.0h3.0M928.9 187.0h2.0M1002.5 187.0h4.0M1026.6 187.0h4.0M905.1 186.0h3.0M928.9 186.0h2.0M1002.5 186.0h4.0M1026.6 186.0h4.0M905.1 185.0h3.0M928.9 185.0h2.0M1002.5 185.0h4.0M1026.6 185.0h4.0M905.1 184.0h3.0M928.9 184.0h2.0M1002.5 184.0h4.0M1026.6 184.0h4.0M905.1 183.0h3.0M928.9 183.0h2.0M1002.5 183.0h4.0M1026.6 183.0h4.0M905.1 182.0h3.0M928.9 182.0h2.0M1002.5 182.0h4.0M1026.6 182.0h4.0M905.1 181.0h3.0M928.9 181.0h2.0M1002.5 181.0h4.0M1026.6 181.0h4.0M905.1 180.0h3.0M928.9 180.0h2.0M1002.5 180.0h4.0M1026.6 180.0h4.0M905.1 179.0h3.0M928.9 179.0h2.0M1002.5 179.0h4.0M1026.6 179.0h4.0M905.1 178.0h3.0M928.9 178.0h2.0M1002.5 178.0h4.0M1026.6 178.0h4.0M905.1 177.0h3.0M928.9 177.0h2.0M1002.5 177.0h4.0M1026.6 177.0h4.0M905.1 176.0h3.0M928.9 176.0h2.0M1002.5 176.0h4.0M1026.6 176.0h4.0M905.1 175.0h3.0M928.9 175.0h2.0M1002.5 175.0h4.0M1026.6 175.0h4.0M905.1 174.0h3.0M928.9 174.0h2.0M1002.5 174.0h4.0M1026.6 174.0h4.0M942.8 165.0h52.7M940.9 164.0h54.6M1129.9 164.0h3.0M939.9 163.0h55.6M1125.9 163.0h7.0M938.9 162.0h3.0M1123.9 162.0h8.0M937.9 161.0h2.0M1121.9 161.0h7.0M937.9 160.0h2.0M1119.9 160.0h7.0M936.9 158.9h2.0M1058.7 158.9h9.0M1117.9 158.9h7.0M936.9 157.9h2.0M1056.7 157.9h16.0M1115.9 157.9h8.0M936.9 156.9h2.0M1055.7 156.9h6.0M1065.7 156.9h10.0M1112.8 156.9h10.0M880.3 155.9h5.0M936.9 155.9h2.0M1054.7 155.9h4.0M1068.7 155.9h11.0M1110.8 155.9h11.0M879.3 154.9h8.9M936.9 154.9h2.0M1053.7 154.9h4.0M1070.7 154.9h13.0M1106.8 154.9h15.0M879.3 153.9h10.9M935.9 153.9h3.0M1052.7 153.9h4.0M1072.7 153.9h15.0M1102.8 153.9h18.0M879.3 152.9h12.9M935.9 152.9h3.0M1052.7 152.9h3.0M1072.7 152.9h20.1M1097.8 152.9h23.1M879.3 151.9h13.9M935.9 151.9h3.0M1051.7 151.9h4.0M1073.7 151.9h47.1M880.3 150.9h13.9M935.9 150.9h3.0M1051.7 150.9h4.0M1073.7 150.9h47.1M880.3 149.9h14.9M935.9 149.9h3.0M1051.7 149.9h4.0M1073.7 149.9h47.1M881.2 148.9h14.9M936.9 148.9h2.0M1051.7 148.9h4.0M1072.7 148.9h48.1M882.2 147.9h14.9M936.9 147.9h2.0M1052.7 147.9h4.0M1072.7 147.9h22.1M1095.8 147.9h25.1M883.2 146.9h13.9M936.9 146.9h2.0M1052.7 146.9h5.0M1071.7 146.9h18.0M1100.8 146.9h21.1M885.2 145.9h12.9M936.9 145.9h2.0M1053.7 145.9h5.0M1069.7 145.9h16.0M1104.8 145.9h17.0M886.2 144.9h11.9M936.9 144.9h3.0M1054.7 144.9h7.0M1065.7 144.9h15.0M1109.8 144.9h13.0M888.2 143.9h9.9M937.9 143.9h2.0M1055.7 143.9h21.1M1111.8 143.9h11.0M890.2 142.9h7.0M937.9 142.9h3.0M1057.7 142.9h14.0M1114.9 142.9h9.0M938.9 141.9h3.0M1061.7 141.9h3.0M1116.9 141.9h8.0M939.9 140.9h55.6M1119.9 140.9h7.0M940.9 139.9h54.6M1121.9 139.9h7.0M941.8 138.9h53.7M1123.9 138.9h9.0M1125.9 137.9h7.0M1129.9 136.9h3.0M1015.6 115.8h5.0M1013.6 114.8h9.0M923.0 113.8h2.0M1012.6 113.8h11.0M920.0 112.8h7.0M1011.5 112.8h4.0M1019.6 112.8h5.0M918.0 111.8h4.0M926.0 111.8h2.0M1010.5 111.8h4.0M1020.6 111.8h5.0M916.0 110.8h4.0M926.9 110.8h2.0M1009.5 110.8h4.0M1021.6 110.8h4.0M915.0 109.8h3.0M926.9 109.8h2.0M1009.5 109.8h3.0M1022.6 109.8h4.0M914.0 108.8h3.0M926.9 108.8h3.0M1008.5 108.8h4.0M1022.6 108.8h4.0M913.0 107.8h3.0M927.9 107.8h2.0M1008.5 107.8h4.0M1022.6 107.8h4.0M912.0 106.8h4.0M927.9 106.8h2.0M1008.5 106.8h3.0M1023.6 106.8h3.0M911.1 105.8h4.0M927.9 105.8h3.0M1008.5 105.8h3.0M1023.6 105.8h4.0M910.1 104.8h5.0M927.9 104.8h3.0M1008.5 104.8h3.0M1023.6 104.8h4.0M910.1 103.7h4.0M927.9 103.7h3.0M1008.5 103.7h3.0M1023.6 103.7h3.0M910.1 102.7h4.0M927.9 102.7h3.0M1008.5 102.7h3.0M1023.6 102.7h3.0M910.1 101.7h4.0M927.9 101.7h3.0M1008.5 101.7h4.0M1022.6 101.7h4.0M910.1 100.7h4.0M927.9 100.7h2.0M1009.5 100.7h3.0M1022.6 100.7h4.0M910.1 99.7h4.0M927.9 99.7h2.0M1009.5 99.7h3.0M1022.6 99.7h4.0M910.1 98.7h5.0M926.9 98.7h3.0M1009.5 98.7h4.0M1022.6 98.7h4.0M911.1 97.7h4.0M926.9 97.7h3.0M1009.5 97.7h4.0M1021.6 97.7h5.0M911.1 96.7h4.0M926.9 96.7h3.0M1009.5 96.7h5.0M1021.6 96.7h4.0M911.1 95.7h5.0M926.0 95.7h4.0M1010.5 95.7h4.0M1020.6 95.7h5.0M911.1 94.7h5.0M926.0 94.7h3.0M1010.5 94.7h6.0M1018.6 94.7h7.0M911.1 93.7h6.0M925.0 93.7h4.0M1010.5 93.7h15.0M912.0 92.7h6.0M924.0 92.7h5.0M1011.5 92.7h14.0M912.0 91.7h7.0M923.0 91.7h6.0M1011.5 91.7h13.0M912.0 90.7h15.9M1011.5 90.7h13.0M912.0 89.7h15.9M1011.5 89.7h13.0M913.0 88.7h14.9M1012.6 88.7h12.0M913.0 87.7h13.9M1012.6 87.7h11.0M913.0 86.7h13.9M1012.6 86.7h11.0M913.0 85.7h13.9M1012.6 85.7h11.0M914.0 84.7h12.9M1013.6 84.7h10.0M914.0 83.7h11.9M1013.6 83.7h10.0M914.0 82.7h11.9M1013.6 82.7h9.0M914.0 81.7h11.9M1013.6 81.7h9.0M915.0 80.7h10.9M1014.6 80.7h8.0M915.0 79.7h10.9M1014.6 79.7h8.0M915.0 78.7h9.9M1014.6 78.7h7.0M915.0 77.7h9.9M1014.6 77.7h7.0M916.0 76.6h8.9M1014.6 76.6h7.0M916.0 75.6h8.9M1015.6 75.6h6.0M916.0 74.6h8.0M1015.6 74.6h6.0M916.0 73.6h8.0M1015.6 73.6h5.0M916.0 72.6h8.0M1015.6 72.6h5.0M916.0 71.6h8.0M1015.6 71.6h6.0M916.0 70.6h8.0M1015.6 70.6h6.0M916.0 69.6h8.9M1014.6 69.6h7.0M916.0 68.6h8.9M1014.6 68.6h7.0M915.0 67.6h9.9M1014.6 67.6h7.0M915.0 66.6h9.9M1014.6 66.6h8.0M915.0 65.6h9.9M1014.6 65.6h8.0M915.0 64.6h9.9M1013.6 64.6h9.0M915.0 63.6h10.9M1013.6 63.6h9.0M915.0 62.6h10.9M1013.6 62.6h10.0M914.0 61.6h11.9M1013.6 61.6h10.0M914.0 60.6h11.9M1012.6 60.6h11.0M914.0 59.6h11.9M1012.6 59.6h11.0M914.0 58.6h11.9M1012.6 58.6h11.0M914.0 57.6h12.9M1012.6 57.6h12.0M914.0 56.6h12.9M1011.5 56.6h13.0M913.0 55.6h13.9M1011.5 55.6h14.0M913.0 54.6h13.9M1010.5 54.6h15.0M913.0 53.6h13.9M1010.5 53.6h15.0M913.0 52.6h14.9M1010.5 52.6h16.0M912.0 51.6h15.9M1009.5 51.6h17.0M912.0 50.6h15.9M1009.5 50.6h18.0M912.0 49.5h15.9M1008.5 49.5h19.1M911.1 48.5h17.9M1008.5 48.5h19.1M911.1 47.5h17.9M1007.5 47.5h7.0M1020.6 47.5h8.0M911.1 46.5h7.0M921.0 46.5h8.0M1007.5 46.5h5.0M1022.6 46.5h6.0M910.1 45.5h6.0M923.0 45.5h6.0M1006.5 45.5h5.0M1024.6 45.5h5.0M910.1 44.5h5.0M924.0 44.5h6.0M1006.5 44.5h4.0M1025.6 44.5h4.0M910.1 43.5h4.0M925.0 43.5h5.0M1005.5 43.5h4.0M1026.6 43.5h4.0M909.1 42.5h5.0M925.0 42.5h5.0M1005.5 42.5h4.0M1026.6 42.5h4.0M909.1 41.5h4.0M926.0 41.5h4.0M1004.5 41.5h4.0M1027.6 41.5h4.0M909.1 40.5h4.0M926.0 40.5h4.0M1004.5 40.5h4.0M1027.6 40.5h4.0M908.1 39.5h4.0M926.0 39.5h4.0M1004.5 39.5h3.0M1028.6 39.5h3.0M908.1 38.5h4.0M926.9 38.5h4.0M1004.5 38.5h3.0M1028.6 38.5h3.0M908.1 37.5h4.0M926.9 37.5h4.0M1003.5 37.5h4.0M1028.6 37.5h4.0M908.1 36.5h4.0M926.9 36.5h4.0M1003.5 36.5h3.0M1028.6 36.5h4.0"/>
<path stroke="#00b4ff" d="M943.8 260.9h51.7M941.8 259.9h53.7M940.9 258.9h4.0M939.9 257.9h4.0M938.9 256.9h4.0M1127.9 256.9h5.0M938.9 255.9h3.0M1125.9 255.9h7.0M938.9 254.9h2.0M1063.7 254.9h6.0M1123.9 254.9h9.0M937.9 253.9h3.0M1061.7 253.9h11.0M1122.9 253.9h8.0M937.9 252.9h3.0M1059.7 252.9h15.0M1121.9 252.9h7.0M937.9 251.9h2.0M1058.7 251.9h17.0M1121.9 251.9h7.0M937.9 250.9h2.0M1057.7 250.9h4.0M1065.7 250.9h11.0M1120.9 250.9h7.0M937.9 249.9h2.0M1057.7 249.9h3.0M1067.7 249.9h10.0M1120.9 249.9h7.0M937.9 248.9h2.0M1056.7 248.9h4.0M1068.7 248.9h9.0M1120.9 248.9h7.0M937.9 247.9h2.0M1056.7 247.9h3.0M1068.7 247.9h9.0M1120.9 247.9h8.0M937.9 246.9h2.0M1055.7 246.9h4.0M1068.7 246.9h9.0M1121.9 246.9h7.0M937.9 245.9h3.0M1055.7 245.9h3.0M1068.7 245.9h9.0M1121.9 245.9h9.0M937.9 244.9h3.0M1055.7 244.9h3.0M1068.7 244.9h8.0M1122.9 244.9h10.0M938.9 243.9h3.0M1055.7 243.9h3.0M1066.7 243.9h9.0M1123.9 243.9h9.0M939.9 242.9h2.0M1055.7 242.9h4.0M1065.7 242.9h9.0M1125.9 242.9h7.0M939.9 241.9h3.0M1056.7 241.9h16.0M1128.9 241.9h4.0M941.8 240.9h3.0M1059.7 240.9h10.0M942.8 239.9h52.7M914.0 229.9h10.9M1008.5 229.9h15.0M911.1 228.9h6.0M922.0 228.9h4.0M1006.5 228.9h9.0M1018.6 228.9h7.0M910.1 227.9h4.0M924.0 227.9h4.0M1006.5 227.9h5.0M1021.6 227.9h5.0M909.1 226.9h4.0M926.0 226.9h2.0M1005.5 226.9h5.0M1022.6 226.9h5.0M908.1 225.9h4.0M926.9 225.9h2.0M1005.5 225.9h5.0M1023.6 225.9h4.0M908.1 224.9h3.0M926.9 224.9h3.0M1005.5 224.9h5.0M1023.6 224.9h4.0M907.1 223.9h3.0M927.9 223.9h2.0M1005.5 223.9h5.0M1023.6 223.9h4.0M907.1 222.9h3.0M927.9 222.9h2.0M1005.5 222.9h5.0M1023.6 222.9h4.0M907.1 221.9h3.0M927.9 221.9h2.0M1005.5 221.9h5.0M1023.6 221.9h4.0M907.1 220.9h3.0M927.9 220.9h2.0M1005.5 220.9h5.0M1023.6 220.9h4.0M907.1 219.9h3.0M927.9 219.9h2.0M1005.5 219.9h5.0M1023.6 219.9h4.0M907.1 218.9h3.0M927.9 218.9h2.0M1005.5 218.9h5.0M1023.6 218.9h4.0M907.1 217.9h3.0M927.9 217.9h2.0M1005.5 217.9h5.0M1023.6 217.9h4.0M907.1 216.9h3.0M927.9 216.9h2.0M1005.5 216.9h5.0M1023.6 216.9h4.0M907.1 215.9h3.0M927.9 215.9h2.0M1005.5 215.9h5.0M1023.6 215.9h4.0M907.1 214.9h3.0M927.9 214.9h2.0M1005.5 214.9h5.0M1023.6 214.9h4.0M907.1 213.9h3.0M927.9 213.9h2.0M1005.5 213.9h5.0M1023.6 213.9h4.0M907.1 212.9h3.0M927.9 212.9h2.0M1005.5 212.9h5.0M1023.6 212.9h4.0M907.1 211.9h3.0M927.9 211.9h2.0M1005.5 211.9h5.0M1023.6 211.9h4.0M907.1 210.9h3.0M927.9 210.9h2.0M1005.5 210.9h5.0M1023.6 210.9h4.0M907.1 209.9h3.0M927.9 209.9h2.0M1005.5 209.9h5.0M1023.6 209.9h4.0M907.1 208.9h3.0M927.9 208.9h2.0M1005.5 208.9h5.0M1023.6 208.9h4.0M907.1 207.9h3.0M927.9 207.9h2.0M1005.5 207.9h5.0M1023.6 207.9h4.0M907.1 207.0h3.0M927.9 207.0h2.0M1005.5 207.0h5.0M1023.6 207.0h4.0M907.1 206.0h3.0M927.9 206.0h2.0M1005.5 206.0h5.0M1023.6 206.0h4.0M907.1 205.0h3.0M927.9 205.0h2.0M1005.5 205.0h5.0M1023.6 205.0h4.0M907.1 204.0h3.0M927.9 204.0h2.0M1005.5 204.0h5.0M1023.6 204.0h4.0M907.1 203.0h3.0M927.9 203.0h2.0M1005.5 203.0h5.0M1023.6 203.0h4.0M907.1 202.0h3.0M927.9 202.0h2.0M1005.5 202.0h5.0M1023.6 202.0h4.0M907.1 201.0h3.0M927.9 201.0h2.0M1005.5 201.0h5.0M1023.6 201.0h4.0M907.1 200.0h3.0M927.9 200.0h2.0M1005.5 200.0h5.0M1023.6 200.0h4.0M907.1 199.0h3.0M927.9 199.0h2.0M1005.5 199.0h5.0M1023.6 199.0h4.0M907.1 198.0h3.0M927.9 198.0h2.0M1005.5 198.0h5.0M1023.6 198.0h4.0M907.1 197.0h3.0M927.9 197.0h2.0M1005.5 197.0h5.0M1023.6 197.0h4.0M907.1 196.0h3.0M927.9 196.0h2.0M1005.5 196.0h5.0M1023.6 196.0h4.0M907.1 195.0h3.0M927.9 195.0h2.0M1005.5 195.0h5.0M1023.6 195.0h4.0M907.1 194.0h3.0M927.9 194.0h2.0M1005.5 194.0h5.0M1023.6 194.0h4.0M907.1 193.0h3.0M927.9 193.0h2.0M1005.5 193.0h5.0M1023.6 193.0h4.0M907.1 192.0h3.0M927.9 192.0h2.0M1005.5 192.0h5.0M1023.6 192.0h4.0M907.1 191.0h3.0M927.9 191.0h2.0M1005.5 191.0h5.0M1023.6 191.0h4.0M907.1 190.0h3.0M927.9 190.0h2.0M1005.5 190.0h5.0M1023.6 190.0h4.0M907.1 189.0h3.0M927.9 189.0h2.0M1005.5 189.0h5.0M1023.6 189.0h4.0M907.1 188.0h3.0M927.9 188.0h2.0M1005.5 188.0h5.0M1023.6 188.0h4.0M907.1 187.0h3.0M927.9 187.0h2.0M1005.5 187.0h5.0M1023.6 187.0h4.0M907.1 186.0h3.0M927.9 186.0h2.0M1005.5 186.0h5.0M1023.6 186.0h4.0M907.1 185.0h3.0M927.9 185.0h2.0M1005.5 185.0h5.0M1023.6 185.0h4.0M907.1 184.0h3.0M927.9 184.0h2.0M1005.5 184.0h5.0M1023.6 184.0h4.0M907.1 183.0h3.0M927.9 183.0h2.0M1005.5 183.0h5.0M1023.6 183.0h4.0M907.1 182.0h3.0M927.9 182.0h2.0M1005.5 182.0h5.0M1023.6 182.0h4.0M907.1 181.0h3.0M927.9 181.0h2.0M1005.5 181.0h5.0M1023.6 181.0h4.0M907.1 180.0h3.0M927.9 180.0h2.0M1005.5 180.0h5.0M1023.6 180.0h4.0M907.1 179.0h3.0M927.9 179.0h2.0M1005.5 179.0h5.0M1023.6 179.0h4.0M907.1 178.0h3.0M927.9 178.0h2.0M1005.5 178.0h5.0M1023.6 178.0h4.0M907.1 177.0h3.0M927.9 177.0h2.0M1005.5 177.0h5.0M1023.6 177.0h4.0M907.1 176.0h3.0M927.9 176.0h2.0M1005.5 176.0h5.0M1023.6 176.0h4.0M907.1 175.0h3.0M927.9 175.0h2.0M1005.5 175.0h5.0M1023.6 175.0h4.0M907.1 174.0h3.0M927.9 174.0h2.0M1005.5 174.0h5.0M1023.6 174.0h4.0M940.9 162.0h54.6M1130.9 162.0h2.0M938.9 161.0h56.6M1127.9 161.0h5.0M938.9 160.0h56.6M1125.9 160.0h7.0M937.9 158.9h57.6M1123.9 158.9h9.0M937.9 157.9h4.0M1122.9 157.9h10.0M937.9 156.9h3.0M1060.7 156.9h6.0M1121.9 156.9h9.0M937.9 155.9h3.0M1057.7 155.9h12.0M1120.9 155.9h8.0M937.9 154.9h3.0M1056.7 154.9h15.0M1120.9 154.9h8.0M937.9 153.9h3.0M1055.7 153.9h18.0M1119.9 153.9h8.0M937.9 152.9h2.0M1054.7 152.9h19.1M1119.9 152.9h8.0M937.9 151.9h2.0M1054.7 151.9h20.1M1119.9 151.9h8.0M937.9 150.9h2.0M1054.7 150.9h20.1M1119.9 150.9h8.0M937.9 149.9h2.0M1054.7 149.9h20.1M1119.9 149.9h8.0M937.9 148.9h3.0M1054.7 148.9h19.1M1119.9 148.9h8.0M937.9 147.9h3.0M1055.7 147.9h18.0M1119.9 147.9h8.0M937.9 146.9h3.0M1056.7 146.9h16.0M1120.9 146.9h7.0M937.9 145.9h4.0M1057.7 145.9h13.0M1120.9 145.9h8.0M938.9 144.9h4.0M1060.7 144.9h6.0M1121.9 144.9h8.0M938.9 143.9h56.6M1121.9 143.9h9.0M939.9 142.9h55.6M1122.9 142.9h10.0M940.9 141.9h54.6M1123.9 141.9h9.0M1125.9 140.9h7.0M1127.9 139.9h5.0M1014.6 112.8h6.0M921.0 111.8h6.0M1013.6 111.8h8.0M919.0 110.8h8.9M1012.6 110.8h10.0M917.0 109.8h6.0M925.0 109.8h3.0M1011.5 109.8h12.0M916.0 108.8h5.0M926.0 108.8h2.0M1011.5 108.8h12.0M915.0 107.8h4.0M926.0 107.8h3.0M1011.5 107.8h12.0M915.0 106.8h3.0M926.0 106.8h3.0M1010.5 106.8h14.0M914.0 105.8h4.0M926.0 105.8h3.0M1010.5 105.8h14.0M914.0 104.8h4.0M926.0 104.8h3.0M1010.5 104.8h14.0M913.0 103.7h5.0M926.0 103.7h3.0M1010.5 103.7h14.0M913.0 102.7h5.0M926.0 102.7h3.0M1010.5 102.7h14.0M913.0 101.7h6.0M925.0 101.7h4.0M1011.5 101.7h12.0M913.0 100.7h6.0M924.0 100.7h5.0M1011.5 100.7h12.0M913.0 99.7h7.0M924.0 99.7h5.0M1011.5 99.7h12.0M914.0 98.7h13.9M1012.6 98.7h11.0M914.0 97.7h13.9M1012.6 97.7h10.0M914.0 96.7h13.9M1013.6 96.7h9.0M915.0 95.7h11.9M1013.6 95.7h8.0M915.0 94.7h11.9M1015.6 94.7h4.0M916.0 93.7h9.9M917.0 92.7h8.0M918.0 91.7h6.0M1013.6 47.5h8.0M917.0 46.5h5.0M1011.5 46.5h12.0M915.0 45.5h8.9M1010.5 45.5h15.0M914.0 44.5h10.9M1009.5 44.5h17.0M913.0 43.5h12.9M1008.5 43.5h19.1M913.0 42.5h12.9M1008.5 42.5h19.1M912.0 41.5h14.9M1007.5 41.5h21.1M912.0 40.5h6.0M920.0 40.5h7.0M1007.5 40.5h7.0M1021.6 40.5h7.0M911.1 39.5h5.0M922.0 39.5h5.0M1006.5 39.5h6.0M1022.6 39.5h7.0M911.1 38.5h5.0M922.0 38.5h6.0M1006.5 38.5h6.0M1023.6 38.5h6.0M911.1 37.5h4.0M923.0 37.5h5.0M1006.5 37.5h5.0M1024.6 37.5h5.0M911.1 36.5h4.0M923.0 36.5h5.0M1005.5 36.5h6.0M1024.6 36.5h5.0"/>
<path stroke="#0a8cff" d="M943.8 258.9h51.7M942.8 257.9h52.7M941.8 256.9h53.7M940.9 255.9h9.9M955.8 255.9h39.7M939.9 254.9h7.0M968.7 254.9h25.8M939.9 253.9h6.0M974.6 253.9h15.9M1129.9 253.9h3.0M939.9 252.9h5.0M1127.9 252.9h5.0M938.9 251.9h6.0M1127.9 251.9h4.0M938.9 250.9h5.0M1060.7 250.9h6.0M1126.9 250.9h4.0M938.9 249.9h5.0M1059.7 249.9h9.0M1126.9 249.9h4.0M938.9 248.9h5.0M1059.7 248.9h10.0M1126.9 248.9h4.0M938.9 247.9h5.0M1058.7 247.9h11.0M1127.9 247.9h4.0M938.9 246.9h5.0M1058.7 246.9h11.0M1127.9 246.9h5.0M939.9 245.9h5.0M984.6 245.9h2.0M1057.7 245.9h12.0M1129.9 245.9h3.0M939.9 244.9h5.0M975.6 244.9h14.9M1057.7 244.9h12.0M940.9 243.9h5.0M970.7 243.9h23.8M1057.7 243.9h10.0M940.9 242.9h7.0M962.7 242.9h32.8M1058.7 242.9h8.0M941.8 241.9h53.7M943.8 240.9h51.7M916.0 228.9h7.0M1014.6 228.9h5.0M913.0 227.9h11.9M1010.5 227.9h12.0M912.0 226.9h14.9M1009.5 226.9h14.0M911.1 225.9h16.9M1009.5 225.9h15.0M910.1 224.9h8.0M922.0 224.9h6.0M1009.5 224.9h15.0M909.1 223.9h7.0M924.0 223.9h5.0M1009.5 223.9h15.0M909.1 222.9h6.0M925.0 222.9h4.0M1009.5 222.9h15.0M909.1 221.9h5.0M925.0 221.9h4.0M1009.5 221.9h15.0M909.1 220.9h5.0M926.0 220.9h3.0M1009.5 220.9h15.0M909.1 219.9h5.0M926.0 219.9h3.0M1009.5 219.9h15.0M909.1 218.9h5.0M926.0 218.9h3.0M1009.5 218.9h15.0M909.1 217.9h4.0M926.0 217.9h3.0M1009.5 217.9h15.0M909.1 216.9h4.0M926.0 216.9h3.0M1009.5 216.9h15.0M909.1 215.9h4.0M926.0 215.9h3.0M1009.5 215.9h15.0M909.1 214.9h4.0M926.0 214.9h3.0M1009.5 214.9h15.0M909.1 213.9h4.0M926.0 213.9h3.0M1009.5 213.9h15.0M909.1 212.9h4.0M926.0 212.9h3.0M1009.5 212.9h15.0M909.1 211.9h5.0M926.0 211.9h3.0M1009.5 211.9h15.0M909.1 210.9h5.0M926.0 210.9h3.0M1009.5 210.9h15.0M909.1 209.9h5.0M926.0 209.9h3.0M1009.5 209.9h15.0M909.1 208.9h5.0M926.0 208.9h3.0M1009.5 208.9h15.0M909.1 207.9h5.0M926.0 207.9h3.0M1009.5 207.9h15.0M909.1 207.0h5.0M926.0 207.0h3.0M1009.5 207.0h15.0M909.1 206.0h5.0M926.0 206.0h3.0M1009.5 206.0h15.0M909.1 205.0h5.0M925.0 205.0h4.0M1009.5 205.0h15.0M909.1 204.0h5.0M925.0 204.0h4.0M1009.5 204.0h15.0M909.1 203.0h5.0M925.0 203.0h4.0M1009.5 203.0h15.0M909.1 202.0h5.0M925.0 202.0h4.0M1009.5 202.0h15.0M909.1 201.0h5.0M925.0 201.0h4.0M1009.5 201.0h15.0M909.1 200.0h5.0M925.0 200.0h4.0M1009.5 200.0h15.0M909.1 199.0h6.0M925.0 199.0h4.0M1009.5 199.0h15.0M909.1 198.0h6.0M925.0 198.0h4.0M1009.5 198.0h15.0M909.1 197.0h6.0M924.0 197.0h5.0M1009.5 197.0h15.0M909.1 196.0h6.0M924.0 196.0h5.0M1009.5 196.0h15.0M909.1 195.0h6.0M924.0 195.0h5.0M1009.5 195.0h15.0M909.1 194.0h6.0M924.0 194.0h5.0M1009.5 194.0h15.0M909.1 193.0h7.0M924.0 193.0h5.0M1009.5 193.0h15.0M909.1 192.0h7.0M923.0 192.0h6.0M1009.5 192.0h15.0M909.1 191.0h7.0M923.0 191.0h6.0M1009.5 191.0h15.0M909.1 190.0h7.0M923.0 190.0h6.0M1009.5 190.0h15.0M909.1 189.0h7.0M923.0 189.0h6.0M1009.5 189.0h15.0M909.1 188.0h7.0M923.0 188.0h6.0M1009.5 188.0h15.0M909.1 187.0h7.0M923.0 187.0h6.0M1009.5 187.0h15.0M909.1 186.0h7.0M923.0 186.0h6.0M1009.5 186.0h15.0M909.1 185.0h7.0M923.0 185.0h6.0M1009.5 185.0h15.0M909.1 184.0h7.0M923.0 184.0h6.0M1009.5 184.0h15.0M909.1 183.0h7.0M922.0 183.0h7.0M1009.5 183.0h15.0M909.1 182.0h7.0M923.0 182.0h6.0M1009.5 182.0h15.0M909.1 181.0h7.0M923.0 181.0h6.0M1009.5 181.0h15.0M909.1 180.0h7.0M923.0 180.0h6.0M1009.5 180.0h15.0M909.1 179.0h7.0M923.0 179.0h6.0M1009.5 179.0h15.0M909.1 178.0h6.0M924.0 178.0h5.0M1009.5 178.0h15.0M909.1 177.0h6.0M924.0 177.0h5.0M1009.5 177.0h15.0M909.1 176.0h6.0M924.0 176.0h5.0M1009.5 176.0h15.0M909.1 175.0h6.0M924.0 175.0h5.0M1009.5 175.0h15.0M909.1 174.0h5.0M925.0 174.0h4.0M1009.5 174.0h15.0M940.9 157.9h54.6M939.9 156.9h55.6M1129.9 156.9h3.0M939.9 155.9h55.6M1127.9 155.9h5.0M939.9 154.9h55.6M1127.9 154.9h5.0M939.9 153.9h55.6M1126.9 153.9h6.0M938.9 152.9h56.6M1126.9 152.9h6.0M938.9 151.9h56.6M1126.9 151.9h6.0M938.9 150.9h56.6M1126.9 150.9h6.0M938.9 149.9h56.6M1126.9 149.9h6.0M939.9 148.9h55.6M1126.9 148.9h6.0M939.9 147.9h55.6M1126.9 147.9h6.0M939.9 146.9h55.6M1126.9 146.9h6.0M940.9 145.9h54.6M1127.9 145.9h5.0M941.8 144.9h53.7M1128.9 144.9h4.0M1129.9 143.9h3.0M922.0 109.8h4.0M920.0 108.8h7.0M918.0 107.8h8.9M917.0 106.8h9.9M917.0 105.8h9.9M917.0 104.8h9.9M917.0 103.7h9.9M917.0 102.7h9.9M918.0 101.7h8.0M918.0 100.7h7.0M919.0 99.7h6.0M917.0 40.5h4.0M1013.6 40.5h9.0M915.0 39.5h8.0M1011.5 39.5h12.0M915.0 38.5h8.0M1011.5 38.5h13.0M914.0 37.5h4.0M920.0 37.5h4.0M1010.5 37.5h15.0M914.0 36.5h3.0M921.0 36.5h3.0M1010.5 36.5h15.0"/>
<path stroke="#0a58f0" d="M949.8 255.9h7.0M945.8 254.9h23.8M993.5 254.9h2.0M944.8 253.9h30.8M989.5 253.9h6.0M943.8 252.9h51.7M943.8 251.9h51.7M1130.9 251.9h2.0M942.8 250.9h52.7M1129.9 250.9h3.0M942.8 249.9h52.7M1129.9 249.9h3.0M942.8 248.9h52.7M1129.9 248.9h3.0M942.8 247.9h52.7M1130.9 247.9h2.0M942.8 246.9h52.7M943.8 245.9h41.7M985.6 245.9h9.9M943.8 244.9h32.8M989.5 244.9h6.0M944.8 243.9h26.8M993.5 243.9h2.0M946.8 242.9h16.9M917.0 224.9h6.0M915.0 223.9h9.9M914.0 222.9h11.9M913.0 221.9h12.9M913.0 220.9h13.9M913.0 219.9h13.9M913.0 218.9h13.9M912.0 217.9h14.9M912.0 216.9h14.9M912.0 215.9h14.9M912.0 214.9h14.9M912.0 213.9h14.9M912.0 212.9h14.9M913.0 211.9h13.9M913.0 210.9h13.9M913.0 209.9h13.9M913.0 208.9h13.9M913.0 207.9h13.9M913.0 207.0h13.9M913.0 206.0h13.9M913.0 205.0h12.9M913.0 204.0h12.9M913.0 203.0h12.9M913.0 202.0h12.9M913.0 201.0h12.9M913.0 200.0h12.9M914.0 199.0h11.9M914.0 198.0h11.9M914.0 197.0h10.9M914.0 196.0h10.9M914.0 195.0h10.9M914.0 194.0h10.9M915.0 193.0h9.9M915.0 192.0h8.9M915.0 191.0h8.9M915.0 190.0h8.9M915.0 189.0h8.9M915.0 188.0h8.9M915.0 187.0h8.9M915.0 186.0h8.9M915.0 185.0h8.9M915.0 184.0h8.9M915.0 183.0h8.0M915.0 182.0h8.9M915.0 181.0h8.9M915.0 180.0h8.9M915.0 179.0h8.9M914.0 178.0h10.9M914.0 177.0h10.9M914.0 176.0h10.9M914.0 175.0h10.9M913.0 174.0h12.9M917.0 37.5h4.0M916.0 36.5h6.0"/>
</g>
<rect x="858.9" y="36" width="273.5" height="274.3" fill="none" stroke="#000" stroke-width="2.3"/>
<line x1="858.9" y1="36" x2="858.9" y2="27.8" stroke="#000" stroke-width="2.3"/>
<line x1="858.9" y1="310.3" x2="858.9" y2="318.5" stroke="#000" stroke-width="2.3"/>
<line x1="995" y1="36" x2="995" y2="27.8" stroke="#000" stroke-width="2.3"/>
<line x1="995" y1="310.3" x2="995" y2="318.5" stroke="#000" stroke-width="2.3"/>
<line x1="1132.4" y1="36" x2="1132.4" y2="27.8" stroke="#000" stroke-width="2.3"/>
<line x1="1132.4" y1="310.3" x2="1132.4" y2="318.5" stroke="#000" stroke-width="2.3"/>
<line x1="858.9" y1="36" x2="850.7" y2="36" stroke="#000" stroke-width="2.3"/>
<line x1="1132.4" y1="36" x2="1140.6" y2="36" stroke="#000" stroke-width="2.3"/>
<line x1="858.9" y1="173.5" x2="850.7" y2="173.5" stroke="#000" stroke-width="2.3"/>
<line x1="1132.4" y1="173.5" x2="1140.6" y2="173.5" stroke="#000" stroke-width="2.3"/>
<line x1="858.9" y1="310.3" x2="850.7" y2="310.3" stroke="#000" stroke-width="2.3"/>
<line x1="1132.4" y1="310.3" x2="1140.6" y2="310.3" stroke="#000" stroke-width="2.3"/>
<text transform="translate(865 57.7) scale(1.06 1.14)" font-size="18.4">c)</text>
<text transform="translate(923.9 336.5) scale(1 1.09)" font-size="13.1" text-anchor="middle">0.1 hPa &lt;-&gt; 1000 hPa</text>
<text transform="translate(1067.6 336.5) scale(1 1.09)" font-size="13.1" text-anchor="middle">0.1 hPa &lt;-&gt; 1000 hPa</text>
<text transform="translate(924.8 353.9) scale(1 1.07)" font-size="16.9" text-anchor="middle">Temperature</text>
<text transform="translate(1067.8 353.9) scale(1 1.07)" font-size="16.9" text-anchor="middle">Water Vapor</text>
<text transform="translate(839.4 96.7) rotate(-90) scale(1 1.09)" font-size="13.1" text-anchor="middle">0.1 hPa &lt;-&gt; 1000 hPa</text>
<text transform="translate(839.4 241.7) rotate(-90) scale(1 1.09)" font-size="13.1" text-anchor="middle">0.1 hPa &lt;-&gt; 1000 hPa</text>
<text transform="translate(821 96.9) rotate(-90) scale(1 1.07)" font-size="16.9" text-anchor="middle">Water Vapor</text>
<text transform="translate(821 241.2) rotate(-90) scale(1 1.07)" font-size="16.9" text-anchor="middle">Temperature</text>
<rect x="1150.3" y="38.8" width="16.9" height="12.23" fill="#b4001e" stroke="#000" stroke-width="0.9"/>
<rect x="1150.3" y="51.03" width="16.9" height="12.23" fill="#fa1432" stroke="#000" stroke-width="0.9"/>
<rect x="1150.3" y="63.26" width="16.9" height="12.23" fill="#ff1e32" stroke="#000" stroke-width="0.9"/>
<rect x="1150.3" y="75.5" width="16.9" height="12.23" fill="#ff2236" stroke="#000" stroke-width="0.9"/>
<rect x="1150.3" y="87.73" width="16.9" height="12.23" fill="#ff3a3c" stroke="#000" stroke-width="0.9"/>
<rect x="1150.3" y="99.96" width="16.9" height="12.23" fill="#ff7850" stroke="#000" stroke-width="0.9"/>
<rect x="1150.3" y="112.19" width="16.9" height="12.23" fill="#ffaa70" stroke="#000" stroke-width="0.9"/>
<rect x="1150.3" y="124.42" width="16.9" height="12.23" fill="#ffd090" stroke="#000" stroke-width="0.9"/>
<rect x="1150.3" y="136.65" width="16.9" height="12.23" fill="#ffd492" stroke="#000" stroke-width="0.9"/>
<rect x="1150.3" y="148.89" width="16.9" height="12.23" fill="#ffeeb8" stroke="#000" stroke-width="0.9"/>
<rect x="1150.3" y="161.12" width="16.9" height="12.23" fill="#fffee6" stroke="#000" stroke-width="0.9"/>
<rect x="1150.3" y="173.35" width="16.9" height="12.23" fill="#e0ffff" stroke="#000" stroke-width="0.9"/>
<rect x="1150.3" y="185.58" width="16.9" height="12.23" fill="#a0f8ff" stroke="#000" stroke-width="0.9"/>
<rect x="1150.3" y="197.81" width="16.9" height="12.23" fill="#70eafc" stroke="#000" stroke-width="0.9"/>
<rect x="1150.3" y="210.05" width="16.9" height="12.23" fill="#6ce8fa" stroke="#000" stroke-width="0.9"/>
<rect x="1150.3" y="222.28" width="16.9" height="12.23" fill="#00d2fa" stroke="#000" stroke-width="0.9"/>
<rect x="1150.3" y="234.51" width="16.9" height="12.23" fill="#00b4ff" stroke="#000" stroke-width="0.9"/>
<rect x="1150.3" y="246.74" width="16.9" height="12.23" fill="#0a8cff" stroke="#000" stroke-width="0.9"/>
<rect x="1150.3" y="258.97" width="16.9" height="12.23" fill="#0a58f0" stroke="#000" stroke-width="0.9"/>
<rect x="1150.3" y="271.2" width="16.9" height="12.23" fill="#0a5cf2" stroke="#000" stroke-width="0.9"/>
<rect x="1150.3" y="283.44" width="16.9" height="12.23" fill="#1414f0" stroke="#000" stroke-width="0.9"/>
<rect x="1150.3" y="295.67" width="16.9" height="12.23" fill="#2800d0" stroke="#000" stroke-width="0.9"/>
<text transform="translate(1187.6 57.93) scale(1 1.07)" font-size="18.3" text-anchor="middle">1</text>
<text transform="translate(1187.6 82.4) scale(1 1.07)" font-size="18.3" text-anchor="middle">0.8</text>
<text transform="translate(1187.6 106.86) scale(1 1.07)" font-size="18.3" text-anchor="middle">0.6</text>
<text transform="translate(1187.6 131.32) scale(1 1.07)" font-size="18.3" text-anchor="middle">0.4</text>
<text transform="translate(1187.6 155.79) scale(1 1.07)" font-size="18.3" text-anchor="middle">0.2</text>
<text transform="translate(1187.6 180.25) scale(1 1.07)" font-size="18.3" text-anchor="middle">0</text>
<text transform="translate(1187.6 204.71) scale(1 1.07)" font-size="18.3" text-anchor="middle">-0.2</text>
<text transform="translate(1187.6 229.18) scale(1 1.07)" font-size="18.3" text-anchor="middle">-0.4</text>
<text transform="translate(1187.6 253.64) scale(1 1.07)" font-size="18.3" text-anchor="middle">-0.6</text>
<text transform="translate(1187.6 278.1) scale(1 1.07)" font-size="18.3" text-anchor="middle">-0.8</text>
<text transform="translate(1187.6 302.57) scale(1 1.07)" font-size="18.3" text-anchor="middle">-1</text>
</g>
<g id="pd">
<clipPath id="cd"><rect x="99.95" y="420.3" width="1053.85" height="276.2"/></clipPath>
<g clip-path="url(#cd)">
<path d="M99.95,696.5 L98.02,571.2 L101.88,571.2 L101.88,570.98 L105.74,570.98 L105.74,570.75 L109.59,570.75 L109.59,570.52 L113.45,570.52 L113.45,570.3 L117.31,570.3 L117.31,570.02 L121.17,570.02 L121.17,569.73 L125.03,569.73 L125.03,569.45 L128.88,569.45 L128.88,569.17 L132.74,569.17 L132.74,568.88 L136.6,568.88 L136.6,568.6 L140.46,568.6 L140.46,568.36 L144.32,568.36 L144.32,568.12 L148.18,568.12 L148.18,567.88 L152.03,567.88 L152.03,567.64 L155.89,567.64 L155.89,567.4 L159.75,567.4 L159.75,566.6 L163.61,566.6 L163.61,565.4 L167.47,565.4 L167.47,564.75 L171.32,564.75 L171.32,564.1 L175.18,564.1 L175.18,562.8 L179.04,562.8 L179.04,561.6 L182.9,561.6 L182.9,560.7 L186.76,560.7 L186.76,560.3 L190.61,560.3 L190.61,559.93 L194.47,559.93 L194.47,559.57 L198.33,559.57 L198.33,559.2 L202.19,559.2 L202.19,558.85 L206.04,558.85 L206.04,558.5 L209.9,558.5 L209.9,558.15 L213.76,558.15 L213.76,557.8 L217.62,557.8 L217.62,557.45 L221.48,557.45 L221.48,557.1 L225.34,557.1 L225.34,556.87 L229.19,556.87 L229.19,556.63 L233.05,556.63 L233.05,556.4 L236.91,556.4 L236.91,554.7 L240.77,554.7 L240.77,554.23 L244.63,554.23 L244.63,553.75 L248.48,553.75 L248.48,553.27 L252.34,553.27 L252.34,552.8 L256.2,552.8 L256.2,552.4 L260.06,552.4 L260.06,552 L263.91,552 L263.92,551.6 L267.77,551.6 L267.77,551.2 L271.63,551.2 L271.63,550.8 L275.49,550.8 L275.49,550.53 L279.35,550.53 L279.35,550.27 L283.2,550.27 L283.21,550 L287.06,550 L287.06,549.73 L290.92,549.73 L290.92,549.47 L294.78,549.47 L294.78,549.2 L298.64,549.2 L298.64,548.78 L302.5,548.78 L302.5,548.36 L306.35,548.36 L306.35,547.94 L310.21,547.94 L310.21,547.52 L314.07,547.52 L314.07,547.1 L317.93,547.1 L317.93,546.73 L321.78,546.73 L321.79,546.37 L325.64,546.37 L325.64,546 L329.5,546 L329.5,545.5 L333.36,545.5 L333.36,544.3 L337.22,544.3 L337.22,542.9 L341.07,542.9 L341.08,542.2 L344.93,542.2 L344.93,533.5 L348.79,533.5 L348.79,530.4 L352.65,530.4 L352.65,529.6 L356.51,529.6 L356.51,528.6 L360.36,528.6 L360.37,499.4 L364.22,499.4 L364.22,492.2 L368.08,492.2 L368.08,491.5 L371.94,491.5 L371.94,490.2 L375.8,490.2 L375.8,489.5 L379.65,489.5 L379.66,452.3 L383.51,452.3 L383.51,452.3 L387.37,452.3 L387.37,452.3 L391.23,452.3 L391.23,452.3 L395.09,452.3 L395.09,452.3 L398.94,452.3 L398.95,452.2 L402.8,452.2 L402.8,452 L406.66,452 L406.66,452 L410.52,452 L410.52,452 L414.38,452 L414.38,452 L418.23,452 L418.24,452.1 L422.09,452.1 L422.09,453 L425.95,453 L425.95,453.4 L429.81,453.4 L429.81,453.6 L433.67,453.6 L433.67,454.4 L437.52,454.4 L437.53,455.3 L441.38,455.3 L441.38,455.6 L445.24,455.6 L445.24,455.8 L449.1,455.8 L449.1,456.2 L452.96,456.2 L452.96,456.4 L456.81,456.4 L456.81,456.9 L460.67,456.9 L460.67,457.1 L464.53,457.1 L464.53,457.5 L468.39,457.5 L468.39,457.8 L472.25,457.8 L472.25,459.6 L476.1,459.6 L476.11,459.8 L479.96,459.8 L479.96,472.3 L483.82,472.3 L483.82,474.4 L487.68,474.4 L487.68,474.6 L491.54,474.6 L491.54,480.4 L495.39,480.4 L495.4,480.7 L499.25,480.7 L499.25,481.2 L503.11,481.2 L503.11,481.4 L506.97,481.4 L506.97,481.9 L510.83,481.9 L510.83,482.1 L514.68,482.1 L514.69,484.2 L518.54,484.2 L518.54,484.3 L522.4,484.3 L522.4,484.4 L526.26,484.4 L526.26,484.5 L530.12,484.5 L530.12,484.85 L533.98,484.85 L533.98,485.2 L537.83,485.2 L537.83,485.36 L541.69,485.36 L541.69,485.52 L545.55,485.52 L545.55,485.68 L549.41,485.68 L549.41,485.84 L553.26,485.84 L553.27,486 L557.12,486 L557.12,486.04 L560.98,486.04 L560.98,486.08 L564.84,486.08 L564.84,486.11 L568.7,486.11 L568.7,486.15 L572.55,486.15 L572.56,486.19 L576.41,486.19 L576.41,486.23 L580.27,486.23 L580.27,486.27 L584.13,486.27 L584.13,486.3 L587.99,486.3 L587.99,486.34 L591.85,486.34 L591.85,486.38 L595.7,486.38 L595.7,486.42 L599.56,486.42 L599.56,486.46 L603.42,486.46 L603.42,486.5 L607.28,486.5 L607.28,486.53 L611.13,486.53 L611.14,486.57 L614.99,486.57 L614.99,486.61 L618.85,486.61 L618.85,486.65 L622.71,486.65 L622.71,486.69 L626.57,486.69 L626.57,486.72 L630.43,486.72 L630.43,486.76 L634.28,486.76 L634.28,486.8 L638.14,486.8 L638.14,486.84 L642,486.84 L642,486.88 L645.86,486.88 L645.86,486.93 L649.72,486.93 L649.72,486.97 L653.57,486.97 L653.57,487.01 L657.43,487.01 L657.43,487.05 L661.29,487.05 L661.29,487.09 L665.15,487.09 L665.15,487.13 L669,487.13 L669.01,487.18 L672.86,487.18 L672.86,487.22 L676.72,487.22 L676.72,487.26 L680.58,487.26 L680.58,487.3 L684.44,487.3 L684.44,487.33 L688.3,487.33 L688.3,487.36 L692.15,487.36 L692.15,487.39 L696.01,487.39 L696.01,487.43 L699.87,487.43 L699.87,487.46 L703.73,487.46 L703.73,487.49 L707.59,487.49 L707.59,487.52 L711.44,487.52 L711.44,487.55 L715.3,487.55 L715.3,487.58 L719.16,487.58 L719.16,487.62 L723.02,487.62 L723.02,487.65 L726.88,487.65 L726.88,487.68 L730.73,487.68 L730.73,487.71 L734.59,487.71 L734.59,487.74 L738.45,487.74 L738.45,487.77 L742.31,487.77 L742.31,487.81 L746.17,487.81 L746.17,487.84 L750.02,487.84 L750.02,487.87 L753.88,487.87 L753.88,487.9 L757.74,487.9 L757.74,487.95 L761.6,487.95 L761.6,487.99 L765.46,487.99 L765.46,488.04 L769.31,488.04 L769.31,488.08 L773.17,488.08 L773.17,488.13 L777.03,488.13 L777.03,488.17 L780.89,488.17 L780.89,488.22 L784.75,488.22 L784.75,488.26 L788.6,488.26 L788.6,488.31 L792.46,488.31 L792.46,488.35 L796.32,488.35 L796.32,488.4 L800.18,488.4 L800.18,488.45 L804.04,488.45 L804.04,488.49 L807.89,488.49 L807.89,488.54 L811.75,488.54 L811.75,488.58 L815.61,488.58 L815.61,488.63 L819.47,488.63 L819.47,488.67 L823.33,488.67 L823.33,488.72 L827.18,488.72 L827.18,488.76 L831.04,488.76 L831.04,488.81 L834.9,488.81 L834.9,488.85 L838.76,488.85 L838.76,488.9 L842.62,488.9 L842.62,488.93 L846.47,488.93 L846.47,488.97 L850.33,488.97 L850.33,489 L854.19,489 L854.19,489.03 L858.05,489.03 L858.05,489.07 L861.91,489.07 L861.91,489.1 L865.76,489.1 L865.76,489.13 L869.62,489.13 L869.62,489.17 L873.48,489.17 L873.48,489.2 L877.34,489.2 L877.34,489.23 L881.2,489.23 L881.2,489.27 L885.05,489.27 L885.05,489.3 L888.91,489.3 L888.91,489.33 L892.77,489.33 L892.77,489.37 L896.63,489.37 L896.63,489.4 L900.49,489.4 L900.49,489.43 L904.34,489.43 L904.34,489.47 L908.2,489.47 L908.2,489.5 L912.06,489.5 L912.06,489.53 L915.92,489.53 L915.92,489.57 L919.78,489.57 L919.78,489.6 L923.63,489.6 L923.63,489.68 L927.49,489.68 L927.49,489.76 L931.35,489.76 L931.35,489.84 L935.21,489.84 L935.21,489.91 L939.07,489.91 L939.07,489.99 L942.92,489.99 L942.92,490.07 L946.78,490.07 L946.78,490.15 L950.64,490.15 L950.64,490.23 L954.5,490.23 L954.5,490.31 L958.36,490.31 L958.36,490.39 L962.21,490.39 L962.21,490.46 L966.07,490.46 L966.07,490.54 L969.93,490.54 L969.93,490.62 L973.79,490.62 L973.79,490.7 L977.65,490.7 L977.65,490.78 L981.5,490.78 L981.5,490.86 L985.36,490.86 L985.36,490.94 L989.22,490.94 L989.22,491.02 L993.08,491.02 L993.08,491.1 L996.94,491.1 L996.94,491.18 L1000.79,491.18 L1000.79,491.26 L1004.65,491.26 L1004.65,491.34 L1008.51,491.34 L1008.51,491.42 L1012.37,491.42 L1012.37,491.5 L1016.23,491.5 L1016.23,491.57 L1020.08,491.57 L1020.08,491.63 L1023.94,491.63 L1023.94,491.7 L1027.8,491.7 L1027.8,491.77 L1031.66,491.77 L1031.66,491.83 L1035.52,491.83 L1035.51,491.9 L1039.37,491.9 L1039.37,491.97 L1043.23,491.97 L1043.23,492.03 L1047.09,492.03 L1047.09,492.1 L1050.95,492.1 L1050.95,492.17 L1054.81,492.17 L1054.8,492.23 L1058.66,492.23 L1058.66,492.3 L1062.52,492.3 L1062.52,492.43 L1066.38,492.43 L1066.38,492.57 L1070.24,492.57 L1070.24,492.7 L1074.1,492.7 L1074.1,492.83 L1077.95,492.83 L1077.95,492.97 L1081.81,492.97 L1081.81,493.1 L1085.67,493.1 L1085.67,493.19 L1089.53,493.19 L1089.53,493.28 L1093.38,493.28 L1093.38,493.38 L1097.24,493.38 L1097.24,493.47 L1101.1,493.47 L1101.1,493.56 L1104.96,493.56 L1104.96,493.65 L1108.82,493.65 L1108.82,493.74 L1112.68,493.74 L1112.67,493.83 L1116.53,493.83 L1116.53,493.93 L1120.39,493.93 L1120.39,494.02 L1124.25,494.02 L1124.25,494.11 L1128.11,494.11 L1128.11,494.2 L1131.97,494.2 L1131.96,505.7 L1135.82,505.7 L1135.82,506.2 L1139.68,506.2 L1139.68,506.2 L1143.54,506.2 L1143.54,506.4 L1147.4,506.4 L1147.4,508.1 L1151.26,508.1 L1151.25,508.2 L1155.11,508.2 L1155.11,696.5Z" fill="#ffaa00"/>
<path d="M98.02,696.5V571.2H101.88V696.5M101.88,696.5V570.98H105.74V696.5M105.74,696.5V570.75H109.59V696.5M109.59,696.5V570.52H113.45V696.5M113.45,696.5V570.3H117.31V696.5M117.31,696.5V570.02H121.17V696.5M121.17,696.5V569.73H125.03V696.5M125.03,696.5V569.45H128.88V696.5M128.88,696.5V569.17H132.74V696.5M132.74,696.5V568.88H136.6V696.5M136.6,696.5V568.6H140.46V696.5M140.46,696.5V568.36H144.32V696.5M144.32,696.5V568.12H148.18V696.5M148.18,696.5V567.88H152.03V696.5M152.03,696.5V567.64H155.89V696.5M155.89,696.5V567.4H159.75V696.5M159.75,696.5V566.6H163.61V696.5M163.61,696.5V565.4H167.47V696.5M167.47,696.5V564.75H171.32V696.5M171.32,696.5V564.1H175.18V696.5M175.18,696.5V562.8H179.04V696.5M179.04,696.5V561.6H182.9V696.5M182.9,696.5V560.7H186.76V696.5M186.76,696.5V560.3H190.61V696.5M190.61,696.5V559.93H194.47V696.5M194.47,696.5V559.57H198.33V696.5M198.33,696.5V559.2H202.19V696.5M202.19,696.5V558.85H206.04V696.5M206.04,696.5V558.5H209.9V696.5M209.9,696.5V558.15H213.76V696.5M213.76,696.5V557.8H217.62V696.5M217.62,696.5V557.45H221.48V696.5M221.48,696.5V557.1H225.34V696.5M225.34,696.5V556.87H229.19V696.5M229.19,696.5V556.63H233.05V696.5M233.05,696.5V556.4H236.91V696.5M236.91,696.5V554.7H240.77V696.5M240.77,696.5V554.23H244.63V696.5M244.63,696.5V553.75H248.48V696.5M248.48,696.5V553.27H252.34V696.5M252.34,696.5V552.8H256.2V696.5M256.2,696.5V552.4H260.06V696.5M260.06,696.5V552H263.91V696.5M263.92,696.5V551.6H267.77V696.5M267.77,696.5V551.2H271.63V696.5M271.63,696.5V550.8H275.49V696.5M275.49,696.5V550.53H279.35V696.5M279.35,696.5V550.27H283.2V696.5M283.21,696.5V550H287.06V696.5M287.06,696.5V549.73H290.92V696.5M290.92,696.5V549.47H294.78V696.5M294.78,696.5V549.2H298.64V696.5M298.64,696.5V548.78H302.5V696.5M302.5,696.5V548.36H306.35V696.5M306.35,696.5V547.94H310.21V696.5M310.21,696.5V547.52H314.07V696.5M314.07,696.5V547.1H317.93V696.5M317.93,696.5V546.73H321.78V696.5M321.79,696.5V546.37H325.64V696.5M325.64,696.5V546H329.5V696.5M329.5,696.5V545.5H333.36V696.5M333.36,696.5V544.3H337.22V696.5M337.22,696.5V542.9H341.07V696.5M341.08,696.5V542.2H344.93V696.5M344.93,696.5V533.5H348.79V696.5M348.79,696.5V530.4H352.65V696.5M352.65,696.5V529.6H356.51V696.5M356.51,696.5V528.6H360.36V696.5M360.37,696.5V499.4H364.22V696.5M364.22,696.5V492.2H368.08V696.5M368.08,696.5V491.5H371.94V696.5M371.94,696.5V490.2H375.8V696.5M375.8,696.5V489.5H379.65V696.5M379.66,696.5V452.3H383.51V696.5M383.51,696.5V452.3H387.37V696.5M387.37,696.5V452.3H391.23V696.5M391.23,696.5V452.3H395.09V696.5M395.09,696.5V452.3H398.94V696.5M398.95,696.5V452.2H402.8V696.5M402.8,696.5V452H406.66V696.5M406.66,696.5V452H410.52V696.5M410.52,696.5V452H414.38V696.5M414.38,696.5V452H418.23V696.5M418.24,696.5V452.1H422.09V696.5M422.09,696.5V453H425.95V696.5M425.95,696.5V453.4H429.81V696.5M429.81,696.5V453.6H433.67V696.5M433.67,696.5V454.4H437.52V696.5M437.53,696.5V455.3H441.38V696.5M441.38,696.5V455.6H445.24V696.5M445.24,696.5V455.8H449.1V696.5M449.1,696.5V456.2H452.96V696.5M452.96,696.5V456.4H456.81V696.5M456.81,696.5V456.9H460.67V696.5M460.67,696.5V457.1H464.53V696.5M464.53,696.5V457.5H468.39V696.5M468.39,696.5V457.8H472.25V696.5M472.25,696.5V459.6H476.1V696.5M476.11,696.5V459.8H479.96V696.5M479.96,696.5V472.3H483.82V696.5M483.82,696.5V474.4H487.68V696.5M487.68,696.5V474.6H491.54V696.5M491.54,696.5V480.4H495.39V696.5M495.4,696.5V480.7H499.25V696.5M499.25,696.5V481.2H503.11V696.5M503.11,696.5V481.4H506.97V696.5M506.97,696.5V481.9H510.83V696.5M510.83,696.5V482.1H514.68V696.5M514.69,696.5V484.2H518.54V696.5M518.54,696.5V484.3H522.4V696.5M522.4,696.5V484.4H526.26V696.5M526.26,696.5V484.5H530.12V696.5M530.12,696.5V484.85H533.98V696.5M533.98,696.5V485.2H537.83V696.5M537.83,696.5V485.36H541.69V696.5M541.69,696.5V485.52H545.55V696.5M545.55,696.5V485.68H549.41V696.5M549.41,696.5V485.84H553.26V696.5M553.27,696.5V486H557.12V696.5M557.12,696.5V486.04H560.98V696.5M560.98,696.5V486.08H564.84V696.5M564.84,696.5V486.11H568.7V696.5M568.7,696.5V486.15H572.55V696.5M572.56,696.5V486.19H576.41V696.5M576.41,696.5V486.23H580.27V696.5M580.27,696.5V486.27H584.13V696.5M584.13,696.5V486.3H587.99V696.5M587.99,696.5V486.34H591.85V696.5M591.85,696.5V486.38H595.7V696.5M595.7,696.5V486.42H599.56V696.5M599.56,696.5V486.46H603.42V696.5M603.42,696.5V486.5H607.28V696.5M607.28,696.5V486.53H611.13V696.5M611.14,696.5V486.57H614.99V696.5M614.99,696.5V486.61H618.85V696.5M618.85,696.5V486.65H622.71V696.5M622.71,696.5V486.69H626.57V696.5M626.57,696.5V486.72H630.43V696.5M630.43,696.5V486.76H634.28V696.5M634.28,696.5V486.8H638.14V696.5M638.14,696.5V486.84H642V696.5M642,696.5V486.88H645.86V696.5M645.86,696.5V486.93H649.72V696.5M649.72,696.5V486.97H653.57V696.5M653.57,696.5V487.01H657.43V696.5M657.43,696.5V487.05H661.29V696.5M661.29,696.5V487.09H665.15V696.5M665.15,696.5V487.13H669V696.5M669.01,696.5V487.18H672.86V696.5M672.86,696.5V487.22H676.72V696.5M676.72,696.5V487.26H680.58V696.5M680.58,696.5V487.3H684.44V696.5M684.44,696.5V487.33H688.3V696.5M688.3,696.5V487.36H692.15V696.5M692.15,696.5V487.39H696.01V696.5M696.01,696.5V487.43H699.87V696.5M699.87,696.5V487.46H703.73V696.5M703.73,696.5V487.49H707.59V696.5M707.59,696.5V487.52H711.44V696.5M711.44,696.5V487.55H715.3V696.5M715.3,696.5V487.58H719.16V696.5M719.16,696.5V487.62H723.02V696.5M723.02,696.5V487.65H726.88V696.5M726.88,696.5V487.68H730.73V696.5M730.73,696.5V487.71H734.59V696.5M734.59,696.5V487.74H738.45V696.5M738.45,696.5V487.77H742.31V696.5M742.31,696.5V487.81H746.17V696.5M746.17,696.5V487.84H750.02V696.5M750.02,696.5V487.87H753.88V696.5M753.88,696.5V487.9H757.74V696.5M757.74,696.5V487.95H761.6V696.5M761.6,696.5V487.99H765.46V696.5M765.46,696.5V488.04H769.31V696.5M769.31,696.5V488.08H773.17V696.5M773.17,696.5V488.13H777.03V696.5M777.03,696.5V488.17H780.89V696.5M780.89,696.5V488.22H784.75V696.5M784.75,696.5V488.26H788.6V696.5M788.6,696.5V488.31H792.46V696.5M792.46,696.5V488.35H796.32V696.5M796.32,696.5V488.4H800.18V696.5M800.18,696.5V488.45H804.04V696.5M804.04,696.5V488.49H807.89V696.5M807.89,696.5V488.54H811.75V696.5M811.75,696.5V488.58H815.61V696.5M815.61,696.5V488.63H819.47V696.5M819.47,696.5V488.67H823.33V696.5M823.33,696.5V488.72H827.18V696.5M827.18,696.5V488.76H831.04V696.5M831.04,696.5V488.81H834.9V696.5M834.9,696.5V488.85H838.76V696.5M838.76,696.5V488.9H842.62V696.5M842.62,696.5V488.93H846.47V696.5M846.47,696.5V488.97H850.33V696.5M850.33,696.5V489H854.19V696.5M854.19,696.5V489.03H858.05V696.5M858.05,696.5V489.07H861.91V696.5M861.91,696.5V489.1H865.76V696.5M865.76,696.5V489.13H869.62V696.5M869.62,696.5V489.17H873.48V696.5M873.48,696.5V489.2H877.34V696.5M877.34,696.5V489.23H881.2V696.5M881.2,696.5V489.27H885.05V696.5M885.05,696.5V489.3H888.91V696.5M888.91,696.5V489.33H892.77V696.5M892.77,696.5V489.37H896.63V696.5M896.63,696.5V489.4H900.49V696.5M900.49,696.5V489.43H904.34V696.5M904.34,696.5V489.47H908.2V696.5M908.2,696.5V489.5H912.06V696.5M912.06,696.5V489.53H915.92V696.5M915.92,696.5V489.57H919.78V696.5M919.78,696.5V489.6H923.63V696.5M923.63,696.5V489.68H927.49V696.5M927.49,696.5V489.76H931.35V696.5M931.35,696.5V489.84H935.21V696.5M935.21,696.5V489.91H939.07V696.5M939.07,696.5V489.99H942.92V696.5M942.92,696.5V490.07H946.78V696.5M946.78,696.5V490.15H950.64V696.5M950.64,696.5V490.23H954.5V696.5M954.5,696.5V490.31H958.36V696.5M958.36,696.5V490.39H962.21V696.5M962.21,696.5V490.46H966.07V696.5M966.07,696.5V490.54H969.93V696.5M969.93,696.5V490.62H973.79V696.5M973.79,696.5V490.7H977.65V696.5M977.65,696.5V490.78H981.5V696.5M981.5,696.5V490.86H985.36V696.5M985.36,696.5V490.94H989.22V696.5M989.22,696.5V491.02H993.08V696.5M993.08,696.5V491.1H996.94V696.5M996.94,696.5V491.18H1000.79V696.5M1000.79,696.5V491.26H1004.65V696.5M1004.65,696.5V491.34H1008.51V696.5M1008.51,696.5V491.42H1012.37V696.5M1012.37,696.5V491.5H1016.23V696.5M1016.23,696.5V491.57H1020.08V696.5M1020.08,696.5V491.63H1023.94V696.5M1023.94,696.5V491.7H1027.8V696.5M1027.8,696.5V491.77H1031.66V696.5M1031.66,696.5V491.83H1035.52V696.5M1035.51,696.5V491.9H1039.37V696.5M1039.37,696.5V491.97H1043.23V696.5M1043.23,696.5V492.03H1047.09V696.5M1047.09,696.5V492.1H1050.95V696.5M1050.95,696.5V492.17H1054.81V696.5M1054.8,696.5V492.23H1058.66V696.5M1058.66,696.5V492.3H1062.52V696.5M1062.52,696.5V492.43H1066.38V696.5M1066.38,696.5V492.57H1070.24V696.5M1070.24,696.5V492.7H1074.1V696.5M1074.1,696.5V492.83H1077.95V696.5M1077.95,696.5V492.97H1081.81V696.5M1081.81,696.5V493.1H1085.67V696.5M1085.67,696.5V493.19H1089.53V696.5M1089.53,696.5V493.28H1093.38V696.5M1093.38,696.5V493.38H1097.24V696.5M1097.24,696.5V493.47H1101.1V696.5M1101.1,696.5V493.56H1104.96V696.5M1104.96,696.5V493.65H1108.82V696.5M1108.82,696.5V493.74H1112.68V696.5M1112.67,696.5V493.83H1116.53V696.5M1116.53,696.5V493.93H1120.39V696.5M1120.39,696.5V494.02H1124.25V696.5M1124.25,696.5V494.11H1128.11V696.5M1128.11,696.5V494.2H1131.97V696.5M1131.96,696.5V505.7H1135.82V696.5M1135.82,696.5V506.2H1139.68V696.5M1139.68,696.5V506.2H1143.54V696.5M1143.54,696.5V506.4H1147.4V696.5M1147.4,696.5V508.1H1151.26V696.5M1151.25,696.5V508.2H1155.11V696.5" fill="none" stroke="#000" stroke-width="0.95"/>
</g>
<rect x="99.95" y="420.3" width="1053.85" height="276.2" fill="none" stroke="#000" stroke-width="2"/>
<line x1="99.95" y1="420.3" x2="93.95" y2="420.3" stroke="#000" stroke-width="1.9"/>
<line x1="1153.8" y1="420.3" x2="1158.8" y2="420.3" stroke="#000" stroke-width="1.9"/>
<text transform="translate(78.2 426) scale(1 1.07)" font-size="15.3" text-anchor="end">1.00</text>
<line x1="99.95" y1="475.54" x2="93.95" y2="475.54" stroke="#000" stroke-width="1.9"/>
<line x1="1153.8" y1="475.54" x2="1158.8" y2="475.54" stroke="#000" stroke-width="1.9"/>
<text transform="translate(78.2 481.24) scale(1 1.07)" font-size="15.3" text-anchor="end">0.98</text>
<line x1="99.95" y1="530.78" x2="93.95" y2="530.78" stroke="#000" stroke-width="1.9"/>
<line x1="1153.8" y1="530.78" x2="1158.8" y2="530.78" stroke="#000" stroke-width="1.9"/>
<text transform="translate(78.2 536.48) scale(1 1.07)" font-size="15.3" text-anchor="end">0.96</text>
<line x1="99.95" y1="586.02" x2="93.95" y2="586.02" stroke="#000" stroke-width="1.9"/>
<line x1="1153.8" y1="586.02" x2="1158.8" y2="586.02" stroke="#000" stroke-width="1.9"/>
<text transform="translate(78.2 591.72) scale(1 1.07)" font-size="15.3" text-anchor="end">0.94</text>
<line x1="99.95" y1="641.26" x2="93.95" y2="641.26" stroke="#000" stroke-width="1.9"/>
<line x1="1153.8" y1="641.26" x2="1158.8" y2="641.26" stroke="#000" stroke-width="1.9"/>
<text transform="translate(78.2 646.96) scale(1 1.07)" font-size="15.3" text-anchor="end">0.92</text>
<line x1="99.95" y1="696.5" x2="93.95" y2="696.5" stroke="#000" stroke-width="1.9"/>
<line x1="1153.8" y1="696.5" x2="1158.8" y2="696.5" stroke="#000" stroke-width="1.9"/>
<text transform="translate(78.2 702.2) scale(1 1.07)" font-size="15.3" text-anchor="end">0.90</text>
<line x1="134.67" y1="420.3" x2="134.67" y2="415.3" stroke="#000" stroke-width="1.7"/>
<line x1="134.67" y1="696.5" x2="134.67" y2="701.7" stroke="#000" stroke-width="1.7"/>
<text transform="translate(134.67 730.5) scale(1 1.12)" font-size="15.5" text-anchor="middle">10</text>
<line x1="173.25" y1="420.3" x2="173.25" y2="415.3" stroke="#000" stroke-width="1.7"/>
<line x1="173.25" y1="696.5" x2="173.25" y2="701.7" stroke="#000" stroke-width="1.7"/>
<text transform="translate(173.25 730.5) scale(1 1.12)" font-size="15.5" text-anchor="middle">20</text>
<line x1="211.83" y1="420.3" x2="211.83" y2="415.3" stroke="#000" stroke-width="1.7"/>
<line x1="211.83" y1="696.5" x2="211.83" y2="701.7" stroke="#000" stroke-width="1.7"/>
<text transform="translate(211.83 730.5) scale(1 1.12)" font-size="15.5" text-anchor="middle">30</text>
<line x1="250.41" y1="420.3" x2="250.41" y2="415.3" stroke="#000" stroke-width="1.7"/>
<line x1="250.41" y1="696.5" x2="250.41" y2="701.7" stroke="#000" stroke-width="1.7"/>
<text transform="translate(250.41 730.5) scale(1 1.12)" font-size="15.5" text-anchor="middle">40</text>
<line x1="288.99" y1="420.3" x2="288.99" y2="415.3" stroke="#000" stroke-width="1.7"/>
<line x1="288.99" y1="696.5" x2="288.99" y2="701.7" stroke="#000" stroke-width="1.7"/>
<text transform="translate(288.99 730.5) scale(1 1.12)" font-size="15.5" text-anchor="middle">50</text>
<line x1="327.57" y1="420.3" x2="327.57" y2="415.3" stroke="#000" stroke-width="1.7"/>
<line x1="327.57" y1="696.5" x2="327.57" y2="701.7" stroke="#000" stroke-width="1.7"/>
<text transform="translate(327.57 730.5) scale(1 1.12)" font-size="15.5" text-anchor="middle">60</text>
<line x1="366.15" y1="420.3" x2="366.15" y2="415.3" stroke="#000" stroke-width="1.7"/>
<line x1="366.15" y1="696.5" x2="366.15" y2="701.7" stroke="#000" stroke-width="1.7"/>
<text transform="translate(366.15 730.5) scale(1 1.12)" font-size="15.5" text-anchor="middle">70</text>
<line x1="404.73" y1="420.3" x2="404.73" y2="415.3" stroke="#000" stroke-width="1.7"/>
<line x1="404.73" y1="696.5" x2="404.73" y2="701.7" stroke="#000" stroke-width="1.7"/>
<text transform="translate(404.73 730.5) scale(1 1.12)" font-size="15.5" text-anchor="middle">80</text>
<line x1="443.31" y1="420.3" x2="443.31" y2="415.3" stroke="#000" stroke-width="1.7"/>
<line x1="443.31" y1="696.5" x2="443.31" y2="701.7" stroke="#000" stroke-width="1.7"/>
<text transform="translate(443.31 730.5) scale(1 1.12)" font-size="15.5" text-anchor="middle">90</text>
<line x1="481.89" y1="420.3" x2="481.89" y2="415.3" stroke="#000" stroke-width="1.7"/>
<line x1="481.89" y1="696.5" x2="481.89" y2="701.7" stroke="#000" stroke-width="1.7"/>
<text transform="translate(481.89 730.5) scale(1 1.12)" font-size="15.5" text-anchor="middle">100</text>
<line x1="520.47" y1="420.3" x2="520.47" y2="415.3" stroke="#000" stroke-width="1.7"/>
<line x1="520.47" y1="696.5" x2="520.47" y2="701.7" stroke="#000" stroke-width="1.7"/>
<text transform="translate(520.47 730.5) scale(1 1.12)" font-size="15.5" text-anchor="middle">110</text>
<line x1="559.05" y1="420.3" x2="559.05" y2="415.3" stroke="#000" stroke-width="1.7"/>
<line x1="559.05" y1="696.5" x2="559.05" y2="701.7" stroke="#000" stroke-width="1.7"/>
<text transform="translate(559.05 730.5) scale(1 1.12)" font-size="15.5" text-anchor="middle">120</text>
<line x1="597.63" y1="420.3" x2="597.63" y2="415.3" stroke="#000" stroke-width="1.7"/>
<line x1="597.63" y1="696.5" x2="597.63" y2="701.7" stroke="#000" stroke-width="1.7"/>
<text transform="translate(597.63 730.5) scale(1 1.12)" font-size="15.5" text-anchor="middle">130</text>
<line x1="636.21" y1="420.3" x2="636.21" y2="415.3" stroke="#000" stroke-width="1.7"/>
<line x1="636.21" y1="696.5" x2="636.21" y2="701.7" stroke="#000" stroke-width="1.7"/>
<text transform="translate(636.21 730.5) scale(1 1.12)" font-size="15.5" text-anchor="middle">140</text>
<line x1="674.79" y1="420.3" x2="674.79" y2="415.3" stroke="#000" stroke-width="1.7"/>
<line x1="674.79" y1="696.5" x2="674.79" y2="701.7" stroke="#000" stroke-width="1.7"/>
<text transform="translate(674.79 730.5) scale(1 1.12)" font-size="15.5" text-anchor="middle">150</text>
<line x1="713.37" y1="420.3" x2="713.37" y2="415.3" stroke="#000" stroke-width="1.7"/>
<line x1="713.37" y1="696.5" x2="713.37" y2="701.7" stroke="#000" stroke-width="1.7"/>
<text transform="translate(713.37 730.5) scale(1 1.12)" font-size="15.5" text-anchor="middle">160</text>
<line x1="751.95" y1="420.3" x2="751.95" y2="415.3" stroke="#000" stroke-width="1.7"/>
<line x1="751.95" y1="696.5" x2="751.95" y2="701.7" stroke="#000" stroke-width="1.7"/>
<text transform="translate(751.95 730.5) scale(1 1.12)" font-size="15.5" text-anchor="middle">170</text>
<line x1="790.53" y1="420.3" x2="790.53" y2="415.3" stroke="#000" stroke-width="1.7"/>
<line x1="790.53" y1="696.5" x2="790.53" y2="701.7" stroke="#000" stroke-width="1.7"/>
<text transform="translate(790.53 730.5) scale(1 1.12)" font-size="15.5" text-anchor="middle">180</text>
<line x1="829.11" y1="420.3" x2="829.11" y2="415.3" stroke="#000" stroke-width="1.7"/>
<line x1="829.11" y1="696.5" x2="829.11" y2="701.7" stroke="#000" stroke-width="1.7"/>
<text transform="translate(829.11 730.5) scale(1 1.12)" font-size="15.5" text-anchor="middle">190</text>
<line x1="867.69" y1="420.3" x2="867.69" y2="415.3" stroke="#000" stroke-width="1.7"/>
<line x1="867.69" y1="696.5" x2="867.69" y2="701.7" stroke="#000" stroke-width="1.7"/>
<text transform="translate(867.69 730.5) scale(1 1.12)" font-size="15.5" text-anchor="middle">200</text>
<line x1="906.27" y1="420.3" x2="906.27" y2="415.3" stroke="#000" stroke-width="1.7"/>
<line x1="906.27" y1="696.5" x2="906.27" y2="701.7" stroke="#000" stroke-width="1.7"/>
<text transform="translate(906.27 730.5) scale(1 1.12)" font-size="15.5" text-anchor="middle">210</text>
<line x1="944.85" y1="420.3" x2="944.85" y2="415.3" stroke="#000" stroke-width="1.7"/>
<line x1="944.85" y1="696.5" x2="944.85" y2="701.7" stroke="#000" stroke-width="1.7"/>
<text transform="translate(944.85 730.5) scale(1 1.12)" font-size="15.5" text-anchor="middle">220</text>
<line x1="983.43" y1="420.3" x2="983.43" y2="415.3" stroke="#000" stroke-width="1.7"/>
<line x1="983.43" y1="696.5" x2="983.43" y2="701.7" stroke="#000" stroke-width="1.7"/>
<text transform="translate(983.43 730.5) scale(1 1.12)" font-size="15.5" text-anchor="middle">230</text>
<line x1="1022.01" y1="420.3" x2="1022.01" y2="415.3" stroke="#000" stroke-width="1.7"/>
<line x1="1022.01" y1="696.5" x2="1022.01" y2="701.7" stroke="#000" stroke-width="1.7"/>
<text transform="translate(1022.01 730.5) scale(1 1.12)" font-size="15.5" text-anchor="middle">240</text>
<line x1="1060.59" y1="420.3" x2="1060.59" y2="415.3" stroke="#000" stroke-width="1.7"/>
<line x1="1060.59" y1="696.5" x2="1060.59" y2="701.7" stroke="#000" stroke-width="1.7"/>
<text transform="translate(1060.59 730.5) scale(1 1.12)" font-size="15.5" text-anchor="middle">250</text>
<line x1="1099.17" y1="420.3" x2="1099.17" y2="415.3" stroke="#000" stroke-width="1.7"/>
<line x1="1099.17" y1="696.5" x2="1099.17" y2="701.7" stroke="#000" stroke-width="1.7"/>
<text transform="translate(1099.17 730.5) scale(1 1.12)" font-size="15.5" text-anchor="middle">260</text>
<line x1="1137.75" y1="420.3" x2="1137.75" y2="415.3" stroke="#000" stroke-width="1.7"/>
<line x1="1137.75" y1="696.5" x2="1137.75" y2="701.7" stroke="#000" stroke-width="1.7"/>
<text transform="translate(1137.75 730.5) scale(1 1.12)" font-size="15.5" text-anchor="middle">270</text>
<text transform="translate(627 758.2) scale(1 1.07)" font-size="19" text-anchor="middle">Channel NO.</text>
<text transform="translate(32.4 558.6) rotate(-90) scale(1 1.07)" font-size="19" text-anchor="middle">Emissivity</text>
<text transform="translate(125.4 442) scale(1.06 1.14)" font-size="18.4">d)</text>
</g>
</svg>
</body></html>
